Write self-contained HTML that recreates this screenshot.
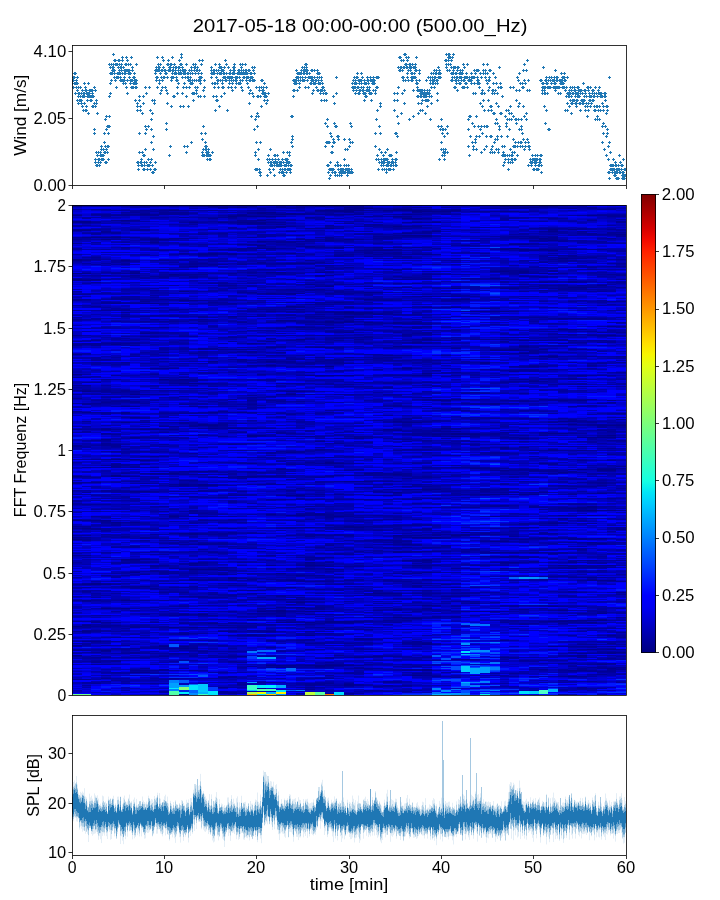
<!DOCTYPE html><html><head><meta charset="utf-8"><style>html,body{margin:0;padding:0;background:#fff;}svg{display:block;}text{font-family:"Liberation Sans",sans-serif;fill:#000;}</style></head><body>
<svg style="will-change:transform" width="720" height="900" viewBox="0 0 720 900">
<rect width="720" height="900" fill="#fff"/>
<text x="192.68" y="31.80" font-size="19.08" textLength="334.74" lengthAdjust="spacingAndGlyphs">2017-05-18 00:00-00:00 (500.00_Hz)</text>
<g shape-rendering="crispEdges">
<rect x="72" y="205" width="10" height="490" fill="#0000b5"/>
<path d="M77.0 205v490" stroke="#00008a" stroke-width="10" stroke-dasharray="2 14 2 7 1 28 2 12 1 5 2 73 1 19 1 2 1 98 1 43 1 18 1 86 1 18 1 9 1 490"/>
<path d="M77.0 205v490" stroke="#000095" stroke-width="10" stroke-dasharray="0 10 1 13 1 7 1 1 1 3 1 50 1 4 2 9 1 8 1 15 1 5 1 2 2 39 1 4 1 3 1 3 1 12 1 17 1 15 2 35 2 42 1 1 1 6 1 1 1 17 1 28 1 15 1 20 1 9 1 14 1 3 1 28 1 490"/>
<path d="M77.0 205v490" stroke="#00009f" stroke-width="10" stroke-dasharray="0 4 1 15 2 11 1 9 2 4 1 6 1 16 1 12 1 13 1 9 1 1 1 2 1 22 1 43 1 15 1 8 1 19 1 26 1 2 1 14 1 12 1 3 1 5 2 1 2 14 1 11 1 6 1 14 1 8 1 14 1 9 1 8 1 30 1 13 1 1 1 5 1 3 1 2 1 490"/>
<path d="M77.0 205v490" stroke="#0000aa" stroke-width="10" stroke-dasharray="0 9 1 16 1 8 1 21 1 12 1 13 1 3 1 3 1 27 1 27 1 3 2 12 2 2 1 6 1 5 1 2 1 14 2 18 1 20 2 26 1 4 1 10 1 5 1 10 1 3 1 14 1 12 1 22 1 7 1 13 1 2 1 2 1 14 2 4 1 3 1 11 1 8 1 14 1 5 1 2 2 1 1 25 1 490"/>
<path d="M77.0 205v490" stroke="#0000bf" stroke-width="10" stroke-dasharray="0 2 1 63 1 2 1 26 1 5 1 13 1 9 4 2 1 2 1 28 1 3 1 2 1 19 1 24 3 15 1 4 1 9 2 1 1 6 1 3 1 2 1 20 1 9 1 33 1 6 1 13 1 10 1 9 1 13 1 1 1 15 1 13 1 48 1 4 1 13 1 490"/>
<path d="M77.0 205v490" stroke="#0000ca" stroke-width="10" stroke-dasharray="0 5 2 4 1 3 1 21 1 2 1 1 1 2 1 4 1 1 2 5 1 17 1 1 1 13 1 7 1 53 1 7 1 15 1 8 1 1 1 35 1 3 1 29 1 6 1 5 1 14 1 40 1 10 1 4 1 3 1 3 1 6 1 7 1 30 1 15 1 67 1 490"/>
<path d="M77.0 205v490" stroke="#0000d4" stroke-width="10" stroke-dasharray="0 3 1 23 2 10 1 11 1 45 1 21 1 75 2 7 1 15 1 4 1 5 1 4 1 14 1 4 1 22 1 21 2 9 1 12 1 16 2 32 1 11 1 11 1 23 2 5 1 7 1 3 1 21 1 5 1 7 1 1 1 490"/>
<path d="M77.0 205v490" stroke="#0000df" stroke-width="10" stroke-dasharray="0 7 2 4 1 5 1 11 1 28 1 4 1 12 1 2 1 51 1 9 1 7 1 8 2 35 1 11 1 27 1 71 1 71 1 24 1 82 1 490"/>
<path d="M77.0 205v490" stroke="#0000ea" stroke-width="10" stroke-dasharray="0 22 2 5 1 16 1 17 1 2 1 8 1 30 1 10 1 3 1 1 1 22 1 51 1 19 1 9 1 31 1 3 1 10 1 5 1 10 1 22 1 37 1 16 1 12 1 19 1 62 1 12 1 3 1 490"/>
<path d="M77.0 205v490" stroke="#0000f4" stroke-width="10" stroke-dasharray="0 41 1 6 1 31 1 17 1 12 1 13 1 79 1 9 1 89 1 2 1 9 1 18 1 24 1 2 1 1 1 81 1 4 1 7 1 19 1 490"/>
<path d="M77.0 205v490" stroke="#0000ff" stroke-width="10" stroke-dasharray="0 14 1 32 1 14 1 9 1 9 2 1 1 13 1 4 1 1 1 1 1 8 1 19 1 6 1 11 1 2 1 14 2 11 1 15 1 7 4 7 1 5 1 17 1 6 1 1 1 8 1 4 1 14 1 9 1 9 1 5 1 2 1 3 1 10 1 7 1 7 1 19 1 4 1 4 2 1 1 12 1 2 1 3 2 18 2 10 1 4 1 2 1 4 1 3 1 17 1 490"/>
<path d="M77.0 205v490" stroke="#0000ff" stroke-width="10" stroke-dasharray="0 30 1 30 1 1 1 26 1 12 1 17 1 12 1 19 1 7 1 10 1 26 1 46 2 19 1 5 1 5 2 8 1 48 1 1 1 4 1 62 1 3 2 15 1 27 1 1 2 8 1 4 2 11 1 490"/>
<path d="M77.0 205v490" stroke="#0019ff" stroke-width="10" stroke-dasharray="0 145 2 85 2 11 1 490"/>
<rect x="82" y="205" width="9" height="490" fill="#0000ff"/>
<path d="M86.5 205v490" stroke="#00008a" stroke-width="9" stroke-dasharray="0 16 2 7 1 6 1 35 1 6 1 110 1 20 1 107 1 7 1 55 1 15 1 24 1 5 1 9 1 490"/>
<path d="M86.5 205v490" stroke="#000095" stroke-width="9" stroke-dasharray="0 24 1 29 2 18 1 14 1 4 1 43 2 32 1 4 1 2 1 4 1 12 2 16 1 45 1 8 1 5 1 9 1 11 1 21 1 8 1 1 1 1 2 14 1 27 1 3 1 3 1 9 1 19 1 2 1 1 2 2 1 1 1 17 1 28 1 490"/>
<path d="M86.5 205v490" stroke="#00009f" stroke-width="9" stroke-dasharray="0 1 1 10 2 4 1 1 1 7 1 4 2 17 1 5 1 11 1 7 1 16 1 4 1 13 1 11 1 3 1 4 1 12 2 19 1 14 1 36 1 2 1 1 2 7 1 5 2 11 1 17 1 12 1 3 1 32 1 1 1 8 1 18 1 32 1 1 1 50 3 6 1 4 2 2 1 20 2 1 1 490"/>
<path d="M86.5 205v490" stroke="#0000aa" stroke-width="9" stroke-dasharray="1 26 1 16 1 22 1 5 1 14 1 2 1 9 2 2 1 9 1 7 1 12 1 3 1 11 2 3 1 23 3 4 2 12 1 5 1 9 1 4 1 12 1 1 3 10 1 14 2 5 1 7 1 4 1 8 1 4 1 5 1 7 1 11 1 20 1 6 1 4 1 20 1 54 1 8 1 6 1 30 1 490"/>
<path d="M86.5 205v490" stroke="#0000b5" stroke-width="9" stroke-dasharray="0 4 1 30 2 1 1 10 1 3 1 2 1 2 1 6 1 4 1 5 1 18 1 13 2 20 1 25 1 5 1 2 1 3 1 22 1 11 1 10 1 4 1 27 1 9 1 55 1 8 1 29 4 3 2 27 1 12 1 5 2 11 1 4 1 12 1 12 2 3 1 490"/>
<path d="M86.5 205v490" stroke="#0000bf" stroke-width="9" stroke-dasharray="0 19 1 1 1 75 1 14 1 18 1 10 1 12 1 7 1 2 1 1 1 7 1 15 2 2 1 28 1 18 1 11 2 20 1 17 1 1 1 30 1 12 1 5 1 2 1 9 1 9 2 15 1 44 1 14 1 8 1 13 1 9 1 490"/>
<path d="M86.5 205v490" stroke="#0000ca" stroke-width="9" stroke-dasharray="0 9 2 15 1 4 1 19 1 5 1 2 1 11 1 6 1 27 1 1 1 9 1 21 1 17 1 27 1 7 1 1 1 3 1 44 1 2 1 2 1 6 1 10 1 20 1 2 1 7 1 17 1 6 1 8 1 4 1 1 1 1 1 29 1 16 1 4 1 3 2 9 1 18 1 11 1 19 1 2 1 12 1 4 1 490"/>
<path d="M86.5 205v490" stroke="#0000d4" stroke-width="9" stroke-dasharray="0 15 1 26 1 33 1 22 1 13 1 6 1 29 1 14 1 43 1 4 1 22 1 73 1 19 1 17 1 10 1 15 1 6 1 5 1 4 1 3 1 6 1 2 1 6 1 16 1 4 1 12 1 21 1 13 2 490"/>
<path d="M86.5 205v490" stroke="#0000df" stroke-width="9" stroke-dasharray="0 2 1 2 1 2 1 14 1 5 1 11 1 27 1 20 1 17 1 7 1 37 1 6 1 38 1 14 1 3 1 14 1 10 1 7 1 9 1 19 1 9 1 7 1 1 2 33 1 1 1 12 1 14 1 1 1 2 1 3 1 25 1 2 2 16 1 40 1 17 1 1 1 490"/>
<path d="M86.5 205v490" stroke="#0000ea" stroke-width="9" stroke-dasharray="0 3 1 2 1 4 1 27 1 3 1 18 1 21 1 13 1 52 1 18 1 8 1 11 1 19 1 8 1 8 2 12 1 17 1 7 1 20 1 6 1 14 2 5 1 79 1 17 1 28 1 15 1 4 1 5 1 490"/>
<path d="M86.5 205v490" stroke="#0000f4" stroke-width="9" stroke-dasharray="0 7 1 6 1 15 1 6 1 2 1 45 1 5 1 67 1 97 1 16 2 5 1 98 1 79 1 6 1 490"/>
<path d="M86.5 205v490" stroke="#0000ff" stroke-width="9" stroke-dasharray="0 22 1 25 1 12 1 18 2 1 1 9 1 23 2 9 1 5 1 40 1 28 1 28 1 14 1 19 1 10 1 29 1 8 1 18 1 6 1 22 1 1 1 14 1 5 1 18 1 3 1 4 1 15 1 14 1 14 1 4 2 4 2 11 2 490"/>
<path d="M86.5 205v490" stroke="#0019ff" stroke-width="9" stroke-dasharray="0 64 1 80 2 85 1 106 1 102 1 490"/>
<rect x="91" y="205" width="10" height="490" fill="#0000b5"/>
<path d="M96.0 205v490" stroke="#00008a" stroke-width="10" stroke-dasharray="0 32 1 41 1 202 1 37 1 62 2 56 1 490"/>
<path d="M96.0 205v490" stroke="#000095" stroke-width="10" stroke-dasharray="2 7 1 7 1 6 1 3 1 23 1 1 1 20 1 1 1 23 1 33 1 2 3 36 1 8 1 11 1 8 1 27 1 18 1 17 1 26 1 11 1 11 2 70 1 20 2 3 1 3 2 20 1 4 1 3 2 1 1 18 1 490"/>
<path d="M96.0 205v490" stroke="#00009f" stroke-width="10" stroke-dasharray="0 4 1 5 1 1 1 3 1 12 1 4 1 2 1 15 1 5 1 10 1 17 1 16 1 7 2 37 4 1 3 11 1 13 1 3 1 5 1 3 1 24 1 15 1 21 1 27 1 4 1 8 1 1 1 9 1 3 1 55 1 8 1 2 1 3 1 17 1 8 2 16 1 6 2 7 1 1 1 21 1 490"/>
<path d="M96.0 205v490" stroke="#0000aa" stroke-width="10" stroke-dasharray="0 18 1 6 1 1 1 3 1 7 1 4 1 6 1 3 1 12 1 2 1 26 1 3 1 6 1 13 1 7 1 2 1 30 1 6 1 15 1 5 1 5 1 7 1 14 1 15 1 36 1 4 2 3 1 2 1 3 1 25 1 1 1 10 4 46 1 6 2 3 1 1 1 6 1 8 1 9 1 4 1 7 1 2 1 11 1 15 1 7 1 490"/>
<path d="M96.0 205v490" stroke="#0000bf" stroke-width="10" stroke-dasharray="0 5 1 27 1 16 1 6 2 10 1 2 2 12 1 9 1 2 1 15 1 25 1 7 1 10 1 3 1 2 1 14 1 4 1 17 1 3 1 24 1 6 1 8 2 1 1 2 1 8 1 1 1 10 1 12 1 6 1 31 1 19 1 12 2 12 1 9 1 16 1 6 1 11 1 9 1 7 1 1 1 7 1 20 1 14 1 490"/>
<path d="M96.0 205v490" stroke="#0000ca" stroke-width="10" stroke-dasharray="0 35 1 6 1 17 1 5 2 38 1 3 2 7 1 12 1 47 2 35 1 2 2 16 1 5 1 1 1 5 1 6 1 41 1 11 1 8 1 2 1 3 1 21 1 3 1 6 1 7 1 30 1 61 1 490"/>
<path d="M96.0 205v490" stroke="#0000d4" stroke-width="10" stroke-dasharray="0 19 1 23 1 3 1 36 1 22 2 27 1 32 1 21 2 23 1 1 2 2 1 3 1 60 1 6 1 36 1 8 1 1 1 13 2 1 1 5 1 9 1 5 1 57 1 18 1 3 1 1 1 15 1 490"/>
<path d="M96.0 205v490" stroke="#0000df" stroke-width="10" stroke-dasharray="0 11 1 1 1 42 1 22 2 6 1 24 1 3 1 33 1 96 1 54 1 2 1 22 1 43 1 32 1 12 1 9 1 36 1 2 1 10 1 490"/>
<path d="M96.0 205v490" stroke="#0000ea" stroke-width="10" stroke-dasharray="0 2 1 3 1 7 2 10 1 3 1 5 1 88 1 7 1 9 1 7 1 4 1 22 1 22 1 8 1 16 2 50 1 11 1 4 1 12 1 25 1 9 1 36 1 18 1 3 2 23 1 2 1 34 1 490"/>
<path d="M96.0 205v490" stroke="#0000f4" stroke-width="10" stroke-dasharray="0 3 1 3 1 37 1 3 1 41 1 69 1 28 1 70 1 1 1 43 2 9 1 52 1 99 1 16 2 490"/>
<path d="M96.0 205v490" stroke="#0000ff" stroke-width="10" stroke-dasharray="0 22 1 17 1 21 2 1 1 10 1 4 1 10 1 10 2 15 2 5 1 9 1 10 1 14 1 4 1 1 1 2 1 1 1 2 1 14 1 9 2 1 1 3 1 1 1 2 1 14 2 1 1 3 1 7 1 2 2 5 1 8 1 5 1 3 2 8 1 11 1 40 3 1 1 1 1 1 1 2 2 3 1 4 1 2 1 5 1 1 1 14 1 8 1 5 2 12 1 16 1 11 1 6 1 36 1 490"/>
<path d="M96.0 205v490" stroke="#0000ff" stroke-width="10" stroke-dasharray="0 41 1 4 1 1 1 15 1 17 2 6 1 2 1 23 2 5 1 3 2 14 4 120 2 9 1 29 1 17 1 16 1 15 1 47 2 4 1 14 1 30 2 13 1 5 3 1 1 490"/>
<path d="M96.0 205v490" stroke="#0019ff" stroke-width="10" stroke-dasharray="0 61 1 100 1 69 1 55 1 77 1 6 2 109 1 490"/>
<rect x="101" y="205" width="10" height="490" fill="#0000aa"/>
<path d="M106.0 205v490" stroke="#00008a" stroke-width="10" stroke-dasharray="0 32 1 1 1 189 1 9 1 80 1 63 1 23 1 41 1 490"/>
<path d="M106.0 205v490" stroke="#000095" stroke-width="10" stroke-dasharray="2 7 2 15 2 42 1 26 2 6 1 32 1 15 1 19 1 10 2 10 1 9 2 14 1 4 1 6 1 2 3 13 1 5 1 1 1 22 2 12 1 16 2 7 1 44 1 7 1 38 1 2 2 14 1 3 1 5 1 5 1 6 1 13 1 490"/>
<path d="M106.0 205v490" stroke="#00009f" stroke-width="10" stroke-dasharray="0 4 1 6 1 12 1 19 1 9 1 3 1 8 1 6 1 13 1 5 1 7 1 19 1 16 1 15 1 2 1 21 1 3 1 2 1 1 1 2 1 1 1 1 1 1 1 10 1 10 1 4 1 3 1 6 1 9 1 24 1 21 1 1 1 15 2 5 1 1 1 2 2 1 1 2 1 1 1 15 1 4 1 37 1 4 2 13 1 11 1 2 2 5 1 11 1 10 2 10 1 2 1 5 1 490"/>
<path d="M106.0 205v490" stroke="#0000b5" stroke-width="10" stroke-dasharray="0 8 1 8 1 13 1 1 1 15 1 3 1 5 1 6 1 4 1 5 1 11 1 3 1 7 1 7 2 5 1 4 1 6 1 1 1 3 1 5 1 18 2 5 1 8 1 5 2 54 1 13 1 4 1 10 2 7 2 5 1 16 1 3 1 8 1 21 1 27 2 3 1 2 1 16 1 5 1 2 1 6 1 42 1 18 1 490"/>
<path d="M106.0 205v490" stroke="#0000bf" stroke-width="10" stroke-dasharray="0 13 1 21 1 16 1 3 2 20 1 4 3 14 1 2 1 29 1 15 1 2 1 19 1 28 1 9 1 5 1 26 1 10 1 3 1 9 1 12 1 4 1 8 1 1 1 22 1 12 1 3 3 13 1 2 1 31 1 2 1 19 1 2 1 19 1 17 1 4 1 6 1 21 1 490"/>
<path d="M106.0 205v490" stroke="#0000ca" stroke-width="10" stroke-dasharray="0 15 1 6 1 6 1 6 1 2 1 2 1 30 1 33 1 9 1 1 1 11 1 13 1 7 1 23 1 1 1 8 1 4 1 22 1 14 1 1 1 24 1 22 1 10 1 8 2 30 1 46 2 16 1 12 1 4 1 11 1 2 1 11 1 5 1 21 1 2 1 9 1 490"/>
<path d="M106.0 205v490" stroke="#0000d4" stroke-width="10" stroke-dasharray="0 43 1 7 1 3 1 9 1 40 1 1 1 6 1 97 1 7 1 8 1 16 1 79 1 17 1 19 1 17 1 3 1 3 1 9 1 5 2 14 1 26 1 12 1 21 1 490"/>
<path d="M106.0 205v490" stroke="#0000df" stroke-width="10" stroke-dasharray="0 6 2 12 1 43 1 17 1 9 1 6 1 11 1 2 1 10 1 1 1 7 2 5 1 5 1 20 1 8 1 43 1 3 1 30 1 52 1 3 1 21 1 9 1 2 3 7 1 1 1 7 1 5 1 29 1 18 1 2 1 5 1 5 1 1 1 46 1 490"/>
<path d="M106.0 205v490" stroke="#0000ea" stroke-width="10" stroke-dasharray="0 2 2 26 1 19 1 11 2 5 1 10 1 45 1 23 1 14 1 1 1 22 1 14 1 13 1 44 1 72 1 61 1 6 1 47 1 14 1 490"/>
<path d="M106.0 205v490" stroke="#0000f4" stroke-width="10" stroke-dasharray="0 37 1 2 1 34 1 19 1 47 2 16 1 9 1 1 1 87 1 10 1 11 1 56 2 10 1 2 1 15 1 4 1 22 1 74 1 490"/>
<path d="M106.0 205v490" stroke="#0000ff" stroke-width="10" stroke-dasharray="0 14 1 4 1 18 1 2 1 3 1 2 1 12 1 17 1 1 1 8 2 20 1 11 1 4 1 11 1 14 1 6 2 3 1 1 1 33 1 1 1 5 1 1 2 2 1 8 1 4 1 12 1 3 1 2 2 19 2 3 1 1 1 13 1 2 1 7 1 1 1 14 1 5 1 14 1 11 1 2 1 1 1 1 1 4 1 16 1 8 1 19 1 15 1 4 1 27 1 17 1 2 1 490"/>
<path d="M106.0 205v490" stroke="#0000ff" stroke-width="10" stroke-dasharray="0 46 1 25 1 13 1 31 1 1 1 25 2 14 1 39 2 6 1 52 1 11 1 32 2 34 1 29 1 34 1 4 1 15 1 11 1 17 2 17 1 9 1 490"/>
<path d="M106.0 205v490" stroke="#0019ff" stroke-width="10" stroke-dasharray="0 76 1 171 1 30 1 8 1 77 1 6 1 107 2 3 1 490"/>
<rect x="111" y="205" width="10" height="490" fill="#0000aa"/>
<path d="M116.0 205v490" stroke="#00008a" stroke-width="10" stroke-dasharray="0 32 1 65 1 40 1 114 1 15 2 45 1 490"/>
<path d="M116.0 205v490" stroke="#000095" stroke-width="10" stroke-dasharray="0 10 1 4 1 11 2 5 1 33 1 24 2 2 1 7 1 10 1 21 1 31 1 16 1 8 1 27 1 4 1 9 3 4 1 12 4 22 2 31 3 58 1 23 1 13 1 2 1 11 1 3 1 18 2 10 1 490"/>
<path d="M116.0 205v490" stroke="#00009f" stroke-width="10" stroke-dasharray="1 4 1 3 1 21 1 23 3 1 1 7 1 24 1 10 2 28 2 2 1 14 1 6 1 14 1 10 2 5 1 2 1 1 2 2 1 6 1 8 1 24 1 7 1 7 1 18 1 9 1 5 1 1 1 8 1 25 1 1 1 9 1 4 1 9 2 9 1 2 2 3 1 1 1 9 1 6 1 10 1 14 1 4 1 13 1 2 2 3 1 10 1 8 1 4 1 1 1 490"/>
<path d="M116.0 205v490" stroke="#0000b5" stroke-width="10" stroke-dasharray="0 16 1 1 1 4 1 12 1 2 1 7 1 10 1 12 1 24 1 5 1 7 2 9 1 10 1 2 1 4 1 9 2 1 1 29 1 27 1 4 1 6 1 1 1 4 2 11 1 9 1 2 1 12 1 14 1 7 1 7 2 4 1 31 1 27 2 23 3 8 1 1 1 5 1 8 1 3 3 2 1 16 1 18 1 5 1 7 1 490"/>
<path d="M116.0 205v490" stroke="#0000bf" stroke-width="10" stroke-dasharray="0 13 1 12 1 16 2 4 1 4 1 22 1 7 1 5 1 9 1 5 1 1 1 18 1 16 1 15 1 19 1 18 1 66 1 5 1 9 1 6 1 5 1 14 1 15 1 5 1 18 1 6 1 3 2 10 1 7 1 5 2 5 2 9 1 45 1 3 2 17 1 12 1 490"/>
<path d="M116.0 205v490" stroke="#0000ca" stroke-width="10" stroke-dasharray="0 4 1 2 1 3 1 10 1 1 1 4 1 20 1 18 1 14 1 2 1 87 1 18 1 24 1 2 1 12 1 1 1 6 1 19 1 17 1 15 1 3 1 13 1 4 1 13 1 4 1 21 1 24 1 30 1 8 1 3 1 14 1 2 2 11 2 5 1 2 1 10 1 490"/>
<path d="M116.0 205v490" stroke="#0000d4" stroke-width="10" stroke-dasharray="0 21 1 30 1 7 1 5 1 16 1 16 1 13 1 29 1 3 1 16 1 3 1 6 1 2 2 37 1 36 1 9 1 43 1 16 1 21 1 7 1 48 1 2 1 2 1 3 1 13 1 7 1 3 1 5 1 29 1 10 1 490"/>
<path d="M116.0 205v490" stroke="#0000df" stroke-width="10" stroke-dasharray="0 2 2 4 1 32 1 11 1 7 1 3 1 12 1 1 1 36 1 7 1 10 1 12 1 12 1 8 2 39 2 18 1 61 1 2 1 12 1 11 1 22 1 7 1 1 1 13 1 42 1 3 1 48 1 19 1 490"/>
<path d="M116.0 205v490" stroke="#0000ea" stroke-width="10" stroke-dasharray="0 14 1 5 1 4 1 104 1 11 1 39 1 7 1 18 1 39 1 13 1 2 1 107 1 5 1 20 1 69 1 15 1 490"/>
<path d="M116.0 205v490" stroke="#0000f4" stroke-width="10" stroke-dasharray="0 6 1 12 1 10 1 7 1 1 1 54 1 28 1 6 1 11 1 29 1 47 1 5 1 17 1 32 1 70 1 15 1 34 1 29 1 20 1 2 1 27 1 1 1 490"/>
<path d="M116.0 205v490" stroke="#0000ff" stroke-width="10" stroke-dasharray="0 35 1 9 1 5 1 10 1 9 1 2 1 3 1 1 2 3 1 12 1 6 1 1 1 3 1 13 2 28 1 6 2 2 1 9 2 14 1 9 2 47 1 4 1 14 1 1 1 6 1 6 1 18 1 4 1 1 1 13 1 5 1 1 2 5 1 2 1 13 2 15 1 7 1 12 2 9 1 3 2 20 1 2 2 490"/>
<path d="M116.0 205v490" stroke="#0000ff" stroke-width="10" stroke-dasharray="0 46 1 1 1 15 1 11 1 13 1 28 1 21 1 26 1 33 1 7 1 4 1 32 1 26 1 3 2 24 1 2 1 35 1 5 1 22 1 10 1 48 2 7 1 17 2 4 1 13 1 5 1 490"/>
<path d="M116.0 205v490" stroke="#0019ff" stroke-width="10" stroke-dasharray="0 63 1 54 1 1 1 8 1 16 2 57 2 7 1 136 1 127 1 1 1 490"/>
<rect x="121" y="205" width="9" height="490" fill="#00009f"/>
<path d="M125.5 205v490" stroke="#00008a" stroke-width="9" stroke-dasharray="0 15 1 39 1 145 1 5 2 8 1 53 1 82 1 40 1 7 1 490"/>
<path d="M125.5 205v490" stroke="#000095" stroke-width="9" stroke-dasharray="1 8 2 21 1 9 1 13 1 2 1 8 1 24 2 3 1 5 2 1 1 3 1 26 1 18 1 27 2 8 2 57 1 4 2 7 1 17 1 30 1 13 2 22 1 1 1 12 1 10 1 58 1 3 1 3 1 490"/>
<path d="M125.5 205v490" stroke="#0000aa" stroke-width="9" stroke-dasharray="0 8 1 27 1 7 1 9 1 2 1 8 1 3 1 14 1 17 1 19 1 4 1 6 1 1 1 13 1 18 1 5 1 7 1 3 2 10 1 8 1 13 2 7 1 8 1 1 1 4 1 12 1 8 1 22 1 9 2 1 1 11 1 1 1 2 3 4 1 55 1 17 2 14 1 5 1 5 1 3 1 9 1 8 1 3 1 14 2 1 1 7 1 490"/>
<path d="M125.5 205v490" stroke="#0000b5" stroke-width="9" stroke-dasharray="0 4 1 7 1 4 1 4 4 2 1 18 1 17 1 1 1 5 2 3 1 4 1 2 1 2 1 10 2 10 2 1 1 1 1 4 1 11 1 40 1 22 1 12 1 4 1 12 1 8 1 6 1 4 1 5 1 7 1 10 1 7 1 12 1 3 3 8 1 3 1 3 1 17 1 28 1 9 1 2 1 12 2 2 2 24 1 5 2 5 1 2 2 13 1 10 1 5 1 11 2 490"/>
<path d="M125.5 205v490" stroke="#0000bf" stroke-width="9" stroke-dasharray="0 2 1 8 1 15 1 3 1 17 1 10 1 1 1 9 1 4 1 9 1 54 1 17 1 10 1 2 1 19 1 4 1 13 1 13 2 2 1 19 1 42 1 38 1 35 1 1 1 2 1 8 1 4 1 2 1 7 1 17 1 6 1 26 1 490"/>
<path d="M125.5 205v490" stroke="#0000ca" stroke-width="9" stroke-dasharray="0 26 1 8 1 59 1 6 1 5 1 5 1 6 1 8 1 1 1 22 1 12 2 20 1 1 1 25 1 17 1 12 1 5 1 9 2 11 1 5 1 4 2 6 2 10 1 12 1 3 1 19 1 28 1 4 1 21 1 16 1 17 1 11 1 22 1 11 1 2 1 490"/>
<path d="M125.5 205v490" stroke="#0000d4" stroke-width="9" stroke-dasharray="0 6 1 6 1 5 1 13 1 46 1 25 1 29 1 43 2 1 1 35 1 14 1 2 1 4 1 9 2 15 1 7 1 32 1 1 2 14 1 6 1 3 1 12 2 8 1 26 1 19 3 4 1 13 1 27 1 10 1 490"/>
<path d="M125.5 205v490" stroke="#0000df" stroke-width="9" stroke-dasharray="0 3 1 10 1 5 1 8 1 20 1 18 1 55 1 17 1 6 1 3 1 27 1 43 1 13 1 47 1 18 1 8 1 10 1 10 1 1 1 2 1 17 1 15 1 28 1 1 1 18 1 22 1 15 1 490"/>
<path d="M125.5 205v490" stroke="#0000ea" stroke-width="9" stroke-dasharray="0 21 1 60 1 43 1 25 1 19 1 30 1 17 1 36 1 13 1 1 1 6 1 90 1 25 1 2 1 16 1 22 1 14 1 29 1 2 1 490"/>
<path d="M125.5 205v490" stroke="#0000f4" stroke-width="9" stroke-dasharray="0 38 1 1 1 83 1 23 1 14 1 13 1 28 1 15 1 2 1 9 1 44 1 24 1 30 1 10 1 17 1 88 1 8 1 1 1 490"/>
<path d="M125.5 205v490" stroke="#0000ff" stroke-width="9" stroke-dasharray="0 30 1 10 1 3 1 5 1 9 1 13 1 3 1 1 1 8 1 5 1 2 1 27 1 16 4 1 1 3 1 2 1 4 2 1 1 1 2 11 1 22 1 1 1 15 1 9 1 26 1 5 1 9 1 34 1 12 1 26 2 9 2 3 1 19 1 2 1 2 1 16 1 6 2 15 1 1 2 27 1 490"/>
<path d="M125.5 205v490" stroke="#0000ff" stroke-width="9" stroke-dasharray="0 46 1 1 1 3 2 10 1 11 1 42 2 52 1 4 1 31 1 3 2 63 1 34 1 19 1 9 2 4 2 11 1 9 1 11 1 14 1 11 2 43 1 2 2 17 1 8 1 490"/>
<path d="M125.5 205v490" stroke="#0019ff" stroke-width="9" stroke-dasharray="0 63 1 54 1 10 1 11 1 23 1 27 1 11 1 236 1 28 1 8 2 490"/>
<rect x="130" y="205" width="10" height="490" fill="#0000aa"/>
<path d="M135.0 205v490" stroke="#00008a" stroke-width="10" stroke-dasharray="1 67 1 120 1 22 1 19 1 21 1 31 1 30 1 36 1 12 1 99 1 490"/>
<path d="M135.0 205v490" stroke="#000095" stroke-width="10" stroke-dasharray="0 7 1 1 1 5 1 9 1 6 1 33 2 2 1 23 1 3 1 39 1 1 1 45 1 9 2 3 1 22 1 8 1 12 1 12 1 2 1 8 1 4 1 10 1 53 2 12 3 23 2 12 1 25 2 20 1 3 2 16 1 490"/>
<path d="M135.0 205v490" stroke="#00009f" stroke-width="10" stroke-dasharray="0 1 1 3 2 3 1 5 1 7 1 30 2 14 2 18 3 3 1 13 1 22 1 2 1 11 1 1 1 35 2 19 1 4 1 3 1 29 1 13 1 16 1 16 1 9 1 12 2 27 1 18 1 2 1 13 1 19 1 1 1 14 1 8 1 2 1 19 1 11 1 1 1 490"/>
<path d="M135.0 205v490" stroke="#0000b5" stroke-width="10" stroke-dasharray="0 23 1 9 1 3 1 4 1 14 1 15 1 13 1 15 1 18 1 10 1 42 1 8 1 8 2 13 1 11 1 9 1 13 1 4 1 1 1 11 1 1 1 3 1 4 1 9 1 30 1 7 1 2 1 2 1 5 1 11 2 1 1 1 1 4 1 9 1 7 1 19 1 9 1 1 2 26 1 13 1 4 1 7 1 4 1 5 1 1 1 6 1 490"/>
<path d="M135.0 205v490" stroke="#0000bf" stroke-width="10" stroke-dasharray="0 19 1 1 2 11 1 1 1 32 1 4 1 5 1 5 1 19 1 5 1 2 1 5 1 1 1 6 1 17 1 6 1 1 1 5 1 7 1 28 1 2 1 7 1 4 1 3 1 17 2 37 1 3 1 9 1 9 2 1 1 24 1 62 1 4 1 4 1 22 2 11 1 7 1 6 1 490"/>
<path d="M135.0 205v490" stroke="#0000ca" stroke-width="10" stroke-dasharray="0 14 1 3 1 9 1 10 1 3 1 3 1 6 1 23 2 2 1 6 1 14 1 23 1 3 1 10 1 9 2 14 1 2 1 1 1 5 1 9 1 16 1 19 1 16 1 28 1 14 1 9 1 4 1 9 1 1 1 36 1 7 2 12 1 2 1 2 1 5 2 1 1 4 1 56 1 7 1 27 1 490"/>
<path d="M135.0 205v490" stroke="#0000d4" stroke-width="10" stroke-dasharray="0 17 1 13 1 6 1 12 1 13 1 29 2 28 2 9 1 21 1 25 1 14 1 48 1 34 1 38 1 14 1 12 1 14 1 9 1 15 1 1 1 5 1 1 1 8 1 6 1 9 1 7 1 1 1 48 1 2 1 490"/>
<path d="M135.0 205v490" stroke="#0000df" stroke-width="10" stroke-dasharray="0 3 1 7 2 31 1 36 1 27 1 4 1 29 1 36 1 37 1 2 1 2 2 2 1 7 1 31 1 2 1 11 1 5 1 6 1 9 1 2 1 17 1 59 1 27 1 6 1 17 2 19 1 10 1 3 1 6 1 490"/>
<path d="M135.0 205v490" stroke="#0000ea" stroke-width="10" stroke-dasharray="0 4 1 8 1 6 1 5 1 2 1 15 1 99 1 10 1 11 1 6 1 42 1 16 1 20 1 17 1 5 1 8 1 53 1 2 1 32 1 4 1 55 1 8 1 490"/>
<path d="M135.0 205v490" stroke="#0000f4" stroke-width="10" stroke-dasharray="0 27 1 34 1 64 1 19 1 12 1 73 1 90 1 78 1 2 1 3 1 21 1 490"/>
<path d="M135.0 205v490" stroke="#0000ff" stroke-width="10" stroke-dasharray="0 30 1 10 1 6 1 9 1 17 1 25 1 5 1 4 1 6 1 25 1 5 1 6 1 1 1 15 1 1 1 2 2 18 1 3 1 7 2 14 1 5 1 3 1 8 1 3 1 3 2 4 1 1 1 13 1 12 1 7 1 7 2 2 1 8 1 4 1 7 1 27 3 6 2 12 1 4 1 7 1 1 1 11 1 1 2 8 1 5 2 25 2 23 1 490"/>
<path d="M135.0 205v490" stroke="#0000ff" stroke-width="10" stroke-dasharray="0 46 1 5 2 6 2 13 1 14 1 8 3 17 1 4 1 4 1 11 2 19 1 1 1 1 2 5 1 4 1 25 1 5 1 103 1 23 1 5 1 14 1 53 1 4 1 15 1 19 1 1 1 3 2 10 1 6 1 5 1 2 1 490"/>
<path d="M135.0 205v490" stroke="#0019ff" stroke-width="10" stroke-dasharray="0 40 1 22 2 53 1 46 1 27 1 11 1 133 1 5 1 27 1 95 1 1 1 9 1 490"/>
<path d="M135.0 205v490" stroke="#0033ff" stroke-width="10" stroke-dasharray="0 480 1 490"/>
<rect x="140" y="205" width="10" height="490" fill="#0000ff"/>
<path d="M145.0 205v490" stroke="#00008a" stroke-width="10" stroke-dasharray="0 9 1 88 1 29 1 95 1 30 1 30 1 94 1 85 1 490"/>
<path d="M145.0 205v490" stroke="#000095" stroke-width="10" stroke-dasharray="2 3 1 2 1 1 1 13 2 8 1 61 1 14 1 4 1 14 1 57 1 22 1 4 1 14 1 13 1 4 1 7 1 8 1 9 1 53 2 1 1 18 1 2 1 11 1 25 1 56 1 10 1 1 1 490"/>
<path d="M145.0 205v490" stroke="#00009f" stroke-width="10" stroke-dasharray="0 6 2 8 1 16 1 3 1 11 1 22 2 6 1 3 1 9 2 26 2 3 1 19 1 10 1 26 1 12 1 14 1 1 1 7 1 17 1 20 1 24 1 23 1 5 3 4 1 22 1 8 1 9 1 8 1 6 2 25 1 10 3 9 1 9 2 3 2 17 1 11 1 490"/>
<path d="M145.0 205v490" stroke="#0000aa" stroke-width="10" stroke-dasharray="0 2 1 29 1 2 1 7 2 5 1 17 1 1 1 12 1 13 1 7 1 1 1 2 1 6 1 16 1 2 2 9 1 14 1 5 1 11 1 12 1 1 2 18 1 4 1 5 1 3 1 1 1 13 1 6 1 3 1 10 1 1 1 1 2 1 1 3 1 18 1 23 1 12 1 5 1 10 1 14 1 33 1 5 1 10 1 7 2 1 1 15 1 4 1 1 1 10 1 10 1 490"/>
<path d="M145.0 205v490" stroke="#0000b5" stroke-width="10" stroke-dasharray="0 12 1 8 1 6 1 16 1 16 1 3 1 2 1 1 1 13 1 6 1 20 2 11 1 3 1 18 1 1 1 3 1 4 1 9 1 3 1 1 1 3 1 5 2 7 1 4 1 8 1 9 1 15 1 7 1 12 1 15 1 2 1 9 1 9 1 2 1 4 1 1 1 24 1 9 1 19 1 42 1 1 1 11 1 8 1 10 1 3 1 28 1 3 1 1 1 12 1 490"/>
<path d="M145.0 205v490" stroke="#0000bf" stroke-width="10" stroke-dasharray="0 11 1 1 2 7 1 15 2 2 1 12 1 8 1 12 1 13 1 1 1 9 1 11 1 16 2 6 1 4 2 6 1 5 1 6 1 5 1 26 1 8 1 29 1 3 1 9 1 24 1 3 1 15 1 15 1 6 1 8 1 1 1 5 1 11 1 5 1 2 1 4 1 3 1 12 1 5 1 17 1 20 1 13 1 28 1 3 1 13 1 490"/>
<path d="M145.0 205v490" stroke="#0000ca" stroke-width="10" stroke-dasharray="0 18 1 28 1 27 1 6 1 3 1 2 1 22 1 22 2 17 1 2 1 3 1 6 1 2 1 3 1 12 1 1 2 9 1 9 1 16 1 5 1 15 1 15 1 24 1 9 2 9 1 1 1 1 1 10 1 13 1 32 1 1 1 20 1 8 1 3 2 17 1 3 1 2 1 1 1 11 1 22 1 10 1 490"/>
<path d="M145.0 205v490" stroke="#0000d4" stroke-width="10" stroke-dasharray="0 4 1 10 1 3 1 6 1 9 1 11 1 39 1 13 1 3 1 12 1 9 1 9 1 12 1 72 1 13 2 4 1 36 1 6 1 14 1 1 1 80 1 3 2 1 1 1 1 17 1 16 1 3 1 19 1 6 1 14 1 1 1 3 1 490"/>
<path d="M145.0 205v490" stroke="#0000df" stroke-width="10" stroke-dasharray="0 17 1 2 1 2 1 7 1 25 1 20 1 8 1 62 1 31 1 35 1 1 1 16 1 46 1 24 1 12 1 23 1 1 1 12 1 3 1 13 1 4 1 4 1 25 1 24 1 8 1 9 1 490"/>
<path d="M145.0 205v490" stroke="#0000ea" stroke-width="10" stroke-dasharray="0 3 1 23 1 1 1 26 1 8 1 8 1 29 1 51 1 73 1 26 1 2 1 22 1 6 1 3 1 12 1 69 1 20 1 2 1 5 1 16 1 62 1 490"/>
<path d="M145.0 205v490" stroke="#0000f4" stroke-width="10" stroke-dasharray="0 54 1 12 1 11 1 20 1 20 1 56 1 47 1 17 1 16 1 2 1 28 1 2 1 37 1 27 1 8 1 72 2 8 1 6 1 23 1 490"/>
<path d="M145.0 205v490" stroke="#0000ff" stroke-width="10" stroke-dasharray="0 30 1 15 1 13 1 29 1 50 2 21 1 2 1 11 1 3 1 18 1 3 2 28 1 12 1 13 1 3 1 117 1 2 1 1 1 65 3 1 1 10 1 8 3 5 1 490"/>
<path d="M145.0 205v490" stroke="#0019ff" stroke-width="10" stroke-dasharray="0 52 2 54 1 9 1 46 1 27 1 11 1 120 1 18 1 66 1 56 1 490"/>
<rect x="150" y="205" width="9" height="490" fill="#0000aa"/>
<path d="M154.5 205v490" stroke="#00008a" stroke-width="9" stroke-dasharray="0 34 1 2 1 60 1 64 1 60 1 26 1 16 1 490"/>
<path d="M154.5 205v490" stroke="#000095" stroke-width="9" stroke-dasharray="0 1 1 7 2 22 1 1 1 19 1 15 1 13 1 17 1 6 1 3 1 12 2 2 1 37 1 19 1 57 1 14 1 3 1 2 1 16 1 42 1 30 2 4 1 16 1 33 1 4 1 42 1 12 1 490"/>
<path d="M154.5 205v490" stroke="#00009f" stroke-width="9" stroke-dasharray="1 5 1 5 1 23 1 1 1 5 2 37 1 6 1 1 1 1 2 15 1 4 1 5 1 26 1 4 1 3 1 21 1 14 1 27 1 3 1 4 1 13 1 8 1 17 1 4 1 8 1 13 1 4 1 17 1 7 2 12 1 2 1 4 1 1 2 7 1 15 1 2 1 17 1 38 3 2 1 1 1 2 1 7 1 7 2 4 1 1 1 490"/>
<path d="M154.5 205v490" stroke="#0000b5" stroke-width="9" stroke-dasharray="0 8 1 15 2 2 1 27 2 7 3 2 1 9 1 12 1 11 1 11 1 5 1 8 1 2 1 1 1 2 1 4 1 5 1 3 3 12 2 3 2 20 1 6 1 4 1 21 1 20 1 5 1 21 2 2 2 9 1 8 1 2 1 4 1 4 1 7 1 4 1 6 1 29 2 10 1 2 1 4 1 17 1 10 1 2 2 11 1 17 1 21 1 3 1 6 1 2 1 490"/>
<path d="M154.5 205v490" stroke="#0000bf" stroke-width="9" stroke-dasharray="0 7 1 3 1 4 1 15 1 6 1 3 1 18 1 14 1 11 1 1 1 5 1 4 1 16 1 4 1 4 1 4 1 3 1 14 1 5 1 4 1 7 1 13 2 24 1 13 1 3 1 12 2 14 1 17 1 25 1 14 1 3 1 30 1 1 1 13 1 36 1 2 3 28 1 6 1 1 1 5 1 1 1 21 1 9 1 490"/>
<path d="M154.5 205v490" stroke="#0000ca" stroke-width="9" stroke-dasharray="0 2 1 18 1 5 1 14 1 6 1 19 1 36 1 19 1 35 1 19 1 5 1 1 1 8 1 1 1 1 1 9 1 1 1 4 1 4 1 11 1 18 1 4 1 12 1 33 2 6 1 4 1 5 1 7 1 22 1 18 2 24 1 11 1 8 1 8 1 5 1 24 1 6 1 5 1 490"/>
<path d="M154.5 205v490" stroke="#0000d4" stroke-width="9" stroke-dasharray="0 14 1 3 2 27 2 26 1 8 1 15 1 6 1 35 1 17 1 5 1 9 1 22 1 27 1 9 1 11 1 40 1 19 1 2 1 13 1 7 1 57 1 2 2 2 1 21 1 1 1 2 2 7 1 15 1 4 1 22 1 490"/>
<path d="M154.5 205v490" stroke="#0000df" stroke-width="9" stroke-dasharray="0 3 1 22 1 32 1 8 1 13 1 95 1 17 1 22 1 28 1 4 1 6 1 3 2 31 1 50 1 1 1 21 1 16 1 17 1 22 1 39 1 13 1 2 1 490"/>
<path d="M154.5 205v490" stroke="#0000ea" stroke-width="9" stroke-dasharray="0 17 1 2 1 53 1 1 1 22 1 9 1 31 2 23 1 31 1 76 1 58 1 3 1 1 1 18 1 11 1 13 2 67 1 1 1 490"/>
<path d="M154.5 205v490" stroke="#0000f4" stroke-width="9" stroke-dasharray="0 29 1 1 1 8 1 5 1 4 1 73 1 10 1 54 2 14 1 13 1 12 1 32 1 2 1 12 1 6 1 2 1 21 1 23 1 1 1 31 1 19 1 2 1 16 1 17 1 50 1 490"/>
<path d="M154.5 205v490" stroke="#0000ff" stroke-width="9" stroke-dasharray="0 15 1 6 1 31 1 5 1 2 1 14 1 25 1 7 2 6 2 11 1 10 1 7 1 20 1 10 1 17 1 3 1 3 2 2 1 1 1 1 1 10 1 12 1 14 1 5 1 15 1 2 1 5 2 2 1 1 1 5 1 9 1 32 1 7 1 12 1 9 1 13 1 2 1 7 1 12 1 13 1 8 2 7 2 17 1 21 1 490"/>
<path d="M154.5 205v490" stroke="#0000ff" stroke-width="9" stroke-dasharray="0 23 1 6 1 10 1 10 1 5 1 2 1 17 1 1 1 19 1 6 1 9 1 60 1 13 1 11 1 16 1 13 1 12 1 46 1 47 2 6 1 17 1 19 1 1 1 7 1 17 1 15 1 25 3 17 1 7 1 490"/>
<path d="M154.5 205v490" stroke="#0019ff" stroke-width="9" stroke-dasharray="0 53 1 111 1 160 1 490"/>
<path d="M154.5 205v490" stroke="#0033ff" stroke-width="9" stroke-dasharray="0 469 1 490"/>
<rect x="159" y="205" width="10" height="490" fill="#0000ff"/>
<path d="M164.0 205v490" stroke="#00008a" stroke-width="10" stroke-dasharray="1 33 1 128 1 10 1 93 1 172 1 490"/>
<path d="M164.0 205v490" stroke="#000095" stroke-width="10" stroke-dasharray="0 5 1 1 3 35 1 9 1 15 2 21 1 3 1 11 1 5 1 5 1 24 1 41 1 18 1 12 1 2 1 2 1 11 1 11 1 17 1 31 1 4 1 35 1 17 1 5 3 18 1 7 1 26 1 17 1 2 1 7 1 12 2 20 1 490"/>
<path d="M164.0 205v490" stroke="#00009f" stroke-width="10" stroke-dasharray="0 1 1 4 1 5 1 22 1 31 1 1 2 40 1 15 2 2 1 11 2 5 1 5 1 15 1 2 1 9 1 21 1 9 1 14 1 8 1 4 1 19 1 13 1 5 1 4 1 17 1 3 1 10 1 4 1 3 1 1 1 2 1 8 1 1 1 11 1 7 1 8 1 5 1 24 2 10 1 20 1 5 1 1 1 23 1 3 1 8 1 490"/>
<path d="M164.0 205v490" stroke="#0000aa" stroke-width="10" stroke-dasharray="0 4 1 32 2 5 1 9 1 2 1 4 1 1 1 3 1 4 1 6 1 4 1 1 2 6 1 3 1 5 1 8 1 2 1 12 1 11 1 2 1 7 1 7 1 15 2 4 1 2 1 5 1 6 1 1 1 7 1 1 2 7 1 5 1 6 1 13 1 30 1 6 1 34 1 16 1 37 2 9 1 16 1 2 1 1 1 10 1 3 2 19 1 12 1 10 1 4 1 490"/>
<path d="M164.0 205v490" stroke="#0000b5" stroke-width="10" stroke-dasharray="0 13 1 14 1 4 1 5 1 18 1 27 1 2 2 5 1 5 1 3 1 12 1 3 1 11 1 2 2 6 1 2 1 4 1 9 1 11 1 3 1 13 1 15 1 7 1 6 1 14 1 3 2 4 1 22 1 5 1 1 1 2 1 2 1 14 1 8 1 9 1 10 1 13 1 12 1 5 1 6 1 9 2 4 1 12 1 15 1 10 2 19 1 5 2 2 1 7 1 7 2 6 1 5 1 490"/>
<path d="M164.0 205v490" stroke="#0000bf" stroke-width="10" stroke-dasharray="0 11 1 2 1 4 1 20 1 41 2 8 2 3 1 2 1 2 1 3 1 7 1 13 1 7 1 2 1 16 1 2 1 1 1 7 1 16 1 5 1 1 1 10 1 12 1 3 1 10 1 19 1 2 1 13 1 4 1 16 1 4 1 5 1 5 1 3 1 4 1 16 1 11 1 9 1 3 2 17 1 3 1 3 1 12 1 4 1 24 1 14 1 4 2 16 1 490"/>
<path d="M164.0 205v490" stroke="#0000ca" stroke-width="10" stroke-dasharray="0 10 1 45 1 2 1 15 1 56 1 15 1 2 1 19 1 1 1 23 1 2 1 13 2 15 1 3 1 7 1 8 1 6 1 2 1 11 1 17 1 6 1 12 1 4 2 12 1 2 1 4 1 11 1 4 1 58 1 9 1 1 1 2 1 40 1 5 1 7 1 490"/>
<path d="M164.0 205v490" stroke="#0000d4" stroke-width="10" stroke-dasharray="0 2 1 13 1 19 1 9 1 2 1 26 1 27 1 4 1 14 1 30 1 2 2 9 1 18 1 1 1 7 1 43 1 5 1 6 1 2 1 23 2 19 1 1 1 1 1 8 1 10 2 28 1 13 1 19 1 12 1 6 1 8 1 17 2 6 1 19 1 15 1 490"/>
<path d="M164.0 205v490" stroke="#0000df" stroke-width="10" stroke-dasharray="0 3 1 21 2 91 1 2 1 4 1 9 1 93 1 29 2 3 1 29 1 19 1 24 2 8 1 3 1 43 3 34 1 18 1 6 2 490"/>
<path d="M164.0 205v490" stroke="#0000ea" stroke-width="10" stroke-dasharray="0 17 2 1 2 2 1 2 1 38 1 53 1 13 1 44 1 1 1 2 1 11 1 41 1 14 1 13 1 20 1 5 1 57 1 24 1 15 2 65 1 27 1 490"/>
<path d="M164.0 205v490" stroke="#0000f4" stroke-width="10" stroke-dasharray="0 15 1 7 1 8 1 8 1 5 1 30 1 33 1 89 1 2 1 64 1 29 1 24 1 29 1 36 1 3 1 8 1 490"/>
<path d="M164.0 205v490" stroke="#0000ff" stroke-width="10" stroke-dasharray="0 51 1 1 1 6 2 1 1 44 1 16 1 7 1 18 1 12 3 54 1 13 1 27 1 24 2 35 1 86 1 4 1 7 1 6 2 49 1 490"/>
<path d="M164.0 205v490" stroke="#0019ff" stroke-width="10" stroke-dasharray="0 52 1 176 1 33 1 80 2 123 1 490"/>
<path d="M164.0 205v490" stroke="#0033ff" stroke-width="10" stroke-dasharray="0 480 1 490"/>
<rect x="169" y="205" width="10" height="490" fill="#0000ff"/>
<path d="M174.0 205v490" stroke="#00008a" stroke-width="10" stroke-dasharray="0 5 1 63 1 198 1 42 1 110 1 490"/>
<path d="M174.0 205v490" stroke="#000095" stroke-width="10" stroke-dasharray="0 1 1 5 3 23 1 30 1 5 1 39 2 4 1 46 1 11 1 2 1 29 1 12 1 2 1 44 1 9 1 1 1 4 1 23 1 17 1 6 1 2 1 8 1 15 1 4 1 9 1 3 1 27 1 24 1 5 1 1 1 4 1 24 1 12 1 490"/>
<path d="M174.0 205v490" stroke="#00009f" stroke-width="10" stroke-dasharray="0 4 1 29 1 14 1 5 1 1 1 13 1 8 1 13 2 2 1 5 2 9 1 11 2 8 1 36 1 1 2 7 1 6 1 24 1 12 1 1 1 14 1 19 1 12 1 10 1 12 1 7 1 3 1 20 1 28 2 18 2 13 1 6 2 18 2 19 1 6 1 8 1 490"/>
<path d="M174.0 205v490" stroke="#0000aa" stroke-width="10" stroke-dasharray="0 19 1 8 1 6 1 1 2 5 2 13 1 28 1 25 1 2 2 12 1 4 1 1 2 4 1 13 1 1 1 11 1 7 1 2 1 9 2 12 1 2 1 12 1 1 1 8 2 4 2 19 1 4 1 7 1 28 1 5 1 3 1 15 1 12 1 8 1 8 3 21 2 9 1 7 1 40 1 5 1 23 2 1 2 490"/>
<path d="M174.0 205v490" stroke="#0000b5" stroke-width="10" stroke-dasharray="0 6 1 5 1 37 1 3 1 1 1 5 1 4 2 7 1 15 1 16 1 19 1 5 1 7 1 6 1 3 1 1 1 5 1 10 1 15 1 19 1 8 1 3 1 4 1 5 1 14 1 8 1 13 1 1 1 21 1 28 1 14 1 8 1 3 1 5 1 12 2 2 1 5 1 1 1 7 1 8 1 4 1 17 1 10 1 11 1 4 1 3 1 1 1 1 1 490"/>
<path d="M174.0 205v490" stroke="#0000bf" stroke-width="10" stroke-dasharray="1 1 1 8 1 3 2 3 1 8 1 9 1 8 1 9 1 26 3 15 1 18 1 19 1 4 1 11 1 10 1 8 1 6 1 8 1 16 1 2 1 3 1 6 1 12 1 2 1 3 1 3 2 7 1 15 1 2 1 9 1 16 2 1 1 18 1 5 1 19 1 22 1 15 1 1 1 12 1 3 1 2 1 4 1 18 1 3 1 2 1 24 1 12 1 5 1 490"/>
<path d="M174.0 205v490" stroke="#0000ca" stroke-width="10" stroke-dasharray="0 13 2 6 1 41 1 8 2 22 1 5 1 4 1 22 1 3 1 11 1 2 1 11 1 5 1 3 1 15 1 11 1 6 1 53 1 9 1 5 2 14 1 3 1 4 1 16 1 1 1 15 1 4 1 4 1 2 1 9 1 9 1 36 1 9 1 13 1 9 1 27 1 7 1 490"/>
<path d="M174.0 205v490" stroke="#0000d4" stroke-width="10" stroke-dasharray="0 18 1 74 1 12 1 38 1 5 1 1 1 37 1 5 1 22 1 28 1 3 1 29 1 1 1 11 2 15 1 2 1 52 1 2 2 27 1 1 1 12 1 3 1 5 1 26 1 30 1 1 1 490"/>
<path d="M174.0 205v490" stroke="#0000df" stroke-width="10" stroke-dasharray="0 3 1 6 1 15 1 38 1 31 1 21 1 3 1 8 1 24 1 10 1 31 2 41 1 1 1 8 1 64 1 10 1 26 1 35 1 5 1 15 1 4 1 42 1 2 1 490"/>
<path d="M174.0 205v490" stroke="#0000ea" stroke-width="10" stroke-dasharray="0 17 1 9 1 12 1 10 1 8 1 21 1 7 1 30 1 2 1 30 1 13 1 61 1 5 1 34 1 9 1 24 1 17 1 24 1 26 1 11 1 62 1 18 1 10 1 1 1 490"/>
<path d="M174.0 205v490" stroke="#0000f4" stroke-width="10" stroke-dasharray="0 24 2 6 1 9 1 46 1 22 1 27 1 23 1 16 1 6 1 9 1 15 1 23 1 48 1 6 1 152 1 40 1 490"/>
<path d="M174.0 205v490" stroke="#0000ff" stroke-width="10" stroke-dasharray="0 22 1 29 2 12 1 7 2 5 1 18 1 7 1 11 1 4 1 7 1 31 1 36 1 10 1 22 1 18 1 2 1 5 1 24 1 36 1 17 1 45 1 6 1 15 1 17 1 4 2 1 1 20 1 3 1 2 1 490"/>
<path d="M174.0 205v490" stroke="#0019ff" stroke-width="10" stroke-dasharray="0 84 1 28 1 38 1 76 1 60 1 54 1 66 1 13 1 5 2 19 1 4 1 2 2 18 1 490"/>
<path d="M174.0 205v490" stroke="#0033ff" stroke-width="10" stroke-dasharray="0 469 1 2 1 6 1 490"/>
<path d="M174.0 205v490" stroke="#004dff" stroke-width="10" stroke-dasharray="0 480 1 490"/>
<rect x="179" y="205" width="10" height="490" fill="#0000aa"/>
<path d="M184.0 205v490" stroke="#00008a" stroke-width="10" stroke-dasharray="0 86 1 8 1 78 1 3 1 100 2 47 1 80 1 31 1 1 1 490"/>
<path d="M184.0 205v490" stroke="#000095" stroke-width="10" stroke-dasharray="0 5 1 1 3 2 1 20 1 5 1 8 1 20 2 27 1 32 1 43 1 23 1 8 1 8 2 47 1 2 1 5 1 5 1 4 1 42 1 9 1 42 1 4 1 3 1 9 1 8 1 7 1 3 1 5 2 12 1 5 1 7 1 29 1 490"/>
<path d="M184.0 205v490" stroke="#00009f" stroke-width="10" stroke-dasharray="0 17 1 31 1 4 2 3 1 1 2 1 1 29 1 9 1 5 2 4 1 13 1 4 1 2 1 4 2 13 1 10 1 2 1 3 2 13 1 2 1 12 1 18 1 3 1 2 1 14 1 18 2 9 1 12 1 14 1 4 1 25 1 9 1 10 2 3 2 3 1 6 1 2 1 21 1 7 1 8 1 9 1 7 1 8 2 9 1 7 1 9 1 490"/>
<path d="M184.0 205v490" stroke="#0000b5" stroke-width="10" stroke-dasharray="0 6 1 8 1 5 1 4 1 3 2 2 1 32 1 3 1 1 1 2 1 8 1 7 1 11 3 4 1 1 1 21 1 8 1 2 1 4 1 17 1 29 1 4 1 12 1 29 3 36 1 6 1 12 2 25 1 2 1 7 1 1 1 7 1 9 1 4 2 11 2 6 1 6 1 6 1 8 1 7 1 26 1 8 1 5 1 12 2 2 1 6 1 490"/>
<path d="M184.0 205v490" stroke="#0000bf" stroke-width="10" stroke-dasharray="0 109 1 7 2 28 1 11 1 1 1 6 1 51 1 2 3 48 1 8 1 5 1 7 1 5 1 14 1 2 2 19 1 10 2 7 1 11 1 59 1 16 2 1 1 19 1 9 2 490"/>
<path d="M184.0 205v490" stroke="#0000ca" stroke-width="10" stroke-dasharray="0 10 1 3 1 3 1 5 1 16 1 2 1 35 1 6 1 4 1 41 1 20 1 33 1 2 2 1 1 1 1 12 1 23 1 4 1 4 1 2 1 4 1 17 1 13 1 9 1 1 1 7 2 1 1 16 1 2 1 3 1 8 2 7 1 10 2 21 1 18 1 2 1 13 1 1 1 3 1 4 1 7 1 7 1 13 1 1 1 490"/>
<path d="M184.0 205v490" stroke="#0000d4" stroke-width="10" stroke-dasharray="0 2 1 22 1 11 1 9 1 9 1 5 1 18 1 20 1 19 1 8 1 17 1 12 1 9 1 14 1 46 1 6 1 55 1 2 1 12 1 2 1 5 1 57 1 31 1 2 1 44 1 6 1 8 1 490"/>
<path d="M184.0 205v490" stroke="#0000df" stroke-width="10" stroke-dasharray="1 3 1 6 1 1 1 18 1 17 1 5 1 65 1 17 2 42 1 29 1 25 1 2 1 41 1 14 1 1 1 9 1 20 1 17 1 3 1 1 1 7 1 24 1 3 1 16 1 41 1 17 1 490"/>
<path d="M184.0 205v490" stroke="#0000ea" stroke-width="10" stroke-dasharray="0 3 1 71 1 26 1 46 1 20 1 42 1 2 1 10 1 8 2 3 1 29 2 19 1 26 1 30 1 1 1 43 1 15 1 74 1 490"/>
<path d="M184.0 205v490" stroke="#0000f4" stroke-width="10" stroke-dasharray="0 22 2 19 1 7 1 1 1 25 1 39 1 31 1 5 1 44 1 19 1 5 1 9 1 104 2 32 1 61 1 17 1 8 1 3 1 490"/>
<path d="M184.0 205v490" stroke="#0000ff" stroke-width="10" stroke-dasharray="0 27 1 14 1 22 1 8 1 3 1 2 1 1 1 5 1 1 1 5 1 1 3 6 1 11 2 2 1 1 1 6 1 28 1 1 1 1 1 29 1 3 1 2 1 1 1 5 2 16 1 1 1 13 1 8 1 1 2 4 4 7 1 8 1 4 1 5 1 5 1 15 1 9 2 5 1 40 1 2 1 2 1 13 1 4 1 5 1 2 1 12 1 5 1 37 1 490"/>
<path d="M184.0 205v490" stroke="#0000ff" stroke-width="10" stroke-dasharray="0 36 1 29 1 10 1 6 1 5 1 22 1 38 1 12 1 15 2 7 1 13 1 4 1 36 1 6 1 4 3 29 1 43 1 10 1 34 1 50 1 4 2 9 1 33 1 490"/>
<path d="M184.0 205v490" stroke="#0019ff" stroke-width="10" stroke-dasharray="0 52 1 72 1 129 1 141 1 60 1 8 1 8 1 490"/>
<path d="M184.0 205v490" stroke="#0033ff" stroke-width="10" stroke-dasharray="0 432 2 35 1 2 1 15 1 490"/>
<path d="M184.0 205v490" stroke="#004dff" stroke-width="10" stroke-dasharray="0 480 1 490"/>
<rect x="189" y="205" width="9" height="490" fill="#00009f"/>
<path d="M193.5 205v490" stroke="#00008a" stroke-width="9" stroke-dasharray="0 17 1 43 1 33 1 82 1 87 1 61 2 28 1 5 1 57 1 490"/>
<path d="M193.5 205v490" stroke="#000095" stroke-width="9" stroke-dasharray="0 1 1 56 2 9 1 1 2 58 1 16 1 25 2 25 1 6 1 11 2 26 1 20 1 5 1 3 2 5 1 4 1 13 2 1 1 2 1 27 1 19 2 7 1 5 2 15 1 17 1 33 1 21 1 490"/>
<path d="M193.5 205v490" stroke="#0000aa" stroke-width="9" stroke-dasharray="0 3 1 3 1 4 1 5 1 10 1 9 1 5 1 2 1 5 2 19 1 22 2 9 1 37 1 5 1 4 1 8 1 17 3 3 1 2 1 12 1 15 1 2 1 40 1 9 2 22 3 12 1 3 1 9 1 1 1 5 1 8 1 2 1 21 1 10 2 4 1 2 1 21 1 2 1 5 1 11 1 3 1 4 1 1 1 1 2 32 1 490"/>
<path d="M193.5 205v490" stroke="#0000b5" stroke-width="9" stroke-dasharray="1 1 1 6 1 11 1 6 1 9 1 2 1 8 1 11 1 4 2 4 1 2 1 3 1 4 1 1 2 2 1 4 1 6 2 1 1 3 1 11 1 12 1 7 1 19 1 8 2 5 1 59 2 8 1 7 2 2 1 21 1 4 1 38 1 14 1 5 1 2 1 2 1 2 1 4 1 6 1 18 1 12 1 1 1 2 1 8 1 8 1 4 1 8 1 17 1 2 1 14 1 490"/>
<path d="M193.5 205v490" stroke="#0000bf" stroke-width="9" stroke-dasharray="0 11 1 3 1 4 1 3 1 6 2 7 1 23 1 17 1 10 1 22 2 12 1 15 1 2 1 4 2 39 1 1 1 2 1 32 1 2 1 5 1 7 1 19 2 2 1 19 1 42 1 11 1 20 1 2 1 16 1 4 1 4 1 7 1 11 1 6 1 6 1 17 1 25 1 5 1 1 1 490"/>
<path d="M193.5 205v490" stroke="#0000ca" stroke-width="9" stroke-dasharray="0 25 1 9 1 41 2 15 1 2 1 14 1 10 1 26 1 9 2 6 1 8 1 3 1 2 1 11 1 25 1 45 1 24 1 6 1 14 1 6 1 1 1 62 1 6 1 31 1 20 1 31 1 490"/>
<path d="M193.5 205v490" stroke="#0000d4" stroke-width="9" stroke-dasharray="0 13 2 38 1 36 1 14 1 32 2 19 1 28 1 27 1 8 1 9 1 7 1 21 1 18 1 12 1 6 1 20 1 7 1 7 1 38 1 4 1 12 1 22 1 44 1 490"/>
<path d="M193.5 205v490" stroke="#0000df" stroke-width="9" stroke-dasharray="0 4 1 1 1 3 1 19 1 6 1 6 1 34 1 1 1 10 1 8 1 25 1 4 1 3 1 28 2 25 1 44 1 7 1 6 1 19 1 12 1 9 1 25 1 22 1 8 1 7 1 17 1 6 1 24 2 17 1 23 1 2 1 17 1 490"/>
<path d="M193.5 205v490" stroke="#0000ea" stroke-width="9" stroke-dasharray="0 22 1 3 1 19 1 53 1 28 1 22 1 4 1 6 1 50 1 25 1 5 1 39 1 1 1 23 1 26 1 11 1 18 1 81 1 7 2 1 1 12 1 3 1 1 1 490"/>
<path d="M193.5 205v490" stroke="#0000f4" stroke-width="9" stroke-dasharray="0 34 1 16 1 37 1 12 1 34 1 2 1 28 1 32 1 11 1 17 1 1 1 28 1 62 1 16 1 1 1 10 1 50 1 55 1 25 1 490"/>
<path d="M193.5 205v490" stroke="#0000ff" stroke-width="9" stroke-dasharray="0 27 1 8 1 5 2 3 1 17 1 8 1 9 1 22 1 5 1 5 1 1 1 2 1 3 1 13 1 2 1 16 1 8 1 17 1 3 1 9 1 2 1 4 1 1 1 10 1 2 1 1 1 1 1 6 1 15 1 4 2 1 1 10 1 16 1 5 1 1 1 10 2 1 1 1 1 8 1 10 1 20 1 21 1 15 1 5 1 4 1 8 1 2 1 8 1 41 1 490"/>
<path d="M193.5 205v490" stroke="#0000ff" stroke-width="9" stroke-dasharray="0 23 1 39 1 2 1 16 1 36 1 5 1 7 1 6 1 9 1 18 1 11 1 7 1 13 2 3 1 2 1 40 1 10 1 17 1 16 1 19 1 56 1 19 2 4 1 2 1 25 2 3 1 31 1 1 2 13 1 490"/>
<path d="M193.5 205v490" stroke="#0019ff" stroke-width="9" stroke-dasharray="0 52 1 55 1 16 1 7 1 94 1 17 1 8 2 201 1 1 1 15 1 10 1 490"/>
<path d="M193.5 205v490" stroke="#0033ff" stroke-width="9" stroke-dasharray="0 433 1 3 1 34 1 15 1 490"/>
<path d="M193.5 205v490" stroke="#004dff" stroke-width="9" stroke-dasharray="0 469 1 10 1 490"/>
<rect x="198" y="205" width="10" height="490" fill="#0000aa"/>
<path d="M203.0 205v490" stroke="#00008a" stroke-width="10" stroke-dasharray="0 49 1 93 2 33 1 40 2 45 1 12 2 58 1 24 1 44 1 490"/>
<path d="M203.0 205v490" stroke="#000095" stroke-width="10" stroke-dasharray="0 1 1 27 1 18 1 1 1 7 1 10 1 25 1 15 2 1 1 1 1 84 1 5 1 15 1 6 1 11 1 26 1 15 2 21 1 2 1 3 1 12 2 8 1 18 2 16 1 15 2 13 1 3 1 11 1 23 1 35 1 490"/>
<path d="M203.0 205v490" stroke="#00009f" stroke-width="10" stroke-dasharray="0 5 1 6 1 4 1 10 1 10 1 14 1 4 1 1 1 5 1 3 1 14 1 11 1 16 1 30 3 3 1 5 1 8 2 5 2 7 1 14 2 8 1 42 1 5 1 9 1 13 1 10 1 14 1 9 1 19 1 6 1 1 1 7 1 4 2 7 1 5 1 25 1 7 1 8 2 9 1 6 1 3 1 25 1 490"/>
<path d="M203.0 205v490" stroke="#0000b5" stroke-width="10" stroke-dasharray="0 13 1 4 1 14 1 43 1 25 1 13 1 67 1 6 1 9 1 46 1 2 1 18 1 5 1 32 1 5 1 1 1 8 1 5 1 19 1 2 1 5 1 3 1 17 1 4 1 3 1 4 1 15 1 9 1 18 1 6 1 1 1 3 1 4 2 3 1 16 2 1 1 490"/>
<path d="M203.0 205v490" stroke="#0000bf" stroke-width="10" stroke-dasharray="0 2 2 2 1 2 3 2 1 10 1 12 1 17 1 18 1 4 1 16 1 11 2 8 1 4 1 6 1 21 1 7 1 33 1 26 1 16 1 30 1 7 1 14 1 41 1 9 1 1 3 23 1 13 1 2 1 12 1 11 1 4 1 2 1 2 2 46 1 2 1 1 1 7 1 490"/>
<path d="M203.0 205v490" stroke="#0000ca" stroke-width="10" stroke-dasharray="1 6 1 7 1 15 1 5 1 44 2 3 1 8 1 2 1 29 1 21 1 7 2 65 2 4 1 4 1 9 1 34 1 17 2 18 1 9 2 4 1 33 1 8 2 2 1 11 1 1 1 36 1 6 1 9 1 11 1 11 1 490"/>
<path d="M203.0 205v490" stroke="#0000d4" stroke-width="10" stroke-dasharray="0 20 1 5 1 5 1 14 1 25 1 14 1 1 1 2 2 28 1 3 1 11 1 29 1 7 1 2 1 5 1 2 1 7 1 13 2 4 1 13 1 11 1 31 1 8 1 4 1 32 1 17 1 28 1 24 1 1 1 4 1 10 2 39 1 1 1 4 1 3 1 490"/>
<path d="M203.0 205v490" stroke="#0000df" stroke-width="10" stroke-dasharray="0 21 1 8 1 4 1 40 1 2 1 1 1 3 1 27 1 21 1 26 1 18 1 2 1 9 1 8 1 12 1 8 1 15 1 6 1 9 1 2 1 3 1 38 1 27 1 10 1 6 1 10 1 14 1 48 1 4 1 13 1 490"/>
<path d="M203.0 205v490" stroke="#0000ea" stroke-width="10" stroke-dasharray="0 4 1 3 1 10 1 25 1 19 1 25 1 29 2 17 1 1 1 2 1 17 1 12 1 29 1 7 2 24 1 3 1 9 1 4 1 30 1 11 2 8 1 10 1 1 1 51 1 26 1 24 1 12 1 27 1 490"/>
<path d="M203.0 205v490" stroke="#0000f4" stroke-width="10" stroke-dasharray="0 23 1 12 1 5 1 49 1 13 1 13 1 50 1 28 1 23 1 11 1 19 1 38 1 1 1 21 1 1 1 4 1 24 2 25 1 2 1 3 1 13 1 21 1 35 1 9 1 13 1 490"/>
<path d="M203.0 205v490" stroke="#0000ff" stroke-width="10" stroke-dasharray="0 43 1 9 1 8 1 1 1 1 1 7 1 14 1 10 3 22 2 3 1 1 1 1 1 1 3 2 1 12 2 1 1 6 1 1 1 6 1 8 1 21 1 28 1 1 1 2 1 6 1 4 1 2 1 6 1 2 2 3 1 19 1 5 1 3 2 13 1 10 1 16 2 12 1 15 1 33 1 1 1 8 1 19 1 12 1 4 1 490"/>
<path d="M203.0 205v490" stroke="#0000ff" stroke-width="10" stroke-dasharray="0 22 1 11 1 9 1 1 1 5 1 31 1 22 1 25 1 38 1 17 1 2 1 11 1 3 1 3 1 20 1 11 1 8 1 17 2 12 1 8 1 37 1 51 1 15 1 28 1 1 1 37 2 3 1 12 1 490"/>
<path d="M203.0 205v490" stroke="#0019ff" stroke-width="10" stroke-dasharray="0 63 1 44 1 61 1 57 1 33 1 205 1 19 1 490"/>
<path d="M203.0 205v490" stroke="#0033ff" stroke-width="10" stroke-dasharray="0 432 1 4 1 20 1 10 1 10 1 4 1 490"/>
<rect x="208" y="205" width="10" height="490" fill="#0000ff"/>
<path d="M213.0 205v490" stroke="#00008a" stroke-width="10" stroke-dasharray="0 1 1 46 2 106 1 50 1 12 1 2 1 42 1 13 1 83 1 53 1 490"/>
<path d="M213.0 205v490" stroke="#000095" stroke-width="10" stroke-dasharray="0 5 1 7 1 10 1 34 1 18 1 18 1 45 2 23 1 9 1 40 1 1 1 50 1 6 1 6 1 24 1 3 1 13 1 8 2 7 1 26 2 13 1 2 1 17 1 11 1 59 1 3 1 490"/>
<path d="M213.0 205v490" stroke="#00009f" stroke-width="10" stroke-dasharray="0 2 1 9 1 3 1 11 1 21 1 3 3 3 1 7 1 4 1 11 2 8 1 2 1 13 1 2 2 4 1 35 1 9 1 11 1 1 1 5 2 7 1 11 1 13 1 7 1 38 1 15 1 6 1 14 3 17 2 17 1 7 1 2 1 5 1 5 1 17 2 11 1 13 1 2 1 17 1 10 1 3 1 1 1 14 1 5 1 13 1 490"/>
<path d="M213.0 205v490" stroke="#0000aa" stroke-width="10" stroke-dasharray="1 16 1 21 1 4 2 1 1 10 1 13 1 4 1 4 1 13 1 2 2 8 1 4 1 5 1 1 1 23 3 3 2 4 1 21 1 8 1 11 1 37 1 9 1 17 1 13 1 24 1 23 1 6 1 15 1 4 2 2 1 2 1 1 2 4 1 17 1 1 1 3 1 8 1 4 1 7 1 20 1 2 1 7 1 25 1 490"/>
<path d="M213.0 205v490" stroke="#0000b5" stroke-width="10" stroke-dasharray="0 14 1 3 1 8 1 1 1 21 1 5 1 3 1 5 1 12 1 2 1 40 1 3 1 4 1 40 1 8 2 9 1 2 1 1 1 25 1 16 1 14 1 7 1 5 1 5 1 6 1 5 1 14 1 11 1 5 1 2 1 21 1 11 1 11 1 7 1 1 1 7 1 7 1 9 1 11 1 20 1 2 1 36 1 1 1 490"/>
<path d="M213.0 205v490" stroke="#0000bf" stroke-width="10" stroke-dasharray="0 7 1 2 2 3 1 20 1 5 1 10 1 21 1 17 1 9 3 5 1 29 2 6 1 12 1 2 1 9 1 10 1 8 1 2 1 7 1 3 1 7 1 5 1 23 1 2 1 4 1 1 1 32 1 1 1 16 1 3 1 1 1 3 1 10 1 18 1 5 1 9 1 11 1 2 1 14 1 12 1 16 1 1 1 5 1 4 1 490"/>
<path d="M213.0 205v490" stroke="#0000ca" stroke-width="10" stroke-dasharray="0 35 1 2 1 30 1 1 1 12 1 2 1 6 1 7 1 14 2 4 1 12 1 13 1 3 1 9 1 26 1 25 1 9 1 1 1 1 1 6 1 2 1 10 1 23 1 18 1 44 1 2 2 56 1 19 1 1 1 12 1 5 1 2 1 1 2 7 1 17 2 490"/>
<path d="M213.0 205v490" stroke="#0000d4" stroke-width="10" stroke-dasharray="0 3 1 5 1 9 1 2 2 8 1 10 1 47 1 37 1 1 1 23 1 5 1 4 1 10 1 31 1 16 1 10 1 9 1 27 1 21 1 24 1 10 1 7 2 2 1 3 1 11 1 17 1 5 1 21 1 5 1 24 1 10 1 9 2 18 2 490"/>
<path d="M213.0 205v490" stroke="#0000df" stroke-width="10" stroke-dasharray="0 20 1 49 1 3 1 6 1 44 1 5 1 1 2 2 3 44 1 4 1 11 1 65 1 31 1 35 1 58 1 3 1 3 2 10 1 11 1 27 1 5 1 4 1 490"/>
<path d="M213.0 205v490" stroke="#0000ea" stroke-width="10" stroke-dasharray="0 4 1 1 1 14 1 4 1 3 2 74 1 3 1 8 1 49 1 63 1 25 1 13 2 8 1 48 1 19 1 71 1 38 1 6 1 1 1 490"/>
<path d="M213.0 205v490" stroke="#0000f4" stroke-width="10" stroke-dasharray="0 8 1 24 2 2 1 2 1 5 1 29 1 2 1 12 1 8 1 11 1 31 1 46 1 50 1 10 1 23 1 45 1 26 1 73 1 39 1 12 1 490"/>
<path d="M213.0 205v490" stroke="#0000ff" stroke-width="10" stroke-dasharray="0 64 1 24 1 18 1 18 1 2 1 6 1 25 1 7 1 32 2 7 2 1 1 19 1 3 1 3 1 16 1 1 2 22 1 11 1 1 1 1 1 8 1 8 1 33 1 28 1 17 1 2 1 23 3 22 1 2 1 11 1 490"/>
<path d="M213.0 205v490" stroke="#0019ff" stroke-width="10" stroke-dasharray="0 63 1 108 1 89 1 25 1 13 1 31 1 97 2 24 1 5 1 3 1 19 1 490"/>
<path d="M213.0 205v490" stroke="#0033ff" stroke-width="10" stroke-dasharray="0 437 1 46 2 490"/>
<path d="M213.0 205v490" stroke="#004dff" stroke-width="10" stroke-dasharray="0 489 1 490"/>
<rect x="218" y="205" width="10" height="490" fill="#00009f"/>
<path d="M223.0 205v490" stroke="#00008a" stroke-width="10" stroke-dasharray="0 2 1 14 1 254 1 96 1 56 1 55 1 490"/>
<path d="M223.0 205v490" stroke="#000095" stroke-width="10" stroke-dasharray="0 1 1 10 1 15 1 15 1 3 2 9 1 18 1 1 1 63 1 61 1 11 3 2 1 7 1 37 1 22 1 24 1 5 1 4 2 8 2 22 1 2 1 26 1 27 1 1 1 17 1 26 1 4 1 13 2 490"/>
<path d="M223.0 205v490" stroke="#0000aa" stroke-width="10" stroke-dasharray="1 2 1 3 1 3 1 15 1 2 2 6 2 5 1 7 1 1 1 5 1 17 1 1 1 1 2 8 1 15 1 1 1 12 1 8 1 12 3 31 1 5 1 7 2 21 1 20 1 6 1 20 1 12 1 4 1 31 1 10 1 3 1 1 1 20 1 4 1 14 1 5 1 1 1 8 1 4 2 2 1 24 1 4 1 17 1 5 1 1 1 14 1 5 1 490"/>
<path d="M223.0 205v490" stroke="#0000b5" stroke-width="10" stroke-dasharray="0 18 1 28 1 6 1 3 1 3 1 4 1 4 1 23 1 8 1 8 2 9 1 2 1 5 1 10 1 9 2 4 1 2 2 1 1 13 1 5 1 12 1 9 1 13 1 51 1 14 1 1 1 1 1 12 1 13 1 23 1 2 1 22 2 19 1 1 1 5 1 8 1 8 1 30 1 4 1 1 1 10 1 12 1 1 1 490"/>
<path d="M223.0 205v490" stroke="#0000bf" stroke-width="10" stroke-dasharray="0 6 1 2 1 22 1 32 1 20 1 25 1 3 1 1 1 4 1 5 1 13 1 8 1 4 1 17 1 1 1 6 1 3 1 7 1 8 1 9 1 12 1 1 1 27 1 18 1 11 1 24 1 11 1 13 1 1 1 14 1 2 1 18 1 1 1 21 1 5 1 11 1 1 1 11 1 30 1 7 1 5 1 490"/>
<path d="M223.0 205v490" stroke="#0000ca" stroke-width="10" stroke-dasharray="0 13 2 9 1 9 1 1 1 13 2 17 1 3 1 1 1 14 1 9 1 9 1 2 1 8 1 3 1 26 2 53 1 4 1 15 1 2 1 15 1 2 2 7 1 7 1 17 1 9 2 20 1 13 1 17 2 31 1 4 1 9 1 8 1 3 1 24 1 2 1 5 1 1 1 1 1 25 1 490"/>
<path d="M223.0 205v490" stroke="#0000d4" stroke-width="10" stroke-dasharray="0 8 1 13 1 12 1 6 2 8 1 23 1 5 1 5 1 46 1 22 1 9 1 42 2 12 3 18 2 8 1 18 1 68 2 7 1 2 1 42 1 8 1 35 1 16 2 490"/>
<path d="M223.0 205v490" stroke="#0000df" stroke-width="10" stroke-dasharray="0 19 1 1 1 1 1 13 1 19 1 8 1 20 1 13 2 14 1 3 1 9 1 4 1 29 1 3 1 31 1 13 1 33 1 14 1 37 1 32 1 29 1 3 1 14 1 1 1 16 1 10 2 26 1 15 1 16 1 1 2 9 1 490"/>
<path d="M223.0 205v490" stroke="#0000ea" stroke-width="10" stroke-dasharray="0 15 1 10 1 6 1 26 1 59 1 48 1 6 1 14 1 22 1 18 1 3 1 32 1 2 1 32 2 53 1 67 1 12 1 10 1 6 1 4 1 3 1 490"/>
<path d="M223.0 205v490" stroke="#0000f4" stroke-width="10" stroke-dasharray="0 25 1 45 1 67 1 20 1 22 1 80 1 16 2 41 1 30 1 20 1 28 1 11 1 6 1 6 1 2 1 23 1 490"/>
<path d="M223.0 205v490" stroke="#0000ff" stroke-width="10" stroke-dasharray="0 4 1 36 1 4 1 17 1 5 1 3 1 14 1 1 2 10 2 22 1 2 1 6 1 3 1 8 1 39 1 1 2 9 2 29 2 4 5 4 1 4 1 4 1 3 1 14 1 4 1 4 1 5 1 9 2 4 1 1 1 6 1 1 1 21 1 8 1 5 1 12 1 14 1 7 1 32 2 9 1 31 1 13 2 490"/>
<path d="M223.0 205v490" stroke="#0000ff" stroke-width="10" stroke-dasharray="0 20 1 19 1 65 1 1 1 31 1 8 1 9 1 3 1 7 1 1 1 8 1 2 1 3 1 19 1 43 1 1 1 5 2 8 1 2 1 23 1 1 1 1 1 10 1 6 1 4 1 9 1 41 1 6 1 17 1 9 2 18 2 30 1 490"/>
<path d="M223.0 205v490" stroke="#0019ff" stroke-width="10" stroke-dasharray="0 63 1 43 1 11 1 31 1 20 1 63 1 50 1 11 1 1 1 32 1 102 1 25 1 490"/>
<rect x="228" y="205" width="9" height="490" fill="#0000ff"/>
<path d="M232.5 205v490" stroke="#00008a" stroke-width="9" stroke-dasharray="0 11 1 37 1 61 1 111 1 15 1 83 1 49 1 52 1 490"/>
<path d="M232.5 205v490" stroke="#000095" stroke-width="9" stroke-dasharray="0 2 1 7 1 1 1 4 1 26 2 2 1 19 1 11 1 17 1 33 1 3 1 7 1 2 1 26 1 19 1 12 1 19 1 44 1 17 1 5 2 13 1 3 1 11 2 36 1 6 1 1 2 4 1 9 1 15 1 11 1 3 1 7 1 15 1 4 1 4 1 14 2 14 2 490"/>
<path d="M232.5 205v490" stroke="#00009f" stroke-width="9" stroke-dasharray="0 1 1 5 1 5 1 2 1 1 1 3 2 54 1 4 1 11 1 3 1 12 1 3 1 14 1 22 1 7 1 4 1 33 1 16 1 3 1 15 1 6 1 11 1 8 1 1 2 1 1 4 1 3 1 8 1 5 1 7 1 10 1 2 1 21 1 1 1 20 1 6 1 8 1 6 1 3 1 1 1 4 2 22 1 4 1 17 1 6 1 1 1 4 1 24 1 490"/>
<path d="M232.5 205v490" stroke="#0000aa" stroke-width="9" stroke-dasharray="0 5 1 3 1 17 1 11 1 3 1 12 1 1 1 10 2 10 2 7 2 2 1 18 1 1 1 10 1 19 1 9 1 4 1 4 1 8 1 3 1 16 1 2 1 67 1 5 1 11 1 2 1 27 1 12 1 8 1 4 1 9 1 2 1 6 2 1 1 33 1 6 1 2 1 6 1 9 1 13 1 25 1 6 1 2 1 2 1 5 1 490"/>
<path d="M232.5 205v490" stroke="#0000b5" stroke-width="9" stroke-dasharray="0 14 1 35 1 4 1 3 1 7 1 11 1 26 1 10 1 9 2 4 2 17 1 2 1 9 1 15 1 15 2 1 1 14 1 1 1 2 1 4 2 4 1 20 1 5 1 11 1 13 1 1 1 5 1 16 1 22 2 8 1 4 2 5 1 2 1 9 1 11 1 6 1 6 1 20 1 6 1 18 1 1 1 1 1 2 1 1 1 23 1 7 1 490"/>
<path d="M232.5 205v490" stroke="#0000bf" stroke-width="9" stroke-dasharray="0 15 1 13 1 21 1 9 1 3 1 19 2 6 1 11 1 17 2 17 2 1 1 11 1 6 1 13 1 7 1 41 1 13 1 55 1 27 1 23 1 17 1 12 1 10 1 2 1 13 1 1 1 7 1 3 1 7 1 3 1 9 1 7 1 1 1 19 1 3 1 490"/>
<path d="M232.5 205v490" stroke="#0000ca" stroke-width="9" stroke-dasharray="1 18 1 4 1 7 1 27 1 12 1 1 2 15 1 3 2 3 1 7 1 12 1 6 1 18 1 19 2 13 1 3 1 2 3 10 1 2 1 9 1 2 1 12 1 14 1 8 1 8 1 13 1 3 1 9 1 28 1 14 1 8 1 4 1 30 1 32 1 32 1 40 1 490"/>
<path d="M232.5 205v490" stroke="#0000d4" stroke-width="9" stroke-dasharray="0 26 1 1 1 2 1 1 1 2 1 5 1 9 1 9 1 3 1 10 1 9 1 12 1 6 1 6 1 3 1 16 1 14 1 7 3 19 1 7 1 13 1 18 1 7 2 46 1 53 1 20 1 41 1 10 1 18 1 11 1 22 1 1 1 6 1 7 1 490"/>
<path d="M232.5 205v490" stroke="#0000df" stroke-width="9" stroke-dasharray="0 3 1 2 1 31 1 18 1 26 1 17 1 17 2 31 1 16 1 5 1 16 1 10 2 2 1 2 1 43 1 26 1 21 1 3 1 1 1 7 1 11 1 9 1 14 1 20 1 31 1 3 1 16 1 2 2 20 1 3 1 6 1 490"/>
<path d="M232.5 205v490" stroke="#0000ea" stroke-width="9" stroke-dasharray="0 8 1 21 1 16 1 24 1 1 1 13 1 15 1 20 1 12 1 56 1 14 1 40 1 23 1 24 1 5 1 17 1 490"/>
<path d="M232.5 205v490" stroke="#0000f4" stroke-width="9" stroke-dasharray="0 21 1 12 2 10 1 61 1 1 1 60 1 52 1 16 1 49 1 44 1 64 1 32 1 3 1 23 1 15 1 490"/>
<path d="M232.5 205v490" stroke="#0000ff" stroke-width="9" stroke-dasharray="0 20 1 4 1 11 1 2 2 21 2 74 1 9 1 39 1 24 1 22 1 6 1 4 2 2 2 9 1 13 1 2 1 5 1 11 1 7 1 4 2 6 2 3 1 9 1 9 1 12 1 25 1 13 1 3 2 9 1 14 1 56 1 490"/>
<path d="M232.5 205v490" stroke="#0019ff" stroke-width="9" stroke-dasharray="0 163 1 8 1 12 1 23 1 26 1 24 2 71 1 490"/>
<rect x="237" y="205" width="10" height="490" fill="#0000aa"/>
<path d="M242.0 205v490" stroke="#00008a" stroke-width="10" stroke-dasharray="0 2 1 7 1 6 1 189 1 15 1 47 1 179 1 490"/>
<path d="M242.0 205v490" stroke="#000095" stroke-width="10" stroke-dasharray="0 1 1 7 1 1 1 3 2 1 1 20 1 3 3 13 1 27 1 29 1 26 1 1 1 7 3 61 1 8 1 11 1 5 1 6 1 5 1 13 2 12 1 3 1 26 1 25 1 13 1 15 1 6 1 4 1 14 1 17 1 3 1 7 1 26 1 19 1 1 1 490"/>
<path d="M242.0 205v490" stroke="#00009f" stroke-width="10" stroke-dasharray="1 18 1 38 1 6 1 1 1 18 1 8 1 10 1 4 1 4 1 9 1 5 1 5 1 3 1 4 1 19 1 31 1 22 1 15 1 18 1 8 1 22 1 13 1 10 1 8 1 4 1 31 1 14 1 13 1 5 1 15 1 8 2 4 1 19 1 15 1 4 1 10 1 1 1 1 1 5 1 490"/>
<path d="M242.0 205v490" stroke="#0000b5" stroke-width="10" stroke-dasharray="0 5 2 5 3 9 1 41 1 1 1 1 1 12 1 4 1 19 2 3 2 7 2 4 1 32 1 13 1 5 1 4 2 10 1 80 1 5 1 6 1 16 1 8 1 3 1 8 1 6 1 3 1 35 2 1 1 9 1 5 1 8 2 4 1 6 1 4 2 1 1 5 1 7 1 3 1 1 1 2 1 1 1 18 1 9 1 490"/>
<path d="M242.0 205v490" stroke="#0000bf" stroke-width="10" stroke-dasharray="0 8 1 20 2 5 1 1 1 1 1 5 1 5 1 8 1 7 1 2 1 8 1 8 1 3 1 2 1 1 1 10 1 7 2 7 1 2 1 5 2 7 1 14 1 30 1 4 1 3 1 2 1 2 1 40 1 28 1 10 2 6 1 20 1 15 1 7 1 12 1 22 1 11 1 1 1 5 1 12 1 4 2 1 1 18 1 18 1 27 1 490"/>
<path d="M242.0 205v490" stroke="#0000ca" stroke-width="10" stroke-dasharray="0 26 1 4 1 21 1 21 1 36 1 20 2 29 2 2 1 9 1 18 1 17 1 1 1 12 1 37 2 7 1 30 1 1 1 22 1 16 1 8 1 3 2 17 1 16 1 1 1 8 1 31 3 15 1 3 3 490"/>
<path d="M242.0 205v490" stroke="#0000d4" stroke-width="10" stroke-dasharray="0 3 1 30 2 15 1 22 1 2 1 18 1 5 1 4 1 7 1 8 2 9 1 3 1 8 2 8 1 7 1 9 1 17 1 13 1 15 1 3 1 3 1 26 1 3 1 6 1 3 2 25 1 23 2 2 1 18 1 25 1 9 1 89 1 10 1 490"/>
<path d="M242.0 205v490" stroke="#0000df" stroke-width="10" stroke-dasharray="0 22 1 27 1 9 1 1 1 8 1 7 1 4 1 35 2 21 1 25 1 18 1 13 1 13 1 8 1 22 1 2 1 28 1 2 1 14 1 56 1 76 1 16 1 8 1 490"/>
<path d="M242.0 205v490" stroke="#0000ea" stroke-width="10" stroke-dasharray="0 37 1 17 1 33 1 2 1 118 1 1 1 6 1 34 1 37 1 10 1 19 1 33 1 24 1 21 1 7 1 20 1 13 1 26 1 490"/>
<path d="M242.0 205v490" stroke="#0000f4" stroke-width="10" stroke-dasharray="0 4 1 15 2 3 1 7 1 7 2 61 1 24 1 21 1 21 1 31 1 6 1 18 1 3 1 48 1 9 1 18 1 7 1 8 1 15 1 20 1 1 1 7 1 14 1 42 1 18 1 21 1 490"/>
<path d="M242.0 205v490" stroke="#0000ff" stroke-width="10" stroke-dasharray="0 47 1 6 1 38 1 7 1 38 2 10 2 5 1 11 1 11 2 10 1 13 2 8 1 1 1 7 1 7 1 2 1 1 1 3 1 3 1 3 1 1 1 7 2 12 1 12 1 8 1 1 1 2 3 4 1 31 2 1 1 1 1 1 2 33 2 5 1 4 1 3 3 11 1 20 3 13 1 14 3 13 1 4 1 490"/>
<path d="M242.0 205v490" stroke="#0000ff" stroke-width="10" stroke-dasharray="0 64 1 35 1 62 1 8 1 4 1 4 1 2 1 3 1 43 2 6 1 2 1 4 1 3 1 6 1 21 1 16 1 19 2 13 4 23 2 7 2 56 1 490"/>
<path d="M242.0 205v490" stroke="#0019ff" stroke-width="10" stroke-dasharray="0 63 1 150 1 21 1 6 1 17 2 18 1 490"/>
<rect x="247" y="205" width="10" height="490" fill="#0000ff"/>
<path d="M252.0 205v490" stroke="#00008a" stroke-width="10" stroke-dasharray="0 11 1 5 2 119 1 84 1 6 2 26 1 12 1 113 1 44 1 490"/>
<path d="M252.0 205v490" stroke="#000095" stroke-width="10" stroke-dasharray="0 1 1 5 2 6 2 2 1 12 1 6 1 3 1 5 1 17 1 2 1 16 1 18 1 4 1 34 2 12 1 29 1 1 1 2 1 3 1 7 1 59 1 4 1 3 1 51 1 45 1 13 1 19 1 5 1 3 1 6 1 3 1 16 1 14 1 490"/>
<path d="M252.0 205v490" stroke="#00009f" stroke-width="10" stroke-dasharray="0 5 1 4 1 29 1 3 2 12 1 9 1 9 1 1 2 6 1 8 1 6 2 19 1 4 1 13 1 5 1 4 1 1 1 3 1 12 1 18 2 1 1 1 1 1 1 1 2 11 1 22 1 6 1 6 1 13 1 12 1 9 2 7 1 2 1 1 1 5 1 17 1 11 1 3 1 13 1 10 1 4 1 1 1 18 1 20 1 4 3 3 1 50 1 490"/>
<path d="M252.0 205v490" stroke="#0000aa" stroke-width="10" stroke-dasharray="1 1 1 6 1 12 1 3 3 7 1 5 1 5 1 3 1 2 2 7 3 10 1 17 1 2 1 19 1 20 1 2 1 32 1 7 1 13 1 3 1 6 1 9 1 3 1 6 1 33 1 4 1 1 1 71 1 13 1 6 1 5 1 10 1 1 1 6 1 2 1 16 1 1 1 7 1 7 1 3 1 15 1 11 1 11 1 6 1 1 1 5 1 1 1 490"/>
<path d="M252.0 205v490" stroke="#0000b5" stroke-width="10" stroke-dasharray="0 6 1 5 1 16 1 7 1 21 1 13 1 1 1 9 2 16 1 5 1 5 3 8 1 21 1 9 1 7 2 19 1 16 1 11 1 18 1 21 1 11 1 47 1 14 1 4 2 1 2 24 1 5 1 24 1 1 1 5 2 5 1 29 1 2 1 21 1 11 1 490"/>
<path d="M252.0 205v490" stroke="#0000bf" stroke-width="10" stroke-dasharray="0 54 1 2 1 11 1 6 1 19 1 2 1 7 1 6 1 8 1 7 1 3 1 18 1 1 1 5 1 54 1 21 1 14 1 31 1 9 2 16 1 8 1 22 1 29 1 16 1 1 1 4 2 8 1 32 1 12 1 13 1 2 2 490"/>
<path d="M252.0 205v490" stroke="#0000ca" stroke-width="10" stroke-dasharray="0 3 1 9 1 9 1 14 1 14 1 7 1 9 1 2 1 14 1 29 1 1 1 12 1 8 1 5 1 20 1 7 1 2 1 6 2 1 1 20 1 19 1 14 2 6 1 3 1 18 1 16 1 15 1 10 1 2 1 28 1 5 1 3 1 16 1 8 1 13 1 18 1 26 1 9 1 5 1 490"/>
<path d="M252.0 205v490" stroke="#0000d4" stroke-width="10" stroke-dasharray="0 21 1 9 1 2 1 11 1 3 2 58 1 17 1 7 1 28 1 2 2 10 1 32 1 5 2 4 1 2 1 5 1 14 1 25 1 9 1 16 1 5 1 12 1 4 1 38 1 41 1 36 1 6 1 20 1 8 2 490"/>
<path d="M252.0 205v490" stroke="#0000df" stroke-width="10" stroke-dasharray="0 4 1 9 1 15 1 4 1 36 1 18 1 16 1 4 1 23 1 7 1 5 1 7 1 61 1 2 1 25 1 2 1 2 1 20 1 10 1 29 1 12 1 19 1 1 1 17 1 7 1 53 1 50 1 490"/>
<path d="M252.0 205v490" stroke="#0000ea" stroke-width="10" stroke-dasharray="0 79 1 2 1 7 1 11 1 17 1 1 1 1 1 2 1 1 1 3 1 7 1 37 1 26 1 35 1 93 1 13 1 4 1 27 1 2 1 4 1 49 1 20 2 12 1 490"/>
<path d="M252.0 205v490" stroke="#0000f4" stroke-width="10" stroke-dasharray="0 20 1 12 1 7 1 5 1 44 1 8 1 30 1 38 1 90 1 10 1 18 1 1 1 4 2 9 1 33 1 14 1 17 1 6 1 49 1 48 1 490"/>
<path d="M252.0 205v490" stroke="#0000ff" stroke-width="10" stroke-dasharray="0 63 1 19 1 28 1 27 1 12 1 18 1 4 1 7 1 23 2 33 1 20 1 15 1 22 1 7 1 6 1 10 1 14 1 3 1 12 1 7 1 27 1 33 1 2 2 31 1 18 1 490"/>
<path d="M252.0 205v490" stroke="#0019ff" stroke-width="10" stroke-dasharray="0 100 1 72 1 62 1 3 1 5 1 35 1 33 1 17 2 80 1 11 1 8 1 1 1 8 2 4 2 2 1 5 2 9 1 490"/>
<path d="M252.0 205v490" stroke="#0033ff" stroke-width="10" stroke-dasharray="0 453 1 490"/>
<rect x="257" y="205" width="9" height="490" fill="#0000b5"/>
<path d="M261.5 205v490" stroke="#00008a" stroke-width="9" stroke-dasharray="0 7 2 2 1 3 1 1 2 17 1 3 1 2 1 186 1 40 1 134 1 490"/>
<path d="M261.5 205v490" stroke="#000095" stroke-width="9" stroke-dasharray="0 19 1 37 2 29 1 15 1 6 1 26 1 21 1 8 1 5 1 47 1 7 1 20 1 14 1 11 1 48 1 53 1 2 1 6 1 15 1 17 1 3 1 57 1 490"/>
<path d="M261.5 205v490" stroke="#00009f" stroke-width="9" stroke-dasharray="0 3 1 1 1 3 2 10 3 5 3 5 1 3 2 6 1 2 1 11 1 2 1 21 1 5 1 1 1 8 1 2 2 14 1 10 1 17 1 1 2 16 1 17 1 1 1 5 1 1 1 65 1 32 1 44 1 21 1 4 1 2 1 17 1 8 1 1 1 3 1 1 1 7 2 4 1 1 1 1 1 1 1 45 1 2 2 4 1 490"/>
<path d="M261.5 205v490" stroke="#0000aa" stroke-width="9" stroke-dasharray="0 2 1 1 1 9 1 1 1 9 2 4 1 6 1 15 1 9 1 4 2 5 1 4 1 1 1 8 1 8 2 18 2 6 2 3 1 8 1 1 2 2 1 4 1 5 1 4 1 3 1 46 1 4 1 15 1 8 1 10 1 4 1 6 1 1 1 30 1 19 1 19 1 6 2 2 1 2 1 11 1 18 1 11 2 2 1 5 1 4 1 30 1 4 1 10 1 15 1 3 1 490"/>
<path d="M261.5 205v490" stroke="#0000bf" stroke-width="9" stroke-dasharray="0 35 1 9 1 4 1 21 1 1 1 1 1 10 1 3 1 7 1 7 1 9 1 8 1 14 1 3 1 3 1 2 1 5 1 8 1 21 1 3 1 1 1 3 1 3 1 47 1 5 1 17 1 2 1 6 1 4 1 4 1 2 2 8 1 8 1 21 1 7 1 26 1 6 1 2 1 60 1 26 1 1 1 490"/>
<path d="M261.5 205v490" stroke="#0000ca" stroke-width="9" stroke-dasharray="0 1 1 10 1 7 1 13 1 3 1 27 1 16 1 1 1 12 1 19 1 29 1 10 1 5 1 17 1 14 1 22 1 6 1 21 1 2 1 6 1 5 1 17 1 3 1 4 1 16 2 2 1 7 1 4 1 28 1 6 1 2 1 5 1 4 1 17 1 1 1 35 1 13 1 15 1 490"/>
<path d="M261.5 205v490" stroke="#0000d4" stroke-width="9" stroke-dasharray="0 28 1 24 1 54 1 5 1 13 1 56 1 15 1 32 1 45 1 8 1 47 1 3 1 6 1 16 1 5 1 3 1 26 1 31 3 15 1 3 1 26 1 3 1 490"/>
<path d="M261.5 205v490" stroke="#0000df" stroke-width="9" stroke-dasharray="1 12 1 11 1 20 1 16 1 9 1 41 2 7 1 12 1 48 1 28 2 2 2 4 1 29 2 12 1 7 1 22 1 17 1 7 1 26 1 10 1 18 1 39 1 20 1 25 1 2 1 490"/>
<path d="M261.5 205v490" stroke="#0000ea" stroke-width="9" stroke-dasharray="0 24 1 109 1 16 1 10 1 13 1 11 1 8 1 28 1 12 1 2 1 30 1 13 1 16 1 28 1 8 1 1 1 35 1 8 1 9 1 12 1 8 1 2 1 15 1 2 1 23 1 490"/>
<path d="M261.5 205v490" stroke="#0000f4" stroke-width="9" stroke-dasharray="0 44 1 9 1 39 1 6 1 51 1 17 1 34 1 1 1 87 2 4 1 56 1 26 1 35 1 62 1 490"/>
<path d="M261.5 205v490" stroke="#0000ff" stroke-width="9" stroke-dasharray="0 33 1 26 3 16 1 10 1 1 1 19 1 6 1 1 1 7 1 2 2 6 1 22 2 7 2 3 2 3 1 1 1 11 1 7 1 5 1 2 1 10 1 7 2 3 1 3 1 4 1 2 1 24 1 8 1 22 2 4 1 2 2 12 3 4 1 1 1 6 1 3 1 17 1 11 1 7 1 29 1 48 1 17 1 490"/>
<path d="M261.5 205v490" stroke="#0000ff" stroke-width="9" stroke-dasharray="0 100 1 19 1 58 2 24 1 5 2 1 1 29 1 16 2 1 2 25 2 26 3 2 1 10 1 16 1 5 1 2 1 16 1 17 1 16 1 18 1 5 2 29 1 490"/>
<path d="M261.5 205v490" stroke="#0019ff" stroke-width="9" stroke-dasharray="0 236 1 3 1 2 1 37 2 30 1 20 1 27 1 35 1 17 1 11 1 8 1 10 1 4 3 1 1 7 1 2 1 2 1 3 1 490"/>
<path d="M261.5 205v490" stroke="#0033ff" stroke-width="9" stroke-dasharray="0 458 1 5 1 490"/>
<path d="M261.5 205v490" stroke="#004dff" stroke-width="9" stroke-dasharray="0 449 1 490"/>
<rect x="266" y="205" width="10" height="490" fill="#0000aa"/>
<path d="M271.0 205v490" stroke="#00008a" stroke-width="10" stroke-dasharray="0 7 1 3 1 31 1 23 1 20 1 17 1 29 1 5 1 13 1 3 1 110 1 37 1 50 1 65 1 33 1 490"/>
<path d="M271.0 205v490" stroke="#000095" stroke-width="10" stroke-dasharray="0 8 2 4 1 2 1 18 1 52 1 14 1 12 1 32 1 6 1 16 2 15 1 3 1 27 1 23 2 30 1 14 1 55 1 31 1 1 1 9 1 10 2 1 1 10 1 10 1 4 1 6 1 19 1 19 1 490"/>
<path d="M271.0 205v490" stroke="#00009f" stroke-width="10" stroke-dasharray="0 19 1 1 2 6 3 12 1 4 1 5 1 2 2 4 1 3 1 15 1 8 1 8 1 2 1 17 1 1 1 4 1 2 1 7 1 5 1 6 2 5 1 47 1 17 1 2 2 18 1 1 1 6 1 7 1 4 1 5 1 16 1 14 1 44 1 7 1 5 1 4 1 15 1 12 1 5 1 10 1 2 1 1 1 1 1 8 1 8 1 5 1 7 1 1 1 15 1 490"/>
<path d="M271.0 205v490" stroke="#0000b5" stroke-width="10" stroke-dasharray="0 4 1 7 1 2 1 32 1 5 1 2 1 2 2 8 2 6 1 6 2 20 1 1 2 4 1 32 1 2 1 16 1 7 1 30 1 9 1 4 1 31 1 3 1 16 1 23 1 22 1 5 1 11 1 7 1 5 1 1 2 14 2 17 3 1 1 15 1 3 1 1 1 4 1 1 1 4 1 1 1 2 1 6 1 1 1 2 1 5 1 33 1 490"/>
<path d="M271.0 205v490" stroke="#0000bf" stroke-width="10" stroke-dasharray="0 1 1 1 1 2 1 13 1 5 1 7 2 4 1 6 1 5 1 2 1 16 1 23 1 13 1 15 2 6 1 2 1 13 1 13 2 18 2 11 1 15 1 2 1 6 1 8 2 27 1 1 1 19 1 3 1 11 1 12 1 10 1 21 1 10 2 10 1 4 1 9 1 13 1 70 1 2 1 6 1 490"/>
<path d="M271.0 205v490" stroke="#0000ca" stroke-width="10" stroke-dasharray="0 25 1 40 1 7 1 7 1 8 1 3 1 3 1 37 1 6 1 1 1 11 1 19 1 19 1 42 1 3 1 3 1 26 2 9 2 1 1 20 1 5 2 7 1 19 1 18 2 4 1 29 1 54 1 10 1 10 1 9 1 490"/>
<path d="M271.0 205v490" stroke="#0000d4" stroke-width="10" stroke-dasharray="0 51 1 66 1 5 1 6 1 7 1 5 1 16 1 7 1 2 1 16 1 9 1 7 1 2 1 1 1 6 1 5 1 12 1 20 1 23 1 46 1 5 1 11 1 52 1 18 1 52 1 8 1 1 1 490"/>
<path d="M271.0 205v490" stroke="#0000df" stroke-width="10" stroke-dasharray="0 13 1 66 1 2 1 117 1 62 1 17 1 15 1 3 1 3 1 5 1 14 1 5 1 5 1 57 1 6 1 9 1 43 1 30 1 490"/>
<path d="M271.0 205v490" stroke="#0000ea" stroke-width="10" stroke-dasharray="1 26 1 4 1 79 1 1 1 34 1 15 1 11 1 11 1 13 1 47 1 41 1 11 1 24 1 7 1 2 2 38 1 6 1 490"/>
<path d="M271.0 205v490" stroke="#0000f4" stroke-width="10" stroke-dasharray="0 28 1 63 1 8 1 19 1 7 1 2 1 46 1 13 1 12 1 21 1 9 1 7 1 45 1 4 1 31 1 22 1 65 1 25 1 2 2 22 2 490"/>
<path d="M271.0 205v490" stroke="#0000ff" stroke-width="10" stroke-dasharray="0 24 1 21 1 3 1 12 1 8 1 3 2 16 1 1 1 1 1 9 1 10 1 20 1 12 1 10 1 7 1 7 1 1 3 3 1 21 1 8 1 1 1 2 1 8 1 8 1 12 3 3 1 7 1 3 1 6 1 23 1 2 1 5 1 2 1 19 1 6 1 1 1 7 1 13 1 9 1 2 1 5 1 2 1 26 1 23 1 16 1 10 1 7 1 2 1 490"/>
<path d="M271.0 205v490" stroke="#0000ff" stroke-width="10" stroke-dasharray="0 33 1 28 1 12 1 14 1 29 1 42 1 7 1 32 2 8 1 17 1 4 1 2 1 3 1 17 1 11 1 6 1 1 1 12 1 3 1 19 1 3 1 10 1 25 2 16 1 7 1 8 1 1 1 13 1 15 1 3 2 3 2 48 1 490"/>
<path d="M271.0 205v490" stroke="#0019ff" stroke-width="10" stroke-dasharray="0 100 1 135 1 6 1 47 1 27 1 1 1 12 1 43 1 34 1 25 1 9 1 3 3 10 1 2 1 490"/>
<path d="M271.0 205v490" stroke="#0033ff" stroke-width="10" stroke-dasharray="0 463 1 1 1 9 1 490"/>
<path d="M271.0 205v490" stroke="#004dff" stroke-width="10" stroke-dasharray="0 464 1 490"/>
<rect x="276" y="205" width="10" height="490" fill="#0000aa"/>
<path d="M281.0 205v490" stroke="#00008a" stroke-width="10" stroke-dasharray="0 9 1 11 1 45 1 47 1 252 1 36 2 10 1 42 1 1 1 490"/>
<path d="M281.0 205v490" stroke="#000095" stroke-width="10" stroke-dasharray="0 2 1 8 1 5 1 1 1 2 1 13 2 5 1 14 1 9 2 18 2 16 1 9 1 6 1 17 2 4 1 2 1 5 1 21 1 10 1 6 1 11 1 18 2 17 1 17 1 5 2 7 1 10 1 3 1 28 1 51 1 6 1 7 2 2 1 7 1 4 2 1 2 3 1 30 1 14 1 490"/>
<path d="M281.0 205v490" stroke="#00009f" stroke-width="10" stroke-dasharray="0 1 1 6 1 21 1 8 1 8 2 9 1 18 2 4 2 11 1 4 1 1 1 4 2 11 1 5 1 1 1 4 1 21 1 2 1 7 1 5 1 6 1 3 2 8 1 11 1 4 1 18 1 3 1 11 1 5 1 2 1 6 1 2 1 1 1 3 1 11 1 17 1 19 1 2 1 22 1 20 1 4 1 1 1 32 1 16 1 3 1 5 1 8 1 27 1 8 1 490"/>
<path d="M281.0 205v490" stroke="#0000b5" stroke-width="10" stroke-dasharray="0 15 2 9 1 8 1 8 1 2 1 9 1 15 2 36 1 22 1 4 1 11 1 2 1 47 1 20 1 1 1 32 2 25 2 8 1 18 1 3 1 11 2 8 1 25 1 17 1 14 1 4 1 11 1 5 2 3 1 1 1 8 1 17 1 11 1 1 1 13 1 490"/>
<path d="M281.0 205v490" stroke="#0000bf" stroke-width="10" stroke-dasharray="0 3 1 16 1 10 1 9 2 8 1 29 1 17 1 24 1 6 1 8 1 18 1 10 1 4 1 69 1 53 1 8 1 19 1 12 1 2 1 2 1 2 1 4 1 7 1 7 1 21 1 2 1 4 1 12 1 5 1 16 1 4 1 7 3 6 1 18 1 490"/>
<path d="M281.0 205v490" stroke="#0000ca" stroke-width="10" stroke-dasharray="0 28 1 31 2 1 1 18 1 8 1 15 1 4 1 1 1 3 1 6 1 10 1 15 1 26 1 29 1 3 1 2 2 15 2 34 1 5 1 11 1 15 1 7 1 8 1 17 1 13 1 5 1 5 1 8 1 23 1 2 1 52 1 25 1 490"/>
<path d="M281.0 205v490" stroke="#0000d4" stroke-width="10" stroke-dasharray="0 4 1 1 1 18 1 19 1 24 1 12 1 17 1 41 1 5 1 32 1 56 1 10 1 3 1 33 1 17 1 5 1 19 1 26 1 87 1 7 1 1 1 16 1 10 1 490"/>
<path d="M281.0 205v490" stroke="#0000df" stroke-width="10" stroke-dasharray="1 33 1 15 1 1 1 24 1 17 1 48 1 1 1 25 1 11 1 44 2 7 1 10 1 26 1 6 1 9 1 4 1 18 1 15 1 64 1 35 1 13 1 37 1 490"/>
<path d="M281.0 205v490" stroke="#0000ea" stroke-width="10" stroke-dasharray="0 12 1 10 1 3 1 18 1 28 1 45 1 10 1 40 1 14 1 14 1 2 1 11 1 3 1 13 1 4 2 62 1 18 1 11 1 28 1 19 1 57 1 490"/>
<path d="M281.0 205v490" stroke="#0000f4" stroke-width="10" stroke-dasharray="0 13 1 10 1 7 1 20 1 12 1 52 1 7 1 5 1 4 1 14 1 12 1 4 1 15 1 4 1 11 1 32 1 6 1 12 1 19 2 1 1 10 1 9 1 25 1 9 1 1 1 48 1 42 1 22 1 12 1 490"/>
<path d="M281.0 205v490" stroke="#0000ff" stroke-width="10" stroke-dasharray="0 56 1 14 2 3 1 3 1 9 1 1 1 1 1 5 1 7 1 11 1 8 1 7 1 24 1 14 1 15 1 5 1 1 1 8 1 4 1 3 1 4 1 26 1 8 2 11 2 6 2 9 1 3 2 2 1 18 1 6 1 8 1 6 1 6 1 1 1 1 2 12 1 11 1 1 1 4 1 2 1 22 1 5 1 44 1 7 2 3 1 490"/>
<path d="M281.0 205v490" stroke="#0000ff" stroke-width="10" stroke-dasharray="0 33 1 28 1 33 1 66 1 1 1 17 1 21 1 8 1 6 1 10 1 29 1 41 1 8 1 2 1 4 1 7 1 4 1 8 1 1 2 14 2 14 2 1 1 32 1 7 1 2 2 2 1 12 1 16 1 10 1 11 1 1 1 3 1 490"/>
<path d="M281.0 205v490" stroke="#0019ff" stroke-width="10" stroke-dasharray="0 98 1 65 1 11 1 23 1 39 1 2 1 63 1 79 1 44 2 5 2 3 1 20 1 9 1 490"/>
<path d="M281.0 205v490" stroke="#0033ff" stroke-width="10" stroke-dasharray="0 449 1 16 1 490"/>
<path d="M281.0 205v490" stroke="#004dff" stroke-width="10" stroke-dasharray="0 464 1 24 1 490"/>
<rect x="286" y="205" width="10" height="490" fill="#0000b5"/>
<path d="M291.0 205v490" stroke="#00008a" stroke-width="10" stroke-dasharray="0 8 2 38 1 9 1 29 1 12 1 13 1 70 1 2 1 57 1 42 1 19 1 64 1 6 1 34 1 42 1 490"/>
<path d="M291.0 205v490" stroke="#000095" stroke-width="10" stroke-dasharray="0 21 1 4 1 9 2 36 1 9 1 4 1 7 1 4 1 1 1 1 1 3 1 5 1 5 1 7 1 4 1 18 1 1 2 20 1 30 1 18 1 2 1 14 1 12 1 25 1 36 2 6 1 32 1 10 1 19 1 2 1 1 1 2 1 3 1 54 2 490"/>
<path d="M291.0 205v490" stroke="#00009f" stroke-width="10" stroke-dasharray="0 2 1 12 1 14 1 12 1 15 1 7 3 15 1 21 1 1 1 11 1 23 1 6 2 4 1 2 1 26 1 7 1 11 1 46 1 2 1 5 1 1 1 5 1 1 1 11 1 7 1 4 1 2 1 12 1 48 1 5 1 19 1 1 1 3 1 18 2 18 1 490"/>
<path d="M291.0 205v490" stroke="#0000aa" stroke-width="10" stroke-dasharray="0 3 1 1 1 8 1 3 1 1 1 17 3 16 1 6 1 14 1 6 1 25 1 13 1 7 1 15 1 11 1 22 1 4 1 25 1 8 1 1 1 1 1 15 1 11 1 7 1 2 1 1 2 12 1 3 2 43 1 10 1 5 1 18 1 2 1 3 1 26 1 1 1 1 1 6 1 4 1 2 2 21 2 31 1 1 1 490"/>
<path d="M291.0 205v490" stroke="#0000bf" stroke-width="10" stroke-dasharray="0 10 1 8 1 22 1 4 1 7 1 9 1 12 1 2 1 10 1 7 1 4 1 18 1 3 1 7 2 21 1 15 1 5 1 5 1 22 1 15 1 6 1 19 1 21 1 11 1 21 1 4 1 5 1 8 1 6 1 15 1 26 1 5 1 5 1 17 1 16 1 1 2 7 1 13 1 29 1 3 2 490"/>
<path d="M291.0 205v490" stroke="#0000ca" stroke-width="10" stroke-dasharray="0 6 1 22 1 15 1 5 1 18 1 11 2 27 1 2 1 2 1 7 1 12 3 1 1 1 1 25 1 9 1 3 1 9 1 3 1 3 1 2 3 9 1 4 1 19 1 9 1 3 1 3 1 18 1 1 1 21 1 2 1 18 1 5 1 6 2 7 1 8 1 2 1 52 1 490"/>
<path d="M291.0 205v490" stroke="#0000d4" stroke-width="10" stroke-dasharray="0 22 1 43 1 23 1 8 1 32 1 16 1 16 1 4 1 40 1 17 1 20 1 25 1 17 1 2 1 5 1 21 2 13 1 6 1 5 1 76 1 18 1 5 1 10 2 5 1 2 1 10 1 490"/>
<path d="M291.0 205v490" stroke="#0000df" stroke-width="10" stroke-dasharray="1 3 1 2 1 8 1 6 1 9 1 20 1 18 1 6 1 50 1 63 1 17 1 1 1 3 1 16 1 7 1 38 1 17 1 5 2 15 1 10 1 22 1 85 1 3 1 8 1 5 1 490"/>
<path d="M291.0 205v490" stroke="#0000ea" stroke-width="10" stroke-dasharray="0 13 1 13 1 7 1 10 1 14 1 13 1 20 1 21 1 8 1 55 1 27 1 6 1 19 1 10 1 55 1 22 1 3 1 9 1 8 1 1 1 70 1 48 1 490"/>
<path d="M291.0 205v490" stroke="#0000f4" stroke-width="10" stroke-dasharray="0 12 1 18 1 28 1 11 1 47 1 12 1 38 1 64 1 1 1 36 1 3 1 12 1 24 1 27 1 8 1 25 1 4 1 11 1 2 1 2 1 13 1 35 1 3 1 11 1 490"/>
<path d="M291.0 205v490" stroke="#0000ff" stroke-width="10" stroke-dasharray="0 24 1 3 1 21 1 5 1 5 1 8 1 5 1 13 1 3 1 12 1 20 1 13 1 2 3 14 1 13 1 4 1 10 1 38 1 10 1 6 1 3 1 6 1 1 1 3 1 1 1 3 1 4 1 13 1 3 1 15 1 3 2 1 1 14 1 2 1 7 1 3 1 12 1 14 2 5 1 3 2 3 1 19 1 7 1 25 1 4 2 11 1 17 1 490"/>
<path d="M291.0 205v490" stroke="#0000ff" stroke-width="10" stroke-dasharray="0 52 2 22 1 17 1 3 1 20 1 44 1 8 1 2 1 15 1 6 1 1 1 1 2 16 1 2 1 9 1 62 1 15 1 7 1 21 1 17 1 5 1 19 1 37 1 12 1 2 1 30 1 2 1 11 1 1 1 490"/>
<path d="M291.0 205v490" stroke="#0019ff" stroke-width="10" stroke-dasharray="0 32 1 132 1 34 1 39 1 21 1 117 1 51 2 5 2 1 2 11 1 15 1 4 1 490"/>
<path d="M291.0 205v490" stroke="#0033ff" stroke-width="10" stroke-dasharray="0 449 1 14 1 1 1 490"/>
<rect x="296" y="205" width="9" height="490" fill="#0000b5"/>
<path d="M300.5 205v490" stroke="#00008a" stroke-width="9" stroke-dasharray="0 9 1 48 1 63 1 11 1 51 1 103 1 19 1 59 1 26 1 4 1 490"/>
<path d="M300.5 205v490" stroke="#000095" stroke-width="9" stroke-dasharray="0 2 1 5 1 21 1 3 1 1 1 4 1 46 1 12 2 1 1 1 1 9 2 36 1 3 1 2 1 16 1 17 1 34 1 14 2 11 1 19 1 9 1 4 1 14 1 12 1 37 1 2 1 11 2 13 1 1 1 1 1 1 1 9 1 10 1 1 1 10 1 4 1 24 1 490"/>
<path d="M300.5 205v490" stroke="#00009f" stroke-width="9" stroke-dasharray="0 1 1 3 1 32 2 8 1 8 1 10 1 10 1 4 1 1 1 12 1 7 1 7 1 5 1 2 1 5 1 4 1 14 1 2 1 13 1 2 1 8 1 9 1 18 1 7 2 37 1 18 1 8 1 7 1 1 1 14 1 7 1 12 2 19 1 1 1 6 1 4 1 4 1 1 1 31 1 4 1 7 1 11 2 7 1 13 1 7 1 1 2 15 2 2 1 5 1 490"/>
<path d="M300.5 205v490" stroke="#0000aa" stroke-width="9" stroke-dasharray="1 2 1 17 1 11 1 6 1 10 1 7 1 4 1 2 1 17 1 11 1 7 1 4 2 6 1 4 1 2 1 9 1 20 1 1 1 9 1 15 1 12 1 21 1 1 2 4 2 3 1 2 1 21 1 11 3 11 2 15 2 8 1 3 1 7 1 1 1 31 2 15 1 7 1 10 1 4 2 23 1 10 1 1 1 19 1 16 2 5 1 3 3 490"/>
<path d="M300.5 205v490" stroke="#0000bf" stroke-width="9" stroke-dasharray="0 6 1 11 1 3 1 3 1 17 2 8 1 7 1 2 1 4 2 2 2 55 1 5 1 13 1 4 1 23 1 6 1 2 1 4 1 6 1 4 1 11 1 21 1 22 3 15 1 31 1 11 1 4 1 1 1 6 1 1 1 8 1 31 1 23 1 1 1 28 1 24 1 5 1 2 1 490"/>
<path d="M300.5 205v490" stroke="#0000ca" stroke-width="9" stroke-dasharray="0 10 1 8 1 9 1 12 1 3 1 8 2 4 1 4 1 14 1 1 1 6 1 18 1 2 1 1 1 68 1 26 1 24 1 6 1 13 1 31 1 10 1 19 1 19 1 4 1 9 1 7 1 3 1 11 1 42 1 31 1 490"/>
<path d="M300.5 205v490" stroke="#0000d4" stroke-width="9" stroke-dasharray="0 11 1 19 1 3 1 33 1 12 1 20 1 9 1 11 1 7 1 7 1 7 1 22 2 71 1 22 1 12 1 22 1 19 1 2 1 10 1 17 1 22 1 5 1 5 1 18 1 11 1 21 1 3 1 3 1 12 1 15 1 490"/>
<path d="M300.5 205v490" stroke="#0000df" stroke-width="9" stroke-dasharray="0 7 1 6 1 2 1 101 1 12 1 5 1 5 1 3 1 22 1 40 1 14 1 26 1 20 1 1 2 7 1 5 1 7 1 2 1 3 1 9 2 30 1 3 1 18 1 45 1 24 1 490"/>
<path d="M300.5 205v490" stroke="#0000ea" stroke-width="9" stroke-dasharray="0 12 2 2 1 7 1 2 1 15 1 9 1 6 1 47 1 46 1 20 1 27 1 1 1 19 1 3 1 1 1 11 1 4 1 2 1 34 1 17 1 6 1 33 1 8 1 5 1 11 1 3 1 105 1 490"/>
<path d="M300.5 205v490" stroke="#0000f4" stroke-width="9" stroke-dasharray="0 32 1 14 1 28 1 12 1 115 1 57 1 3 1 8 1 70 1 84 1 9 1 15 1 11 1 490"/>
<path d="M300.5 205v490" stroke="#0000ff" stroke-width="9" stroke-dasharray="0 72 1 5 1 12 2 27 1 7 1 11 1 4 1 1 1 16 2 11 1 3 1 2 1 14 1 1 1 9 1 1 1 24 2 3 1 7 1 8 1 34 1 2 1 35 1 1 2 3 1 1 1 1 1 2 1 37 1 1 1 12 1 9 1 2 2 11 1 3 1 7 2 9 1 16 1 8 1 490"/>
<path d="M300.5 205v490" stroke="#0000ff" stroke-width="9" stroke-dasharray="0 28 1 23 1 20 1 21 2 1 1 28 1 1 1 13 1 19 1 18 1 5 1 3 1 10 1 20 1 9 1 5 1 9 1 10 2 6 1 10 1 15 2 15 1 7 1 59 1 5 1 1 1 35 1 7 1 7 1 5 1 9 1 29 1 490"/>
<path d="M300.5 205v490" stroke="#0019ff" stroke-width="9" stroke-dasharray="0 94 1 51 1 46 1 6 1 166 1 12 1 32 1 35 1 14 1 1 1 4 1 490"/>
<rect x="305" y="205" width="10" height="490" fill="#0000b5"/>
<path d="M310.0 205v490" stroke="#00008a" stroke-width="10" stroke-dasharray="0 41 1 16 1 20 1 90 1 60 1 90 1 34 1 2 1 45 1 10 1 12 1 29 1 490"/>
<path d="M310.0 205v490" stroke="#000095" stroke-width="10" stroke-dasharray="0 8 2 2 1 10 1 10 1 1 1 5 1 12 1 28 2 11 1 1 1 11 1 4 2 4 1 7 1 11 1 14 2 8 1 18 1 2 1 35 1 31 1 36 1 6 1 6 3 18 3 20 1 1 1 3 2 3 1 6 1 5 1 7 1 11 1 6 1 5 1 9 1 6 1 11 1 5 1 33 3 1 1 1 1 490"/>
<path d="M310.0 205v490" stroke="#00009f" stroke-width="10" stroke-dasharray="2 11 1 21 1 13 1 13 1 11 1 30 1 2 1 2 2 5 1 4 1 8 2 6 1 8 1 8 1 1 1 13 1 2 1 47 1 18 2 11 1 12 2 6 1 5 1 3 1 13 2 9 1 38 1 7 1 2 1 29 1 9 1 13 1 3 1 5 2 4 2 25 2 10 1 490"/>
<path d="M310.0 205v490" stroke="#0000aa" stroke-width="10" stroke-dasharray="0 7 1 17 1 12 1 18 1 1 1 7 1 9 1 9 1 14 1 7 1 4 1 2 1 2 1 1 1 30 1 41 1 19 4 32 1 3 1 2 1 14 1 9 1 6 1 7 1 7 1 34 1 8 1 19 1 21 1 3 1 2 1 19 1 16 1 21 1 23 1 4 1 490"/>
<path d="M310.0 205v490" stroke="#0000bf" stroke-width="10" stroke-dasharray="0 6 1 13 1 5 1 2 1 10 1 15 1 5 1 23 1 13 1 13 1 10 1 6 1 3 1 15 1 2 1 6 1 6 1 4 1 4 1 3 1 10 2 2 1 9 1 11 1 7 2 7 1 35 1 3 1 12 1 4 1 17 1 1 1 7 1 20 1 3 1 1 1 22 1 33 1 4 1 23 1 11 1 2 1 3 1 7 1 1 1 2 1 3 1 4 1 7 1 490"/>
<path d="M310.0 205v490" stroke="#0000ca" stroke-width="10" stroke-dasharray="0 3 1 1 1 8 1 9 1 14 1 11 1 13 1 5 1 8 1 8 2 16 1 12 1 10 1 5 2 34 1 7 1 15 1 4 1 3 1 25 2 15 1 13 1 6 1 7 1 4 1 2 1 6 1 11 1 5 2 13 1 1 1 12 1 7 1 27 1 10 1 3 1 6 1 16 1 39 1 13 1 3 1 12 1 490"/>
<path d="M310.0 205v490" stroke="#0000d4" stroke-width="10" stroke-dasharray="0 4 1 6 1 3 1 14 1 23 1 6 1 2 1 1 1 9 1 6 1 51 1 32 1 8 1 9 1 16 1 5 1 24 1 2 2 47 1 37 1 53 1 2 1 2 1 9 1 9 1 18 1 32 1 31 1 490"/>
<path d="M310.0 205v490" stroke="#0000df" stroke-width="10" stroke-dasharray="0 10 1 10 1 25 1 12 1 37 1 28 1 1 1 15 1 14 1 46 1 6 1 7 1 42 1 9 1 22 1 1 1 1 1 3 1 13 1 22 1 2 1 9 1 21 1 31 1 41 2 12 1 2 1 490"/>
<path d="M310.0 205v490" stroke="#0000ea" stroke-width="10" stroke-dasharray="0 16 1 1 2 2 1 9 2 10 1 23 1 19 1 19 1 54 1 2 1 13 1 10 2 16 1 2 1 10 1 3 1 14 1 74 1 93 1 19 2 10 1 3 1 490"/>
<path d="M310.0 205v490" stroke="#0000f4" stroke-width="10" stroke-dasharray="0 17 1 9 1 3 1 13 2 49 1 51 1 4 1 76 1 23 1 12 1 72 1 33 1 11 1 11 1 14 1 28 1 7 1 3 1 12 1 490"/>
<path d="M310.0 205v490" stroke="#0000ff" stroke-width="10" stroke-dasharray="0 28 1 40 1 2 1 19 1 2 1 44 1 3 1 6 1 12 2 5 1 18 1 8 1 1 1 3 1 5 1 1 1 1 1 8 1 16 1 1 1 18 1 1 1 1 1 1 1 7 1 4 1 14 1 21 2 1 1 2 1 2 1 6 3 2 1 7 1 19 1 21 1 1 1 9 1 13 1 9 1 20 1 490"/>
<path d="M310.0 205v490" stroke="#0000ff" stroke-width="10" stroke-dasharray="0 52 2 37 1 2 1 33 1 14 1 2 2 24 1 11 1 8 1 6 1 2 1 36 1 9 2 9 1 7 1 22 1 4 1 39 1 95 1 7 1 7 1 8 1 16 2 490"/>
<path d="M310.0 205v490" stroke="#0019ff" stroke-width="10" stroke-dasharray="0 73 1 114 1 45 1 45 1 99 2 32 1 49 1 6 1 490"/>
<rect x="315" y="205" width="10" height="490" fill="#0000b5"/>
<path d="M320.0 205v490" stroke="#00008a" stroke-width="10" stroke-dasharray="0 1 1 3 1 61 1 2 1 71 1 27 1 65 1 72 1 50 1 45 1 53 2 490"/>
<path d="M320.0 205v490" stroke="#000095" stroke-width="10" stroke-dasharray="0 6 1 2 1 13 1 18 1 14 1 13 1 9 1 2 1 12 1 1 1 7 1 1 1 1 1 1 1 3 1 1 1 10 1 21 1 3 1 4 1 69 1 12 2 6 1 5 1 13 1 16 1 4 1 13 1 1 1 11 1 6 2 11 1 5 1 3 2 16 1 5 1 7 1 17 3 13 1 3 1 5 1 9 1 23 1 10 1 4 2 490"/>
<path d="M320.0 205v490" stroke="#00009f" stroke-width="10" stroke-dasharray="0 12 3 17 1 1 1 1 1 4 1 16 1 1 1 16 1 1 2 4 1 12 1 7 1 9 1 5 2 17 1 12 2 1 2 16 1 3 1 6 1 21 1 24 1 8 1 28 1 4 2 7 1 13 1 1 1 55 3 3 1 8 1 6 1 8 1 5 1 5 2 7 1 6 2 8 1 10 1 6 1 8 1 23 1 2 1 1 1 5 1 490"/>
<path d="M320.0 205v490" stroke="#0000aa" stroke-width="10" stroke-dasharray="1 6 2 16 1 9 1 7 1 12 1 4 1 3 2 19 2 13 1 1 1 8 1 5 1 5 1 12 1 33 1 2 1 14 1 17 1 1 1 22 1 2 1 19 3 2 1 18 1 7 1 2 2 8 1 24 1 15 1 1 1 10 1 6 1 2 1 6 1 3 1 14 1 2 1 2 2 13 1 7 1 9 1 18 1 8 3 12 1 490"/>
<path d="M320.0 205v490" stroke="#0000bf" stroke-width="10" stroke-dasharray="0 4 1 6 1 15 2 18 1 3 1 23 1 7 1 11 1 19 1 5 1 11 1 33 1 8 1 15 1 19 1 4 2 20 1 24 1 18 1 42 1 13 1 4 1 27 1 11 1 27 1 6 1 3 1 44 1 14 1 4 1 490"/>
<path d="M320.0 205v490" stroke="#0000ca" stroke-width="10" stroke-dasharray="0 2 1 12 1 4 1 1 1 1 1 5 1 2 1 4 1 15 1 8 1 30 1 7 1 2 1 26 1 12 1 13 1 6 1 27 1 1 1 9 1 12 1 4 1 13 1 9 1 4 2 15 1 11 1 22 1 9 1 2 2 18 1 5 1 17 1 5 1 8 2 4 1 21 1 15 1 11 2 7 1 13 1 19 1 8 1 490"/>
<path d="M320.0 205v490" stroke="#0000d4" stroke-width="10" stroke-dasharray="0 10 1 7 1 20 1 4 1 3 2 43 1 10 1 26 1 3 1 12 4 25 1 4 1 27 1 9 1 22 1 23 1 30 1 3 1 17 1 3 1 8 1 13 1 44 1 2 1 14 1 4 1 9 1 10 1 8 1 490"/>
<path d="M320.0 205v490" stroke="#0000df" stroke-width="10" stroke-dasharray="0 3 1 42 1 3 1 11 1 11 1 7 1 7 1 29 1 59 1 6 1 3 1 7 4 1 2 20 1 10 1 68 1 7 1 21 1 19 1 12 1 28 2 35 1 5 1 13 1 9 1 15 1 5 1 490"/>
<path d="M320.0 205v490" stroke="#0000ea" stroke-width="10" stroke-dasharray="0 21 1 9 1 5 1 21 1 67 1 10 1 1 1 80 1 1 1 4 1 11 1 8 1 1 1 22 1 62 1 8 1 3 2 30 1 3 1 25 1 61 1 490"/>
<path d="M320.0 205v490" stroke="#0000f4" stroke-width="10" stroke-dasharray="0 16 1 2 1 25 1 7 1 18 1 122 1 26 1 72 1 32 1 60 1 17 2 23 1 37 1 490"/>
<path d="M320.0 205v490" stroke="#0000ff" stroke-width="10" stroke-dasharray="0 17 1 34 1 15 2 22 1 3 1 32 1 13 1 3 1 15 3 3 1 3 1 9 3 2 1 4 1 17 1 1 1 15 1 11 1 8 1 12 1 1 1 3 1 5 1 16 1 4 1 9 1 9 1 9 1 7 1 3 1 15 1 18 1 16 1 22 1 28 1 490"/>
<path d="M320.0 205v490" stroke="#0000ff" stroke-width="10" stroke-dasharray="0 73 1 17 1 36 1 15 1 1 1 13 1 7 1 3 1 17 1 12 1 11 2 10 1 6 1 26 2 3 1 1 1 4 1 6 2 14 1 24 1 12 1 46 1 45 1 3 1 14 2 1 3 2 1 20 1 490"/>
<path d="M320.0 205v490" stroke="#0019ff" stroke-width="10" stroke-dasharray="0 214 1 165 1 83 1 1 1 4 1 490"/>
<rect x="325" y="205" width="9" height="490" fill="#0000aa"/>
<path d="M329.5 205v490" stroke="#00008a" stroke-width="9" stroke-dasharray="0 5 1 17 1 11 1 45 1 34 2 24 1 18 1 8 1 86 2 157 2 42 1 490"/>
<path d="M329.5 205v490" stroke="#000095" stroke-width="9" stroke-dasharray="1 5 1 2 1 10 1 11 3 1 1 5 1 17 1 6 1 2 1 9 1 7 1 8 1 1 1 6 2 14 1 3 1 28 1 51 1 44 1 18 1 37 4 7 1 1 1 7 1 9 1 11 1 4 1 3 1 2 1 1 1 9 1 29 1 2 1 14 1 3 1 23 2 3 1 1 1 1 1 11 1 4 1 9 1 490"/>
<path d="M329.5 205v490" stroke="#00009f" stroke-width="9" stroke-dasharray="0 1 1 2 1 2 2 4 1 7 2 35 1 3 1 1 1 1 1 18 1 3 1 22 2 4 2 5 1 4 1 2 2 2 1 16 1 1 3 19 2 17 1 7 1 12 1 19 1 5 2 10 1 13 1 5 1 17 1 6 1 6 1 4 1 9 1 14 2 5 1 2 1 10 2 2 1 8 1 2 1 3 1 21 2 15 1 10 1 7 2 1 1 21 1 7 1 6 1 2 1 4 1 490"/>
<path d="M329.5 205v490" stroke="#0000b5" stroke-width="9" stroke-dasharray="0 2 1 44 1 3 1 4 1 17 1 4 1 4 1 11 1 6 1 4 1 32 1 10 1 6 2 1 2 1 1 5 1 5 1 3 1 4 1 4 1 17 1 12 1 1 1 3 1 2 1 1 1 5 1 14 1 17 1 13 1 2 1 5 2 2 1 2 1 12 1 3 1 12 1 11 1 8 1 4 1 11 1 3 1 2 1 5 1 3 1 22 2 11 1 43 2 13 1 490"/>
<path d="M329.5 205v490" stroke="#0000bf" stroke-width="9" stroke-dasharray="0 16 1 9 1 4 1 9 1 8 1 4 1 1 1 10 1 6 1 7 1 2 1 4 1 8 1 9 1 3 1 16 1 6 2 8 1 33 1 38 1 1 1 1 1 14 1 6 1 36 2 1 1 12 1 4 2 14 1 20 1 25 1 4 1 11 1 4 1 5 1 23 1 21 2 12 1 14 1 9 1 2 1 2 1 490"/>
<path d="M329.5 205v490" stroke="#0000ca" stroke-width="9" stroke-dasharray="0 48 1 20 1 8 1 11 1 4 1 25 1 2 1 42 1 24 2 12 1 34 2 47 1 50 1 70 1 8 1 10 1 11 1 30 1 490"/>
<path d="M329.5 205v490" stroke="#0000d4" stroke-width="9" stroke-dasharray="0 15 1 14 1 9 1 4 1 7 1 17 1 122 1 9 1 12 1 44 1 1 1 13 1 4 1 67 1 30 1 10 3 9 1 13 1 49 1 490"/>
<path d="M329.5 205v490" stroke="#0000df" stroke-width="9" stroke-dasharray="0 3 1 20 2 23 1 22 2 8 1 97 1 9 1 5 1 13 1 8 1 7 1 1 1 35 1 13 1 13 1 56 1 3 1 95 1 32 1 490"/>
<path d="M329.5 205v490" stroke="#0000ea" stroke-width="9" stroke-dasharray="0 11 2 1 1 3 2 7 3 7 1 6 1 20 1 79 1 1 1 16 1 3 1 47 1 18 1 17 1 7 1 29 1 44 1 44 1 15 1 43 1 5 1 490"/>
<path d="M329.5 205v490" stroke="#0000f4" stroke-width="9" stroke-dasharray="0 17 1 20 1 7 1 57 1 41 1 54 1 10 1 2 1 34 1 16 1 20 1 36 1 20 2 51 1 54 2 9 1 490"/>
<path d="M329.5 205v490" stroke="#0000ff" stroke-width="9" stroke-dasharray="0 59 1 32 3 7 1 37 1 3 1 5 2 1 1 15 1 13 3 1 1 7 1 2 3 19 1 5 1 5 1 1 1 2 1 5 1 4 1 2 1 11 1 5 1 5 1 6 1 14 2 18 1 37 1 6 1 6 1 10 1 5 1 2 1 1 1 6 1 8 1 17 1 1 1 6 2 9 1 490"/>
<path d="M329.5 205v490" stroke="#0000ff" stroke-width="9" stroke-dasharray="0 39 1 12 1 52 1 22 2 42 2 14 1 13 2 7 1 1 1 35 1 18 1 4 2 17 1 25 1 8 2 5 2 1 1 54 1 15 1 22 1 7 1 6 1 2 1 1 1 14 1 490"/>
<path d="M329.5 205v490" stroke="#0019ff" stroke-width="9" stroke-dasharray="0 214 1 51 1 13 2 192 1 490"/>
<path d="M329.5 205v490" stroke="#0033ff" stroke-width="9" stroke-dasharray="0 464 1 490"/>
<rect x="334" y="205" width="10" height="490" fill="#0000aa"/>
<path d="M339.0 205v490" stroke="#00008a" stroke-width="10" stroke-dasharray="0 5 2 35 1 54 1 9 1 9 1 52 1 87 1 52 1 12 1 91 2 42 1 490"/>
<path d="M339.0 205v490" stroke="#000095" stroke-width="10" stroke-dasharray="2 7 1 25 1 7 1 6 2 27 1 6 2 20 2 3 1 12 2 5 1 1 1 6 1 11 2 1 2 30 1 43 1 4 1 31 1 5 1 12 1 4 1 27 1 6 2 17 2 14 1 7 1 6 1 44 1 25 1 8 1 490"/>
<path d="M339.0 205v490" stroke="#00009f" stroke-width="10" stroke-dasharray="0 10 1 5 1 4 1 1 1 10 1 1 1 10 1 1 1 10 1 2 1 21 1 2 2 8 2 6 1 4 1 2 1 1 1 8 1 4 1 1 1 10 1 4 1 7 1 8 2 9 1 2 1 1 1 15 1 7 1 12 1 8 1 2 1 21 1 4 1 3 1 45 2 1 1 9 2 1 1 14 1 3 1 18 1 4 1 2 1 14 2 2 1 20 1 8 1 4 1 5 2 7 1 1 1 11 1 8 1 6 1 11 1 7 1 490"/>
<path d="M339.0 205v490" stroke="#0000b5" stroke-width="10" stroke-dasharray="0 2 2 37 1 12 1 2 1 9 1 47 1 4 1 3 1 9 1 1 1 7 1 8 1 58 1 8 1 2 1 22 1 2 1 8 1 5 1 22 1 10 1 3 1 11 1 17 1 5 1 35 1 11 1 15 1 8 1 43 1 6 1 7 1 1 1 4 1 2 1 3 1 490"/>
<path d="M339.0 205v490" stroke="#0000bf" stroke-width="10" stroke-dasharray="0 8 1 23 1 13 1 14 1 4 1 6 1 36 1 20 1 28 1 6 1 23 3 10 1 6 1 42 2 11 1 9 1 8 1 3 3 9 1 13 1 19 1 3 2 1 1 16 1 32 1 8 1 30 1 9 1 5 1 1 1 3 1 6 1 4 1 8 2 8 1 490"/>
<path d="M339.0 205v490" stroke="#0000ca" stroke-width="10" stroke-dasharray="0 11 1 25 1 2 1 12 1 14 1 5 1 1 1 26 2 14 1 1 1 6 1 8 1 14 1 24 2 38 1 4 1 12 1 3 2 2 1 25 1 1 1 15 1 7 1 23 1 14 2 11 1 4 2 14 1 2 1 1 1 20 1 1 1 16 1 28 1 10 1 490"/>
<path d="M339.0 205v490" stroke="#0000d4" stroke-width="10" stroke-dasharray="0 27 2 29 1 11 1 9 1 3 1 7 1 8 1 27 1 31 1 9 1 14 2 12 1 18 2 4 2 4 1 12 1 11 1 21 1 34 1 12 1 4 2 24 1 39 1 2 2 32 1 34 1 5 1 490"/>
<path d="M339.0 205v490" stroke="#0000df" stroke-width="10" stroke-dasharray="0 12 1 7 1 34 1 39 1 6 1 20 1 21 1 1 1 42 1 10 1 40 1 21 1 40 1 8 1 48 1 57 1 13 1 34 1 1 1 490"/>
<path d="M339.0 205v490" stroke="#0000ea" stroke-width="10" stroke-dasharray="0 14 2 1 1 11 1 8 1 61 1 38 1 73 1 14 1 3 1 20 1 42 1 49 1 20 1 9 1 13 1 23 1 3 2 490"/>
<path d="M339.0 205v490" stroke="#0000f4" stroke-width="10" stroke-dasharray="0 24 2 46 1 89 1 36 1 6 1 61 1 3 1 12 1 64 2 2 1 1 1 13 1 3 1 23 1 32 1 42 1 490"/>
<path d="M339.0 205v490" stroke="#0000ff" stroke-width="10" stroke-dasharray="0 30 1 8 1 4 1 7 1 3 1 14 1 3 1 5 3 6 1 2 2 43 1 1 1 22 2 3 2 2 2 9 2 3 1 9 1 4 1 5 2 5 1 17 1 6 1 7 1 13 1 9 1 1 1 3 1 3 1 13 1 8 1 10 1 44 1 17 2 4 1 2 1 17 1 3 1 2 1 10 2 12 1 1 1 3 1 1 1 18 1 490"/>
<path d="M339.0 205v490" stroke="#0000ff" stroke-width="10" stroke-dasharray="0 19 1 39 1 5 1 25 1 13 1 40 1 3 2 33 1 8 3 5 1 12 1 32 1 17 1 7 1 5 3 35 1 6 1 1 2 8 1 17 1 26 1 12 1 36 1 31 2 17 2 490"/>
<path d="M339.0 205v490" stroke="#0019ff" stroke-width="10" stroke-dasharray="0 214 1 177 1 15 1 18 1 18 1 7 1 490"/>
<rect x="344" y="205" width="10" height="490" fill="#0000b5"/>
<path d="M349.0 205v490" stroke="#000080" stroke-width="10" stroke-dasharray="0 107 1 490"/>
<path d="M349.0 205v490" stroke="#00008a" stroke-width="10" stroke-dasharray="0 2 1 1 3 27 1 73 1 2 1 4 1 10 1 42 1 105 1 44 2 93 2 42 1 18 2 490"/>
<path d="M349.0 205v490" stroke="#000095" stroke-width="10" stroke-dasharray="0 3 1 3 1 1 1 8 1 30 1 12 1 25 1 8 1 4 1 3 1 2 1 2 1 4 1 34 1 5 1 20 1 1 1 7 1 43 1 17 1 6 1 6 1 4 1 23 1 16 1 12 1 5 1 18 1 11 1 13 1 42 1 3 1 15 1 13 1 15 1 9 1 9 1 490"/>
<path d="M349.0 205v490" stroke="#00009f" stroke-width="10" stroke-dasharray="0 1 1 14 1 18 2 5 1 4 1 2 2 27 1 6 2 1 1 8 2 15 1 9 2 5 2 14 1 5 2 9 1 60 1 4 1 8 1 11 1 36 1 17 1 1 2 4 2 3 1 8 1 1 1 3 1 8 1 3 1 29 2 16 1 43 1 18 1 3 1 3 1 13 1 490"/>
<path d="M349.0 205v490" stroke="#0000aa" stroke-width="10" stroke-dasharray="0 26 1 10 1 10 1 5 1 5 1 2 1 10 1 9 1 11 1 4 1 1 1 10 1 15 1 46 1 12 1 14 1 6 1 5 1 2 1 7 2 7 1 25 1 34 3 6 1 14 1 14 1 3 2 15 2 13 1 6 1 1 2 5 1 13 1 4 1 2 1 11 1 4 1 7 1 6 1 6 1 4 1 20 1 490"/>
<path d="M349.0 205v490" stroke="#0000bf" stroke-width="10" stroke-dasharray="0 8 1 1 1 1 1 8 2 6 1 3 1 30 1 27 1 26 2 1 1 6 1 6 2 3 1 29 1 6 1 1 1 1 1 14 1 6 1 6 1 8 1 4 1 15 1 4 1 12 1 27 1 31 1 5 1 6 1 6 1 23 2 12 1 8 2 3 1 2 1 7 1 30 2 4 1 3 1 17 2 1 1 6 1 490"/>
<path d="M349.0 205v490" stroke="#0000ca" stroke-width="10" stroke-dasharray="0 13 1 14 1 1 2 6 1 7 1 8 2 2 1 17 2 11 1 3 1 28 1 7 1 21 1 10 1 1 1 9 1 29 1 12 1 3 1 20 1 18 1 3 1 10 1 16 1 62 1 10 1 23 1 3 1 8 1 29 1 4 2 5 1 20 1 6 1 8 1 490"/>
<path d="M349.0 205v490" stroke="#0000d4" stroke-width="10" stroke-dasharray="1 13 1 5 1 2 1 29 1 7 1 3 1 14 1 53 1 4 1 16 1 4 2 21 1 2 1 4 1 7 1 16 1 4 1 22 1 1 1 2 1 2 2 5 1 27 1 17 1 10 2 14 2 1 1 4 1 4 1 3 1 14 2 1 1 3 1 12 1 24 1 4 1 19 1 10 1 2 1 7 1 7 1 4 1 3 1 11 1 490"/>
<path d="M349.0 205v490" stroke="#0000df" stroke-width="10" stroke-dasharray="0 11 1 57 1 1 2 45 1 5 1 3 1 15 1 29 1 18 1 2 1 2 1 24 1 11 1 32 1 67 1 44 1 6 1 10 1 2 1 15 1 1 1 50 1 2 1 8 1 490"/>
<path d="M349.0 205v490" stroke="#0000ea" stroke-width="10" stroke-dasharray="0 15 1 8 1 18 1 1 1 11 1 33 1 51 1 24 1 6 1 31 1 145 1 41 1 3 1 13 1 39 1 12 1 490"/>
<path d="M349.0 205v490" stroke="#0000f4" stroke-width="10" stroke-dasharray="0 19 1 7 1 4 1 8 1 41 1 76 1 8 1 16 1 8 1 7 1 30 1 31 1 29 2 53 1 93 1 1 1 25 1 490"/>
<path d="M349.0 205v490" stroke="#0000ff" stroke-width="10" stroke-dasharray="0 68 1 1 1 11 1 12 1 8 1 16 1 16 1 1 1 10 1 7 1 7 1 5 1 9 1 1 1 5 1 2 1 6 1 6 1 1 1 5 1 11 1 6 1 6 1 25 1 2 3 1 1 3 1 1 5 5 2 12 1 20 1 13 1 13 3 14 1 1 1 6 1 11 1 8 1 12 1 15 2 490"/>
<path d="M349.0 205v490" stroke="#0000ff" stroke-width="10" stroke-dasharray="0 39 1 4 1 7 1 22 2 23 1 4 1 41 1 2 1 12 1 8 1 15 1 13 1 10 1 1 1 32 2 24 1 5 1 47 1 28 1 9 1 2 1 37 1 2 1 8 1 5 2 4 1 21 1 3 1 490"/>
<path d="M349.0 205v490" stroke="#0019ff" stroke-width="10" stroke-dasharray="0 145 2 51 1 10 1 4 1 112 1 97 1 57 1 490"/>
<rect x="354" y="205" width="10" height="490" fill="#0000ff"/>
<path d="M359.0 205v490" stroke="#00008a" stroke-width="10" stroke-dasharray="0 2 2 1 1 101 3 123 1 42 1 45 1 93 1 35 1 490"/>
<path d="M359.0 205v490" stroke="#000095" stroke-width="10" stroke-dasharray="0 1 1 2 1 4 1 24 1 10 1 41 1 44 1 1 1 19 1 22 1 53 2 25 1 5 1 5 1 23 1 21 1 4 1 2 1 21 1 14 1 28 1 26 1 6 1 8 2 16 1 8 1 2 1 15 2 490"/>
<path d="M359.0 205v490" stroke="#00009f" stroke-width="10" stroke-dasharray="0 7 2 7 1 4 1 4 1 2 1 12 1 4 1 25 1 12 1 1 1 4 2 3 1 12 1 2 1 1 1 2 1 4 1 4 1 6 2 11 1 20 1 10 1 7 1 22 1 5 1 8 1 24 1 29 1 24 1 2 1 1 1 2 1 7 1 1 1 9 2 21 1 1 1 3 1 9 2 5 1 2 1 52 2 4 2 17 1 4 2 490"/>
<path d="M359.0 205v490" stroke="#0000aa" stroke-width="10" stroke-dasharray="0 11 1 16 1 17 1 2 1 29 1 1 1 17 1 10 1 1 1 4 1 7 1 1 1 2 1 2 1 1 1 5 1 1 1 8 1 5 1 20 1 2 1 7 1 30 1 14 1 1 1 12 1 3 1 9 1 1 1 10 2 6 1 2 1 21 1 2 1 4 2 26 1 1 1 29 1 3 1 2 1 1 1 20 1 25 1 3 2 5 1 8 1 9 2 2 1 1 1 14 1 1 1 490"/>
<path d="M359.0 205v490" stroke="#0000b5" stroke-width="10" stroke-dasharray="0 6 1 7 2 20 3 4 2 3 1 4 1 4 1 3 2 14 1 10 1 7 1 4 2 2 1 35 1 21 2 26 1 24 1 2 1 16 1 2 2 26 1 33 1 3 1 32 1 5 1 8 1 4 1 9 1 2 1 5 1 14 1 2 1 6 1 2 2 4 1 2 1 6 2 4 1 2 1 24 2 14 1 14 1 490"/>
<path d="M359.0 205v490" stroke="#0000bf" stroke-width="10" stroke-dasharray="0 18 2 13 1 7 1 8 2 7 2 7 1 2 2 17 1 1 1 3 1 21 1 12 1 16 1 6 1 18 1 8 1 7 1 1 1 3 1 9 1 16 1 4 1 31 2 6 1 7 1 6 1 32 1 13 1 8 3 9 1 12 1 2 1 7 1 8 1 1 1 6 2 1 1 4 1 18 1 23 1 4 1 13 1 16 2 1 2 490"/>
<path d="M359.0 205v490" stroke="#0000ca" stroke-width="10" stroke-dasharray="0 13 1 6 1 10 2 2 1 25 1 2 1 4 1 53 1 14 1 39 1 7 2 6 1 35 1 8 1 23 1 19 1 3 1 25 1 15 2 6 1 32 1 11 1 35 1 23 1 16 1 1 1 14 1 490"/>
<path d="M359.0 205v490" stroke="#0000d4" stroke-width="10" stroke-dasharray="0 17 1 67 1 9 1 19 1 23 1 13 1 15 1 10 1 3 1 19 1 3 1 7 1 17 1 11 1 24 3 24 2 9 1 34 1 17 1 10 1 31 1 4 1 42 1 490"/>
<path d="M359.0 205v490" stroke="#0000df" stroke-width="10" stroke-dasharray="0 10 1 1 1 57 1 3 1 5 1 10 1 9 1 18 1 1 1 3 1 1 1 31 1 27 1 6 2 3 1 9 1 14 1 17 1 10 1 35 1 4 1 37 1 4 1 4 1 45 1 8 1 5 1 31 1 10 2 21 1 490"/>
<path d="M359.0 205v490" stroke="#0000ea" stroke-width="10" stroke-dasharray="0 23 3 28 1 2 1 8 2 76 1 11 2 8 1 44 1 30 1 6 1 35 1 7 1 9 1 4 1 17 1 7 1 13 1 14 1 36 1 12 1 11 1 28 1 3 1 30 1 490"/>
<path d="M359.0 205v490" stroke="#0000f4" stroke-width="10" stroke-dasharray="0 30 1 9 1 36 1 5 1 37 1 18 1 9 1 10 1 9 1 31 1 46 1 2 1 2 2 1 1 21 1 18 1 56 1 71 1 2 1 45 1 490"/>
<path d="M359.0 205v490" stroke="#0000ff" stroke-width="10" stroke-dasharray="0 52 1 22 1 6 1 62 1 1 1 20 1 29 1 3 1 3 1 2 1 3 1 8 1 25 1 25 1 16 1 36 1 38 1 12 1 11 1 15 1 11 1 20 1 7 1 23 3 490"/>
<path d="M359.0 205v490" stroke="#0019ff" stroke-width="10" stroke-dasharray="0 163 1 50 1 32 1 108 1 54 1 71 1 490"/>
<rect x="364" y="205" width="9" height="490" fill="#0000ff"/>
<path d="M368.5 205v490" stroke="#00008a" stroke-width="9" stroke-dasharray="0 3 1 83 1 6 1 12 2 8 1 150 1 7 1 490"/>
<path d="M368.5 205v490" stroke="#000095" stroke-width="9" stroke-dasharray="0 5 1 5 1 7 1 1 1 20 1 2 1 1 2 2 1 29 1 7 1 13 1 15 1 12 1 16 1 81 1 5 1 31 2 23 1 26 1 13 1 6 1 45 1 1 1 21 1 3 1 7 1 9 1 3 1 12 2 6 1 3 1 21 1 490"/>
<path d="M368.5 205v490" stroke="#00009f" stroke-width="9" stroke-dasharray="0 2 1 17 1 5 1 1 2 14 1 1 1 31 1 9 1 1 1 4 1 1 1 11 1 1 2 5 1 6 1 5 1 5 2 13 1 1 1 3 1 18 1 3 1 1 1 5 1 5 1 36 2 20 1 12 1 11 1 2 1 7 1 19 1 4 1 6 1 1 1 11 1 10 1 13 1 7 1 15 2 2 1 10 1 6 1 7 1 6 1 10 1 3 1 1 1 4 1 1 1 17 1 15 1 5 1 490"/>
<path d="M368.5 205v490" stroke="#0000aa" stroke-width="9" stroke-dasharray="0 7 1 8 1 17 1 8 1 5 2 12 1 7 1 5 1 5 1 9 1 4 2 2 1 3 1 22 1 3 2 7 1 35 1 3 1 32 1 4 1 15 1 1 1 2 1 20 1 23 1 8 1 11 1 4 1 4 1 5 1 1 1 19 1 6 1 15 1 12 1 35 1 7 1 9 1 21 1 2 1 18 1 490"/>
<path d="M368.5 205v490" stroke="#0000b5" stroke-width="9" stroke-dasharray="0 37 2 29 1 4 1 36 1 3 1 1 1 3 1 3 1 11 1 2 1 15 3 14 1 13 1 3 1 5 1 6 1 3 1 34 1 8 2 2 1 19 1 1 2 4 1 19 1 7 1 4 1 2 2 18 3 9 1 23 1 7 2 34 1 23 1 11 1 12 1 490"/>
<path d="M368.5 205v490" stroke="#0000bf" stroke-width="9" stroke-dasharray="0 1 1 7 1 2 1 10 1 8 1 3 1 23 1 3 1 4 1 16 1 5 1 3 1 7 1 22 1 2 1 4 1 7 1 9 1 10 1 5 1 3 1 17 1 4 1 26 2 1 1 12 1 12 1 4 1 2 1 22 1 15 1 13 1 3 1 15 1 11 1 11 1 1 1 4 1 4 1 7 1 3 1 13 1 8 1 4 1 18 3 18 1 7 1 6 1 6 1 14 1 490"/>
<path d="M368.5 205v490" stroke="#0000ca" stroke-width="9" stroke-dasharray="0 4 1 1 1 7 2 1 1 6 1 6 1 1 1 38 1 6 2 10 1 30 2 26 2 21 1 5 1 7 1 6 1 10 1 6 1 8 1 8 1 41 1 36 1 20 1 6 2 20 1 4 1 8 1 5 1 17 1 4 1 33 1 3 1 21 1 490"/>
<path d="M368.5 205v490" stroke="#0000d4" stroke-width="9" stroke-dasharray="0 8 1 13 1 2 1 4 1 4 1 17 1 16 1 3 1 10 1 35 1 6 1 15 1 15 1 10 1 16 1 15 1 13 1 10 1 26 1 3 1 3 1 8 1 11 1 3 1 16 1 22 1 1 1 16 1 5 1 17 1 1 1 1 1 16 3 3 1 3 1 4 1 14 1 2 1 34 1 9 1 5 1 3 1 490"/>
<path d="M368.5 205v490" stroke="#0000df" stroke-width="9" stroke-dasharray="0 10 1 30 1 99 1 23 1 14 1 10 1 1 1 7 1 37 1 25 1 35 2 23 2 15 2 8 1 3 1 8 1 10 1 14 1 11 1 6 1 9 1 20 1 2 1 3 1 490"/>
<path d="M368.5 205v490" stroke="#0000ea" stroke-width="9" stroke-dasharray="0 13 1 4 1 47 1 8 1 25 1 24 1 72 1 23 1 47 1 2 1 6 1 26 1 40 1 48 1 28 1 26 1 1 1 21 1 3 1 5 1 490"/>
<path d="M368.5 205v490" stroke="#0000f4" stroke-width="9" stroke-dasharray="0 27 1 31 1 1 1 22 1 15 1 4 1 55 1 38 1 1 1 5 1 2 1 31 1 2 1 2 1 37 1 11 1 106 1 2 1 37 1 28 1 490"/>
<path d="M368.5 205v490" stroke="#0000ff" stroke-width="9" stroke-dasharray="0 40 1 13 1 1 2 82 1 4 1 1 1 15 1 4 2 36 1 6 1 8 1 12 1 8 2 1 1 18 1 13 1 7 1 2 3 34 1 3 2 22 1 5 1 4 1 80 1 18 1 1 1 3 3 8 1 4 1 490"/>
<path d="M368.5 205v490" stroke="#0019ff" stroke-width="9" stroke-dasharray="0 209 1 231 1 41 1 490"/>
<rect x="373" y="205" width="10" height="490" fill="#0000ff"/>
<path d="M378.0 205v490" stroke="#00008a" stroke-width="10" stroke-dasharray="0 42 1 2 1 41 1 21 1 278 1 62 1 490"/>
<path d="M378.0 205v490" stroke="#000095" stroke-width="10" stroke-dasharray="0 11 1 7 2 8 1 1 1 1 1 4 1 5 1 4 1 28 1 15 2 12 1 8 2 30 1 3 1 61 1 51 4 15 1 3 1 19 1 10 2 2 1 9 1 49 1 4 1 14 1 6 1 33 1 16 1 17 1 3 1 490"/>
<path d="M378.0 205v490" stroke="#00009f" stroke-width="10" stroke-dasharray="0 3 1 1 1 15 1 10 1 1 1 8 1 3 1 3 1 1 1 39 1 8 2 15 1 5 1 11 1 12 1 1 1 1 2 8 1 5 1 6 1 5 1 3 1 7 2 28 1 6 1 43 1 2 1 2 1 4 1 27 1 4 1 3 1 9 1 1 1 2 1 5 2 39 2 1 1 6 1 1 1 3 1 13 1 5 1 11 1 15 1 1 1 2 1 3 1 26 1 490"/>
<path d="M378.0 205v490" stroke="#0000aa" stroke-width="10" stroke-dasharray="0 4 1 5 1 6 1 4 1 5 1 1 1 6 1 10 1 1 1 12 1 24 1 2 2 5 1 8 1 25 1 8 1 8 1 4 2 20 1 3 1 11 1 12 1 2 1 18 1 22 1 19 1 2 1 9 1 8 1 16 1 2 1 22 1 4 1 4 2 3 1 8 1 12 1 7 1 21 1 12 1 15 1 4 1 19 1 21 1 1 1 490"/>
<path d="M378.0 205v490" stroke="#0000b5" stroke-width="10" stroke-dasharray="0 6 2 6 1 20 2 9 1 17 1 2 1 1 1 1 1 5 1 11 1 16 1 4 1 2 1 11 1 2 1 1 2 3 1 3 1 17 1 6 1 5 1 4 1 12 3 5 1 3 1 22 1 3 1 2 1 9 1 1 1 4 1 13 1 17 2 13 1 16 1 17 1 12 1 15 2 11 1 2 2 23 1 6 1 2 1 4 1 3 1 24 1 9 1 5 1 3 2 6 1 3 1 490"/>
<path d="M378.0 205v490" stroke="#0000bf" stroke-width="10" stroke-dasharray="0 2 1 36 1 26 1 16 1 2 1 12 1 20 1 3 1 5 1 7 1 2 1 27 1 16 1 1 1 14 1 13 1 9 1 21 1 8 1 12 1 28 1 22 1 17 1 23 2 27 1 8 1 4 1 9 1 5 1 10 1 21 1 19 1 490"/>
<path d="M378.0 205v490" stroke="#0000ca" stroke-width="10" stroke-dasharray="0 9 1 2 1 10 1 31 1 4 1 20 2 13 1 15 1 3 1 5 1 16 1 22 1 9 1 6 1 5 1 7 1 8 1 9 1 3 1 25 1 7 2 13 1 7 1 10 1 18 1 2 2 19 3 10 1 3 1 11 1 7 1 16 1 24 1 2 1 16 2 9 1 1 1 13 1 17 1 490"/>
<path d="M378.0 205v490" stroke="#0000d4" stroke-width="10" stroke-dasharray="0 8 1 4 1 10 1 16 1 10 1 17 1 3 1 10 1 35 1 21 1 37 1 24 1 7 1 8 1 2 1 27 1 54 1 7 1 8 1 4 1 19 1 17 1 21 1 5 1 15 2 8 1 19 1 490"/>
<path d="M378.0 205v490" stroke="#0000df" stroke-width="10" stroke-dasharray="0 1 1 14 1 1 1 6 1 42 1 66 1 27 1 28 1 12 1 14 1 12 1 27 1 2 1 13 1 10 1 15 1 10 1 2 1 18 1 32 1 48 1 4 1 2 1 33 1 16 1 7 1 490"/>
<path d="M378.0 205v490" stroke="#0000ea" stroke-width="10" stroke-dasharray="0 15 1 10 2 30 1 13 1 17 1 84 1 60 1 2 1 48 1 10 1 1 1 11 1 18 1 16 1 7 2 4 1 6 1 2 1 3 1 6 1 14 1 36 1 8 1 15 1 22 1 4 1 490"/>
<path d="M378.0 205v490" stroke="#0000f4" stroke-width="10" stroke-dasharray="0 73 1 5 1 4 1 12 1 25 1 3 1 45 2 5 1 40 1 23 1 9 2 17 1 27 1 5 1 59 1 9 1 13 1 8 1 28 1 490"/>
<path d="M378.0 205v490" stroke="#0000ff" stroke-width="10" stroke-dasharray="0 54 1 46 1 3 1 40 1 20 2 44 1 5 1 2 1 11 2 8 1 1 1 45 1 4 1 52 1 28 2 48 1 1 1 15 2 7 1 10 2 5 2 7 1 4 1 490"/>
<path d="M378.0 205v490" stroke="#0019ff" stroke-width="10" stroke-dasharray="0 56 1 18 2 3 1 272 1 87 1 28 1 490"/>
<path d="M378.0 205v490" stroke="#0033ff" stroke-width="10" stroke-dasharray="0 469 1 490"/>
<rect x="383" y="205" width="10" height="490" fill="#00009f"/>
<path d="M388.0 205v490" stroke="#00008a" stroke-width="10" stroke-dasharray="0 5 1 39 1 49 1 54 1 73 1 65 1 97 1 490"/>
<path d="M388.0 205v490" stroke="#000095" stroke-width="10" stroke-dasharray="0 31 3 10 1 3 1 25 1 19 1 12 3 8 1 18 1 14 1 2 1 14 1 6 2 3 1 6 1 20 1 14 1 42 2 6 1 2 1 7 1 26 1 5 1 14 1 3 1 35 1 22 1 16 1 35 1 24 2 2 1 5 1 490"/>
<path d="M388.0 205v490" stroke="#0000aa" stroke-width="10" stroke-dasharray="0 3 2 25 1 7 1 11 2 3 1 4 1 5 2 5 1 8 1 10 1 9 1 13 1 3 1 13 1 20 1 1 1 22 1 21 1 2 1 8 1 10 1 9 1 21 1 16 1 2 1 7 1 12 1 12 1 11 1 6 1 2 1 1 1 15 1 7 1 7 1 36 1 3 1 27 1 8 1 8 1 4 1 3 2 19 1 490"/>
<path d="M388.0 205v490" stroke="#0000b5" stroke-width="10" stroke-dasharray="0 7 1 11 1 3 2 11 1 2 1 6 1 21 1 2 2 5 1 23 1 11 1 14 3 8 1 8 1 1 1 19 1 14 2 8 1 2 1 14 1 13 1 2 2 8 1 21 1 7 1 10 1 2 1 12 1 29 1 1 1 20 1 4 1 13 1 7 1 15 1 1 1 11 1 1 1 2 2 5 1 5 1 31 1 4 1 490"/>
<path d="M388.0 205v490" stroke="#0000bf" stroke-width="10" stroke-dasharray="0 14 1 43 1 4 1 6 1 12 1 28 1 11 1 2 1 5 1 7 1 56 1 22 1 5 1 27 1 8 2 7 1 21 2 5 1 10 1 33 1 7 1 9 1 13 1 5 2 4 1 11 1 18 1 1 1 24 1 4 1 23 1 3 1 490"/>
<path d="M388.0 205v490" stroke="#0000ca" stroke-width="10" stroke-dasharray="0 2 1 15 1 6 1 2 1 40 1 19 1 1 1 4 1 13 2 1 1 5 1 12 1 5 1 24 1 12 1 2 1 11 1 17 1 10 1 8 1 4 2 4 1 4 1 10 1 5 1 4 1 12 1 26 2 6 1 7 1 3 1 10 1 1 1 4 1 18 1 1 1 2 1 27 1 46 1 26 1 490"/>
<path d="M388.0 205v490" stroke="#0000d4" stroke-width="10" stroke-dasharray="0 10 1 66 1 1 1 12 1 6 1 4 1 11 1 3 1 1 1 41 1 20 1 2 1 8 1 10 1 34 1 8 1 4 1 16 1 14 1 1 1 14 1 12 1 24 1 14 1 1 1 9 1 5 1 3 1 11 1 6 1 6 1 20 1 16 1 37 1 490"/>
<path d="M388.0 205v490" stroke="#0000df" stroke-width="10" stroke-dasharray="2 6 1 3 2 3 1 36 1 4 1 30 1 14 1 9 1 23 1 4 1 12 1 1 1 5 1 36 1 4 1 11 1 3 1 18 1 3 1 6 1 5 1 6 1 10 1 10 1 8 1 11 1 22 1 15 1 33 1 16 1 11 1 6 1 4 1 3 1 1 1 31 1 10 1 490"/>
<path d="M388.0 205v490" stroke="#0000ea" stroke-width="10" stroke-dasharray="0 15 1 11 1 37 1 19 1 37 1 42 1 7 2 18 1 23 1 62 1 35 1 11 1 11 1 15 1 9 1 16 1 16 1 30 1 3 1 1 1 9 1 3 1 15 1 490"/>
<path d="M388.0 205v490" stroke="#0000f4" stroke-width="10" stroke-dasharray="0 26 1 8 1 4 2 1 1 8 1 75 1 17 1 26 1 6 1 31 1 17 1 17 1 2 1 48 1 91 1 28 1 21 1 31 1 8 1 490"/>
<path d="M388.0 205v490" stroke="#0000ff" stroke-width="10" stroke-dasharray="0 16 1 40 1 3 2 18 1 6 1 8 2 1 2 32 1 12 1 12 3 4 2 3 1 19 1 11 2 5 1 1 1 8 1 14 1 1 1 7 1 1 1 51 1 14 1 9 1 6 1 16 1 2 1 8 1 9 2 6 1 14 1 10 1 18 1 4 2 2 1 4 3 5 1 8 2 4 1 7 1 8 1 7 1 490"/>
<path d="M388.0 205v490" stroke="#0000ff" stroke-width="10" stroke-dasharray="0 56 1 18 1 10 1 58 1 2 1 89 1 5 1 5 1 9 2 21 1 8 2 10 2 12 1 30 1 4 1 3 1 4 1 19 1 51 1 17 1 12 1 6 1 15 1 490"/>
<path d="M388.0 205v490" stroke="#0019ff" stroke-width="10" stroke-dasharray="0 76 1 3 1 103 1 8 1 248 1 24 1 1 1 4 1 13 1 490"/>
<rect x="393" y="205" width="9" height="490" fill="#00009f"/>
<path d="M397.5 205v490" stroke="#00008a" stroke-width="9" stroke-dasharray="0 4 2 5 1 9 1 20 1 31 1 42 2 22 1 74 1 8 1 43 1 17 1 42 1 15 2 40 1 15 1 7 1 490"/>
<path d="M397.5 205v490" stroke="#000095" stroke-width="9" stroke-dasharray="0 9 1 20 1 1 1 11 2 1 3 1 1 1 1 10 1 6 1 6 1 3 1 12 1 13 1 11 1 5 1 22 1 1 1 2 1 14 1 7 1 10 1 10 2 15 1 6 1 16 1 3 1 22 1 1 1 5 1 13 1 23 1 5 1 10 1 3 3 1 1 28 1 7 1 13 1 14 1 11 1 33 1 24 2 490"/>
<path d="M397.5 205v490" stroke="#0000aa" stroke-width="9" stroke-dasharray="1 23 1 4 1 20 1 14 1 6 1 14 1 5 1 12 1 3 1 2 2 7 1 2 1 4 1 4 1 2 1 4 1 12 1 2 1 9 1 9 1 11 1 7 1 20 1 8 1 3 1 2 1 52 1 13 1 6 1 2 1 5 1 2 1 5 1 4 2 5 1 30 1 2 1 3 1 15 1 1 1 12 1 3 2 9 1 25 1 8 1 20 1 4 1 490"/>
<path d="M397.5 205v490" stroke="#0000b5" stroke-width="9" stroke-dasharray="0 2 1 3 1 12 1 18 2 1 1 4 1 5 1 2 1 14 1 8 1 22 2 4 1 10 1 16 1 14 1 1 1 6 1 3 1 7 1 3 1 6 1 2 1 5 1 13 1 6 1 5 1 3 1 13 1 6 1 2 2 8 1 13 1 1 1 5 1 1 1 11 2 30 1 18 1 10 1 4 1 5 2 9 1 9 1 23 1 25 1 6 1 1 1 5 1 31 1 490"/>
<path d="M397.5 205v490" stroke="#0000bf" stroke-width="9" stroke-dasharray="0 10 1 2 1 20 1 25 1 5 1 1 1 14 2 4 1 1 1 13 1 6 1 2 2 14 1 1 1 5 2 30 1 23 1 1 1 12 1 51 1 3 1 5 1 12 1 10 1 10 1 7 1 75 1 9 2 27 1 2 1 5 1 1 1 1 1 5 1 10 1 1 1 15 1 490"/>
<path d="M397.5 205v490" stroke="#0000ca" stroke-width="9" stroke-dasharray="0 1 1 41 1 14 1 14 1 3 1 7 1 6 1 3 1 31 1 25 1 2 1 7 1 52 1 7 1 3 1 12 1 2 1 5 1 1 1 1 1 6 1 11 1 2 1 7 1 15 1 23 2 24 1 3 1 2 1 4 1 15 2 25 1 12 1 49 1 4 1 6 2 490"/>
<path d="M397.5 205v490" stroke="#0000d4" stroke-width="9" stroke-dasharray="0 36 2 21 1 63 2 4 1 14 1 4 1 25 1 26 1 4 1 14 1 26 1 9 1 14 1 7 1 16 1 17 1 27 1 24 1 11 1 38 1 10 1 1 1 5 1 7 1 7 1 9 1 4 1 490"/>
<path d="M397.5 205v490" stroke="#0000df" stroke-width="9" stroke-dasharray="0 7 2 5 1 2 2 44 1 5 1 34 1 57 1 17 1 1 1 11 1 13 1 3 1 8 1 33 1 8 1 12 1 28 1 2 1 31 1 19 1 17 1 6 1 5 1 25 1 7 1 11 1 24 1 3 1 1 1 490"/>
<path d="M397.5 205v490" stroke="#0000ea" stroke-width="9" stroke-dasharray="0 15 2 8 1 1 1 29 1 129 1 15 1 5 1 21 2 2 1 14 1 14 1 34 1 47 1 16 1 31 1 21 1 7 1 17 1 7 1 18 1 490"/>
<path d="M397.5 205v490" stroke="#0000f4" stroke-width="9" stroke-dasharray="0 35 1 25 1 26 1 1 1 6 1 1 1 1 1 30 1 13 1 1 1 17 1 6 1 7 1 3 1 2 1 22 1 15 1 12 1 1 1 37 1 2 1 14 1 5 1 24 1 24 1 7 1 6 1 29 2 5 1 1 1 13 1 5 2 28 1 9 1 10 1 490"/>
<path d="M397.5 205v490" stroke="#0000ff" stroke-width="9" stroke-dasharray="0 40 1 13 1 1 1 5 1 18 1 16 1 1 1 10 1 22 1 10 1 1 1 13 1 5 2 5 1 18 1 2 1 7 2 32 2 11 1 1 1 37 2 2 1 1 1 18 1 32 2 6 2 4 1 8 2 10 1 10 1 27 1 11 2 10 1 490"/>
<path d="M397.5 205v490" stroke="#0000ff" stroke-width="9" stroke-dasharray="0 26 1 48 2 43 1 63 1 75 2 39 1 3 1 12 1 34 1 29 1 41 1 5 1 10 1 14 1 15 1 13 2 490"/>
<path d="M397.5 205v490" stroke="#0019ff" stroke-width="9" stroke-dasharray="0 80 1 5 1 387 1 14 1 490"/>
<rect x="402" y="205" width="10" height="490" fill="#0000aa"/>
<path d="M407.0 205v490" stroke="#00008a" stroke-width="10" stroke-dasharray="0 4 2 3 1 3 1 14 1 1 1 43 1 43 1 22 1 21 1 53 1 121 1 6 1 8 1 490"/>
<path d="M407.0 205v490" stroke="#000095" stroke-width="10" stroke-dasharray="1 10 1 5 1 3 1 9 1 10 1 6 1 1 1 1 1 10 1 7 1 9 1 34 1 11 2 6 1 4 1 7 1 4 1 14 1 6 2 22 1 11 1 2 1 12 1 4 1 1 1 7 1 23 3 2 1 7 1 2 1 9 1 25 1 9 1 1 1 3 1 5 1 4 1 20 1 7 1 35 2 1 1 21 2 20 1 4 2 14 1 5 1 490"/>
<path d="M407.0 205v490" stroke="#00009f" stroke-width="10" stroke-dasharray="0 2 2 8 1 10 1 3 1 4 1 5 1 6 1 6 1 25 1 8 1 3 1 3 1 6 1 6 2 8 1 2 1 2 1 5 1 3 1 2 1 23 1 1 1 45 1 3 1 4 2 4 2 1 1 16 1 25 1 15 1 36 2 2 1 2 1 3 1 2 1 1 1 15 1 3 1 5 1 7 1 10 1 2 1 4 2 9 1 2 1 16 1 14 1 4 1 6 2 1 1 15 1 10 1 490"/>
<path d="M407.0 205v490" stroke="#0000b5" stroke-width="10" stroke-dasharray="0 8 1 1 1 9 1 8 1 13 1 3 1 10 1 33 2 22 1 17 1 19 1 2 2 12 1 4 1 2 1 6 1 13 1 1 1 32 1 15 2 9 1 3 2 6 3 5 1 5 1 10 1 3 1 9 2 6 1 21 1 17 1 7 1 12 1 22 1 3 1 17 1 25 1 25 1 3 1 3 1 490"/>
<path d="M407.0 205v490" stroke="#0000bf" stroke-width="10" stroke-dasharray="0 1 1 16 1 5 1 9 1 13 1 8 1 10 3 8 1 1 1 24 1 6 1 7 1 2 1 8 1 2 1 3 1 10 2 12 1 8 1 7 2 13 1 5 1 2 1 4 2 9 1 1 1 7 1 8 1 17 1 5 1 6 1 5 1 19 1 11 2 14 2 1 1 15 1 21 1 3 1 18 1 8 1 19 1 15 1 7 1 24 1 9 1 490"/>
<path d="M407.0 205v490" stroke="#0000ca" stroke-width="10" stroke-dasharray="0 33 1 10 1 5 1 33 2 8 1 20 1 7 1 8 1 16 1 9 1 35 2 26 1 15 1 8 1 9 1 41 1 21 2 9 1 7 1 2 1 9 1 4 1 3 1 23 1 29 1 22 1 490"/>
<path d="M407.0 205v490" stroke="#0000d4" stroke-width="10" stroke-dasharray="0 7 1 31 1 6 1 19 2 31 1 53 1 21 1 23 1 5 1 25 1 18 1 26 1 29 1 45 1 37 1 9 1 4 1 4 1 14 1 490"/>
<path d="M407.0 205v490" stroke="#0000df" stroke-width="10" stroke-dasharray="0 16 1 71 1 7 1 1 1 49 1 23 2 6 1 26 2 18 1 25 1 26 1 84 1 36 1 18 1 6 1 21 1 490"/>
<path d="M407.0 205v490" stroke="#0000ea" stroke-width="10" stroke-dasharray="0 15 1 3 1 5 2 9 2 3 1 18 1 36 1 5 1 86 1 3 1 9 1 33 1 4 1 2 1 55 1 6 1 5 1 18 1 23 1 33 1 37 1 27 1 7 1 490"/>
<path d="M407.0 205v490" stroke="#0000f4" stroke-width="10" stroke-dasharray="0 54 1 4 1 17 1 5 1 17 1 2 1 2 1 3 2 31 1 15 2 6 1 18 2 20 1 30 1 8 1 5 2 33 1 4 1 10 1 41 1 3 1 11 1 5 1 13 1 1 1 10 1 10 1 11 1 12 2 47 1 490"/>
<path d="M407.0 205v490" stroke="#0000ff" stroke-width="10" stroke-dasharray="0 35 1 20 1 4 1 3 1 10 1 9 1 3 1 14 1 33 1 6 2 18 1 14 1 11 1 43 1 4 1 11 1 5 1 2 1 19 1 5 1 1 1 4 2 3 1 2 1 11 3 30 1 22 1 10 1 5 1 6 1 25 2 1 1 3 1 1 1 13 1 2 2 6 1 14 1 490"/>
<path d="M407.0 205v490" stroke="#0000ff" stroke-width="10" stroke-dasharray="0 62 1 12 1 24 1 7 1 11 1 46 1 16 2 75 1 30 1 57 1 6 1 37 1 22 1 23 1 3 2 9 1 5 1 8 4 490"/>
<path d="M407.0 205v490" stroke="#0019ff" stroke-width="10" stroke-dasharray="0 40 1 39 1 64 1 159 1 67 1 114 1 490"/>
<path d="M407.0 205v490" stroke="#0033ff" stroke-width="10" stroke-dasharray="0 489 1 490"/>
<rect x="412" y="205" width="10" height="490" fill="#00009f"/>
<path d="M417.0 205v490" stroke="#00008a" stroke-width="10" stroke-dasharray="0 5 2 6 1 3 1 12 1 11 1 35 1 39 1 18 1 32 1 46 1 114 1 13 1 13 1 52 1 56 1 490"/>
<path d="M417.0 205v490" stroke="#000095" stroke-width="10" stroke-dasharray="0 2 1 4 1 1 1 11 1 6 1 2 1 17 1 24 1 16 1 17 1 4 1 2 1 4 1 5 1 5 1 3 1 2 1 86 3 13 1 13 1 20 1 1 1 2 1 2 1 6 1 3 1 15 1 4 2 3 1 5 1 8 2 14 2 11 1 9 1 1 2 6 1 17 1 5 1 23 4 21 1 2 2 2 1 490"/>
<path d="M417.0 205v490" stroke="#0000aa" stroke-width="10" stroke-dasharray="0 8 1 7 1 6 1 2 1 20 1 7 1 3 1 10 2 11 1 1 1 15 1 6 1 16 2 3 1 40 1 6 1 1 1 8 1 5 1 19 1 11 1 6 1 12 1 4 1 9 1 30 1 5 1 7 1 19 1 14 2 10 1 20 3 9 1 2 1 2 1 4 1 15 1 25 1 12 1 5 1 7 1 4 1 7 1 490"/>
<path d="M417.0 205v490" stroke="#0000b5" stroke-width="10" stroke-dasharray="0 10 2 32 1 1 1 4 2 16 1 12 1 9 1 1 1 2 1 8 1 43 1 5 1 12 1 12 1 27 1 27 1 2 1 22 1 4 2 14 1 6 1 9 1 10 1 14 2 1 1 27 1 6 1 7 1 21 1 6 1 3 1 26 1 8 1 6 1 20 1 12 1 490"/>
<path d="M417.0 205v490" stroke="#0000bf" stroke-width="10" stroke-dasharray="0 3 1 8 1 16 1 34 1 1 1 26 1 9 1 39 1 16 1 1 1 5 1 22 1 10 1 8 1 6 2 2 2 9 1 34 1 6 1 34 1 1 1 5 1 2 1 14 1 7 1 6 1 5 1 5 1 6 1 8 1 19 1 15 1 4 1 3 1 1 1 35 1 14 1 1 1 1 1 5 1 490"/>
<path d="M417.0 205v490" stroke="#0000ca" stroke-width="10" stroke-dasharray="0 24 2 7 1 26 1 7 1 8 1 9 1 8 1 1 1 6 1 6 1 2 1 17 1 25 1 4 1 11 1 13 1 12 1 32 1 2 1 3 1 4 1 1 1 16 1 8 1 29 1 16 1 14 1 55 1 16 1 20 2 39 1 490"/>
<path d="M417.0 205v490" stroke="#0000d4" stroke-width="10" stroke-dasharray="0 1 1 13 1 18 1 3 1 4 1 6 1 7 1 29 1 51 1 25 1 5 1 8 1 5 1 5 1 27 1 20 1 13 1 2 1 3 1 10 1 2 2 3 1 7 1 6 1 43 1 27 1 16 1 2 1 12 1 7 1 5 2 1 1 10 1 4 1 13 1 1 1 26 1 490"/>
<path d="M417.0 205v490" stroke="#0000df" stroke-width="10" stroke-dasharray="0 18 2 21 1 14 1 6 1 15 1 4 1 46 2 42 1 3 1 17 1 33 1 14 1 8 1 9 2 41 2 5 1 19 1 16 1 18 1 29 1 40 1 3 1 490"/>
<path d="M417.0 205v490" stroke="#0000ea" stroke-width="10" stroke-dasharray="0 57 1 55 1 38 1 8 1 3 1 8 1 11 1 11 1 7 1 13 1 28 1 38 1 2 1 3 1 4 2 1 1 22 1 7 1 18 1 91 1 40 1 490"/>
<path d="M417.0 205v490" stroke="#0000f4" stroke-width="10" stroke-dasharray="0 35 3 1 1 14 1 12 1 13 1 8 1 9 1 3 1 34 1 11 1 1 1 46 1 13 1 17 1 7 1 19 2 21 1 12 1 8 1 16 1 22 1 2 1 15 1 19 1 23 2 11 3 7 1 34 1 490"/>
<path d="M417.0 205v490" stroke="#0000ff" stroke-width="10" stroke-dasharray="0 61 1 14 1 9 1 24 1 8 1 3 1 22 3 23 1 11 1 10 1 2 1 4 2 1 1 1 1 27 1 15 1 50 1 6 1 4 2 19 1 11 1 15 1 17 1 7 1 3 1 29 1 1 2 27 3 490"/>
<path d="M417.0 205v490" stroke="#0000ff" stroke-width="10" stroke-dasharray="0 40 1 34 1 4 1 63 2 21 1 15 2 23 1 80 1 82 1 19 1 25 1 10 1 18 1 25 3 5 2 490"/>
<path d="M417.0 205v490" stroke="#0019ff" stroke-width="10" stroke-dasharray="0 62 1 2 1 80 1 107 1 95 1 22 1 73 1 15 1 24 1 490"/>
<path d="M417.0 205v490" stroke="#0033ff" stroke-width="10" stroke-dasharray="0 489 1 490"/>
<rect x="422" y="205" width="10" height="490" fill="#00009f"/>
<path d="M427.0 205v490" stroke="#00008a" stroke-width="10" stroke-dasharray="0 6 1 23 2 17 1 41 1 10 1 31 1 33 1 1 1 113 1 47 1 13 1 8 1 11 1 32 1 37 2 24 2 490"/>
<path d="M427.0 205v490" stroke="#000095" stroke-width="10" stroke-dasharray="0 4 2 7 1 3 1 8 3 13 1 26 1 3 2 43 2 1 1 5 3 5 1 1 2 16 1 21 1 14 1 1 2 20 1 11 2 5 1 8 1 17 1 8 2 8 1 3 1 7 1 8 1 16 2 2 2 8 1 8 1 11 1 1 2 2 1 13 1 3 1 6 1 2 1 14 2 32 1 14 1 15 1 1 1 490"/>
<path d="M427.0 205v490" stroke="#0000aa" stroke-width="10" stroke-dasharray="0 7 1 6 1 7 2 8 1 11 1 3 1 21 1 1 1 20 1 5 1 5 1 4 1 19 1 28 1 3 1 1 2 4 1 4 1 5 1 4 2 14 1 2 1 3 1 4 1 15 1 10 1 5 1 21 1 2 1 2 2 2 1 1 1 3 1 3 1 36 1 2 1 28 1 3 1 18 1 3 1 7 1 3 1 2 1 22 1 34 1 2 1 8 2 7 1 3 1 490"/>
<path d="M427.0 205v490" stroke="#0000b5" stroke-width="10" stroke-dasharray="0 10 1 1 1 3 1 26 1 3 1 5 1 22 2 10 1 5 1 12 1 7 1 16 1 25 1 2 1 5 1 11 1 9 1 15 1 17 2 8 1 3 2 10 2 4 2 4 1 2 1 3 2 29 1 8 1 22 1 8 1 6 1 10 1 7 1 24 1 5 1 1 1 8 1 2 1 34 1 26 1 7 1 1 1 1 1 1 1 490"/>
<path d="M427.0 205v490" stroke="#0000bf" stroke-width="10" stroke-dasharray="1 2 1 21 1 3 1 3 1 7 1 8 2 12 1 16 1 14 1 14 1 2 1 8 1 18 2 9 1 6 1 36 1 14 3 4 1 2 1 20 1 7 2 34 1 4 1 4 1 11 1 3 1 12 1 12 1 1 1 9 1 24 1 2 1 22 1 3 1 2 1 5 1 4 1 14 2 4 4 8 1 12 1 7 1 3 1 490"/>
<path d="M427.0 205v490" stroke="#0000ca" stroke-width="10" stroke-dasharray="0 11 1 3 1 5 1 33 1 23 1 23 1 9 1 48 1 1 1 7 1 5 1 2 1 11 1 5 1 39 1 20 1 13 1 28 1 8 1 1 2 12 1 39 2 7 1 3 1 44 1 13 1 9 1 3 1 6 1 15 1 490"/>
<path d="M427.0 205v490" stroke="#0000d4" stroke-width="10" stroke-dasharray="0 24 1 9 1 32 1 15 1 1 1 1 1 2 1 1 1 43 1 3 1 3 1 7 1 37 1 27 1 15 1 31 1 51 1 3 1 25 1 4 1 16 2 24 1 10 1 13 1 10 2 48 1 3 1 490"/>
<path d="M427.0 205v490" stroke="#0000df" stroke-width="10" stroke-dasharray="0 1 1 17 1 32 1 4 1 28 1 10 1 28 1 12 1 167 1 30 1 6 1 3 1 14 1 19 1 25 1 3 1 16 1 13 1 33 1 490"/>
<path d="M427.0 205v490" stroke="#0000ea" stroke-width="10" stroke-dasharray="0 18 1 17 2 20 1 49 1 7 1 3 1 29 1 23 1 29 1 35 1 34 1 20 1 86 1 8 1 23 1 11 1 490"/>
<path d="M427.0 205v490" stroke="#0000f4" stroke-width="10" stroke-dasharray="0 35 1 3 1 6 1 7 1 5 1 63 1 6 1 19 1 21 1 22 1 1 1 1 1 1 1 8 1 20 1 26 1 5 1 12 1 12 1 2 1 6 1 8 1 10 1 101 1 5 1 33 1 490"/>
<path d="M427.0 205v490" stroke="#0000ff" stroke-width="10" stroke-dasharray="0 38 1 17 1 6 1 1 1 14 1 17 1 1 1 3 1 40 2 36 1 7 1 15 1 13 1 24 1 6 2 45 1 3 3 4 1 5 1 16 4 6 1 7 1 12 1 29 1 21 1 1 1 2 1 2 1 8 1 13 2 8 1 17 1 490"/>
<path d="M427.0 205v490" stroke="#0000ff" stroke-width="10" stroke-dasharray="0 40 1 34 1 8 1 62 1 1 1 25 1 8 2 22 2 10 1 67 2 5 1 20 1 33 1 21 2 53 1 19 1 8 2 17 1 490"/>
<path d="M427.0 205v490" stroke="#0019ff" stroke-width="10" stroke-dasharray="0 61 2 85 1 269 1 490"/>
<path d="M427.0 205v490" stroke="#0033ff" stroke-width="10" stroke-dasharray="0 488 2 490"/>
<rect x="432" y="205" width="9" height="490" fill="#00009f"/>
<path d="M436.5 205v490" stroke="#00008a" stroke-width="9" stroke-dasharray="0 6 1 10 1 8 1 168 1 33 1 54 1 47 1 13 1 490"/>
<path d="M436.5 205v490" stroke="#000095" stroke-width="9" stroke-dasharray="0 43 1 5 1 9 1 6 1 2 1 21 1 43 1 19 1 2 1 6 1 11 1 3 1 12 1 20 1 9 2 1 1 1 2 18 1 42 1 35 2 2 1 8 1 17 1 6 1 20 1 11 1 10 2 26 1 31 1 490"/>
<path d="M436.5 205v490" stroke="#0000aa" stroke-width="9" stroke-dasharray="0 13 1 16 1 22 1 14 1 8 2 14 1 15 1 24 1 22 1 65 1 11 1 1 2 4 1 1 1 9 1 4 1 6 1 3 1 4 1 5 1 2 1 12 1 10 1 11 2 5 1 14 1 1 1 8 1 4 1 20 1 1 1 2 1 1 1 3 1 6 1 9 1 4 1 24 1 20 2 19 1 490"/>
<path d="M436.5 205v490" stroke="#0000b5" stroke-width="9" stroke-dasharray="1 8 1 10 1 14 1 3 1 4 1 10 1 17 1 14 2 4 3 6 1 8 1 14 1 5 1 16 1 5 1 2 1 6 1 11 1 13 1 13 1 20 1 8 1 5 1 4 1 1 1 14 1 5 1 16 1 6 1 12 2 10 1 5 1 14 2 9 1 1 1 20 1 14 2 3 1 34 1 39 1 2 1 490"/>
<path d="M436.5 205v490" stroke="#0000bf" stroke-width="9" stroke-dasharray="0 22 3 2 2 4 1 7 1 8 1 35 1 12 1 17 1 1 1 6 1 16 1 10 1 8 1 6 1 27 1 12 1 5 1 23 1 6 1 20 1 3 1 5 1 75 1 1 1 3 1 4 1 14 1 33 1 14 1 1 1 2 1 18 1 490"/>
<path d="M436.5 205v490" stroke="#0000ca" stroke-width="9" stroke-dasharray="0 11 1 9 1 10 1 4 2 3 1 11 1 2 2 20 1 5 1 4 1 7 1 22 1 10 1 9 1 33 1 14 1 7 1 2 1 1 1 5 1 55 1 7 1 17 1 20 1 9 1 7 1 47 1 6 1 12 1 10 1 34 1 3 1 1 1 16 1 14 1 3 1 490"/>
<path d="M436.5 205v490" stroke="#0000d4" stroke-width="9" stroke-dasharray="0 12 1 21 1 36 1 12 1 2 1 9 1 8 1 4 1 1 1 14 1 10 2 21 1 4 1 18 1 9 1 15 1 1 1 6 1 29 1 37 1 15 2 37 1 2 1 14 2 1 1 26 2 2 1 12 1 68 1 490"/>
<path d="M436.5 205v490" stroke="#0000df" stroke-width="9" stroke-dasharray="0 47 2 2 1 8 1 6 1 2 1 5 1 24 1 3 1 4 1 4 1 57 1 23 1 15 1 82 1 29 1 8 2 2 1 36 1 7 1 10 1 1 1 5 1 32 1 3 1 9 1 1 1 11 1 16 1 2 1 490"/>
<path d="M436.5 205v490" stroke="#0000ea" stroke-width="9" stroke-dasharray="0 1 3 11 1 106 1 7 1 5 1 15 1 7 2 2 1 6 1 50 1 10 2 19 1 22 2 24 1 66 2 11 1 30 1 9 1 6 1 14 1 19 1 19 1 490"/>
<path d="M436.5 205v490" stroke="#0000f4" stroke-width="9" stroke-dasharray="0 10 1 3 1 21 1 8 2 60 1 16 1 26 1 20 1 1 2 6 1 18 1 44 1 12 1 1 1 3 1 2 1 41 1 1 1 64 1 29 1 8 1 27 1 22 1 490"/>
<path d="M436.5 205v490" stroke="#0000ff" stroke-width="9" stroke-dasharray="0 18 2 9 1 10 1 103 1 4 1 82 1 23 1 1 1 36 1 5 1 15 1 6 1 23 1 9 1 10 1 2 1 29 1 19 1 4 1 14 1 19 1 490"/>
<path d="M436.5 205v490" stroke="#0000ff" stroke-width="9" stroke-dasharray="0 52 1 11 2 6 1 8 1 10 1 15 1 14 1 7 1 21 1 15 1 9 1 3 1 6 1 2 1 6 1 7 1 9 2 19 2 11 2 3 1 17 1 15 1 5 1 2 1 3 1 6 1 2 2 2 1 30 2 1 1 11 1 3 1 4 1 63 1 10 1 4 1 7 1 17 1 490"/>
<path d="M436.5 205v490" stroke="#0019ff" stroke-width="9" stroke-dasharray="0 56 1 4 1 1 1 11 1 4 1 19 1 15 1 3 1 24 1 39 1 3 1 17 1 1 1 10 1 67 1 45 1 2 2 78 1 1 3 3 2 1 1 4 1 7 1 1 1 19 1 9 2 1 2 4 1 2 1 490"/>
<path d="M436.5 205v490" stroke="#0033ff" stroke-width="9" stroke-dasharray="0 62 1 41 1 41 3 35 1 131 1 101 1 4 1 23 1 9 1 490"/>
<path d="M436.5 205v490" stroke="#004dff" stroke-width="9" stroke-dasharray="0 434 1 21 1 1 1 16 1 490"/>
<path d="M436.5 205v490" stroke="#0080ff" stroke-width="9" stroke-dasharray="0 488 1 490"/>
<path d="M436.5 205v490" stroke="#00b2ff" stroke-width="9" stroke-dasharray="0 489 1 490"/>
<rect x="441" y="205" width="10" height="490" fill="#0000ff"/>
<path d="M446.0 205v490" stroke="#00008a" stroke-width="10" stroke-dasharray="0 6 1 188 1 27 1 155 1 490"/>
<path d="M446.0 205v490" stroke="#000095" stroke-width="10" stroke-dasharray="1 4 1 3 1 81 1 3 1 6 1 11 1 35 1 47 1 27 1 1 2 1 1 18 1 35 1 42 1 2 1 7 1 5 1 44 1 490"/>
<path d="M446.0 205v490" stroke="#00009f" stroke-width="10" stroke-dasharray="0 2 1 1 1 2 2 46 1 10 1 2 1 13 1 4 1 5 1 1 1 12 1 12 1 2 1 7 1 1 1 5 1 13 1 2 1 4 1 3 2 2 1 22 1 4 1 4 2 9 2 4 1 2 1 8 1 3 1 6 1 17 1 4 1 3 1 8 1 2 3 4 1 11 1 24 1 5 1 7 2 24 1 7 1 6 1 5 1 7 1 1 1 6 1 5 1 42 1 12 1 3 1 490"/>
<path d="M446.0 205v490" stroke="#0000aa" stroke-width="10" stroke-dasharray="0 17 1 6 1 1 1 4 1 36 1 7 1 8 1 26 1 5 1 2 1 4 1 11 1 21 1 16 1 3 1 14 1 25 1 2 1 1 1 2 1 4 1 2 1 21 1 2 1 15 1 13 1 14 2 16 1 18 1 2 1 2 1 7 3 16 1 11 1 2 1 14 1 3 2 15 1 9 1 19 1 20 1 490"/>
<path d="M446.0 205v490" stroke="#0000b5" stroke-width="10" stroke-dasharray="0 13 1 7 1 17 1 13 1 3 1 1 1 22 1 6 1 9 1 43 1 35 1 2 1 4 1 15 1 8 1 26 1 3 1 1 1 23 1 4 1 1 1 4 1 7 1 38 1 1 2 11 1 9 2 32 1 6 1 2 1 3 1 2 1 1 2 12 1 15 1 28 1 490"/>
<path d="M446.0 205v490" stroke="#0000bf" stroke-width="10" stroke-dasharray="0 73 2 11 1 3 1 2 1 7 1 1 1 30 1 7 1 6 1 4 1 15 1 9 1 11 1 43 1 12 1 32 1 4 1 15 1 1 1 14 1 15 1 10 1 8 1 14 1 2 1 17 1 7 1 52 1 1 1 16 1 490"/>
<path d="M446.0 205v490" stroke="#0000ca" stroke-width="10" stroke-dasharray="0 1 1 14 1 3 1 7 1 1 1 2 1 4 1 2 1 1 1 3 1 6 1 1 1 20 1 20 1 20 1 12 1 19 1 8 1 14 1 1 1 12 1 14 1 35 1 12 1 14 1 1 1 2 1 16 1 5 2 1 1 5 1 14 1 40 2 20 1 3 1 9 1 2 1 24 1 7 1 9 1 14 1 7 1 1 1 7 1 4 1 490"/>
<path d="M446.0 205v490" stroke="#0000d4" stroke-width="10" stroke-dasharray="0 12 1 2 1 3 1 9 1 5 1 14 1 9 1 17 1 18 1 8 1 22 1 10 1 10 1 4 2 7 1 31 1 4 1 37 1 10 1 25 1 13 1 2 1 1 1 13 1 2 1 5 1 1 1 3 1 9 1 8 1 4 1 15 1 14 2 21 1 6 1 5 1 2 1 4 1 26 1 24 1 490"/>
<path d="M446.0 205v490" stroke="#0000df" stroke-width="10" stroke-dasharray="0 3 1 14 1 6 1 20 1 64 1 11 1 13 1 24 1 9 1 15 1 11 1 13 1 2 2 13 1 33 1 1 1 35 1 1 1 45 1 9 1 6 2 13 1 1 1 8 1 13 1 20 1 7 1 40 1 490"/>
<path d="M446.0 205v490" stroke="#0000ea" stroke-width="10" stroke-dasharray="0 48 1 9 1 48 2 18 1 11 1 5 1 18 1 46 1 22 1 29 1 23 1 6 1 59 1 17 1 2 1 49 1 25 1 28 1 490"/>
<path d="M446.0 205v490" stroke="#0000f4" stroke-width="10" stroke-dasharray="0 11 1 2 1 7 1 41 1 14 1 44 1 34 1 15 1 34 1 2 1 40 1 60 1 23 1 18 1 83 1 3 1 3 1 7 1 3 1 3 1 2 1 7 1 8 1 490"/>
<path d="M446.0 205v490" stroke="#0000ff" stroke-width="10" stroke-dasharray="0 10 1 12 1 3 1 4 1 1 1 5 1 1 1 1 1 20 1 1 1 2 2 15 1 27 1 1 1 48 1 19 1 32 1 21 1 5 1 25 1 4 1 58 1 34 1 10 1 31 1 5 1 3 1 6 1 7 1 2 1 43 1 490"/>
<path d="M446.0 205v490" stroke="#0019ff" stroke-width="10" stroke-dasharray="0 61 2 29 1 7 1 46 2 35 1 23 1 47 1 54 1 4 1 17 1 79 1 2 1 4 1 5 1 15 1 3 1 8 1 26 2 490"/>
<path d="M446.0 205v490" stroke="#0033ff" stroke-width="10" stroke-dasharray="0 80 1 23 1 11 1 14 1 77 1 90 1 117 1 4 1 10 1 6 1 5 1 1 1 490"/>
<path d="M446.0 205v490" stroke="#004dff" stroke-width="10" stroke-dasharray="0 456 1 4 1 1 1 10 2 490"/>
<path d="M446.0 205v490" stroke="#0080ff" stroke-width="10" stroke-dasharray="0 488 1 490"/>
<path d="M446.0 205v490" stroke="#00b2ff" stroke-width="10" stroke-dasharray="0 489 1 490"/>
<rect x="451" y="205" width="10" height="490" fill="#0000ff"/>
<path d="M456.0 205v490" stroke="#00008a" stroke-width="10" stroke-dasharray="0 5 1 77 1 10 1 7 1 91 1 33 2 1 1 98 1 490"/>
<path d="M456.0 205v490" stroke="#000095" stroke-width="10" stroke-dasharray="0 4 1 1 1 48 1 35 1 3 1 29 1 8 1 8 1 23 1 2 1 32 1 19 1 2 1 23 1 9 1 1 1 39 1 26 1 33 1 18 1 5 1 2 1 4 1 9 1 4 2 41 1 490"/>
<path d="M456.0 205v490" stroke="#00009f" stroke-width="10" stroke-dasharray="1 8 1 25 1 4 1 12 1 5 1 9 1 11 2 6 2 5 1 4 1 9 1 20 1 9 1 11 1 3 1 45 2 18 1 11 1 1 1 5 1 25 2 7 1 5 2 1 3 40 1 35 1 10 2 4 1 5 1 9 2 70 1 490"/>
<path d="M456.0 205v490" stroke="#0000aa" stroke-width="10" stroke-dasharray="0 2 1 28 1 6 2 7 2 8 1 18 2 7 1 20 1 7 1 7 1 1 1 1 1 6 1 3 2 24 1 4 1 5 1 2 1 9 1 7 1 2 1 12 2 1 1 15 1 4 1 1 1 1 1 3 1 19 1 5 1 5 1 4 1 6 1 11 1 32 1 12 2 7 1 4 1 25 1 1 1 15 1 3 1 8 1 8 1 25 1 15 1 2 2 490"/>
<path d="M456.0 205v490" stroke="#0000b5" stroke-width="10" stroke-dasharray="0 8 1 4 1 3 1 6 1 31 1 7 1 28 1 41 1 5 1 8 1 4 3 6 1 16 1 9 1 1 1 33 1 12 1 26 1 16 1 7 1 1 1 32 1 8 1 3 1 3 1 3 1 4 1 2 1 3 1 14 1 13 1 5 1 9 1 2 1 6 1 8 1 1 2 1 1 9 1 12 1 30 1 490"/>
<path d="M456.0 205v490" stroke="#0000bf" stroke-width="10" stroke-dasharray="0 1 1 1 1 12 1 4 1 3 1 4 1 5 1 4 1 8 1 9 1 5 1 7 1 23 1 28 1 12 1 28 1 1 1 3 2 11 1 10 1 13 1 2 1 24 2 4 1 35 1 17 1 3 1 14 1 22 1 7 1 9 2 1 2 20 1 41 1 26 1 10 1 490"/>
<path d="M456.0 205v490" stroke="#0000ca" stroke-width="10" stroke-dasharray="0 26 1 46 1 14 1 8 1 47 1 6 1 12 1 6 1 12 1 29 1 9 1 6 2 40 1 1 2 15 1 2 1 6 1 2 1 1 2 18 1 6 1 38 1 6 1 10 1 9 1 7 1 2 1 6 3 15 1 490"/>
<path d="M456.0 205v490" stroke="#0000d4" stroke-width="10" stroke-dasharray="0 7 1 2 2 10 1 21 1 18 1 1 1 1 1 3 1 27 1 29 1 31 1 4 1 17 1 4 1 27 1 3 1 29 1 16 1 3 1 22 1 30 1 6 1 13 1 20 2 1 1 4 1 17 1 2 1 16 1 4 1 16 1 6 1 9 1 490"/>
<path d="M456.0 205v490" stroke="#0000df" stroke-width="10" stroke-dasharray="0 33 1 3 1 16 1 13 1 49 2 1 1 8 1 13 1 1 1 6 1 42 1 5 1 42 1 15 1 2 1 26 1 57 1 8 1 39 2 4 1 4 1 25 1 9 1 14 1 8 1 490"/>
<path d="M456.0 205v490" stroke="#0000ea" stroke-width="10" stroke-dasharray="0 12 1 1 1 4 1 7 1 1 1 2 1 18 1 18 1 15 1 49 1 2 1 39 1 2 1 7 1 9 1 54 1 1 1 15 1 7 1 16 1 58 1 15 1 3 1 100 1 490"/>
<path d="M456.0 205v490" stroke="#0000f4" stroke-width="10" stroke-dasharray="0 15 1 2 1 1 1 7 1 13 2 66 1 1 1 10 1 35 2 1 1 17 1 16 1 20 1 3 1 26 1 16 1 33 1 6 1 14 1 2 1 13 1 1 1 24 1 13 1 61 1 41 1 2 1 490"/>
<path d="M456.0 205v490" stroke="#0000ff" stroke-width="10" stroke-dasharray="0 23 1 28 1 26 1 20 1 2 1 24 1 49 1 27 1 52 1 22 1 54 1 4 1 9 1 19 1 10 1 9 1 46 1 5 1 490"/>
<path d="M456.0 205v490" stroke="#0019ff" stroke-width="10" stroke-dasharray="0 87 1 16 2 7 1 17 1 69 1 18 1 27 1 4 1 43 1 40 1 78 2 14 1 3 1 10 1 1 1 8 1 8 1 4 1 7 1 3 1 490"/>
<path d="M456.0 205v490" stroke="#0033ff" stroke-width="10" stroke-dasharray="0 75 1 40 1 30 2 60 1 101 1 4 1 114 1 2 1 9 1 2 1 9 2 17 1 9 1 490"/>
<path d="M456.0 205v490" stroke="#004dff" stroke-width="10" stroke-dasharray="0 456 1 4 4 9 2 6 1 5 1 490"/>
<path d="M456.0 205v490" stroke="#0080ff" stroke-width="10" stroke-dasharray="0 489 1 490"/>
<rect x="461" y="205" width="9" height="490" fill="#0019ff"/>
<path d="M465.5 205v490" stroke="#00008a" stroke-width="9" stroke-dasharray="0 40 1 53 1 133 2 1 1 95 1 1 2 75 1 490"/>
<path d="M465.5 205v490" stroke="#000095" stroke-width="9" stroke-dasharray="0 35 1 37 1 32 1 81 1 5 1 3 1 6 1 17 1 38 1 26 1 56 1 16 1 24 1 1 1 5 1 57 1 490"/>
<path d="M465.5 205v490" stroke="#00009f" stroke-width="9" stroke-dasharray="0 47 1 21 1 20 2 1 1 1 1 6 1 8 1 44 3 9 1 18 1 24 2 21 2 2 1 29 1 9 1 5 1 6 1 9 1 41 2 1 1 11 1 27 1 3 1 6 1 22 1 490"/>
<path d="M465.5 205v490" stroke="#0000aa" stroke-width="9" stroke-dasharray="0 6 1 18 1 5 1 7 1 8 1 4 1 1 1 10 1 9 2 4 2 12 1 24 1 11 1 3 2 2 1 25 1 13 1 17 1 6 1 53 1 2 1 22 2 34 1 9 1 27 1 36 1 41 1 490"/>
<path d="M465.5 205v490" stroke="#0000b5" stroke-width="9" stroke-dasharray="2 2 2 1 1 33 1 17 1 14 1 6 1 7 1 42 1 9 1 26 1 6 1 20 1 5 1 10 1 1 1 9 2 2 1 7 1 8 1 13 1 8 2 3 1 12 1 1 1 5 1 3 2 3 1 14 1 15 1 16 1 4 1 10 1 6 1 5 1 1 2 3 1 22 1 57 1 12 1 490"/>
<path d="M465.5 205v490" stroke="#0000bf" stroke-width="9" stroke-dasharray="0 24 1 11 1 6 1 13 1 39 1 3 1 1 1 4 1 5 1 9 3 7 1 5 1 4 1 6 1 26 2 14 1 21 1 6 1 19 1 31 1 7 1 14 1 25 1 5 1 16 1 51 1 9 1 5 1 3 1 5 1 490"/>
<path d="M465.5 205v490" stroke="#0000ca" stroke-width="9" stroke-dasharray="0 2 1 6 1 16 1 19 1 17 1 6 1 26 1 23 1 4 1 26 1 49 1 17 1 2 1 16 2 1 1 4 1 23 1 18 1 34 1 22 1 2 1 7 1 12 1 3 1 47 1 10 1 1 1 14 1 15 2 490"/>
<path d="M465.5 205v490" stroke="#0000d4" stroke-width="9" stroke-dasharray="0 17 1 9 1 2 1 1 2 33 1 2 1 14 1 2 1 3 1 46 1 3 1 20 1 12 1 4 1 1 1 70 1 10 1 11 1 15 1 8 1 3 1 2 2 21 1 18 1 4 1 6 1 2 1 18 1 8 1 3 1 7 1 11 1 8 1 38 1 490"/>
<path d="M465.5 205v490" stroke="#0000df" stroke-width="9" stroke-dasharray="0 10 1 10 1 16 1 5 2 17 1 72 1 18 1 14 1 3 2 20 1 18 1 48 1 3 1 3 1 10 1 7 1 29 1 1 1 16 1 32 1 31 1 9 1 6 1 23 1 12 1 490"/>
<path d="M465.5 205v490" stroke="#0000ea" stroke-width="9" stroke-dasharray="0 16 1 5 1 6 1 31 1 3 1 46 1 6 1 29 1 16 1 11 1 6 1 14 1 58 1 7 1 13 1 37 1 4 1 12 1 3 1 67 1 1 1 2 1 10 1 7 1 14 1 490"/>
<path d="M465.5 205v490" stroke="#0000f4" stroke-width="9" stroke-dasharray="0 8 1 11 1 35 1 11 1 30 1 59 1 1 1 27 1 31 1 15 1 3 1 7 1 4 1 3 1 18 1 36 1 24 1 3 1 24 1 39 1 4 1 10 1 7 1 3 1 5 1 9 1 16 1 490"/>
<path d="M465.5 205v490" stroke="#0000ff" stroke-width="9" stroke-dasharray="0 3 1 7 1 1 1 4 2 30 1 1 1 47 1 22 1 26 1 14 1 66 1 7 1 39 1 34 1 33 1 20 2 6 1 13 1 8 1 33 1 9 1 38 1 490"/>
<path d="M465.5 205v490" stroke="#0000ff" stroke-width="9" stroke-dasharray="0 12 1 1 2 7 1 4 1 13 1 6 1 57 1 5 1 2 1 1 1 9 1 33 1 10 1 17 1 10 1 4 1 40 1 3 1 12 1 40 1 1 1 17 1 38 1 8 1 8 1 19 1 13 1 29 1 3 1 1 1 11 1 8 2 490"/>
<path d="M465.5 205v490" stroke="#0033ff" stroke-width="9" stroke-dasharray="0 117 1 29 2 34 1 17 1 7 1 108 1 19 1 11 1 53 1 18 1 5 2 12 2 23 1 12 2 490"/>
<path d="M465.5 205v490" stroke="#004dff" stroke-width="9" stroke-dasharray="0 105 1 312 1 12 1 5 1 3 1 8 1 6 1 2 2 23 3 490"/>
<path d="M465.5 205v490" stroke="#0080ff" stroke-width="9" stroke-dasharray="0 434 1 27 1 1 1 13 3 7 2 490"/>
<path d="M465.5 205v490" stroke="#00b2ff" stroke-width="9" stroke-dasharray="0 449 1 13 1 13 1 490"/>
<rect x="470" y="205" width="10" height="490" fill="#0019ff"/>
<path d="M475.0 205v490" stroke="#00008a" stroke-width="10" stroke-dasharray="0 35 1 70 1 122 1 33 1 134 1 7 1 490"/>
<path d="M475.0 205v490" stroke="#000095" stroke-width="10" stroke-dasharray="0 6 1 15 1 50 1 60 1 52 1 10 2 12 1 1 1 13 1 1 2 4 1 2 1 22 1 26 1 12 1 26 1 14 1 15 1 21 1 13 1 73 1 490"/>
<path d="M475.0 205v490" stroke="#00009f" stroke-width="10" stroke-dasharray="0 1 1 38 1 33 1 7 2 7 1 19 1 20 2 11 1 8 1 2 1 9 1 1 2 17 1 5 1 18 1 9 1 16 1 2 2 40 1 4 1 36 1 4 1 12 1 17 1 5 1 17 2 8 1 12 1 43 1 490"/>
<path d="M475.0 205v490" stroke="#0000aa" stroke-width="10" stroke-dasharray="1 15 1 8 1 1 1 3 1 6 1 2 1 1 1 3 2 20 1 11 1 2 1 4 1 5 1 28 1 16 2 15 1 9 1 3 1 11 1 10 1 10 1 15 1 9 1 5 1 10 1 5 1 23 1 7 2 11 2 23 1 2 1 1 1 12 1 2 2 11 1 30 1 48 1 15 1 27 1 490"/>
<path d="M475.0 205v490" stroke="#0000b5" stroke-width="10" stroke-dasharray="0 15 1 8 1 8 1 2 1 57 1 8 1 4 1 12 1 21 1 36 1 24 1 10 2 27 1 1 1 2 1 9 2 2 2 20 1 35 2 11 1 15 1 12 1 35 1 58 1 490"/>
<path d="M475.0 205v490" stroke="#0000bf" stroke-width="10" stroke-dasharray="0 4 2 1 1 1 1 29 1 10 1 4 3 8 1 9 2 12 1 23 1 41 1 7 1 6 1 31 1 3 1 7 1 53 2 5 1 6 1 8 1 3 1 8 1 5 1 27 1 25 1 2 1 12 1 21 1 7 1 5 1 1 1 15 2 37 1 490"/>
<path d="M475.0 205v490" stroke="#0000ca" stroke-width="10" stroke-dasharray="0 3 1 28 1 18 1 8 1 2 1 3 1 17 1 6 1 5 1 3 1 56 1 14 1 10 1 38 1 2 1 5 1 3 1 4 1 32 1 5 1 2 1 18 1 29 1 2 1 4 1 11 1 20 1 14 1 12 1 18 1 10 2 490"/>
<path d="M475.0 205v490" stroke="#0000d4" stroke-width="10" stroke-dasharray="0 26 1 18 1 18 1 10 1 31 1 12 1 5 1 4 1 20 1 26 1 16 1 29 1 19 1 44 1 7 1 8 1 15 1 15 1 7 1 18 1 44 1 3 1 9 1 18 1 26 1 6 1 490"/>
<path d="M475.0 205v490" stroke="#0000df" stroke-width="10" stroke-dasharray="0 2 1 7 1 10 1 1 1 6 1 22 1 42 1 8 1 31 1 6 1 21 1 8 2 4 1 7 1 7 1 20 1 16 1 5 1 6 1 7 1 21 1 1 1 25 1 6 2 4 2 54 1 7 1 1 1 5 1 7 1 9 1 17 1 10 1 34 1 490"/>
<path d="M475.0 205v490" stroke="#0000ea" stroke-width="10" stroke-dasharray="0 11 1 16 2 19 1 9 1 1 1 3 1 2 1 19 1 4 1 15 1 9 1 5 1 4 1 5 1 18 1 9 1 7 1 47 1 90 1 44 1 21 1 6 1 8 1 5 1 38 1 15 1 8 1 22 1 490"/>
<path d="M475.0 205v490" stroke="#0000f4" stroke-width="10" stroke-dasharray="0 12 1 4 2 15 1 9 1 25 1 15 1 25 1 14 1 12 1 20 1 15 1 42 1 73 2 38 1 14 1 26 1 28 1 17 1 6 1 11 1 24 1 1 1 5 1 6 1 3 1 490"/>
<path d="M475.0 205v490" stroke="#0000ff" stroke-width="10" stroke-dasharray="0 8 1 4 2 5 1 16 1 80 1 63 1 42 1 25 1 30 1 24 1 48 1 1 1 12 1 35 1 5 2 13 1 23 1 13 1 4 1 15 1 490"/>
<path d="M475.0 205v490" stroke="#0000ff" stroke-width="10" stroke-dasharray="0 19 1 26 1 15 1 8 1 41 1 21 1 2 2 7 3 10 1 1 1 28 1 8 1 3 1 3 1 2 1 22 1 31 1 4 1 2 1 22 1 33 1 5 1 14 1 1 1 6 2 7 1 2 1 10 1 7 1 1 1 9 1 3 1 6 1 15 1 14 1 1 1 19 1 490"/>
<path d="M475.0 205v490" stroke="#0033ff" stroke-width="10" stroke-dasharray="0 79 1 36 1 69 1 3 1 10 2 6 2 47 1 57 1 1 1 36 1 62 1 5 2 18 1 12 1 490"/>
<path d="M475.0 205v490" stroke="#004dff" stroke-width="10" stroke-dasharray="0 80 1 102 1 196 1 53 1 2 1 5 1 3 1 2 2 1 1 6 1 1 1 1 1 20 1 490"/>
<path d="M475.0 205v490" stroke="#0080ff" stroke-width="10" stroke-dasharray="0 449 1 8 1 4 1 13 1 2 2 490"/>
<rect x="480" y="205" width="10" height="490" fill="#0019ff"/>
<path d="M485.0 205v490" stroke="#00008a" stroke-width="10" stroke-dasharray="0 103 1 2 1 50 2 104 1 25 1 116 1 490"/>
<path d="M485.0 205v490" stroke="#000095" stroke-width="10" stroke-dasharray="0 6 1 15 1 25 1 85 1 19 1 33 1 9 2 13 1 15 1 32 1 21 3 13 2 26 2 6 1 10 1 3 1 8 1 26 1 490"/>
<path d="M485.0 205v490" stroke="#00009f" stroke-width="10" stroke-dasharray="0 33 1 39 2 67 1 21 1 16 1 12 1 17 1 4 1 5 1 4 1 1 1 11 2 3 3 14 1 4 1 17 1 2 1 20 1 15 1 7 1 10 1 1 1 33 1 7 1 490"/>
<path d="M485.0 205v490" stroke="#0000aa" stroke-width="10" stroke-dasharray="0 3 1 3 1 23 1 3 1 4 1 9 1 4 1 27 1 1 1 6 4 47 1 1 1 6 1 27 1 6 1 7 1 10 1 29 1 2 1 15 2 13 1 12 1 15 1 59 1 11 1 26 1 16 1 3 1 50 1 490"/>
<path d="M485.0 205v490" stroke="#0000b5" stroke-width="10" stroke-dasharray="0 1 2 22 1 8 1 1 2 5 1 12 1 5 1 19 1 19 1 14 1 1 2 23 1 2 1 1 1 9 1 10 1 25 1 17 1 1 1 10 1 16 1 20 1 2 1 6 1 2 3 7 1 7 1 22 1 3 1 8 2 9 1 1 1 6 2 9 1 45 2 48 1 12 1 6 1 490"/>
<path d="M485.0 205v490" stroke="#0000bf" stroke-width="10" stroke-dasharray="0 15 1 11 1 10 1 2 1 5 1 3 1 11 1 1 3 23 1 15 1 3 1 2 1 12 1 4 1 15 1 16 1 2 1 8 1 19 1 33 1 13 1 4 1 51 1 19 1 2 1 8 1 2 1 6 1 12 1 28 1 5 1 3 2 3 2 11 1 20 1 15 1 2 1 13 1 14 1 490"/>
<path d="M485.0 205v490" stroke="#0000ca" stroke-width="10" stroke-dasharray="0 24 1 5 1 18 1 3 1 17 1 4 1 59 1 19 1 14 1 4 1 2 1 4 1 22 1 7 1 5 2 1 1 12 1 43 1 21 1 9 1 16 1 30 1 19 1 6 1 23 1 14 1 11 1 15 1 490"/>
<path d="M485.0 205v490" stroke="#0000d4" stroke-width="10" stroke-dasharray="0 5 1 6 2 18 1 26 2 9 1 1 1 16 1 6 1 1 1 6 1 3 1 11 1 11 1 12 1 4 1 15 1 1 1 21 1 26 1 14 1 6 1 16 1 2 2 12 1 33 1 29 1 15 1 3 1 6 1 27 1 9 1 14 1 17 1 3 1 1 1 28 1 10 1 490"/>
<path d="M485.0 205v490" stroke="#0000df" stroke-width="10" stroke-dasharray="0 11 1 2 1 3 1 1 1 5 1 1 2 38 2 5 1 1 1 12 1 21 1 16 1 5 1 1 1 3 1 13 1 49 1 26 1 5 1 2 1 30 1 4 1 14 1 4 1 41 1 49 1 10 1 21 1 3 1 1 1 1 1 12 1 34 1 490"/>
<path d="M485.0 205v490" stroke="#0000ea" stroke-width="10" stroke-dasharray="1 44 1 11 1 72 1 41 1 5 1 3 1 10 1 26 1 55 1 14 1 6 1 42 1 30 1 1 1 3 1 6 1 8 1 18 1 3 1 6 2 15 1 2 1 7 1 490"/>
<path d="M485.0 205v490" stroke="#0000f4" stroke-width="10" stroke-dasharray="0 4 1 11 1 67 1 39 1 1 1 1 1 9 1 11 1 10 1 4 1 33 1 3 1 14 1 46 1 47 1 25 1 1 1 13 1 13 1 2 1 17 1 13 1 10 1 4 1 1 1 9 1 22 1 490"/>
<path d="M485.0 205v490" stroke="#0000ff" stroke-width="10" stroke-dasharray="0 8 3 10 1 17 1 48 1 19 1 6 1 2 1 6 1 63 1 2 1 41 1 11 1 7 1 12 1 27 1 16 1 7 1 48 1 38 1 11 1 36 1 9 1 6 1 6 1 490"/>
<path d="M485.0 205v490" stroke="#0000ff" stroke-width="10" stroke-dasharray="0 17 1 1 1 3 1 20 1 1 1 7 1 9 1 34 1 1 1 29 1 21 1 56 2 13 2 8 1 15 1 7 1 11 1 52 1 37 1 1 1 12 1 1 1 3 1 11 1 11 1 3 1 26 1 26 1 3 1 16 1 490"/>
<path d="M485.0 205v490" stroke="#0033ff" stroke-width="10" stroke-dasharray="0 52 1 26 1 106 1 119 1 3 1 20 1 17 1 16 1 65 1 13 1 3 1 2 1 9 2 8 1 14 1 490"/>
<path d="M485.0 205v490" stroke="#004dff" stroke-width="10" stroke-dasharray="0 80 1 102 1 18 1 90 1 22 1 63 1 56 1 9 1 10 1 2 1 18 1 3 2 490"/>
<path d="M485.0 205v490" stroke="#0080ff" stroke-width="10" stroke-dasharray="0 462 1 13 2 9 1 490"/>
<path d="M485.0 205v490" stroke="#08f0ef" stroke-width="10" stroke-dasharray="0 489 1 490"/>
<rect x="490" y="205" width="10" height="490" fill="#0019ff"/>
<path d="M495.0 205v490" stroke="#00008a" stroke-width="10" stroke-dasharray="0 66 1 6 1 32 1 38 1 52 2 89 1 21 1 24 1 10 1 58 1 490"/>
<path d="M495.0 205v490" stroke="#000095" stroke-width="10" stroke-dasharray="0 6 1 88 1 7 1 8 1 31 1 68 1 3 1 10 2 17 2 14 1 1 1 34 2 21 1 5 1 21 1 5 1 7 1 31 1 490"/>
<path d="M495.0 205v490" stroke="#00009f" stroke-width="10" stroke-dasharray="0 3 1 27 1 12 1 20 1 8 1 7 1 19 1 11 1 4 1 14 1 29 1 58 1 6 1 8 1 9 1 14 1 10 1 8 2 1 1 8 1 30 1 24 1 7 1 26 1 27 1 52 1 1 1 490"/>
<path d="M495.0 205v490" stroke="#0000aa" stroke-width="10" stroke-dasharray="0 1 2 7 1 4 1 6 1 10 1 9 1 19 2 2 1 24 1 18 1 1 1 3 1 9 1 15 1 10 1 2 1 7 1 2 1 1 1 6 2 9 1 23 1 18 1 10 1 7 1 5 1 19 1 2 1 6 1 41 1 16 1 2 1 22 1 31 1 3 1 27 1 490"/>
<path d="M495.0 205v490" stroke="#0000b5" stroke-width="10" stroke-dasharray="0 34 1 18 1 1 1 6 1 6 2 1 1 10 1 10 1 10 1 1 1 24 1 39 1 7 2 13 2 9 1 20 1 5 1 21 1 6 1 5 3 12 1 4 1 1 1 39 1 4 1 4 1 15 1 2 1 28 2 3 1 4 1 2 1 7 1 15 1 26 1 25 1 2 2 490"/>
<path d="M495.0 205v490" stroke="#0000bf" stroke-width="10" stroke-dasharray="0 11 1 28 1 15 1 19 1 14 1 16 1 11 1 15 2 4 1 4 3 19 1 9 1 14 1 2 1 18 1 3 1 1 1 23 1 52 1 22 1 10 1 3 1 35 1 2 1 4 1 18 1 18 3 8 1 24 2 490"/>
<path d="M495.0 205v490" stroke="#0000ca" stroke-width="10" stroke-dasharray="0 5 1 1 1 1 1 22 1 12 1 4 1 1 1 18 1 3 1 28 1 13 1 19 1 13 1 5 1 8 1 8 1 10 1 30 1 7 1 5 1 8 1 1 1 23 1 23 1 10 1 35 1 14 1 16 1 12 1 12 1 20 1 4 1 13 1 32 1 2 1 490"/>
<path d="M495.0 205v490" stroke="#0000d4" stroke-width="10" stroke-dasharray="1 7 1 16 1 3 2 4 1 3 1 1 1 6 1 8 1 1 2 16 1 3 1 11 1 34 2 3 1 25 1 11 1 20 2 6 1 6 1 7 1 5 1 15 2 6 1 20 1 11 1 16 1 12 1 15 1 7 1 6 1 6 1 16 2 13 1 13 1 9 1 15 1 20 1 27 1 490"/>
<path d="M495.0 205v490" stroke="#0000df" stroke-width="10" stroke-dasharray="0 12 1 5 1 7 2 10 1 10 1 4 1 31 1 11 1 16 1 8 1 1 1 8 1 78 1 4 1 20 1 3 1 29 1 7 1 20 1 39 2 13 1 16 1 1 1 4 1 3 1 3 1 21 1 1 1 1 1 6 1 2 1 47 1 8 1 490"/>
<path d="M495.0 205v490" stroke="#0000ea" stroke-width="10" stroke-dasharray="0 14 1 13 1 29 1 9 1 16 1 15 1 7 1 53 1 10 1 14 1 18 1 15 1 32 1 34 1 17 1 8 1 6 1 23 1 18 1 4 1 30 1 5 1 12 1 16 2 6 1 21 1 7 1 6 1 490"/>
<path d="M495.0 205v490" stroke="#0000f4" stroke-width="10" stroke-dasharray="0 4 1 11 1 7 1 26 1 47 1 22 1 68 1 85 1 19 1 11 1 15 1 28 1 99 1 4 1 17 1 490"/>
<path d="M495.0 205v490" stroke="#0000ff" stroke-width="10" stroke-dasharray="0 13 1 3 1 3 1 57 1 4 1 31 1 13 1 19 1 24 1 28 2 5 1 13 1 10 1 17 1 5 2 10 1 32 1 7 1 20 1 27 1 4 1 72 1 490"/>
<path d="M495.0 205v490" stroke="#0000ff" stroke-width="10" stroke-dasharray="0 20 1 2 1 12 2 9 1 49 1 27 1 5 1 14 1 8 2 3 1 5 1 104 1 8 2 12 1 3 1 18 1 23 1 13 1 5 1 33 1 3 1 8 1 1 1 17 1 4 1 12 1 13 1 14 2 490"/>
<path d="M495.0 205v490" stroke="#0033ff" stroke-width="10" stroke-dasharray="0 87 1 1 1 20 1 28 1 61 2 49 1 5 1 34 1 27 1 58 1 46 1 1 1 1 1 6 1 4 1 6 1 2 1 12 1 6 1 10 1 2 1 490"/>
<path d="M495.0 205v490" stroke="#004dff" stroke-width="10" stroke-dasharray="0 42 1 37 1 7 1 94 1 75 1 56 1 49 1 65 1 11 1 2 2 9 1 2 1 3 1 14 1 7 2 490"/>
<path d="M495.0 205v490" stroke="#0080ff" stroke-width="10" stroke-dasharray="0 437 1 24 3 20 1 490"/>
<rect x="500" y="205" width="9" height="490" fill="#00009f"/>
<path d="M504.5 205v490" stroke="#00008a" stroke-width="9" stroke-dasharray="0 1 1 4 1 37 1 21 1 16 1 22 1 38 1 96 2 21 1 23 1 10 1 35 1 10 1 4 1 4 1 77 1 16 1 490"/>
<path d="M504.5 205v490" stroke="#000095" stroke-width="9" stroke-dasharray="0 3 1 39 1 21 1 16 1 49 1 1 1 1 1 7 1 20 1 11 1 17 1 2 1 28 1 4 1 15 1 14 1 15 1 3 2 2 1 13 1 9 1 17 1 3 1 17 1 6 1 1 1 2 1 36 1 5 1 8 1 1 1 490"/>
<path d="M504.5 205v490" stroke="#0000aa" stroke-width="9" stroke-dasharray="0 12 1 9 1 11 1 10 1 9 3 4 1 6 1 3 2 19 1 17 2 5 2 22 1 4 1 8 1 20 1 8 1 8 1 7 1 1 1 10 1 1 2 1 1 2 1 4 1 18 2 4 2 10 1 18 1 1 1 21 1 8 1 7 2 5 1 13 1 7 1 13 1 4 1 12 1 8 1 53 1 1 1 14 1 490"/>
<path d="M504.5 205v490" stroke="#0000b5" stroke-width="9" stroke-dasharray="1 4 1 5 1 9 1 8 1 4 1 3 2 12 1 4 1 20 1 6 1 15 1 5 1 8 1 9 1 27 1 2 1 7 1 3 1 10 1 3 2 12 1 5 1 1 1 4 1 5 1 38 1 13 1 4 1 31 1 17 1 10 1 7 1 18 1 16 1 1 1 25 1 17 1 6 1 20 1 18 1 7 1 490"/>
<path d="M504.5 205v490" stroke="#0000bf" stroke-width="9" stroke-dasharray="0 4 1 2 1 2 1 14 1 28 1 4 1 21 1 9 2 12 1 9 1 9 1 7 1 1 1 6 1 4 1 16 1 10 1 4 1 13 1 2 1 16 1 8 1 17 1 20 1 1 1 7 1 23 1 2 1 3 1 14 1 1 1 1 1 1 2 4 1 15 1 31 1 6 1 1 1 4 1 15 1 12 2 2 1 34 1 5 2 8 1 3 1 5 1 490"/>
<path d="M504.5 205v490" stroke="#0000ca" stroke-width="9" stroke-dasharray="0 48 1 11 1 11 1 41 1 39 1 27 1 91 1 16 1 2 2 6 1 6 1 30 1 32 2 18 1 20 1 3 1 9 1 7 1 12 1 9 1 12 1 4 1 490"/>
<path d="M504.5 205v490" stroke="#0000d4" stroke-width="9" stroke-dasharray="0 18 1 5 1 4 1 16 1 3 1 34 1 15 1 1 2 19 1 13 1 12 2 8 1 9 1 2 1 4 1 28 1 25 1 19 1 6 1 8 1 2 1 6 1 9 1 22 1 68 1 7 1 12 1 8 1 6 1 3 2 17 1 18 1 13 1 3 1 490"/>
<path d="M504.5 205v490" stroke="#0000df" stroke-width="9" stroke-dasharray="0 41 1 7 1 20 1 7 1 28 1 22 1 36 2 57 1 10 1 2 1 12 1 21 1 21 1 19 1 21 1 13 1 13 1 18 1 4 1 3 1 11 1 18 1 3 1 14 1 4 1 7 1 14 1 9 1 1 1 490"/>
<path d="M504.5 205v490" stroke="#0000ea" stroke-width="9" stroke-dasharray="0 9 1 9 1 55 1 8 1 13 1 19 1 22 1 11 1 5 1 33 1 52 1 11 1 73 1 21 1 22 1 27 1 38 1 17 1 6 1 490"/>
<path d="M504.5 205v490" stroke="#0000f4" stroke-width="9" stroke-dasharray="0 17 1 2 1 2 1 2 1 1 1 8 2 8 1 51 1 26 1 45 1 19 1 31 1 26 2 7 1 54 1 15 1 6 1 11 1 4 1 64 1 36 1 7 1 490"/>
<path d="M504.5 205v490" stroke="#0000ff" stroke-width="9" stroke-dasharray="0 16 1 10 1 8 1 15 1 18 1 25 1 2 1 8 2 5 1 5 1 8 1 8 1 5 1 13 1 1 2 19 2 6 1 8 1 10 1 4 1 18 1 23 1 17 1 3 1 10 1 5 1 7 2 6 1 27 1 6 1 11 2 9 1 6 2 15 1 1 1 11 2 19 1 7 1 6 1 490"/>
<path d="M504.5 205v490" stroke="#0000ff" stroke-width="9" stroke-dasharray="0 8 1 33 1 8 1 9 1 25 4 5 1 26 1 15 1 10 1 5 1 16 1 15 2 10 1 1 1 5 2 4 1 22 1 6 1 36 1 10 1 11 1 6 1 28 1 1 2 23 2 6 1 7 1 9 1 4 1 2 1 1 1 24 1 2 2 4 1 1 2 5 2 38 1 1 1 490"/>
<path d="M504.5 205v490" stroke="#0019ff" stroke-width="9" stroke-dasharray="0 80 1 40 1 80 1 118 1 44 1 46 1 23 1 5 1 19 2 490"/>
<path d="M504.5 205v490" stroke="#0033ff" stroke-width="9" stroke-dasharray="0 304 1 11 1 167 1 3 1 490"/>
<rect x="509" y="205" width="10" height="490" fill="#0000ff"/>
<path d="M514.0 205v490" stroke="#00008a" stroke-width="10" stroke-dasharray="0 6 1 32 1 3 1 39 1 60 2 20 1 180 1 3 1 5 1 490"/>
<path d="M514.0 205v490" stroke="#000095" stroke-width="10" stroke-dasharray="0 1 3 27 1 33 4 13 1 23 1 25 1 15 1 12 1 3 1 10 1 18 1 2 1 33 1 32 1 3 1 17 1 1 1 41 1 20 1 12 1 9 1 24 2 13 1 36 1 15 1 490"/>
<path d="M514.0 205v490" stroke="#00009f" stroke-width="10" stroke-dasharray="1 11 2 15 1 2 2 4 1 5 2 14 1 8 1 9 1 15 1 15 1 2 1 9 1 4 1 4 1 8 1 30 1 2 1 35 1 5 1 5 1 1 1 2 1 2 1 9 1 4 1 15 1 6 2 27 1 7 1 2 1 7 1 2 1 3 1 2 2 2 2 1 1 11 1 9 1 12 1 32 1 1 1 9 1 1 1 4 1 11 1 17 1 17 1 9 1 490"/>
<path d="M514.0 205v490" stroke="#0000aa" stroke-width="10" stroke-dasharray="0 22 1 40 2 9 1 16 1 6 1 13 2 11 1 9 1 5 2 6 1 12 1 1 1 4 1 18 1 7 1 2 1 7 1 28 1 2 1 4 1 4 1 6 1 1 1 7 3 5 1 8 1 17 1 7 1 13 1 1 1 1 2 34 1 13 1 14 1 24 1 1 1 21 1 3 2 35 1 490"/>
<path d="M514.0 205v490" stroke="#0000b5" stroke-width="10" stroke-dasharray="0 15 1 10 1 3 1 25 1 5 1 7 1 5 1 4 1 2 1 1 1 5 1 4 1 7 1 32 1 14 1 21 1 9 1 19 2 5 1 1 1 2 1 11 1 4 1 7 1 4 1 15 1 12 1 2 1 4 1 1 1 15 1 7 1 7 1 5 1 12 1 18 1 26 1 5 1 18 1 12 1 9 1 23 2 10 1 1 1 490"/>
<path d="M514.0 205v490" stroke="#0000bf" stroke-width="10" stroke-dasharray="0 7 1 13 1 3 1 1 2 42 1 1 1 3 1 24 2 4 1 21 1 6 1 14 1 1 1 17 1 13 1 17 1 17 1 8 1 20 2 3 1 20 1 1 1 10 1 7 1 3 1 13 1 2 1 14 1 4 1 5 1 13 1 9 1 10 2 14 1 7 1 1 1 41 1 1 1 7 1 1 1 8 1 15 1 490"/>
<path d="M514.0 205v490" stroke="#0000ca" stroke-width="10" stroke-dasharray="0 5 1 28 1 5 1 5 1 2 1 7 1 35 1 25 1 53 1 5 1 1 1 5 1 4 2 14 1 9 1 2 1 28 1 19 1 25 1 48 1 4 1 2 1 1 1 3 1 4 1 9 1 1 1 13 1 12 1 8 1 23 1 7 1 21 1 16 1 1 1 490"/>
<path d="M514.0 205v490" stroke="#0000d4" stroke-width="10" stroke-dasharray="0 23 2 36 1 10 1 12 1 21 1 25 1 21 1 14 1 9 1 42 2 1 1 24 1 3 1 4 1 71 1 45 1 7 1 15 1 21 1 2 1 22 1 6 2 1 1 11 1 5 1 490"/>
<path d="M514.0 205v490" stroke="#0000df" stroke-width="10" stroke-dasharray="0 35 1 11 2 1 1 2 1 1 1 3 1 15 1 40 1 3 1 15 1 3 1 6 1 2 2 5 1 9 1 21 1 7 1 63 1 13 1 16 1 20 1 40 1 17 1 11 2 2 1 45 1 490"/>
<path d="M514.0 205v490" stroke="#0000ea" stroke-width="10" stroke-dasharray="0 4 1 6 1 5 2 39 1 50 1 5 1 1 1 10 1 34 1 14 1 5 1 6 1 8 1 10 1 25 2 2 1 4 1 41 1 1 1 6 2 40 1 86 1 1 1 1 1 7 1 3 1 4 1 6 1 20 2 490"/>
<path d="M514.0 205v490" stroke="#0000f4" stroke-width="10" stroke-dasharray="0 10 1 3 1 1 1 2 1 81 1 24 1 19 1 47 1 33 1 44 1 68 1 23 1 42 1 12 1 17 1 22 1 1 1 490"/>
<path d="M514.0 205v490" stroke="#0000ff" stroke-width="10" stroke-dasharray="0 20 1 15 2 3 1 10 1 1 1 23 1 8 1 6 1 1 1 30 1 11 1 19 2 59 1 33 1 4 1 2 1 14 1 27 3 6 1 1 1 50 1 1 1 3 1 6 1 6 1 10 2 14 1 10 1 11 1 24 1 1 1 14 1 490"/>
<path d="M514.0 205v490" stroke="#0019ff" stroke-width="10" stroke-dasharray="0 100 1 21 1 86 1 83 2 9 1 63 1 60 1 13 1 4 1 24 1 3 1 9 1 490"/>
<path d="M514.0 205v490" stroke="#0033ff" stroke-width="10" stroke-dasharray="0 202 1 159 1 121 1 490"/>
<path d="M514.0 205v490" stroke="#004dff" stroke-width="10" stroke-dasharray="0 488 1 490"/>
<rect x="519" y="205" width="10" height="490" fill="#0000ff"/>
<path d="M524.0 205v490" stroke="#00008a" stroke-width="10" stroke-dasharray="0 2 1 36 1 4 2 20 2 67 1 5 1 6 1 84 1 55 1 490"/>
<path d="M524.0 205v490" stroke="#000095" stroke-width="10" stroke-dasharray="0 3 1 27 1 1 1 31 1 2 1 2 1 7 1 6 1 25 1 19 1 9 1 2 1 15 1 3 1 8 1 1 1 11 1 6 2 8 1 7 1 5 1 10 1 5 1 5 1 21 2 52 2 2 1 11 1 12 1 3 2 4 1 46 1 13 2 35 1 490"/>
<path d="M524.0 205v490" stroke="#00009f" stroke-width="10" stroke-dasharray="0 1 1 4 2 4 1 15 2 8 1 16 1 8 1 5 1 6 1 3 3 7 1 48 1 3 1 2 1 14 1 1 1 1 1 2 1 11 1 24 1 25 1 34 3 6 1 10 1 21 1 13 1 12 2 25 1 11 1 24 1 14 1 36 1 3 1 11 1 490"/>
<path d="M524.0 205v490" stroke="#0000aa" stroke-width="10" stroke-dasharray="1 12 1 10 2 6 1 13 1 9 1 6 1 29 1 1 1 15 1 1 1 11 1 3 1 4 1 8 1 10 1 5 1 23 1 29 1 8 1 10 1 6 1 1 3 12 1 4 1 7 1 16 1 22 1 13 1 5 1 1 1 1 1 9 1 7 1 2 1 8 1 1 1 3 1 9 1 8 1 14 4 12 1 3 1 5 1 34 2 17 1 490"/>
<path d="M524.0 205v490" stroke="#0000b5" stroke-width="10" stroke-dasharray="0 15 2 9 1 3 1 10 1 1 1 13 1 18 1 8 1 15 1 13 1 34 2 1 1 21 1 1 1 2 1 17 1 23 1 4 1 9 1 1 1 8 1 7 2 8 1 10 1 12 1 17 1 11 1 19 1 5 1 1 1 6 1 2 1 11 1 1 1 16 1 11 1 14 2 36 1 27 2 2 1 490"/>
<path d="M524.0 205v490" stroke="#0000bf" stroke-width="10" stroke-dasharray="0 21 1 12 1 5 1 8 2 7 1 15 1 23 1 3 1 2 2 20 2 8 2 10 1 2 1 2 1 29 1 1 1 1 1 7 1 14 1 5 1 10 1 1 1 23 1 4 1 9 1 1 1 1 1 3 1 6 1 11 1 28 1 2 2 43 1 28 1 19 1 21 1 31 1 490"/>
<path d="M524.0 205v490" stroke="#0000ca" stroke-width="10" stroke-dasharray="0 51 1 8 1 1 1 21 1 12 1 75 1 5 1 14 1 4 1 25 1 21 1 4 2 5 1 20 1 3 1 14 2 9 1 6 1 46 1 17 1 5 1 35 1 19 1 1 1 2 1 7 2 10 1 8 1 5 1 490"/>
<path d="M524.0 205v490" stroke="#0000d4" stroke-width="10" stroke-dasharray="0 5 1 14 1 14 1 36 1 5 1 1 1 11 1 10 1 16 1 9 1 5 1 2 1 6 1 39 1 17 1 41 1 4 1 9 1 21 1 12 1 19 1 49 1 10 1 49 1 7 2 22 2 3 1 6 1 16 1 490"/>
<path d="M524.0 205v490" stroke="#0000df" stroke-width="10" stroke-dasharray="0 23 1 3 1 128 1 6 1 43 1 8 2 6 1 3 1 62 1 6 1 2 2 10 2 9 1 2 1 58 1 5 1 1 1 31 1 1 1 12 1 8 1 2 1 490"/>
<path d="M524.0 205v490" stroke="#0000ea" stroke-width="10" stroke-dasharray="0 4 1 4 2 11 1 25 1 4 1 7 1 7 1 19 1 18 1 5 1 9 1 1 1 66 1 14 1 26 1 13 1 12 1 23 1 16 1 1 1 22 1 3 1 5 1 2 1 38 1 80 1 1 1 25 1 490"/>
<path d="M524.0 205v490" stroke="#0000f4" stroke-width="10" stroke-dasharray="0 11 1 5 2 17 1 15 1 20 1 13 2 7 1 2 1 19 1 277 1 35 1 3 1 32 1 5 1 4 1 490"/>
<path d="M524.0 205v490" stroke="#0000ff" stroke-width="10" stroke-dasharray="0 59 1 15 1 18 1 5 1 3 1 5 1 10 1 1 1 9 1 23 2 9 1 2 1 11 1 8 1 8 1 8 2 9 1 4 1 11 1 11 1 24 1 5 2 9 1 2 1 10 2 4 1 8 1 17 1 3 1 5 1 12 1 5 2 13 1 1 1 1 1 3 1 3 1 2 1 15 1 15 1 1 1 6 2 1 1 4 1 17 1 490"/>
<path d="M524.0 205v490" stroke="#0019ff" stroke-width="10" stroke-dasharray="0 122 1 80 1 90 1 47 1 53 1 14 1 31 1 4 1 13 1 11 1 4 1 490"/>
<path d="M524.0 205v490" stroke="#0033ff" stroke-width="10" stroke-dasharray="0 202 1 6 1 83 1 105 1 10 1 18 1 43 1 1 1 4 1 490"/>
<rect x="529" y="205" width="10" height="490" fill="#0000aa"/>
<path d="M534.0 205v490" stroke="#00008a" stroke-width="10" stroke-dasharray="0 2 1 42 1 115 1 14 1 88 1 23 1 57 1 490"/>
<path d="M534.0 205v490" stroke="#000095" stroke-width="10" stroke-dasharray="0 23 1 7 3 1 1 8 1 23 1 2 1 40 1 22 1 9 4 11 1 4 2 8 1 69 1 18 1 1 1 20 1 13 2 15 1 3 1 10 1 18 1 3 2 60 1 490"/>
<path d="M534.0 205v490" stroke="#00009f" stroke-width="10" stroke-dasharray="0 1 1 4 1 31 2 22 1 3 2 9 1 3 1 1 1 7 1 24 1 24 2 8 1 1 1 8 1 1 1 31 1 8 1 7 1 19 1 17 1 20 1 15 1 30 1 14 1 10 1 2 1 2 1 11 1 10 2 24 1 51 1 2 2 7 1 6 1 13 1 490"/>
<path d="M534.0 205v490" stroke="#0000b5" stroke-width="10" stroke-dasharray="0 4 1 21 1 3 1 3 1 6 1 7 1 13 1 6 1 9 1 14 1 17 1 3 1 19 1 5 1 28 2 6 1 19 1 3 1 1 1 21 1 1 1 1 1 11 1 9 2 12 1 2 1 5 1 7 1 23 1 7 1 17 1 35 1 31 1 1 1 2 1 8 1 7 1 23 1 4 1 3 1 4 1 2 1 1 2 5 1 8 1 490"/>
<path d="M534.0 205v490" stroke="#0000bf" stroke-width="10" stroke-dasharray="0 15 1 13 1 10 1 9 2 6 1 23 1 3 1 6 1 7 2 25 1 5 1 3 1 13 1 6 1 22 1 1 1 8 1 28 1 11 1 8 1 67 1 14 1 1 1 7 2 6 1 1 1 18 2 17 2 4 1 1 1 11 1 7 1 25 1 2 1 17 1 5 1 1 1 9 1 490"/>
<path d="M534.0 205v490" stroke="#0000ca" stroke-width="10" stroke-dasharray="0 7 1 1 1 12 1 4 1 18 1 5 1 20 2 31 1 24 1 56 1 8 1 10 1 20 1 9 1 2 1 13 1 4 1 1 1 16 1 2 2 23 1 4 1 41 1 20 1 2 1 2 1 6 1 7 1 59 1 14 1 3 1 1 1 490"/>
<path d="M534.0 205v490" stroke="#0000d4" stroke-width="10" stroke-dasharray="1 12 1 29 1 9 1 6 1 23 1 7 1 5 1 6 1 4 1 16 1 1 1 64 1 20 2 1 1 4 1 13 1 11 1 2 1 7 1 6 1 6 1 24 1 23 1 7 1 6 2 18 1 5 1 7 1 13 1 19 2 5 1 26 1 3 1 5 1 31 1 490"/>
<path d="M534.0 205v490" stroke="#0000df" stroke-width="10" stroke-dasharray="0 8 1 1 1 14 1 11 1 9 2 10 1 48 1 10 1 29 1 4 1 16 1 35 1 23 1 25 1 32 1 25 1 45 1 14 1 45 1 18 1 8 1 1 1 35 1 490"/>
<path d="M534.0 205v490" stroke="#0000ea" stroke-width="10" stroke-dasharray="0 20 2 20 1 46 1 40 1 32 1 6 1 8 1 58 1 39 1 12 1 6 1 4 2 5 1 9 1 60 1 55 1 1 1 34 1 11 1 490"/>
<path d="M534.0 205v490" stroke="#0000f4" stroke-width="10" stroke-dasharray="0 14 1 2 1 38 1 37 1 1 1 10 1 1 1 29 1 10 1 5 1 29 1 2 1 13 1 22 1 32 1 13 1 12 1 6 1 11 1 48 1 76 1 3 1 52 1 490"/>
<path d="M534.0 205v490" stroke="#0000ff" stroke-width="10" stroke-dasharray="0 11 1 7 1 34 1 14 1 5 1 11 1 2 1 8 2 2 1 32 1 18 1 29 1 26 1 7 2 3 1 14 1 5 1 3 1 11 1 19 1 29 1 11 1 2 1 2 1 22 1 7 1 8 1 2 1 4 1 1 1 7 1 2 1 2 1 14 1 11 1 10 1 3 1 23 1 490"/>
<path d="M534.0 205v490" stroke="#0000ff" stroke-width="10" stroke-dasharray="0 18 1 59 1 9 1 8 1 22 2 1 1 34 1 8 2 14 1 3 1 2 3 9 1 21 1 10 1 33 2 4 1 5 1 10 1 1 4 8 2 7 1 5 1 21 1 5 2 8 2 8 1 13 1 3 1 5 1 1 2 1 1 3 1 11 1 7 1 1 1 1 5 2 2 8 1 2 1 23 1 8 1 1 1 490"/>
<path d="M534.0 205v490" stroke="#0019ff" stroke-width="10" stroke-dasharray="0 104 1 17 1 34 1 43 1 8 1 103 1 26 1 26 1 42 1 8 1 26 2 12 1 490"/>
<path d="M534.0 205v490" stroke="#0033ff" stroke-width="10" stroke-dasharray="0 209 1 1 1 67 1 62 1 56 1 10 1 62 1 6 1 6 1 490"/>
<rect x="539" y="205" width="9" height="490" fill="#0000aa"/>
<path d="M543.5 205v490" stroke="#00008a" stroke-width="9" stroke-dasharray="0 1 1 31 1 10 1 23 1 8 1 73 1 106 1 74 1 490"/>
<path d="M543.5 205v490" stroke="#000095" stroke-width="9" stroke-dasharray="0 2 1 20 1 2 1 7 2 9 1 11 1 13 2 3 1 3 1 4 1 26 1 22 1 8 1 16 1 14 1 17 1 32 2 1 1 14 1 7 1 11 2 20 1 14 1 1 1 13 1 9 1 18 1 23 1 2 1 25 1 15 1 38 1 8 1 490"/>
<path d="M543.5 205v490" stroke="#00009f" stroke-width="9" stroke-dasharray="0 12 1 3 1 7 1 6 1 4 1 2 1 10 2 4 1 5 1 18 3 12 1 5 1 11 1 9 1 1 1 5 1 7 1 5 2 5 1 12 1 7 1 10 1 9 1 10 1 22 1 38 1 14 1 17 1 11 1 3 1 2 1 6 1 1 1 2 1 1 1 10 1 17 1 11 1 25 1 1 1 13 1 40 1 6 1 5 1 5 1 490"/>
<path d="M543.5 205v490" stroke="#0000b5" stroke-width="9" stroke-dasharray="0 6 1 6 1 49 1 27 1 6 1 20 1 9 1 3 2 2 1 7 1 12 2 21 1 34 1 2 1 13 1 12 1 5 1 6 1 17 1 6 1 4 1 21 1 4 1 8 1 61 1 4 1 1 2 19 1 2 2 5 1 15 1 12 1 490"/>
<path d="M543.5 205v490" stroke="#0000bf" stroke-width="9" stroke-dasharray="1 7 1 6 1 14 1 7 1 2 1 4 1 2 1 5 1 11 1 57 1 2 1 19 1 1 1 11 1 1 1 10 1 12 1 4 1 2 1 2 1 8 1 4 1 8 2 12 2 9 1 7 1 11 1 3 1 35 1 2 1 28 2 19 1 20 1 4 1 10 1 9 1 36 2 21 1 1 1 490"/>
<path d="M543.5 205v490" stroke="#0000ca" stroke-width="9" stroke-dasharray="0 5 1 19 1 22 1 11 1 9 1 22 1 7 1 1 1 52 1 25 1 14 1 2 1 6 1 24 1 11 1 6 1 2 1 21 1 5 1 2 1 2 1 10 1 6 1 15 1 30 1 8 1 2 1 16 1 2 1 22 1 14 1 14 1 20 1 3 1 18 1 3 1 490"/>
<path d="M543.5 205v490" stroke="#0000d4" stroke-width="9" stroke-dasharray="0 4 1 15 1 19 1 1 1 32 1 16 1 1 1 11 1 1 1 6 1 14 2 10 1 24 1 1 3 17 2 23 1 28 1 59 1 20 1 10 2 6 1 7 1 24 1 11 1 37 1 2 1 10 1 12 1 490"/>
<path d="M543.5 205v490" stroke="#0000df" stroke-width="9" stroke-dasharray="0 9 1 4 1 32 1 11 1 37 1 7 1 4 1 5 1 10 1 51 1 24 1 13 1 20 1 8 1 7 1 16 1 31 1 3 1 2 1 13 1 43 1 13 1 6 1 6 1 40 1 16 2 2 1 15 1 7 1 490"/>
<path d="M543.5 205v490" stroke="#0000ea" stroke-width="9" stroke-dasharray="0 21 1 47 1 3 2 24 1 21 1 1 1 39 1 51 1 15 1 6 1 55 1 19 1 65 1 25 1 5 3 15 2 11 1 2 1 2 2 17 1 14 1 490"/>
<path d="M543.5 205v490" stroke="#0000f4" stroke-width="9" stroke-dasharray="0 10 1 26 1 23 1 26 1 28 1 20 1 103 1 6 1 19 1 4 1 16 1 1 1 37 1 17 1 6 1 11 1 58 1 45 1 490"/>
<path d="M543.5 205v490" stroke="#0000ff" stroke-width="9" stroke-dasharray="0 11 1 5 1 1 1 38 1 25 1 4 1 10 1 6 1 41 1 5 1 1 1 14 1 7 1 5 2 38 1 7 1 27 2 17 1 13 1 1 2 1 1 7 1 6 1 5 1 1 1 30 1 3 2 1 1 7 1 7 1 1 1 9 1 19 1 12 1 5 1 13 1 8 1 22 1 4 1 490"/>
<path d="M543.5 205v490" stroke="#0000ff" stroke-width="9" stroke-dasharray="0 18 1 59 1 11 1 13 1 4 1 10 1 15 1 2 1 28 1 14 1 7 2 9 2 8 1 7 2 2 1 10 1 4 1 9 1 9 2 8 1 4 1 4 1 11 1 37 1 15 1 3 1 4 1 10 1 6 1 4 1 11 1 2 1 2 1 5 1 7 1 9 2 11 5 43 1 490"/>
<path d="M543.5 205v490" stroke="#0019ff" stroke-width="9" stroke-dasharray="0 122 1 87 2 13 1 52 1 17 1 44 2 40 1 27 1 12 1 7 1 14 2 12 1 8 1 1 1 5 1 1 1 7 2 490"/>
<path d="M543.5 205v490" stroke="#0033ff" stroke-width="9" stroke-dasharray="0 201 1 7 1 69 1 10 1 108 1 87 1 490"/>
<rect x="548" y="205" width="10" height="490" fill="#0000aa"/>
<path d="M553.0 205v490" stroke="#00008a" stroke-width="10" stroke-dasharray="0 24 1 1 1 8 1 9 1 105 1 76 1 16 1 72 1 14 1 14 1 52 1 14 1 24 1 490"/>
<path d="M553.0 205v490" stroke="#000095" stroke-width="10" stroke-dasharray="0 1 1 11 1 9 1 1 1 6 3 9 1 5 1 3 1 10 2 1 1 7 2 2 1 2 1 29 1 38 1 11 1 29 2 21 1 26 1 13 2 5 2 1 1 48 1 10 1 15 1 12 1 13 1 33 1 490"/>
<path d="M553.0 205v490" stroke="#00009f" stroke-width="10" stroke-dasharray="0 2 1 24 1 1 1 1 1 16 1 3 1 3 1 14 1 13 1 16 1 11 1 3 1 5 1 1 1 2 1 2 1 2 1 4 1 6 1 2 1 9 1 12 2 4 1 28 1 7 1 2 1 3 1 40 1 12 1 2 1 6 1 14 3 5 1 9 1 3 1 4 1 8 1 8 1 1 1 3 1 6 1 1 2 3 1 6 1 11 1 13 1 43 1 10 1 15 1 490"/>
<path d="M553.0 205v490" stroke="#0000b5" stroke-width="10" stroke-dasharray="0 36 1 2 2 1 1 15 1 20 1 18 1 12 2 18 1 1 1 35 1 10 2 3 1 19 1 16 1 9 1 6 1 3 1 10 1 2 1 2 1 23 1 4 1 9 1 5 1 26 1 1 1 26 1 25 1 19 2 4 1 7 1 4 1 18 1 5 1 4 1 5 1 1 2 11 1 490"/>
<path d="M553.0 205v490" stroke="#0000bf" stroke-width="10" stroke-dasharray="1 2 1 26 1 7 1 2 1 15 1 26 1 10 2 24 1 8 1 7 1 7 1 7 1 4 1 18 1 19 1 14 1 12 1 11 1 7 1 1 1 20 1 5 1 35 1 85 1 21 1 17 1 12 1 15 1 17 1 1 1 490"/>
<path d="M553.0 205v490" stroke="#0000ca" stroke-width="10" stroke-dasharray="0 5 1 1 1 7 2 4 1 27 1 10 1 14 1 16 1 12 1 36 1 10 1 43 1 9 1 16 1 27 1 9 1 11 1 7 1 10 1 1 1 40 1 19 1 1 1 7 1 2 1 25 1 33 2 45 1 5 1 2 1 490"/>
<path d="M553.0 205v490" stroke="#0000d4" stroke-width="10" stroke-dasharray="0 6 1 40 1 16 1 34 1 3 1 21 1 1 1 16 1 3 2 17 1 23 1 1 1 2 1 23 1 26 1 24 1 41 2 6 1 7 1 21 1 27 1 4 1 2 1 1 1 1 1 10 1 2 1 7 1 3 1 8 1 8 1 3 1 16 1 14 1 2 1 490"/>
<path d="M553.0 205v490" stroke="#0000df" stroke-width="10" stroke-dasharray="0 4 1 3 1 11 1 16 1 13 1 68 1 2 1 32 2 57 1 2 1 2 1 12 1 1 1 36 1 24 1 27 1 16 1 15 1 5 1 9 1 72 1 14 1 5 1 490"/>
<path d="M553.0 205v490" stroke="#0000ea" stroke-width="10" stroke-dasharray="0 70 1 16 1 5 1 3 1 10 3 51 1 8 1 16 1 11 1 126 1 36 1 3 1 4 1 7 1 11 2 43 1 4 1 16 2 490"/>
<path d="M553.0 205v490" stroke="#0000f4" stroke-width="10" stroke-dasharray="0 10 2 105 1 4 1 22 1 17 1 8 1 9 1 4 1 11 1 25 1 9 1 4 1 67 1 12 1 69 1 17 1 10 1 2 1 1 1 16 1 30 1 6 1 490"/>
<path d="M553.0 205v490" stroke="#0000ff" stroke-width="10" stroke-dasharray="0 17 1 1 1 39 1 7 1 6 1 3 1 9 1 1 1 3 1 6 1 4 2 8 1 19 1 21 1 11 1 12 1 5 2 11 1 1 1 26 1 1 1 8 1 6 3 3 1 5 1 1 1 7 1 6 1 6 2 1 1 1 3 14 1 1 1 2 1 18 1 10 1 3 1 3 2 3 1 20 1 2 1 2 1 1 1 4 1 6 1 2 1 2 1 7 1 1 1 9 1 8 1 42 1 490"/>
<path d="M553.0 205v490" stroke="#0000ff" stroke-width="10" stroke-dasharray="0 9 1 8 1 42 1 11 1 15 1 10 1 14 1 39 1 12 1 17 1 5 1 8 1 1 1 5 4 43 1 22 1 16 1 3 1 22 1 11 1 4 2 36 1 4 1 27 1 16 1 3 4 11 1 5 1 5 1 10 1 16 1 490"/>
<path d="M553.0 205v490" stroke="#0019ff" stroke-width="10" stroke-dasharray="0 104 1 34 1 130 1 26 1 79 1 46 1 14 1 6 1 2 1 18 1 10 1 9 1 490"/>
<path d="M553.0 205v490" stroke="#0033ff" stroke-width="10" stroke-dasharray="0 478 1 2 1 1 1 4 1 490"/>
<rect x="558" y="205" width="10" height="490" fill="#00009f"/>
<path d="M563.0 205v490" stroke="#00008a" stroke-width="10" stroke-dasharray="0 53 1 59 1 10 1 70 1 20 1 11 1 38 1 42 1 2 1 46 1 44 1 10 1 490"/>
<path d="M563.0 205v490" stroke="#000095" stroke-width="10" stroke-dasharray="0 23 1 11 2 13 1 4 2 11 1 11 1 2 2 29 1 14 1 5 1 2 1 8 1 65 1 5 1 21 1 3 1 34 1 21 2 14 1 14 1 13 2 13 2 7 1 29 1 13 1 2 1 22 1 16 1 6 1 5 1 490"/>
<path d="M563.0 205v490" stroke="#0000aa" stroke-width="10" stroke-dasharray="0 1 1 13 2 17 1 6 1 1 1 7 1 27 1 38 2 11 2 8 1 11 2 9 1 5 1 3 1 3 1 5 1 2 1 26 1 7 1 16 1 13 1 3 1 2 1 11 1 1 1 12 1 11 1 1 1 4 1 32 1 46 1 4 1 8 1 18 1 10 1 5 2 38 1 5 1 490"/>
<path d="M563.0 205v490" stroke="#0000b5" stroke-width="10" stroke-dasharray="0 5 1 4 1 3 1 7 1 7 1 1 2 8 1 3 1 10 1 9 1 20 1 4 1 3 1 11 1 13 1 2 1 25 1 4 1 7 1 3 1 1 1 43 1 1 1 11 1 8 1 25 1 8 1 8 1 10 1 21 1 4 1 8 1 13 1 10 1 3 1 2 1 10 1 11 1 7 1 14 1 21 1 29 1 10 1 490"/>
<path d="M563.0 205v490" stroke="#0000bf" stroke-width="10" stroke-dasharray="0 6 1 41 1 17 1 2 1 1 1 14 1 3 1 5 1 6 1 6 1 1 1 17 1 12 1 2 1 1 1 11 1 32 1 3 1 34 1 1 1 12 1 7 1 32 1 5 1 16 1 10 1 1 2 2 1 2 1 4 1 19 1 8 1 8 2 21 1 5 1 9 1 26 1 13 1 1 1 12 1 9 1 3 1 490"/>
<path d="M563.0 205v490" stroke="#0000ca" stroke-width="10" stroke-dasharray="1 11 1 12 1 3 1 15 1 1 1 17 1 36 1 5 1 2 1 4 1 20 1 28 1 21 1 29 1 5 1 2 1 16 1 1 1 12 1 15 1 10 1 64 3 31 1 20 1 13 2 27 1 13 1 4 1 3 1 13 1 490"/>
<path d="M563.0 205v490" stroke="#0000d4" stroke-width="10" stroke-dasharray="0 9 1 48 1 1 2 12 1 12 1 3 1 3 1 46 1 34 1 20 1 2 1 5 1 12 1 27 1 9 1 19 1 40 1 14 1 20 1 10 1 21 2 8 1 12 1 11 1 2 1 18 1 1 1 4 1 4 1 2 3 490"/>
<path d="M563.0 205v490" stroke="#0000df" stroke-width="10" stroke-dasharray="0 4 1 2 1 29 3 30 1 46 1 9 1 5 1 10 1 5 1 16 1 4 1 3 1 6 1 8 1 15 1 3 1 8 1 11 1 9 1 18 1 64 1 22 1 27 1 4 1 60 1 28 1 490"/>
<path d="M563.0 205v490" stroke="#0000ea" stroke-width="10" stroke-dasharray="0 8 1 2 1 5 1 2 2 9 1 40 1 2 1 29 1 14 1 24 1 3 1 6 1 11 1 6 1 5 1 8 2 71 1 27 1 16 1 36 1 3 1 9 1 8 1 10 1 1 2 16 1 2 1 6 2 20 1 6 1 490"/>
<path d="M563.0 205v490" stroke="#0000f4" stroke-width="10" stroke-dasharray="0 18 1 21 1 8 1 39 1 8 1 22 1 33 1 24 1 22 1 52 1 27 1 15 1 11 1 3 1 9 1 11 1 30 1 62 1 47 1 490"/>
<path d="M563.0 205v490" stroke="#0000ff" stroke-width="10" stroke-dasharray="0 19 1 43 2 13 1 15 1 4 1 15 1 6 1 5 1 29 2 1 1 1 1 18 1 6 1 9 2 1 1 2 2 2 1 15 2 4 1 3 3 2 1 1 1 6 2 10 1 7 1 9 1 5 1 4 1 4 1 11 1 1 1 11 1 8 1 9 3 3 1 26 1 2 1 3 1 12 4 15 1 1 1 7 1 16 1 13 1 490"/>
<path d="M563.0 205v490" stroke="#0000ff" stroke-width="10" stroke-dasharray="0 100 2 5 1 28 1 2 1 22 1 41 1 5 2 39 2 18 1 20 1 3 1 26 1 11 1 28 1 59 2 1 2 4 2 7 2 2 1 27 1 3 1 8 1 490"/>
<path d="M563.0 205v490" stroke="#0019ff" stroke-width="10" stroke-dasharray="0 59 1 13 1 30 1 1 1 163 1 26 1 79 1 57 1 45 1 6 1 490"/>
<rect x="568" y="205" width="9" height="490" fill="#0000aa"/>
<path d="M572.5 205v490" stroke="#00008a" stroke-width="9" stroke-dasharray="0 24 1 51 2 4 1 30 1 10 1 91 1 2 1 83 1 29 2 22 1 5 1 51 1 49 1 5 1 490"/>
<path d="M572.5 205v490" stroke="#000095" stroke-width="9" stroke-dasharray="0 3 1 40 1 5 2 1 1 1 1 27 2 11 1 32 1 5 1 1 1 19 1 12 1 2 2 4 1 15 1 5 1 12 2 12 1 12 1 3 1 18 1 1 2 13 1 7 1 9 1 10 1 26 1 18 1 3 3 9 1 13 2 28 2 23 1 8 2 6 1 7 1 490"/>
<path d="M572.5 205v490" stroke="#00009f" stroke-width="9" stroke-dasharray="0 2 1 2 1 4 1 5 1 13 1 4 1 16 1 3 1 24 1 3 1 39 2 3 1 13 1 2 1 3 1 42 1 28 2 48 2 8 1 4 1 4 1 4 1 3 1 1 2 26 1 11 1 3 1 3 1 2 1 11 1 3 1 19 1 9 1 3 1 24 1 5 1 8 1 1 2 12 1 14 1 490"/>
<path d="M572.5 205v490" stroke="#0000b5" stroke-width="9" stroke-dasharray="0 1 1 24 1 19 1 1 1 5 1 3 1 5 1 1 1 1 1 2 1 30 1 8 1 19 1 8 1 4 1 2 1 4 1 6 1 5 1 20 1 29 1 7 1 4 1 3 1 1 1 9 1 35 1 4 1 18 1 4 1 4 1 5 1 2 1 27 1 12 1 3 1 4 1 8 1 17 1 4 1 12 1 18 2 3 1 12 1 1 1 4 1 14 1 2 1 2 1 3 1 490"/>
<path d="M572.5 205v490" stroke="#0000bf" stroke-width="9" stroke-dasharray="0 25 1 21 1 19 1 4 1 2 1 17 1 11 1 6 1 14 1 24 1 8 1 2 1 4 1 2 1 3 1 4 1 20 1 19 1 6 1 7 1 9 1 7 2 2 1 2 1 5 1 8 1 13 1 9 1 6 1 19 1 10 1 18 1 6 1 3 1 4 1 3 1 52 1 30 1 490"/>
<path d="M572.5 205v490" stroke="#0000ca" stroke-width="9" stroke-dasharray="0 6 1 33 2 7 1 11 1 88 1 3 1 43 1 7 1 14 1 10 1 6 1 4 1 7 1 5 1 13 1 13 1 13 1 19 1 15 1 42 1 14 1 3 1 30 1 13 1 29 1 13 1 490"/>
<path d="M572.5 205v490" stroke="#0000d4" stroke-width="9" stroke-dasharray="1 13 1 2 1 14 2 3 1 7 1 33 1 29 1 9 1 26 1 12 1 17 1 15 1 13 1 25 1 31 1 9 2 7 1 24 1 4 1 2 1 55 1 9 1 4 1 32 1 3 1 12 1 14 1 490"/>
<path d="M572.5 205v490" stroke="#0000df" stroke-width="9" stroke-dasharray="0 4 1 4 1 3 1 55 1 28 1 1 1 9 1 6 2 14 1 29 1 19 1 21 1 20 1 16 1 13 1 3 1 28 1 28 1 7 1 1 1 8 1 1 1 5 1 3 1 17 1 26 1 3 1 52 1 2 1 19 1 490"/>
<path d="M572.5 205v490" stroke="#0000ea" stroke-width="9" stroke-dasharray="0 8 1 3 1 5 1 2 1 16 2 48 1 5 1 26 1 17 1 16 1 85 1 7 1 130 1 3 1 3 1 6 1 15 1 33 1 2 1 6 1 11 1 490"/>
<path d="M572.5 205v490" stroke="#0000f4" stroke-width="9" stroke-dasharray="0 7 1 11 2 10 1 2 1 22 1 2 1 55 1 32 1 15 1 34 1 2 2 3 1 3 1 56 1 9 1 44 1 6 1 13 1 57 2 4 1 71 1 490"/>
<path d="M572.5 205v490" stroke="#0000ff" stroke-width="9" stroke-dasharray="0 11 1 30 1 20 1 6 1 2 1 4 1 11 2 7 1 4 1 15 1 2 1 10 1 6 2 15 1 8 2 6 1 4 1 1 1 1 1 6 2 16 3 19 1 3 1 2 1 12 1 1 1 9 1 7 1 13 1 8 1 12 1 4 1 13 1 8 1 6 1 6 1 4 1 4 1 16 2 2 1 1 1 10 1 12 1 4 1 1 2 4 1 7 2 3 1 45 1 7 1 490"/>
<path d="M572.5 205v490" stroke="#0000ff" stroke-width="9" stroke-dasharray="0 59 1 27 1 1 1 11 1 6 1 6 1 6 1 5 1 33 1 25 3 8 1 40 1 29 1 21 1 2 2 24 1 1 1 6 1 33 1 57 1 1 1 8 3 33 1 10 1 490"/>
<path d="M572.5 205v490" stroke="#0019ff" stroke-width="9" stroke-dasharray="0 106 2 47 1 141 1 176 1 13 1 490"/>
<rect x="577" y="205" width="10" height="490" fill="#00009f"/>
<path d="M582.0 205v490" stroke="#00008a" stroke-width="10" stroke-dasharray="0 82 1 30 1 56 1 24 1 36 1 12 1 18 1 37 2 1 1 27 2 80 1 32 1 1 1 14 1 490"/>
<path d="M582.0 205v490" stroke="#000095" stroke-width="10" stroke-dasharray="0 10 1 12 2 1 1 1 1 15 1 8 1 22 2 2 1 2 2 39 1 12 1 6 1 34 1 1 1 19 1 14 1 24 1 13 1 11 1 9 1 3 1 17 1 4 1 32 1 6 1 10 1 4 1 1 1 3 1 5 1 2 1 11 1 13 1 6 1 8 1 5 1 15 1 1 1 2 1 6 2 10 2 6 1 10 2 490"/>
<path d="M582.0 205v490" stroke="#0000aa" stroke-width="10" stroke-dasharray="0 1 1 1 1 13 1 12 1 24 1 4 1 6 2 16 2 9 1 3 1 4 1 26 1 2 2 1 1 14 1 19 1 12 2 8 2 15 1 11 1 4 1 12 1 4 1 3 1 1 1 5 1 12 1 6 1 1 1 5 1 12 1 36 1 24 1 1 1 3 1 22 1 12 1 3 1 27 2 3 1 2 1 8 1 3 1 3 1 9 1 490"/>
<path d="M582.0 205v490" stroke="#0000b5" stroke-width="10" stroke-dasharray="0 4 1 11 1 1 1 19 1 4 1 13 2 16 1 15 1 11 1 27 1 15 2 1 1 1 1 10 1 5 1 6 1 6 1 14 1 1 1 21 1 3 2 3 1 5 1 1 1 7 1 8 2 7 1 21 1 20 1 5 1 4 2 18 1 6 1 24 1 2 1 1 1 6 1 2 1 13 1 6 1 17 1 21 1 13 1 11 1 490"/>
<path d="M582.0 205v490" stroke="#0000bf" stroke-width="10" stroke-dasharray="0 5 1 8 1 7 1 26 2 41 1 5 1 3 1 8 1 9 1 3 1 4 1 8 2 2 1 5 1 7 2 5 1 49 1 3 1 10 1 36 1 1 1 9 1 21 1 21 1 6 1 21 1 25 1 13 1 40 1 7 1 14 1 1 1 490"/>
<path d="M582.0 205v490" stroke="#0000ca" stroke-width="10" stroke-dasharray="0 13 1 18 2 6 1 28 1 42 1 6 1 25 1 20 1 56 1 18 1 3 1 22 1 1 1 4 1 17 1 33 1 11 1 9 1 5 1 11 1 9 1 16 2 6 1 18 1 26 1 19 2 16 1 490"/>
<path d="M582.0 205v490" stroke="#0000d4" stroke-width="10" stroke-dasharray="0 9 1 5 1 31 1 6 1 35 1 2 1 3 1 6 1 41 1 7 1 5 2 31 1 27 1 22 1 13 1 4 1 11 1 3 1 3 1 1 1 21 1 16 2 1 1 21 1 2 2 16 1 11 1 27 1 3 1 5 1 8 1 1 1 11 1 33 1 7 1 490"/>
<path d="M582.0 205v490" stroke="#0000df" stroke-width="10" stroke-dasharray="1 5 1 39 1 18 1 8 1 14 1 37 1 5 1 48 1 1 1 4 1 1 2 12 1 3 1 2 1 36 1 12 1 21 1 4 1 5 1 77 1 10 1 12 1 4 1 21 1 28 1 13 1 18 1 490"/>
<path d="M582.0 205v490" stroke="#0000ea" stroke-width="10" stroke-dasharray="0 8 1 2 2 7 2 3 1 19 1 24 1 38 1 67 1 33 1 12 1 9 1 35 1 25 1 29 1 5 1 61 1 11 1 6 1 14 1 490"/>
<path d="M582.0 205v490" stroke="#0000f4" stroke-width="10" stroke-dasharray="0 19 1 11 1 2 1 4 1 8 1 23 1 6 1 37 2 1 1 38 1 5 1 14 1 7 1 13 3 28 1 4 1 14 1 82 1 21 1 29 1 4 1 33 1 7 1 24 1 20 1 490"/>
<path d="M582.0 205v490" stroke="#0000ff" stroke-width="10" stroke-dasharray="0 41 2 20 1 2 1 4 1 6 1 8 1 6 1 4 1 10 1 12 1 10 1 21 1 5 1 4 1 4 1 33 2 2 1 24 1 4 1 9 2 7 1 1 1 10 1 17 2 17 1 1 2 4 1 3 1 20 1 16 1 19 1 1 1 7 2 7 2 4 1 7 1 6 1 1 1 8 1 25 1 32 1 490"/>
<path d="M582.0 205v490" stroke="#0000ff" stroke-width="10" stroke-dasharray="0 7 1 51 1 28 1 17 2 8 1 24 1 26 1 6 1 14 1 8 1 8 1 83 1 4 1 25 1 6 2 3 1 18 1 9 1 15 1 4 1 47 2 11 1 21 1 6 1 2 1 490"/>
<path d="M582.0 205v490" stroke="#0019ff" stroke-width="10" stroke-dasharray="0 73 1 27 1 6 1 6 1 6 1 5 1 13 1 12 1 255 1 62 1 4 2 7 1 490"/>
<rect x="587" y="205" width="10" height="490" fill="#0000ff"/>
<path d="M592.0 205v490" stroke="#000080" stroke-width="10" stroke-dasharray="0 305 1 490"/>
<path d="M592.0 205v490" stroke="#00008a" stroke-width="10" stroke-dasharray="0 10 1 221 1 68 2 7 1 26 1 17 1 16 1 2 1 39 1 1 1 26 1 490"/>
<path d="M592.0 205v490" stroke="#000095" stroke-width="10" stroke-dasharray="0 2 2 11 1 12 2 14 1 7 1 9 1 1 1 17 1 3 1 26 1 12 1 3 1 4 1 15 1 6 1 1 1 9 1 23 1 21 2 1 2 24 1 31 1 3 1 6 1 14 1 14 1 14 2 3 2 21 2 4 1 6 1 43 1 20 1 1 1 6 1 10 1 2 1 2 2 9 1 490"/>
<path d="M592.0 205v490" stroke="#00009f" stroke-width="10" stroke-dasharray="0 23 2 5 1 5 1 14 1 5 1 3 1 5 2 7 1 3 2 2 1 11 1 17 1 14 1 6 1 7 1 16 1 1 1 17 1 18 2 7 1 15 1 7 2 1 2 17 1 4 1 3 1 3 2 1 1 6 1 20 1 4 1 1 1 6 1 43 1 2 1 44 2 1 1 14 1 1 1 10 1 5 1 15 1 10 1 1 1 11 1 490"/>
<path d="M592.0 205v490" stroke="#0000aa" stroke-width="10" stroke-dasharray="0 4 1 9 1 11 1 10 1 15 1 1 2 12 1 27 1 7 1 6 1 46 1 4 1 9 1 4 1 7 1 42 1 10 1 20 1 13 1 3 1 1 1 11 1 3 1 17 1 31 1 2 2 3 1 1 1 4 1 2 1 6 1 13 1 13 2 4 1 1 1 37 1 4 1 1 1 8 2 5 1 13 2 490"/>
<path d="M592.0 205v490" stroke="#0000b5" stroke-width="10" stroke-dasharray="0 9 1 6 1 18 1 2 1 11 1 19 1 4 1 1 1 1 1 5 1 9 1 25 1 2 2 11 1 7 1 1 1 47 1 2 1 6 1 6 2 4 1 7 1 8 1 11 2 3 1 12 1 13 1 13 1 26 1 1 1 4 1 1 1 13 1 3 1 1 1 21 1 20 1 4 1 5 1 9 2 9 1 5 1 1 1 4 1 7 1 11 1 490"/>
<path d="M592.0 205v490" stroke="#0000bf" stroke-width="10" stroke-dasharray="0 17 1 30 1 9 1 4 1 10 1 27 1 8 1 15 1 3 1 8 1 7 1 5 1 2 1 27 1 29 1 5 2 15 2 6 1 7 1 6 1 1 1 2 1 3 1 4 1 11 1 3 1 23 1 24 1 24 1 17 1 7 1 4 1 13 1 5 1 21 1 1 1 9 1 22 1 3 1 4 1 490"/>
<path d="M592.0 205v490" stroke="#0000ca" stroke-width="10" stroke-dasharray="0 11 1 1 1 18 1 16 1 22 1 10 1 14 1 1 1 31 1 17 1 2 1 15 1 7 1 6 1 1 1 20 2 5 1 12 1 3 1 11 1 5 1 17 1 15 1 11 1 4 1 20 1 4 1 23 1 2 1 16 1 11 1 3 1 2 1 4 1 5 1 3 1 15 1 1 1 20 1 2 1 4 1 9 1 490"/>
<path d="M592.0 205v490" stroke="#0000d4" stroke-width="10" stroke-dasharray="0 5 1 19 1 1 1 5 1 20 1 32 1 3 1 11 1 69 1 28 1 26 1 26 1 1 2 26 1 20 1 6 1 13 1 12 1 2 3 88 1 24 1 11 1 1 2 10 1 490"/>
<path d="M592.0 205v490" stroke="#0000df" stroke-width="10" stroke-dasharray="2 4 3 11 1 18 1 25 1 23 1 2 2 5 1 9 1 18 1 10 1 9 1 2 1 18 1 6 1 18 1 26 1 3 1 21 1 22 1 43 1 17 1 42 1 88 2 18 1 490"/>
<path d="M592.0 205v490" stroke="#0000ea" stroke-width="10" stroke-dasharray="0 12 1 5 2 20 1 19 1 5 1 4 1 32 1 2 1 54 1 3 1 9 1 6 1 39 1 50 1 14 1 33 1 53 1 17 1 38 1 46 1 490"/>
<path d="M592.0 205v490" stroke="#0000f4" stroke-width="10" stroke-dasharray="0 21 2 8 1 2 1 6 1 1 1 1 2 72 1 18 1 26 1 14 1 15 1 2 1 92 1 3 1 28 1 50 1 7 1 5 1 36 1 3 1 490"/>
<path d="M592.0 205v490" stroke="#0000ff" stroke-width="10" stroke-dasharray="0 59 1 28 1 12 1 6 1 7 1 1 1 3 1 11 1 20 1 26 1 7 1 12 2 1 1 3 1 31 1 8 1 80 1 9 1 11 1 30 1 12 1 12 1 41 1 1 2 21 2 490"/>
<path d="M592.0 205v490" stroke="#0019ff" stroke-width="10" stroke-dasharray="0 78 1 36 1 26 1 48 1 105 1 14 1 18 1 32 1 15 1 99 1 7 2 490"/>
<rect x="597" y="205" width="10" height="490" fill="#00009f"/>
<path d="M602.0 205v490" stroke="#00008a" stroke-width="10" stroke-dasharray="0 80 1 139 1 11 1 31 2 22 1 16 1 27 1 4 1 36 1 32 1 6 1 43 1 490"/>
<path d="M602.0 205v490" stroke="#000095" stroke-width="10" stroke-dasharray="0 4 1 5 1 18 1 14 1 41 1 26 2 12 1 2 1 4 1 1 1 20 1 11 1 27 1 20 1 1 2 2 1 4 1 32 1 4 1 8 2 1 1 29 1 28 1 20 1 1 1 9 1 33 2 6 1 29 1 2 2 9 1 3 2 2 1 2 1 490"/>
<path d="M602.0 205v490" stroke="#0000aa" stroke-width="10" stroke-dasharray="0 3 1 19 2 13 1 11 1 2 1 14 1 1 1 6 1 34 1 16 1 10 1 4 1 7 1 6 1 3 1 19 1 16 1 25 2 6 1 5 1 3 1 9 1 4 1 10 1 2 1 1 1 2 1 1 1 11 1 9 1 9 1 30 2 3 1 2 2 9 1 6 1 5 1 1 1 17 2 3 2 2 1 11 1 7 1 6 1 10 1 6 1 2 1 11 1 10 1 12 1 490"/>
<path d="M602.0 205v490" stroke="#0000b5" stroke-width="10" stroke-dasharray="0 11 3 6 1 5 1 1 1 3 1 1 1 10 1 6 1 5 1 3 1 9 1 25 1 33 1 19 1 8 1 5 1 1 1 3 2 4 1 1 1 4 1 10 1 11 1 5 1 1 1 8 1 2 1 3 2 1 1 2 1 7 1 11 1 2 1 6 1 54 1 25 1 5 1 26 1 3 1 1 3 53 1 6 1 15 1 1 1 6 1 4 1 2 1 490"/>
<path d="M602.0 205v490" stroke="#0000bf" stroke-width="10" stroke-dasharray="0 2 1 22 1 1 1 20 2 4 1 1 1 9 1 16 1 9 1 29 1 2 1 21 1 36 1 9 1 4 1 6 1 29 1 6 1 5 1 7 1 24 1 2 1 7 2 3 1 16 1 5 1 4 1 20 1 25 1 2 1 1 1 12 1 1 1 27 1 3 1 2 1 30 1 10 1 490"/>
<path d="M602.0 205v490" stroke="#0000ca" stroke-width="10" stroke-dasharray="0 14 2 19 1 5 1 1 1 2 1 8 1 20 1 12 1 9 1 6 2 3 1 47 1 3 1 13 1 64 1 18 1 11 1 22 1 1 1 19 1 1 1 8 1 5 1 11 1 65 1 10 1 6 1 32 1 10 1 490"/>
<path d="M602.0 205v490" stroke="#0000d4" stroke-width="10" stroke-dasharray="0 8 1 7 1 5 1 17 1 19 1 14 1 29 1 38 1 49 1 17 1 5 1 21 1 7 1 18 1 14 1 2 1 20 1 16 1 49 1 10 1 31 1 10 1 10 1 3 1 14 1 14 2 490"/>
<path d="M602.0 205v490" stroke="#0000df" stroke-width="10" stroke-dasharray="0 7 1 23 1 25 1 5 1 10 1 15 1 29 1 3 2 7 1 7 1 12 1 10 1 9 1 4 1 2 1 3 1 64 1 1 1 62 1 1 1 23 1 10 1 14 1 12 1 57 1 33 1 13 1 490"/>
<path d="M602.0 205v490" stroke="#0000ea" stroke-width="10" stroke-dasharray="1 4 1 11 3 1 1 43 1 22 1 3 1 9 2 52 1 11 1 20 1 23 1 9 1 48 1 27 1 3 1 4 1 16 1 9 1 31 1 2 1 47 1 61 1 490"/>
<path d="M602.0 205v490" stroke="#0000f4" stroke-width="10" stroke-dasharray="0 1 1 37 1 33 1 13 1 20 1 1 1 11 1 5 1 20 1 16 1 9 1 11 1 10 1 2 1 46 1 7 1 12 1 18 1 35 1 60 1 490"/>
<path d="M602.0 205v490" stroke="#0000ff" stroke-width="10" stroke-dasharray="0 6 1 40 1 30 1 12 1 2 1 6 1 7 1 7 1 1 1 18 2 7 1 2 1 4 1 15 2 5 1 17 1 6 4 7 1 31 1 37 1 5 3 14 1 3 1 18 1 1 1 7 3 3 1 33 2 3 1 2 1 4 1 1 1 2 1 1 1 8 2 9 2 6 1 6 1 48 1 490"/>
<path d="M602.0 205v490" stroke="#0000ff" stroke-width="10" stroke-dasharray="0 42 1 16 1 44 1 11 1 1 1 15 1 8 1 18 1 19 1 7 1 1 2 16 2 41 1 2 1 40 1 10 1 5 2 5 1 6 1 30 1 4 1 34 1 12 1 20 1 15 1 1 1 3 1 22 1 490"/>
<path d="M602.0 205v490" stroke="#0019ff" stroke-width="10" stroke-dasharray="0 115 1 26 1 48 1 59 1 60 1 18 1 79 1 44 1 22 2 5 2 490"/>
<path d="M602.0 205v490" stroke="#0033ff" stroke-width="10" stroke-dasharray="0 434 1 490"/>
<rect x="607" y="205" width="9" height="490" fill="#0000aa"/>
<path d="M611.5 205v490" stroke="#00008a" stroke-width="9" stroke-dasharray="0 121 1 8 1 64 1 24 1 9 1 1 1 31 2 39 1 54 1 14 1 54 1 13 1 2 2 14 1 490"/>
<path d="M611.5 205v490" stroke="#000095" stroke-width="9" stroke-dasharray="0 4 1 5 2 12 1 2 3 3 1 24 1 2 1 7 1 7 1 18 1 39 2 32 1 26 1 10 1 17 1 8 1 7 1 5 1 5 1 7 1 29 1 68 1 75 1 2 1 11 1 4 1 5 3 490"/>
<path d="M611.5 205v490" stroke="#00009f" stroke-width="9" stroke-dasharray="0 3 1 5 1 10 1 9 1 14 1 8 1 9 1 14 1 5 2 12 1 5 1 11 1 7 3 23 1 1 1 13 1 11 1 18 1 10 1 2 1 4 1 1 1 4 2 1 1 3 1 13 1 14 1 5 1 10 2 8 1 13 1 11 1 6 1 1 3 1 1 6 1 3 3 8 1 6 1 16 1 3 1 10 1 19 1 7 1 7 1 7 1 4 2 1 1 6 1 3 1 3 1 4 1 2 1 4 1 490"/>
<path d="M611.5 205v490" stroke="#0000b5" stroke-width="9" stroke-dasharray="0 2 1 10 1 1 2 5 1 2 1 9 1 7 1 18 1 4 2 7 1 1 1 4 1 13 1 14 1 11 1 20 2 9 1 3 1 7 1 2 1 3 1 31 1 10 1 19 1 2 1 2 1 2 1 22 2 2 1 20 2 2 1 10 1 8 1 7 1 16 2 10 1 9 1 3 1 3 1 4 1 9 1 1 1 20 1 12 1 6 1 28 1 490"/>
<path d="M611.5 205v490" stroke="#0000bf" stroke-width="9" stroke-dasharray="1 7 1 5 1 4 1 6 1 4 1 17 1 15 1 8 1 45 1 12 1 44 1 44 1 18 1 24 1 8 1 2 1 2 1 1 1 19 1 13 1 15 1 38 1 9 1 13 1 6 3 1 1 5 1 30 1 5 1 24 1 490"/>
<path d="M611.5 205v490" stroke="#0000ca" stroke-width="9" stroke-dasharray="0 17 1 37 1 1 1 1 1 13 1 15 1 16 3 13 1 15 1 2 1 2 1 24 1 3 1 27 1 12 1 22 1 12 1 32 1 2 1 5 1 14 1 17 1 10 1 9 1 6 1 11 1 12 1 42 1 38 1 10 1 1 1 490"/>
<path d="M611.5 205v490" stroke="#0000d4" stroke-width="9" stroke-dasharray="0 63 1 16 1 10 1 6 1 40 1 36 1 57 1 23 1 13 1 33 1 45 1 63 1 25 1 34 1 490"/>
<path d="M611.5 205v490" stroke="#0000df" stroke-width="9" stroke-dasharray="0 1 1 3 1 1 1 10 1 2 1 14 1 10 1 4 2 6 1 42 1 24 1 33 1 20 2 26 1 1 1 26 1 5 1 5 1 20 1 7 1 8 1 9 1 27 1 14 1 14 1 10 1 1 1 5 1 17 1 17 1 6 1 19 1 34 1 490"/>
<path d="M611.5 205v490" stroke="#0000ea" stroke-width="9" stroke-dasharray="0 6 1 25 1 33 1 20 1 22 1 21 1 28 1 20 1 76 1 37 1 32 1 16 1 20 1 41 1 38 1 33 1 4 1 490"/>
<path d="M611.5 205v490" stroke="#0000f4" stroke-width="9" stroke-dasharray="0 40 2 60 1 1 1 6 1 11 1 30 1 25 1 8 2 3 1 1 1 2 2 140 1 12 1 31 1 1 1 3 1 6 1 34 1 37 1 8 1 7 1 490"/>
<path d="M611.5 205v490" stroke="#0000ff" stroke-width="9" stroke-dasharray="0 39 1 8 1 26 1 12 1 3 2 1 1 13 1 5 2 1 2 14 1 13 2 5 1 3 1 3 2 7 1 13 2 4 1 9 3 1 1 3 1 42 1 2 2 31 1 1 1 16 1 2 2 2 1 1 1 3 1 13 1 4 1 1 1 7 2 7 1 3 1 17 2 1 1 9 1 6 1 7 1 1 1 6 1 5 1 3 1 6 1 48 1 490"/>
<path d="M611.5 205v490" stroke="#0000ff" stroke-width="9" stroke-dasharray="0 42 1 13 1 44 1 40 2 3 1 2 1 14 2 18 1 2 1 4 1 11 1 45 1 57 1 6 1 15 1 31 1 15 1 4 1 7 1 6 1 18 1 13 1 21 1 1 1 16 1 11 1 490"/>
<path d="M611.5 205v490" stroke="#0019ff" stroke-width="9" stroke-dasharray="0 94 1 96 1 139 1 66 1 57 1 21 3 490"/>
<path d="M611.5 205v490" stroke="#0033ff" stroke-width="9" stroke-dasharray="0 487 1 490"/>
<rect x="616" y="205" width="10" height="490" fill="#0000b5"/>
<path d="M621.0 205v490" stroke="#00008a" stroke-width="10" stroke-dasharray="0 29 1 178 1 11 1 103 1 62 1 59 1 490"/>
<path d="M621.0 205v490" stroke="#000095" stroke-width="10" stroke-dasharray="0 10 2 4 2 9 1 2 2 22 1 3 1 2 1 7 2 3 1 2 1 4 1 13 1 20 1 3 1 5 1 23 1 5 1 9 1 46 1 4 1 15 1 25 1 1 1 41 1 16 2 31 1 20 1 12 1 13 1 8 1 14 1 4 1 11 1 17 1 1 1 490"/>
<path d="M621.0 205v490" stroke="#00009f" stroke-width="10" stroke-dasharray="0 9 1 4 1 9 2 2 1 9 1 6 2 12 1 4 1 11 1 1 1 26 1 6 1 17 1 21 2 20 1 3 2 1 1 27 1 2 1 4 1 3 2 3 1 5 1 3 1 12 1 18 2 7 1 5 1 4 1 4 1 9 1 10 1 19 1 2 1 7 1 2 1 11 1 8 1 26 1 10 2 6 1 14 2 4 1 2 1 1 1 6 1 2 1 2 1 8 1 5 1 7 1 490"/>
<path d="M621.0 205v490" stroke="#0000aa" stroke-width="10" stroke-dasharray="0 3 1 40 1 7 1 2 1 4 1 1 1 5 1 31 1 17 1 3 1 2 2 4 1 14 1 8 1 12 1 1 1 2 1 21 1 22 1 8 1 2 1 8 1 3 1 1 1 1 2 6 1 8 1 15 1 26 1 30 2 4 1 4 1 3 1 8 1 3 1 5 1 15 1 8 1 16 1 8 1 5 1 7 1 8 1 3 1 2 1 14 1 7 1 490"/>
<path d="M621.0 205v490" stroke="#0000bf" stroke-width="10" stroke-dasharray="0 5 1 2 1 6 1 2 1 13 1 15 1 7 1 14 1 1 1 15 1 5 1 1 1 5 2 15 1 19 1 7 1 9 1 1 2 10 1 10 2 22 1 8 1 12 1 1 1 34 1 9 1 10 1 6 1 2 1 12 1 19 1 2 1 12 1 12 1 8 1 6 1 16 1 25 1 7 1 6 1 4 1 1 1 17 1 2 1 490"/>
<path d="M621.0 205v490" stroke="#0000ca" stroke-width="10" stroke-dasharray="1 3 1 16 1 13 1 11 1 1 1 15 1 6 1 7 2 20 1 26 1 5 1 7 1 25 1 1 1 10 1 5 1 8 3 15 1 9 1 8 1 3 1 2 1 16 2 2 1 9 1 38 2 14 1 58 1 34 1 50 1 2 1 490"/>
<path d="M621.0 205v490" stroke="#0000d4" stroke-width="10" stroke-dasharray="0 23 1 43 1 17 1 12 1 8 1 5 1 19 1 4 1 2 1 5 1 6 1 11 1 9 2 2 1 11 1 7 1 55 2 9 1 7 1 2 1 16 1 3 1 41 1 12 1 16 1 38 1 9 1 14 1 35 1 1 1 14 1 490"/>
<path d="M621.0 205v490" stroke="#0000df" stroke-width="10" stroke-dasharray="0 6 2 5 1 49 1 20 1 3 1 86 1 25 1 2 1 84 2 13 1 51 1 92 1 35 1 490"/>
<path d="M621.0 205v490" stroke="#0000ea" stroke-width="10" stroke-dasharray="0 1 1 34 1 49 1 24 1 37 1 6 1 2 1 2 1 31 1 33 1 11 1 50 1 8 1 5 1 1 1 6 1 12 1 23 1 20 2 2 1 26 1 4 1 1 1 22 1 32 1 2 1 490"/>
<path d="M621.0 205v490" stroke="#0000f4" stroke-width="10" stroke-dasharray="0 41 2 7 1 24 1 16 1 16 2 33 2 50 1 13 2 1 1 28 1 10 1 32 1 32 1 16 1 24 1 21 1 21 1 16 1 34 1 1 1 21 1 490"/>
<path d="M621.0 205v490" stroke="#0000ff" stroke-width="10" stroke-dasharray="0 39 1 47 1 3 1 9 1 4 1 9 1 2 1 3 1 8 1 17 1 12 2 21 2 3 1 1 1 9 1 2 1 26 1 12 1 5 1 17 2 2 1 4 1 29 1 6 1 4 1 4 1 4 2 14 1 2 1 13 1 13 2 1 1 11 1 4 1 2 1 14 1 2 1 4 2 16 2 12 1 27 1 490"/>
<path d="M621.0 205v490" stroke="#0000ff" stroke-width="10" stroke-dasharray="0 40 1 25 1 27 1 20 1 18 1 7 1 22 1 19 1 16 1 48 1 90 2 19 1 16 1 1 1 97 1 1 1 6 1 490"/>
<path d="M621.0 205v490" stroke="#0019ff" stroke-width="10" stroke-dasharray="0 340 1 43 2 13 2 54 1 22 1 7 1 490"/>
<path d="M621.0 205v490" stroke="#0033ff" stroke-width="10" stroke-dasharray="0 474 1 4 1 3 1 3 1 490"/>
</g>
<g shape-rendering="crispEdges">
<rect x="72" y="694" width="10" height="1" fill="#6eff8c"/>
<rect x="82" y="694" width="9" height="1" fill="#6eff8c"/>
<rect x="169" y="644" width="10" height="3" fill="#005aff"/>
<rect x="169" y="680" width="10" height="3" fill="#0082ff"/>
<rect x="169" y="683" width="10" height="5" fill="#00a0ff"/>
<rect x="169" y="688" width="10" height="1" fill="#00ebff"/>
<rect x="169" y="689" width="10" height="2" fill="#0082ff"/>
<rect x="169" y="691" width="10" height="4" fill="#50ffaa"/>
<rect x="179" y="661" width="10" height="2" fill="#0050ff"/>
<rect x="179" y="680" width="10" height="3" fill="#005aff"/>
<rect x="179" y="685" width="10" height="2" fill="#0096ff"/>
<rect x="179" y="687" width="10" height="3" fill="#82ff78"/>
<rect x="179" y="690" width="10" height="2" fill="#0028e6"/>
<rect x="179" y="692" width="10" height="2" fill="#00f0ff"/>
<rect x="179" y="694" width="10" height="1" fill="#000096"/>
<rect x="189" y="684" width="9" height="1" fill="#006eff"/>
<rect x="189" y="685" width="9" height="5" fill="#00e6ff"/>
<rect x="189" y="690" width="9" height="3" fill="#0064ff"/>
<rect x="189" y="693" width="9" height="2" fill="#008cff"/>
<rect x="198" y="675" width="10" height="2" fill="#005aff"/>
<rect x="198" y="684" width="10" height="8" fill="#00c8ff"/>
<rect x="198" y="692" width="10" height="2" fill="#00b4ff"/>
<rect x="198" y="694" width="10" height="1" fill="#3cffbe"/>
<rect x="208" y="687" width="10" height="3" fill="#003cff"/>
<rect x="208" y="691" width="10" height="4" fill="#00e6ff"/>
<rect x="247" y="651" width="10" height="2" fill="#0078ff"/>
<rect x="247" y="656" width="10" height="3" fill="#003cff"/>
<rect x="247" y="682" width="10" height="1" fill="#0096ff"/>
<rect x="247" y="685" width="10" height="5" fill="#3cffc8"/>
<rect x="247" y="690" width="10" height="1" fill="#00c8ff"/>
<rect x="247" y="692" width="10" height="2" fill="#aaff50"/>
<rect x="247" y="694" width="10" height="1" fill="#ffb400"/>
<rect x="257" y="650" width="9" height="2" fill="#006eff"/>
<rect x="257" y="657" width="9" height="2" fill="#00aaff"/>
<rect x="257" y="685" width="9" height="3" fill="#00f0ff"/>
<rect x="257" y="688" width="9" height="1" fill="#00008c"/>
<rect x="257" y="689" width="9" height="2" fill="#50ffb4"/>
<rect x="257" y="692" width="9" height="2" fill="#f0ff00"/>
<rect x="257" y="694" width="9" height="1" fill="#00dcff"/>
<rect x="266" y="650" width="10" height="2" fill="#006eff"/>
<rect x="266" y="657" width="10" height="2" fill="#00aaff"/>
<rect x="266" y="685" width="10" height="3" fill="#00f0ff"/>
<rect x="266" y="689" width="10" height="2" fill="#50ffb4"/>
<rect x="266" y="692" width="10" height="2" fill="#00b4ff"/>
<rect x="266" y="694" width="10" height="1" fill="#ffc800"/>
<rect x="276" y="685" width="10" height="3" fill="#00aaff"/>
<rect x="276" y="690" width="10" height="2" fill="#00e6ff"/>
<rect x="276" y="692" width="10" height="2" fill="#fff000"/>
<rect x="276" y="694" width="10" height="1" fill="#0096ff"/>
<rect x="286" y="668" width="10" height="3" fill="#006eff"/>
<rect x="286" y="690" width="10" height="1" fill="#005aff"/>
<rect x="296" y="690" width="9" height="1" fill="#0082ff"/>
<rect x="305" y="692" width="10" height="3" fill="#beff3c"/>
<rect x="315" y="692" width="10" height="3" fill="#5affa0"/>
<rect x="325" y="694" width="9" height="1" fill="#ff6e00"/>
<rect x="334" y="692" width="10" height="3" fill="#00dcff"/>
<rect x="432" y="655" width="9" height="2" fill="#005aff"/>
<rect x="432" y="688" width="9" height="2" fill="#0082ff"/>
<rect x="432" y="692" width="9" height="2" fill="#006eff"/>
<rect x="441" y="658" width="10" height="2" fill="#0050ff"/>
<rect x="441" y="690" width="10" height="2" fill="#008cff"/>
<rect x="451" y="656" width="10" height="2" fill="#005aff"/>
<rect x="451" y="689" width="10" height="1" fill="#0078ff"/>
<rect x="451" y="693" width="10" height="2" fill="#0096ff"/>
<rect x="461" y="643" width="9" height="2" fill="#0096ff"/>
<rect x="461" y="651" width="9" height="2" fill="#00e1ff"/>
<rect x="461" y="666" width="9" height="6" fill="#00c8ff"/>
<rect x="461" y="623" width="9" height="2" fill="#0064ff"/>
<rect x="470" y="624" width="10" height="2" fill="#0078ff"/>
<rect x="470" y="650" width="10" height="2" fill="#0096ff"/>
<rect x="470" y="668" width="10" height="6" fill="#00aaff"/>
<rect x="480" y="624" width="10" height="2" fill="#0078ff"/>
<rect x="480" y="650" width="10" height="2" fill="#008cff"/>
<rect x="480" y="667" width="10" height="6" fill="#00a0ff"/>
<rect x="490" y="662" width="10" height="2" fill="#0078ff"/>
<rect x="509" y="577" width="10" height="2" fill="#0064ff"/>
<rect x="519" y="577" width="10" height="2" fill="#00a0ff"/>
<rect x="529" y="577" width="10" height="2" fill="#0096ff"/>
<rect x="539" y="577" width="9" height="2" fill="#006eff"/>
<rect x="519" y="691" width="10" height="3" fill="#00e1ff"/>
<rect x="529" y="691" width="10" height="3" fill="#00d2ff"/>
<rect x="539" y="690" width="9" height="4" fill="#50ffc8"/>
<rect x="548" y="689" width="10" height="3" fill="#00b4ff"/>
</g>
<clipPath id="ctop"><rect x="72.0" y="45.0" width="554.0" height="140.0"/></clipPath>
<path clip-path="url(#ctop)" d="M71.0 80.5h3M72.5 79.0v3M71.0 83.5h3M72.5 82.0v3M72.0 80.5h3M73.5 79.0v3M72.0 87.5h3M73.5 86.0v3M72.0 77.5h3M73.5 76.0v3M73.0 77.5h3M74.5 76.0v3M73.0 83.5h3M74.5 82.0v3M73.0 73.5h3M74.5 72.0v3M74.0 73.5h3M75.5 72.0v3M74.0 83.5h3M75.5 82.0v3M74.0 93.5h3M75.5 92.0v3M75.0 80.5h3M76.5 79.0v3M75.0 83.5h3M76.5 82.0v3M75.0 87.5h3M76.5 86.0v3M76.0 83.5h3M77.5 82.0v3M76.0 77.5h3M77.5 76.0v3M76.0 90.5h3M77.5 89.0v3M76.0 100.5h3M77.5 99.0v3M77.0 93.5h3M78.5 92.0v3M77.0 87.5h3M78.5 86.0v3M77.0 96.5h3M78.5 95.0v3M77.0 103.5h3M78.5 102.0v3M78.0 100.5h3M79.5 99.0v3M78.0 93.5h3M79.5 92.0v3M79.0 96.5h3M80.5 95.0v3M79.0 87.5h3M80.5 86.0v3M79.0 100.5h3M80.5 99.0v3M80.0 103.5h3M81.5 102.0v3M80.0 93.5h3M81.5 92.0v3M80.0 100.5h3M81.5 99.0v3M81.0 96.5h3M82.5 95.0v3M81.0 106.5h3M82.5 105.0v3M81.0 90.5h3M82.5 89.0v3M82.0 93.5h3M83.5 92.0v3M82.0 96.5h3M83.5 95.0v3M82.0 110.5h3M83.5 109.0v3M83.0 83.5h3M84.5 82.0v3M83.0 96.5h3M84.5 95.0v3M83.0 103.5h3M84.5 102.0v3M83.0 93.5h3M84.5 92.0v3M84.0 90.5h3M85.5 89.0v3M84.0 110.5h3M85.5 109.0v3M84.0 87.5h3M85.5 86.0v3M85.0 110.5h3M86.5 109.0v3M85.0 90.5h3M86.5 89.0v3M85.0 93.5h3M86.5 92.0v3M85.0 106.5h3M86.5 105.0v3M86.0 93.5h3M87.5 92.0v3M86.0 96.5h3M87.5 95.0v3M86.0 100.5h3M87.5 99.0v3M87.0 113.5h3M88.5 112.0v3M87.0 83.5h3M88.5 82.0v3M87.0 96.5h3M88.5 95.0v3M87.0 93.5h3M88.5 92.0v3M88.0 93.5h3M89.5 92.0v3M88.0 90.5h3M89.5 89.0v3M88.0 96.5h3M89.5 95.0v3M89.0 96.5h3M90.5 95.0v3M89.0 100.5h3M90.5 99.0v3M89.0 90.5h3M90.5 89.0v3M90.0 100.5h3M91.5 99.0v3M90.0 90.5h3M91.5 89.0v3M90.0 96.5h3M91.5 95.0v3M91.0 90.5h3M92.5 89.0v3M91.0 93.5h3M92.5 92.0v3M91.0 96.5h3M92.5 95.0v3M91.0 106.5h3M92.5 105.0v3M92.0 96.5h3M93.5 95.0v3M92.0 106.5h3M93.5 105.0v3M93.0 129.5h3M94.5 128.0v3M93.0 103.5h3M94.5 102.0v3M93.0 87.5h3M94.5 86.0v3M93.0 133.5h3M94.5 132.0v3M94.0 162.5h3M95.5 161.0v3M94.0 106.5h3M95.5 105.0v3M94.0 159.5h3M95.5 158.0v3M94.0 90.5h3M95.5 89.0v3M95.0 165.5h3M96.5 164.0v3M95.0 100.5h3M96.5 99.0v3M95.0 152.5h3M96.5 151.0v3M95.0 103.5h3M96.5 102.0v3M96.0 165.5h3M97.5 164.0v3M96.0 155.5h3M97.5 154.0v3M96.0 113.5h3M97.5 112.0v3M97.0 159.5h3M98.5 158.0v3M97.0 162.5h3M98.5 161.0v3M97.0 152.5h3M98.5 151.0v3M98.0 159.5h3M99.5 158.0v3M98.0 165.5h3M99.5 164.0v3M99.0 162.5h3M100.5 161.0v3M99.0 155.5h3M100.5 154.0v3M99.0 152.5h3M100.5 151.0v3M100.0 146.5h3M101.5 145.0v3M100.0 149.5h3M101.5 148.0v3M100.0 159.5h3M101.5 158.0v3M100.0 155.5h3M101.5 154.0v3M101.0 159.5h3M102.5 158.0v3M101.0 155.5h3M102.5 154.0v3M102.0 149.5h3M103.5 148.0v3M102.0 159.5h3M103.5 158.0v3M102.0 155.5h3M103.5 154.0v3M103.0 152.5h3M104.5 151.0v3M103.0 142.5h3M104.5 141.0v3M103.0 133.5h3M104.5 132.0v3M104.0 119.5h3M105.5 118.0v3M104.0 152.5h3M105.5 151.0v3M104.0 162.5h3M105.5 161.0v3M104.0 146.5h3M105.5 145.0v3M105.0 116.5h3M106.5 115.0v3M105.0 162.5h3M106.5 161.0v3M105.0 149.5h3M106.5 148.0v3M105.0 129.5h3M106.5 128.0v3M106.0 146.5h3M107.5 145.0v3M106.0 152.5h3M107.5 151.0v3M106.0 126.5h3M107.5 125.0v3M107.0 159.5h3M108.5 158.0v3M107.0 133.5h3M108.5 132.0v3M107.0 146.5h3M108.5 145.0v3M107.0 126.5h3M108.5 125.0v3M108.0 126.5h3M109.5 125.0v3M108.0 116.5h3M109.5 115.0v3M108.0 64.5h3M109.5 63.0v3M108.0 96.5h3M109.5 95.0v3M109.0 73.5h3M110.5 72.0v3M109.0 83.5h3M110.5 82.0v3M109.0 93.5h3M110.5 92.0v3M109.0 67.5h3M110.5 66.0v3M110.0 80.5h3M111.5 79.0v3M110.0 73.5h3M111.5 72.0v3M110.0 64.5h3M111.5 63.0v3M111.0 73.5h3M112.5 72.0v3M111.0 70.5h3M112.5 69.0v3M111.0 67.5h3M112.5 66.0v3M112.0 54.5h3M113.5 53.0v3M112.0 64.5h3M113.5 63.0v3M112.0 70.5h3M113.5 69.0v3M112.0 67.5h3M113.5 66.0v3M113.0 73.5h3M114.5 72.0v3M113.0 70.5h3M114.5 69.0v3M113.0 60.5h3M114.5 59.0v3M113.0 77.5h3M114.5 76.0v3M114.0 60.5h3M115.5 59.0v3M114.0 64.5h3M115.5 63.0v3M114.0 80.5h3M115.5 79.0v3M115.0 87.5h3M116.5 86.0v3M115.0 64.5h3M116.5 63.0v3M115.0 77.5h3M116.5 76.0v3M116.0 64.5h3M117.5 63.0v3M116.0 77.5h3M117.5 76.0v3M116.0 73.5h3M117.5 72.0v3M117.0 77.5h3M118.5 76.0v3M117.0 67.5h3M118.5 66.0v3M117.0 73.5h3M118.5 72.0v3M117.0 60.5h3M118.5 59.0v3M118.0 73.5h3M119.5 72.0v3M118.0 60.5h3M119.5 59.0v3M118.0 64.5h3M119.5 63.0v3M118.0 70.5h3M119.5 69.0v3M119.0 80.5h3M120.5 79.0v3M119.0 73.5h3M120.5 72.0v3M119.0 67.5h3M120.5 66.0v3M119.0 77.5h3M120.5 76.0v3M120.0 67.5h3M121.5 66.0v3M120.0 70.5h3M121.5 69.0v3M120.0 80.5h3M121.5 79.0v3M120.0 64.5h3M121.5 63.0v3M121.0 73.5h3M122.5 72.0v3M121.0 57.5h3M122.5 56.0v3M121.0 60.5h3M122.5 59.0v3M121.0 80.5h3M122.5 79.0v3M122.0 80.5h3M123.5 79.0v3M122.0 67.5h3M123.5 66.0v3M122.0 83.5h3M123.5 82.0v3M123.0 77.5h3M124.5 76.0v3M123.0 73.5h3M124.5 72.0v3M123.0 80.5h3M124.5 79.0v3M123.0 70.5h3M124.5 69.0v3M124.0 83.5h3M125.5 82.0v3M124.0 64.5h3M125.5 63.0v3M124.0 70.5h3M125.5 69.0v3M124.0 73.5h3M125.5 72.0v3M125.0 64.5h3M126.5 63.0v3M125.0 70.5h3M126.5 69.0v3M125.0 57.5h3M126.5 56.0v3M125.0 87.5h3M126.5 86.0v3M126.0 93.5h3M127.5 92.0v3M126.0 70.5h3M127.5 69.0v3M126.0 80.5h3M127.5 79.0v3M126.0 60.5h3M127.5 59.0v3M127.0 73.5h3M128.5 72.0v3M127.0 70.5h3M128.5 69.0v3M127.0 64.5h3M128.5 63.0v3M128.0 73.5h3M129.5 72.0v3M128.0 70.5h3M129.5 69.0v3M128.0 77.5h3M129.5 76.0v3M129.0 73.5h3M130.5 72.0v3M129.0 64.5h3M130.5 63.0v3M129.0 83.5h3M130.5 82.0v3M129.0 80.5h3M130.5 79.0v3M130.0 87.5h3M131.5 86.0v3M130.0 80.5h3M131.5 79.0v3M130.0 57.5h3M131.5 56.0v3M131.0 67.5h3M132.5 66.0v3M131.0 80.5h3M132.5 79.0v3M131.0 87.5h3M132.5 86.0v3M131.0 70.5h3M132.5 69.0v3M132.0 77.5h3M133.5 76.0v3M132.0 87.5h3M133.5 86.0v3M132.0 83.5h3M133.5 82.0v3M133.0 80.5h3M134.5 79.0v3M133.0 73.5h3M134.5 72.0v3M133.0 77.5h3M134.5 76.0v3M133.0 83.5h3M134.5 82.0v3M134.0 80.5h3M135.5 79.0v3M134.0 83.5h3M135.5 82.0v3M134.0 87.5h3M135.5 86.0v3M134.0 100.5h3M135.5 99.0v3M135.0 80.5h3M136.5 79.0v3M135.0 64.5h3M136.5 63.0v3M135.0 83.5h3M136.5 82.0v3M135.0 87.5h3M136.5 86.0v3M136.0 110.5h3M137.5 109.0v3M136.0 162.5h3M137.5 161.0v3M136.0 106.5h3M137.5 105.0v3M136.0 103.5h3M137.5 102.0v3M137.0 169.5h3M138.5 168.0v3M137.0 162.5h3M138.5 161.0v3M137.0 165.5h3M138.5 164.0v3M138.0 152.5h3M139.5 151.0v3M138.0 133.5h3M139.5 132.0v3M138.0 100.5h3M139.5 99.0v3M138.0 96.5h3M139.5 95.0v3M139.0 106.5h3M140.5 105.0v3M139.0 110.5h3M140.5 109.0v3M139.0 162.5h3M140.5 161.0v3M140.0 165.5h3M141.5 164.0v3M140.0 162.5h3M141.5 161.0v3M140.0 159.5h3M141.5 158.0v3M141.0 113.5h3M142.5 112.0v3M141.0 152.5h3M142.5 151.0v3M141.0 165.5h3M142.5 164.0v3M142.0 155.5h3M143.5 154.0v3M142.0 103.5h3M143.5 102.0v3M142.0 169.5h3M143.5 168.0v3M142.0 96.5h3M143.5 95.0v3M143.0 162.5h3M144.5 161.0v3M143.0 155.5h3M144.5 154.0v3M143.0 169.5h3M144.5 168.0v3M143.0 165.5h3M144.5 164.0v3M144.0 126.5h3M145.5 125.0v3M144.0 149.5h3M145.5 148.0v3M144.0 133.5h3M145.5 132.0v3M144.0 87.5h3M145.5 86.0v3M145.0 129.5h3M146.5 128.0v3M145.0 162.5h3M146.5 161.0v3M145.0 93.5h3M146.5 92.0v3M146.0 169.5h3M147.5 168.0v3M146.0 165.5h3M147.5 164.0v3M147.0 165.5h3M148.5 164.0v3M147.0 126.5h3M148.5 125.0v3M147.0 159.5h3M148.5 158.0v3M148.0 87.5h3M149.5 86.0v3M148.0 165.5h3M149.5 164.0v3M149.0 169.5h3M150.5 168.0v3M149.0 110.5h3M150.5 109.0v3M149.0 162.5h3M150.5 161.0v3M150.0 142.5h3M151.5 141.0v3M150.0 159.5h3M151.5 158.0v3M150.0 129.5h3M151.5 128.0v3M150.0 119.5h3M151.5 118.0v3M151.0 100.5h3M152.5 99.0v3M151.0 113.5h3M152.5 112.0v3M151.0 165.5h3M152.5 164.0v3M151.0 172.5h3M152.5 171.0v3M152.0 149.5h3M153.5 148.0v3M152.0 172.5h3M153.5 171.0v3M152.0 136.5h3M153.5 135.0v3M153.0 169.5h3M154.5 168.0v3M153.0 100.5h3M154.5 99.0v3M153.0 103.5h3M154.5 102.0v3M154.0 169.5h3M155.5 168.0v3M154.0 162.5h3M155.5 161.0v3M154.0 73.5h3M155.5 72.0v3M154.0 70.5h3M155.5 69.0v3M155.0 77.5h3M156.5 76.0v3M155.0 70.5h3M156.5 69.0v3M155.0 80.5h3M156.5 79.0v3M155.0 67.5h3M156.5 66.0v3M156.0 87.5h3M157.5 86.0v3M156.0 57.5h3M157.5 56.0v3M156.0 70.5h3M157.5 69.0v3M156.0 77.5h3M157.5 76.0v3M157.0 64.5h3M158.5 63.0v3M157.0 70.5h3M158.5 69.0v3M157.0 67.5h3M158.5 66.0v3M158.0 70.5h3M159.5 69.0v3M158.0 67.5h3M159.5 66.0v3M158.0 80.5h3M159.5 79.0v3M158.0 83.5h3M159.5 82.0v3M159.0 93.5h3M160.5 92.0v3M159.0 73.5h3M160.5 72.0v3M159.0 64.5h3M160.5 63.0v3M160.0 90.5h3M161.5 89.0v3M160.0 77.5h3M161.5 76.0v3M160.0 70.5h3M161.5 69.0v3M161.0 87.5h3M162.5 86.0v3M161.0 57.5h3M162.5 56.0v3M161.0 70.5h3M162.5 69.0v3M161.0 80.5h3M162.5 79.0v3M162.0 77.5h3M163.5 76.0v3M162.0 60.5h3M163.5 59.0v3M162.0 67.5h3M163.5 66.0v3M163.0 77.5h3M164.5 76.0v3M163.0 70.5h3M164.5 69.0v3M164.0 73.5h3M165.5 72.0v3M164.0 87.5h3M165.5 86.0v3M164.0 70.5h3M165.5 69.0v3M165.0 90.5h3M166.5 89.0v3M165.0 129.5h3M166.5 128.0v3M165.0 123.5h3M166.5 122.0v3M165.0 73.5h3M166.5 72.0v3M166.0 93.5h3M167.5 92.0v3M166.0 103.5h3M167.5 102.0v3M166.0 77.5h3M167.5 76.0v3M166.0 64.5h3M167.5 63.0v3M167.0 70.5h3M168.5 69.0v3M167.0 60.5h3M168.5 59.0v3M167.0 64.5h3M168.5 63.0v3M168.0 155.5h3M169.5 154.0v3M168.0 70.5h3M169.5 69.0v3M168.0 67.5h3M169.5 66.0v3M169.0 70.5h3M170.5 69.0v3M169.0 64.5h3M170.5 63.0v3M169.0 146.5h3M170.5 145.0v3M169.0 67.5h3M170.5 66.0v3M170.0 106.5h3M171.5 105.0v3M170.0 80.5h3M171.5 79.0v3M170.0 77.5h3M171.5 76.0v3M170.0 64.5h3M171.5 63.0v3M171.0 73.5h3M172.5 72.0v3M171.0 77.5h3M172.5 76.0v3M171.0 57.5h3M172.5 56.0v3M171.0 70.5h3M172.5 69.0v3M172.0 77.5h3M173.5 76.0v3M172.0 96.5h3M173.5 95.0v3M172.0 70.5h3M173.5 69.0v3M172.0 67.5h3M173.5 66.0v3M173.0 96.5h3M174.5 95.0v3M173.0 64.5h3M174.5 63.0v3M173.0 73.5h3M174.5 72.0v3M174.0 67.5h3M175.5 66.0v3M174.0 70.5h3M175.5 69.0v3M174.0 73.5h3M175.5 72.0v3M175.0 73.5h3M176.5 72.0v3M175.0 67.5h3M176.5 66.0v3M175.0 77.5h3M176.5 76.0v3M175.0 80.5h3M176.5 79.0v3M176.0 87.5h3M177.5 86.0v3M176.0 93.5h3M177.5 92.0v3M176.0 80.5h3M177.5 79.0v3M177.0 83.5h3M178.5 82.0v3M177.0 73.5h3M178.5 72.0v3M177.0 67.5h3M178.5 66.0v3M177.0 70.5h3M178.5 69.0v3M178.0 60.5h3M179.5 59.0v3M178.0 67.5h3M179.5 66.0v3M178.0 73.5h3M179.5 72.0v3M179.0 64.5h3M180.5 63.0v3M179.0 73.5h3M180.5 72.0v3M179.0 106.5h3M180.5 105.0v3M179.0 70.5h3M180.5 69.0v3M180.0 64.5h3M181.5 63.0v3M180.0 57.5h3M181.5 56.0v3M180.0 73.5h3M181.5 72.0v3M180.0 54.5h3M181.5 53.0v3M181.0 93.5h3M182.5 92.0v3M181.0 70.5h3M182.5 69.0v3M181.0 77.5h3M182.5 76.0v3M181.0 67.5h3M182.5 66.0v3M182.0 73.5h3M183.5 72.0v3M182.0 106.5h3M183.5 105.0v3M182.0 70.5h3M183.5 69.0v3M182.0 87.5h3M183.5 86.0v3M183.0 83.5h3M184.5 82.0v3M183.0 73.5h3M184.5 72.0v3M183.0 146.5h3M184.5 145.0v3M183.0 70.5h3M184.5 69.0v3M184.0 70.5h3M185.5 69.0v3M184.0 77.5h3M185.5 76.0v3M184.0 73.5h3M185.5 72.0v3M185.0 87.5h3M186.5 86.0v3M185.0 96.5h3M186.5 95.0v3M185.0 152.5h3M186.5 151.0v3M185.0 64.5h3M186.5 63.0v3M186.0 77.5h3M187.5 76.0v3M186.0 73.5h3M187.5 72.0v3M186.0 146.5h3M187.5 145.0v3M187.0 106.5h3M188.5 105.0v3M187.0 73.5h3M188.5 72.0v3M187.0 80.5h3M188.5 79.0v3M187.0 77.5h3M188.5 76.0v3M188.0 70.5h3M189.5 69.0v3M188.0 87.5h3M189.5 86.0v3M188.0 80.5h3M189.5 79.0v3M189.0 73.5h3M190.5 72.0v3M189.0 83.5h3M190.5 82.0v3M189.0 80.5h3M190.5 79.0v3M189.0 77.5h3M190.5 76.0v3M190.0 70.5h3M191.5 69.0v3M190.0 67.5h3M191.5 66.0v3M190.0 83.5h3M191.5 82.0v3M190.0 142.5h3M191.5 141.0v3M191.0 80.5h3M192.5 79.0v3M191.0 83.5h3M192.5 82.0v3M191.0 93.5h3M192.5 92.0v3M191.0 73.5h3M192.5 72.0v3M192.0 64.5h3M193.5 63.0v3M192.0 93.5h3M193.5 92.0v3M192.0 100.5h3M193.5 99.0v3M193.0 93.5h3M194.5 92.0v3M193.0 70.5h3M194.5 69.0v3M193.0 67.5h3M194.5 66.0v3M193.0 80.5h3M194.5 79.0v3M194.0 67.5h3M195.5 66.0v3M194.0 73.5h3M195.5 72.0v3M194.0 64.5h3M195.5 63.0v3M194.0 87.5h3M195.5 86.0v3M195.0 80.5h3M196.5 79.0v3M195.0 70.5h3M196.5 69.0v3M195.0 90.5h3M196.5 89.0v3M195.0 93.5h3M196.5 92.0v3M196.0 87.5h3M197.5 86.0v3M196.0 67.5h3M197.5 66.0v3M196.0 70.5h3M197.5 69.0v3M197.0 80.5h3M198.5 79.0v3M197.0 73.5h3M198.5 72.0v3M197.0 96.5h3M198.5 95.0v3M198.0 70.5h3M199.5 69.0v3M198.0 60.5h3M199.5 59.0v3M198.0 80.5h3M199.5 79.0v3M198.0 77.5h3M199.5 76.0v3M199.0 80.5h3M200.5 79.0v3M199.0 96.5h3M200.5 95.0v3M199.0 77.5h3M200.5 76.0v3M199.0 83.5h3M200.5 82.0v3M200.0 64.5h3M201.5 63.0v3M200.0 77.5h3M201.5 76.0v3M200.0 73.5h3M201.5 72.0v3M200.0 133.5h3M201.5 132.0v3M201.0 139.5h3M202.5 138.0v3M201.0 152.5h3M202.5 151.0v3M201.0 60.5h3M202.5 59.0v3M201.0 155.5h3M202.5 154.0v3M202.0 90.5h3M203.5 89.0v3M202.0 126.5h3M203.5 125.0v3M202.0 155.5h3M203.5 154.0v3M202.0 149.5h3M203.5 148.0v3M203.0 87.5h3M204.5 86.0v3M203.0 80.5h3M204.5 79.0v3M203.0 96.5h3M204.5 95.0v3M203.0 155.5h3M204.5 154.0v3M204.0 149.5h3M205.5 148.0v3M204.0 133.5h3M205.5 132.0v3M204.0 146.5h3M205.5 145.0v3M204.0 142.5h3M205.5 141.0v3M205.0 146.5h3M206.5 145.0v3M205.0 152.5h3M206.5 151.0v3M205.0 149.5h3M206.5 148.0v3M205.0 155.5h3M206.5 154.0v3M206.0 152.5h3M207.5 151.0v3M206.0 155.5h3M207.5 154.0v3M206.0 159.5h3M207.5 158.0v3M207.0 152.5h3M208.5 151.0v3M207.0 149.5h3M208.5 148.0v3M207.0 155.5h3M208.5 154.0v3M208.0 155.5h3M209.5 154.0v3M208.0 159.5h3M209.5 158.0v3M209.0 159.5h3M210.5 158.0v3M209.0 155.5h3M210.5 154.0v3M210.0 73.5h3M211.5 72.0v3M210.0 67.5h3M211.5 66.0v3M210.0 77.5h3M211.5 76.0v3M210.0 70.5h3M211.5 69.0v3M211.0 73.5h3M212.5 72.0v3M211.0 152.5h3M212.5 151.0v3M211.0 83.5h3M212.5 82.0v3M212.0 73.5h3M213.5 72.0v3M212.0 96.5h3M213.5 95.0v3M212.0 70.5h3M213.5 69.0v3M213.0 83.5h3M214.5 82.0v3M213.0 87.5h3M214.5 86.0v3M213.0 70.5h3M214.5 69.0v3M213.0 73.5h3M214.5 72.0v3M214.0 64.5h3M215.5 63.0v3M214.0 110.5h3M215.5 109.0v3M214.0 83.5h3M215.5 82.0v3M215.0 70.5h3M216.5 69.0v3M215.0 100.5h3M216.5 99.0v3M215.0 77.5h3M216.5 76.0v3M215.0 96.5h3M216.5 95.0v3M216.0 80.5h3M217.5 79.0v3M216.0 100.5h3M217.5 99.0v3M216.0 83.5h3M217.5 82.0v3M216.0 73.5h3M217.5 72.0v3M217.0 70.5h3M218.5 69.0v3M217.0 80.5h3M218.5 79.0v3M217.0 87.5h3M218.5 86.0v3M218.0 106.5h3M219.5 105.0v3M218.0 73.5h3M219.5 72.0v3M218.0 67.5h3M219.5 66.0v3M218.0 64.5h3M219.5 63.0v3M219.0 67.5h3M220.5 66.0v3M219.0 80.5h3M220.5 79.0v3M219.0 73.5h3M220.5 72.0v3M220.0 73.5h3M221.5 72.0v3M220.0 96.5h3M221.5 95.0v3M220.0 70.5h3M221.5 69.0v3M220.0 67.5h3M221.5 66.0v3M221.0 87.5h3M222.5 86.0v3M221.0 70.5h3M222.5 69.0v3M221.0 83.5h3M222.5 82.0v3M221.0 80.5h3M222.5 79.0v3M222.0 73.5h3M223.5 72.0v3M222.0 77.5h3M223.5 76.0v3M222.0 87.5h3M223.5 86.0v3M222.0 70.5h3M223.5 69.0v3M223.0 73.5h3M224.5 72.0v3M223.0 67.5h3M224.5 66.0v3M223.0 93.5h3M224.5 92.0v3M223.0 77.5h3M224.5 76.0v3M224.0 60.5h3M225.5 59.0v3M224.0 77.5h3M225.5 76.0v3M224.0 80.5h3M225.5 79.0v3M225.0 73.5h3M226.5 72.0v3M225.0 80.5h3M226.5 79.0v3M225.0 64.5h3M226.5 63.0v3M226.0 77.5h3M227.5 76.0v3M226.0 110.5h3M227.5 109.0v3M227.0 67.5h3M228.5 66.0v3M227.0 77.5h3M228.5 76.0v3M227.0 87.5h3M228.5 86.0v3M228.0 80.5h3M229.5 79.0v3M228.0 77.5h3M229.5 76.0v3M228.0 83.5h3M229.5 82.0v3M228.0 73.5h3M229.5 72.0v3M229.0 70.5h3M230.5 69.0v3M229.0 77.5h3M230.5 76.0v3M229.0 73.5h3M230.5 72.0v3M230.0 77.5h3M231.5 76.0v3M230.0 80.5h3M231.5 79.0v3M230.0 87.5h3M231.5 86.0v3M231.0 73.5h3M232.5 72.0v3M231.0 77.5h3M232.5 76.0v3M231.0 83.5h3M232.5 82.0v3M231.0 90.5h3M232.5 89.0v3M232.0 80.5h3M233.5 79.0v3M232.0 67.5h3M233.5 66.0v3M232.0 70.5h3M233.5 69.0v3M232.0 73.5h3M233.5 72.0v3M233.0 64.5h3M234.5 63.0v3M233.0 67.5h3M234.5 66.0v3M233.0 70.5h3M234.5 69.0v3M233.0 73.5h3M234.5 72.0v3M234.0 87.5h3M235.5 86.0v3M234.0 77.5h3M235.5 76.0v3M234.0 80.5h3M235.5 79.0v3M235.0 77.5h3M236.5 76.0v3M235.0 83.5h3M236.5 82.0v3M235.0 80.5h3M236.5 79.0v3M236.0 77.5h3M237.5 76.0v3M236.0 73.5h3M237.5 72.0v3M237.0 73.5h3M238.5 72.0v3M237.0 70.5h3M238.5 69.0v3M237.0 83.5h3M238.5 82.0v3M238.0 73.5h3M239.5 72.0v3M238.0 70.5h3M239.5 69.0v3M238.0 83.5h3M239.5 82.0v3M238.0 77.5h3M239.5 76.0v3M239.0 80.5h3M240.5 79.0v3M239.0 64.5h3M240.5 63.0v3M239.0 83.5h3M240.5 82.0v3M239.0 73.5h3M240.5 72.0v3M240.0 70.5h3M241.5 69.0v3M240.0 73.5h3M241.5 72.0v3M240.0 87.5h3M241.5 86.0v3M240.0 67.5h3M241.5 66.0v3M241.0 64.5h3M242.5 63.0v3M241.0 73.5h3M242.5 72.0v3M241.0 80.5h3M242.5 79.0v3M241.0 90.5h3M242.5 89.0v3M242.0 73.5h3M243.5 72.0v3M242.0 70.5h3M243.5 69.0v3M242.0 77.5h3M243.5 76.0v3M243.0 73.5h3M244.5 72.0v3M243.0 77.5h3M244.5 76.0v3M244.0 73.5h3M245.5 72.0v3M244.0 64.5h3M245.5 63.0v3M244.0 70.5h3M245.5 69.0v3M245.0 80.5h3M246.5 79.0v3M245.0 73.5h3M246.5 72.0v3M245.0 70.5h3M246.5 69.0v3M245.0 77.5h3M246.5 76.0v3M246.0 77.5h3M247.5 76.0v3M246.0 73.5h3M247.5 72.0v3M246.0 83.5h3M247.5 82.0v3M247.0 87.5h3M248.5 86.0v3M247.0 77.5h3M248.5 76.0v3M247.0 70.5h3M248.5 69.0v3M248.0 80.5h3M249.5 79.0v3M248.0 93.5h3M249.5 92.0v3M248.0 70.5h3M249.5 69.0v3M248.0 103.5h3M249.5 102.0v3M249.0 80.5h3M250.5 79.0v3M249.0 77.5h3M250.5 76.0v3M249.0 90.5h3M250.5 89.0v3M249.0 73.5h3M250.5 72.0v3M250.0 77.5h3M251.5 76.0v3M250.0 116.5h3M251.5 115.0v3M250.0 73.5h3M251.5 72.0v3M251.0 80.5h3M252.5 79.0v3M251.0 67.5h3M252.5 66.0v3M251.0 77.5h3M252.5 76.0v3M251.0 93.5h3M252.5 92.0v3M252.0 80.5h3M253.5 79.0v3M252.0 96.5h3M253.5 95.0v3M252.0 70.5h3M253.5 69.0v3M253.0 67.5h3M254.5 66.0v3M253.0 80.5h3M254.5 79.0v3M253.0 73.5h3M254.5 72.0v3M253.0 129.5h3M254.5 128.0v3M254.0 119.5h3M255.5 118.0v3M254.0 169.5h3M255.5 168.0v3M254.0 155.5h3M255.5 154.0v3M254.0 152.5h3M255.5 151.0v3M255.0 169.5h3M256.5 168.0v3M255.0 116.5h3M256.5 115.0v3M255.0 87.5h3M256.5 86.0v3M255.0 142.5h3M256.5 141.0v3M256.0 126.5h3M257.5 125.0v3M256.0 96.5h3M257.5 95.0v3M256.0 169.5h3M257.5 168.0v3M256.0 113.5h3M257.5 112.0v3M257.0 159.5h3M258.5 158.0v3M257.0 116.5h3M258.5 115.0v3M257.0 96.5h3M258.5 95.0v3M257.0 149.5h3M258.5 148.0v3M258.0 90.5h3M259.5 89.0v3M258.0 169.5h3M259.5 168.0v3M258.0 87.5h3M259.5 86.0v3M258.0 172.5h3M259.5 171.0v3M259.0 96.5h3M260.5 95.0v3M259.0 142.5h3M260.5 141.0v3M259.0 175.5h3M260.5 174.0v3M259.0 172.5h3M260.5 171.0v3M260.0 80.5h3M261.5 79.0v3M260.0 87.5h3M261.5 86.0v3M260.0 106.5h3M261.5 105.0v3M261.0 93.5h3M262.5 92.0v3M261.0 80.5h3M262.5 79.0v3M261.0 90.5h3M262.5 89.0v3M262.0 93.5h3M263.5 92.0v3M262.0 90.5h3M263.5 89.0v3M262.0 87.5h3M263.5 86.0v3M263.0 93.5h3M264.5 92.0v3M263.0 100.5h3M264.5 99.0v3M263.0 96.5h3M264.5 95.0v3M263.0 83.5h3M264.5 82.0v3M264.0 96.5h3M265.5 95.0v3M264.0 93.5h3M265.5 92.0v3M265.0 87.5h3M266.5 86.0v3M265.0 103.5h3M266.5 102.0v3M265.0 96.5h3M266.5 95.0v3M266.0 159.5h3M267.5 158.0v3M266.0 175.5h3M267.5 174.0v3M266.0 100.5h3M267.5 99.0v3M267.0 93.5h3M268.5 92.0v3M267.0 162.5h3M268.5 161.0v3M267.0 155.5h3M268.5 154.0v3M268.0 159.5h3M269.5 158.0v3M268.0 169.5h3M269.5 168.0v3M269.0 172.5h3M270.5 171.0v3M269.0 162.5h3M270.5 161.0v3M269.0 149.5h3M270.5 148.0v3M269.0 165.5h3M270.5 164.0v3M270.0 162.5h3M271.5 161.0v3M270.0 165.5h3M271.5 164.0v3M271.0 159.5h3M272.5 158.0v3M271.0 165.5h3M272.5 164.0v3M272.0 162.5h3M273.5 161.0v3M272.0 169.5h3M273.5 168.0v3M273.0 155.5h3M274.5 154.0v3M273.0 175.5h3M274.5 174.0v3M273.0 165.5h3M274.5 164.0v3M273.0 162.5h3M274.5 161.0v3M274.0 155.5h3M275.5 154.0v3M274.0 159.5h3M275.5 158.0v3M274.0 162.5h3M275.5 161.0v3M275.0 162.5h3M276.5 161.0v3M275.0 165.5h3M276.5 164.0v3M276.0 162.5h3M277.5 161.0v3M276.0 165.5h3M277.5 164.0v3M276.0 155.5h3M277.5 154.0v3M277.0 165.5h3M278.5 164.0v3M277.0 159.5h3M278.5 158.0v3M278.0 165.5h3M279.5 164.0v3M278.0 172.5h3M279.5 171.0v3M278.0 162.5h3M279.5 161.0v3M279.0 162.5h3M280.5 161.0v3M279.0 165.5h3M280.5 164.0v3M279.0 169.5h3M280.5 168.0v3M280.0 172.5h3M281.5 171.0v3M280.0 162.5h3M281.5 161.0v3M280.0 165.5h3M281.5 164.0v3M281.0 169.5h3M282.5 168.0v3M281.0 159.5h3M282.5 158.0v3M281.0 172.5h3M282.5 171.0v3M282.0 162.5h3M283.5 161.0v3M282.0 152.5h3M283.5 151.0v3M282.0 175.5h3M283.5 174.0v3M282.0 172.5h3M283.5 171.0v3M283.0 169.5h3M284.5 168.0v3M283.0 175.5h3M284.5 174.0v3M283.0 165.5h3M284.5 164.0v3M284.0 165.5h3M285.5 164.0v3M284.0 159.5h3M285.5 158.0v3M284.0 169.5h3M285.5 168.0v3M285.0 162.5h3M286.5 161.0v3M285.0 159.5h3M286.5 158.0v3M285.0 172.5h3M286.5 171.0v3M285.0 165.5h3M286.5 164.0v3M286.0 159.5h3M287.5 158.0v3M286.0 162.5h3M287.5 161.0v3M286.0 152.5h3M287.5 151.0v3M286.0 169.5h3M287.5 168.0v3M287.0 165.5h3M288.5 164.0v3M287.0 162.5h3M288.5 161.0v3M287.0 169.5h3M288.5 168.0v3M288.0 169.5h3M289.5 168.0v3M288.0 152.5h3M289.5 151.0v3M288.0 162.5h3M289.5 161.0v3M288.0 155.5h3M289.5 154.0v3M289.0 172.5h3M290.5 171.0v3M289.0 169.5h3M290.5 168.0v3M289.0 165.5h3M290.5 164.0v3M290.0 142.5h3M291.5 141.0v3M290.0 116.5h3M291.5 115.0v3M290.0 165.5h3M291.5 164.0v3M291.0 146.5h3M292.5 145.0v3M291.0 136.5h3M292.5 135.0v3M291.0 139.5h3M292.5 138.0v3M291.0 116.5h3M292.5 115.0v3M292.0 90.5h3M293.5 89.0v3M292.0 96.5h3M293.5 95.0v3M292.0 80.5h3M293.5 79.0v3M293.0 90.5h3M294.5 89.0v3M293.0 83.5h3M294.5 82.0v3M293.0 80.5h3M294.5 79.0v3M294.0 80.5h3M295.5 79.0v3M294.0 83.5h3M295.5 82.0v3M295.0 70.5h3M296.5 69.0v3M295.0 80.5h3M296.5 79.0v3M295.0 77.5h3M296.5 76.0v3M295.0 83.5h3M296.5 82.0v3M296.0 73.5h3M297.5 72.0v3M296.0 77.5h3M297.5 76.0v3M296.0 90.5h3M297.5 89.0v3M297.0 77.5h3M298.5 76.0v3M297.0 73.5h3M298.5 72.0v3M297.0 80.5h3M298.5 79.0v3M298.0 87.5h3M299.5 86.0v3M298.0 83.5h3M299.5 82.0v3M298.0 73.5h3M299.5 72.0v3M299.0 80.5h3M300.5 79.0v3M299.0 77.5h3M300.5 76.0v3M299.0 73.5h3M300.5 72.0v3M300.0 70.5h3M301.5 69.0v3M300.0 73.5h3M301.5 72.0v3M301.0 80.5h3M302.5 79.0v3M301.0 77.5h3M302.5 76.0v3M301.0 67.5h3M302.5 66.0v3M302.0 70.5h3M303.5 69.0v3M302.0 80.5h3M303.5 79.0v3M302.0 73.5h3M303.5 72.0v3M303.0 70.5h3M304.5 69.0v3M303.0 80.5h3M304.5 79.0v3M303.0 67.5h3M304.5 66.0v3M303.0 73.5h3M304.5 72.0v3M304.0 87.5h3M305.5 86.0v3M304.0 64.5h3M305.5 63.0v3M304.0 70.5h3M305.5 69.0v3M304.0 77.5h3M305.5 76.0v3M305.0 70.5h3M306.5 69.0v3M305.0 64.5h3M306.5 63.0v3M305.0 67.5h3M306.5 66.0v3M305.0 73.5h3M306.5 72.0v3M306.0 70.5h3M307.5 69.0v3M306.0 73.5h3M307.5 72.0v3M306.0 80.5h3M307.5 79.0v3M307.0 77.5h3M308.5 76.0v3M307.0 87.5h3M308.5 86.0v3M308.0 77.5h3M309.5 76.0v3M308.0 73.5h3M309.5 72.0v3M309.0 77.5h3M310.5 76.0v3M309.0 83.5h3M310.5 82.0v3M310.0 83.5h3M311.5 82.0v3M310.0 77.5h3M311.5 76.0v3M310.0 70.5h3M311.5 69.0v3M310.0 80.5h3M311.5 79.0v3M311.0 70.5h3M312.5 69.0v3M311.0 80.5h3M312.5 79.0v3M311.0 77.5h3M312.5 76.0v3M311.0 93.5h3M312.5 92.0v3M312.0 83.5h3M313.5 82.0v3M312.0 80.5h3M313.5 79.0v3M312.0 90.5h3M313.5 89.0v3M313.0 77.5h3M314.5 76.0v3M313.0 83.5h3M314.5 82.0v3M313.0 70.5h3M314.5 69.0v3M314.0 83.5h3M315.5 82.0v3M314.0 80.5h3M315.5 79.0v3M315.0 80.5h3M316.5 79.0v3M315.0 87.5h3M316.5 86.0v3M316.0 70.5h3M317.5 69.0v3M316.0 73.5h3M317.5 72.0v3M316.0 77.5h3M317.5 76.0v3M316.0 90.5h3M317.5 89.0v3M317.0 83.5h3M318.5 82.0v3M317.0 73.5h3M318.5 72.0v3M317.0 90.5h3M318.5 89.0v3M317.0 80.5h3M318.5 79.0v3M318.0 73.5h3M319.5 72.0v3M318.0 77.5h3M319.5 76.0v3M318.0 83.5h3M319.5 82.0v3M319.0 90.5h3M320.5 89.0v3M319.0 93.5h3M320.5 92.0v3M319.0 83.5h3M320.5 82.0v3M320.0 100.5h3M321.5 99.0v3M320.0 77.5h3M321.5 76.0v3M320.0 90.5h3M321.5 89.0v3M320.0 80.5h3M321.5 79.0v3M321.0 83.5h3M322.5 82.0v3M321.0 87.5h3M322.5 86.0v3M321.0 90.5h3M322.5 89.0v3M322.0 87.5h3M323.5 86.0v3M322.0 93.5h3M323.5 92.0v3M323.0 90.5h3M324.5 89.0v3M323.0 100.5h3M324.5 99.0v3M324.0 146.5h3M325.5 145.0v3M324.0 123.5h3M325.5 122.0v3M324.0 93.5h3M325.5 92.0v3M325.0 100.5h3M326.5 99.0v3M325.0 93.5h3M326.5 92.0v3M325.0 142.5h3M326.5 141.0v3M326.0 119.5h3M327.5 118.0v3M326.0 165.5h3M327.5 164.0v3M326.0 142.5h3M327.5 141.0v3M326.0 126.5h3M327.5 125.0v3M327.0 172.5h3M328.5 171.0v3M327.0 165.5h3M328.5 164.0v3M327.0 142.5h3M328.5 141.0v3M328.0 178.5h3M329.5 177.0v3M328.0 142.5h3M329.5 141.0v3M328.0 169.5h3M329.5 168.0v3M329.0 169.5h3M330.5 168.0v3M329.0 133.5h3M330.5 132.0v3M329.0 162.5h3M330.5 161.0v3M329.0 175.5h3M330.5 174.0v3M330.0 152.5h3M331.5 151.0v3M330.0 169.5h3M331.5 168.0v3M330.0 136.5h3M331.5 135.0v3M331.0 146.5h3M332.5 145.0v3M331.0 172.5h3M332.5 171.0v3M331.0 152.5h3M332.5 151.0v3M331.0 169.5h3M332.5 168.0v3M332.0 139.5h3M333.5 138.0v3M332.0 142.5h3M333.5 141.0v3M332.0 169.5h3M333.5 168.0v3M332.0 96.5h3M333.5 95.0v3M333.0 103.5h3M334.5 102.0v3M333.0 123.5h3M334.5 122.0v3M333.0 172.5h3M334.5 171.0v3M333.0 142.5h3M334.5 141.0v3M334.0 172.5h3M335.5 171.0v3M334.0 165.5h3M335.5 164.0v3M334.0 126.5h3M335.5 125.0v3M334.0 175.5h3M335.5 174.0v3M335.0 77.5h3M336.5 76.0v3M335.0 93.5h3M336.5 92.0v3M335.0 126.5h3M336.5 125.0v3M336.0 136.5h3M337.5 135.0v3M336.0 165.5h3M337.5 164.0v3M336.0 175.5h3M337.5 174.0v3M336.0 162.5h3M337.5 161.0v3M337.0 169.5h3M338.5 168.0v3M337.0 165.5h3M338.5 164.0v3M337.0 139.5h3M338.5 138.0v3M337.0 136.5h3M338.5 135.0v3M338.0 172.5h3M339.5 171.0v3M338.0 175.5h3M339.5 174.0v3M339.0 169.5h3M340.5 168.0v3M339.0 172.5h3M340.5 171.0v3M339.0 165.5h3M340.5 164.0v3M340.0 172.5h3M341.5 171.0v3M340.0 169.5h3M341.5 168.0v3M340.0 175.5h3M341.5 174.0v3M341.0 169.5h3M342.5 168.0v3M341.0 172.5h3M342.5 171.0v3M342.0 169.5h3M343.5 168.0v3M342.0 172.5h3M343.5 171.0v3M343.0 165.5h3M344.5 164.0v3M343.0 172.5h3M344.5 171.0v3M343.0 159.5h3M344.5 158.0v3M343.0 139.5h3M344.5 138.0v3M344.0 169.5h3M345.5 168.0v3M344.0 149.5h3M345.5 148.0v3M344.0 172.5h3M345.5 171.0v3M345.0 169.5h3M346.5 168.0v3M345.0 165.5h3M346.5 164.0v3M346.0 175.5h3M347.5 174.0v3M346.0 172.5h3M347.5 171.0v3M346.0 149.5h3M347.5 148.0v3M346.0 169.5h3M347.5 168.0v3M347.0 165.5h3M348.5 164.0v3M347.0 169.5h3M348.5 168.0v3M347.0 172.5h3M348.5 171.0v3M348.0 172.5h3M349.5 171.0v3M348.0 139.5h3M349.5 138.0v3M348.0 169.5h3M349.5 168.0v3M348.0 146.5h3M349.5 145.0v3M349.0 172.5h3M350.5 171.0v3M349.0 123.5h3M350.5 122.0v3M349.0 142.5h3M350.5 141.0v3M350.0 172.5h3M351.5 171.0v3M350.0 126.5h3M351.5 125.0v3M350.0 169.5h3M351.5 168.0v3M351.0 172.5h3M352.5 171.0v3M351.0 142.5h3M352.5 141.0v3M351.0 87.5h3M352.5 86.0v3M351.0 83.5h3M352.5 82.0v3M352.0 90.5h3M353.5 89.0v3M352.0 87.5h3M353.5 86.0v3M352.0 80.5h3M353.5 79.0v3M353.0 87.5h3M354.5 86.0v3M353.0 83.5h3M354.5 82.0v3M353.0 77.5h3M354.5 76.0v3M354.0 87.5h3M355.5 86.0v3M354.0 83.5h3M355.5 82.0v3M354.0 80.5h3M355.5 79.0v3M354.0 93.5h3M355.5 92.0v3M355.0 77.5h3M356.5 76.0v3M355.0 83.5h3M356.5 82.0v3M355.0 90.5h3M356.5 89.0v3M356.0 77.5h3M357.5 76.0v3M356.0 73.5h3M357.5 72.0v3M356.0 87.5h3M357.5 86.0v3M357.0 87.5h3M358.5 86.0v3M357.0 80.5h3M358.5 79.0v3M357.0 93.5h3M358.5 92.0v3M358.0 83.5h3M359.5 82.0v3M358.0 93.5h3M359.5 92.0v3M358.0 80.5h3M359.5 79.0v3M358.0 90.5h3M359.5 89.0v3M359.0 80.5h3M360.5 79.0v3M359.0 90.5h3M360.5 89.0v3M360.0 87.5h3M361.5 86.0v3M360.0 73.5h3M361.5 72.0v3M360.0 80.5h3M361.5 79.0v3M360.0 83.5h3M361.5 82.0v3M361.0 90.5h3M362.5 89.0v3M361.0 77.5h3M362.5 76.0v3M362.0 90.5h3M363.5 89.0v3M362.0 93.5h3M363.5 92.0v3M362.0 87.5h3M363.5 86.0v3M363.0 83.5h3M364.5 82.0v3M363.0 80.5h3M364.5 79.0v3M363.0 100.5h3M364.5 99.0v3M363.0 93.5h3M364.5 92.0v3M364.0 96.5h3M365.5 95.0v3M364.0 83.5h3M365.5 82.0v3M364.0 93.5h3M365.5 92.0v3M365.0 90.5h3M366.5 89.0v3M365.0 96.5h3M366.5 95.0v3M365.0 83.5h3M366.5 82.0v3M366.0 90.5h3M367.5 89.0v3M366.0 80.5h3M367.5 79.0v3M366.0 87.5h3M367.5 86.0v3M366.0 77.5h3M367.5 76.0v3M367.0 83.5h3M368.5 82.0v3M367.0 90.5h3M368.5 89.0v3M367.0 80.5h3M368.5 79.0v3M368.0 87.5h3M369.5 86.0v3M368.0 90.5h3M369.5 89.0v3M368.0 93.5h3M369.5 92.0v3M369.0 77.5h3M370.5 76.0v3M369.0 80.5h3M370.5 79.0v3M369.0 93.5h3M370.5 92.0v3M370.0 100.5h3M371.5 99.0v3M370.0 80.5h3M371.5 79.0v3M370.0 93.5h3M371.5 92.0v3M371.0 80.5h3M372.5 79.0v3M371.0 83.5h3M372.5 82.0v3M372.0 77.5h3M373.5 76.0v3M372.0 83.5h3M373.5 82.0v3M372.0 80.5h3M373.5 79.0v3M372.0 90.5h3M373.5 89.0v3M373.0 83.5h3M374.5 82.0v3M373.0 80.5h3M374.5 79.0v3M374.0 90.5h3M375.5 89.0v3M374.0 146.5h3M375.5 145.0v3M374.0 93.5h3M375.5 92.0v3M374.0 133.5h3M375.5 132.0v3M375.0 77.5h3M376.5 76.0v3M375.0 119.5h3M376.5 118.0v3M375.0 87.5h3M376.5 86.0v3M375.0 159.5h3M376.5 158.0v3M376.0 155.5h3M377.5 154.0v3M376.0 110.5h3M377.5 109.0v3M376.0 87.5h3M377.5 86.0v3M376.0 77.5h3M377.5 76.0v3M377.0 169.5h3M378.5 168.0v3M377.0 77.5h3M378.5 76.0v3M377.0 159.5h3M378.5 158.0v3M378.0 162.5h3M379.5 161.0v3M378.0 126.5h3M379.5 125.0v3M378.0 149.5h3M379.5 148.0v3M379.0 103.5h3M380.5 102.0v3M379.0 106.5h3M380.5 105.0v3M379.0 133.5h3M380.5 132.0v3M380.0 165.5h3M381.5 164.0v3M380.0 152.5h3M381.5 151.0v3M380.0 159.5h3M381.5 158.0v3M380.0 162.5h3M381.5 161.0v3M381.0 162.5h3M382.5 161.0v3M381.0 169.5h3M382.5 168.0v3M382.0 162.5h3M383.5 161.0v3M382.0 159.5h3M383.5 158.0v3M382.0 155.5h3M383.5 154.0v3M382.0 165.5h3M383.5 164.0v3M383.0 169.5h3M384.5 168.0v3M383.0 162.5h3M384.5 161.0v3M383.0 159.5h3M384.5 158.0v3M384.0 159.5h3M385.5 158.0v3M384.0 152.5h3M385.5 151.0v3M385.0 172.5h3M386.5 171.0v3M385.0 159.5h3M386.5 158.0v3M385.0 165.5h3M386.5 164.0v3M385.0 169.5h3M386.5 168.0v3M386.0 162.5h3M387.5 161.0v3M386.0 165.5h3M387.5 164.0v3M386.0 159.5h3M387.5 158.0v3M386.0 149.5h3M387.5 148.0v3M387.0 169.5h3M388.5 168.0v3M387.0 165.5h3M388.5 164.0v3M387.0 162.5h3M388.5 161.0v3M388.0 155.5h3M389.5 154.0v3M388.0 162.5h3M389.5 161.0v3M388.0 169.5h3M389.5 168.0v3M389.0 165.5h3M390.5 164.0v3M389.0 155.5h3M390.5 154.0v3M389.0 169.5h3M390.5 168.0v3M390.0 162.5h3M391.5 161.0v3M390.0 165.5h3M391.5 164.0v3M390.0 155.5h3M391.5 154.0v3M391.0 162.5h3M392.5 161.0v3M391.0 159.5h3M392.5 158.0v3M392.0 165.5h3M393.5 164.0v3M392.0 162.5h3M393.5 161.0v3M392.0 169.5h3M393.5 168.0v3M393.0 93.5h3M394.5 92.0v3M393.0 100.5h3M394.5 99.0v3M393.0 110.5h3M394.5 109.0v3M394.0 165.5h3M395.5 164.0v3M394.0 162.5h3M395.5 161.0v3M394.0 133.5h3M395.5 132.0v3M394.0 159.5h3M395.5 158.0v3M395.0 133.5h3M396.5 132.0v3M395.0 165.5h3M396.5 164.0v3M395.0 159.5h3M396.5 158.0v3M395.0 152.5h3M396.5 151.0v3M396.0 93.5h3M397.5 92.0v3M396.0 136.5h3M397.5 135.0v3M396.0 100.5h3M397.5 99.0v3M396.0 116.5h3M397.5 115.0v3M397.0 123.5h3M398.5 122.0v3M397.0 87.5h3M398.5 86.0v3M397.0 67.5h3M398.5 66.0v3M398.0 70.5h3M399.5 69.0v3M398.0 57.5h3M399.5 56.0v3M399.0 67.5h3M400.5 66.0v3M399.0 70.5h3M400.5 69.0v3M399.0 57.5h3M400.5 56.0v3M400.0 67.5h3M401.5 66.0v3M400.0 113.5h3M401.5 112.0v3M400.0 60.5h3M401.5 59.0v3M401.0 70.5h3M402.5 69.0v3M401.0 93.5h3M402.5 92.0v3M401.0 77.5h3M402.5 76.0v3M402.0 67.5h3M403.5 66.0v3M402.0 80.5h3M403.5 79.0v3M402.0 60.5h3M403.5 59.0v3M402.0 77.5h3M403.5 76.0v3M403.0 90.5h3M404.5 89.0v3M403.0 54.5h3M404.5 53.0v3M403.0 103.5h3M404.5 102.0v3M403.0 67.5h3M404.5 66.0v3M404.0 80.5h3M405.5 79.0v3M404.0 64.5h3M405.5 63.0v3M404.0 54.5h3M405.5 53.0v3M405.0 57.5h3M406.5 56.0v3M405.0 67.5h3M406.5 66.0v3M405.0 64.5h3M406.5 63.0v3M406.0 73.5h3M407.5 72.0v3M406.0 67.5h3M407.5 66.0v3M406.0 60.5h3M407.5 59.0v3M406.0 77.5h3M407.5 76.0v3M407.0 70.5h3M408.5 69.0v3M407.0 80.5h3M408.5 79.0v3M407.0 57.5h3M408.5 56.0v3M408.0 119.5h3M409.5 118.0v3M408.0 67.5h3M409.5 66.0v3M408.0 64.5h3M409.5 63.0v3M409.0 67.5h3M410.5 66.0v3M409.0 64.5h3M410.5 63.0v3M409.0 70.5h3M410.5 69.0v3M410.0 73.5h3M411.5 72.0v3M410.0 67.5h3M411.5 66.0v3M410.0 80.5h3M411.5 79.0v3M410.0 77.5h3M411.5 76.0v3M411.0 77.5h3M412.5 76.0v3M411.0 80.5h3M412.5 79.0v3M411.0 64.5h3M412.5 63.0v3M411.0 73.5h3M412.5 72.0v3M412.0 77.5h3M413.5 76.0v3M412.0 67.5h3M413.5 66.0v3M412.0 90.5h3M413.5 89.0v3M412.0 116.5h3M413.5 115.0v3M413.0 73.5h3M414.5 72.0v3M413.0 67.5h3M414.5 66.0v3M413.0 77.5h3M414.5 76.0v3M414.0 64.5h3M415.5 63.0v3M414.0 77.5h3M415.5 76.0v3M414.0 67.5h3M415.5 66.0v3M414.0 70.5h3M415.5 69.0v3M415.0 83.5h3M416.5 82.0v3M415.0 80.5h3M416.5 79.0v3M415.0 70.5h3M416.5 69.0v3M415.0 57.5h3M416.5 56.0v3M416.0 83.5h3M417.5 82.0v3M416.0 96.5h3M417.5 95.0v3M416.0 90.5h3M417.5 89.0v3M416.0 87.5h3M417.5 86.0v3M417.0 90.5h3M418.5 89.0v3M417.0 113.5h3M418.5 112.0v3M417.0 96.5h3M418.5 95.0v3M417.0 103.5h3M418.5 102.0v3M418.0 70.5h3M419.5 69.0v3M418.0 73.5h3M419.5 72.0v3M418.0 80.5h3M419.5 79.0v3M418.0 90.5h3M419.5 89.0v3M419.0 96.5h3M420.5 95.0v3M419.0 93.5h3M420.5 92.0v3M419.0 110.5h3M420.5 109.0v3M419.0 90.5h3M420.5 89.0v3M420.0 103.5h3M421.5 102.0v3M420.0 90.5h3M421.5 89.0v3M420.0 93.5h3M421.5 92.0v3M420.0 96.5h3M421.5 95.0v3M421.0 100.5h3M422.5 99.0v3M421.0 93.5h3M422.5 92.0v3M421.0 90.5h3M422.5 89.0v3M421.0 110.5h3M422.5 109.0v3M422.0 93.5h3M423.5 92.0v3M422.0 96.5h3M423.5 95.0v3M423.0 96.5h3M424.5 95.0v3M423.0 90.5h3M424.5 89.0v3M423.0 93.5h3M424.5 92.0v3M424.0 93.5h3M425.5 92.0v3M424.0 100.5h3M425.5 99.0v3M424.0 96.5h3M425.5 95.0v3M424.0 113.5h3M425.5 112.0v3M425.0 96.5h3M426.5 95.0v3M425.0 93.5h3M426.5 92.0v3M425.0 100.5h3M426.5 99.0v3M425.0 80.5h3M426.5 79.0v3M426.0 90.5h3M427.5 89.0v3M426.0 106.5h3M427.5 105.0v3M426.0 93.5h3M427.5 92.0v3M426.0 100.5h3M427.5 99.0v3M427.0 93.5h3M428.5 92.0v3M427.0 100.5h3M428.5 99.0v3M427.0 77.5h3M428.5 76.0v3M428.0 96.5h3M429.5 95.0v3M428.0 90.5h3M429.5 89.0v3M428.0 93.5h3M429.5 92.0v3M429.0 77.5h3M430.5 76.0v3M429.0 119.5h3M430.5 118.0v3M429.0 83.5h3M430.5 82.0v3M429.0 80.5h3M430.5 79.0v3M430.0 96.5h3M431.5 95.0v3M430.0 103.5h3M431.5 102.0v3M430.0 87.5h3M431.5 86.0v3M430.0 73.5h3M431.5 72.0v3M431.0 77.5h3M432.5 76.0v3M431.0 80.5h3M432.5 79.0v3M431.0 83.5h3M432.5 82.0v3M432.0 80.5h3M433.5 79.0v3M432.0 73.5h3M433.5 72.0v3M432.0 83.5h3M433.5 82.0v3M433.0 77.5h3M434.5 76.0v3M433.0 87.5h3M434.5 86.0v3M433.0 80.5h3M434.5 79.0v3M433.0 70.5h3M434.5 69.0v3M434.0 83.5h3M435.5 82.0v3M434.0 73.5h3M435.5 72.0v3M434.0 77.5h3M435.5 76.0v3M435.0 70.5h3M436.5 69.0v3M435.0 80.5h3M436.5 79.0v3M435.0 73.5h3M436.5 72.0v3M436.0 80.5h3M437.5 79.0v3M436.0 93.5h3M437.5 92.0v3M436.0 83.5h3M437.5 82.0v3M436.0 100.5h3M437.5 99.0v3M437.0 67.5h3M438.5 66.0v3M437.0 73.5h3M438.5 72.0v3M437.0 77.5h3M438.5 76.0v3M437.0 126.5h3M438.5 125.0v3M438.0 159.5h3M439.5 158.0v3M438.0 73.5h3M439.5 72.0v3M438.0 77.5h3M439.5 76.0v3M438.0 70.5h3M439.5 69.0v3M439.0 73.5h3M440.5 72.0v3M439.0 129.5h3M440.5 128.0v3M439.0 77.5h3M440.5 76.0v3M440.0 119.5h3M441.5 118.0v3M440.0 126.5h3M441.5 125.0v3M440.0 149.5h3M441.5 148.0v3M440.0 142.5h3M441.5 141.0v3M441.0 155.5h3M442.5 154.0v3M441.0 129.5h3M442.5 128.0v3M441.0 133.5h3M442.5 132.0v3M442.0 149.5h3M443.5 148.0v3M442.0 152.5h3M443.5 151.0v3M442.0 129.5h3M443.5 128.0v3M443.0 136.5h3M444.5 135.0v3M443.0 155.5h3M444.5 154.0v3M443.0 159.5h3M444.5 158.0v3M443.0 152.5h3M444.5 151.0v3M444.0 149.5h3M445.5 148.0v3M444.0 152.5h3M445.5 151.0v3M444.0 129.5h3M445.5 128.0v3M444.0 60.5h3M445.5 59.0v3M445.0 60.5h3M446.5 59.0v3M445.0 67.5h3M446.5 66.0v3M445.0 64.5h3M446.5 63.0v3M445.0 54.5h3M446.5 53.0v3M446.0 126.5h3M447.5 125.0v3M446.0 152.5h3M447.5 151.0v3M446.0 70.5h3M447.5 69.0v3M446.0 133.5h3M447.5 132.0v3M447.0 60.5h3M448.5 59.0v3M447.0 57.5h3M448.5 56.0v3M447.0 54.5h3M448.5 53.0v3M447.0 64.5h3M448.5 63.0v3M448.0 54.5h3M449.5 53.0v3M448.0 70.5h3M449.5 69.0v3M448.0 57.5h3M449.5 56.0v3M449.0 64.5h3M450.5 63.0v3M449.0 57.5h3M450.5 56.0v3M450.0 67.5h3M451.5 66.0v3M450.0 60.5h3M451.5 59.0v3M450.0 73.5h3M451.5 72.0v3M450.0 80.5h3M451.5 79.0v3M451.0 80.5h3M452.5 79.0v3M451.0 57.5h3M452.5 56.0v3M451.0 77.5h3M452.5 76.0v3M451.0 73.5h3M452.5 72.0v3M452.0 70.5h3M453.5 69.0v3M452.0 67.5h3M453.5 66.0v3M452.0 54.5h3M453.5 53.0v3M452.0 73.5h3M453.5 72.0v3M453.0 67.5h3M454.5 66.0v3M453.0 77.5h3M454.5 76.0v3M453.0 87.5h3M454.5 86.0v3M454.0 73.5h3M455.5 72.0v3M454.0 67.5h3M455.5 66.0v3M454.0 87.5h3M455.5 86.0v3M454.0 80.5h3M455.5 79.0v3M455.0 83.5h3M456.5 82.0v3M455.0 77.5h3M456.5 76.0v3M455.0 80.5h3M456.5 79.0v3M455.0 73.5h3M456.5 72.0v3M456.0 67.5h3M457.5 66.0v3M456.0 70.5h3M457.5 69.0v3M456.0 77.5h3M457.5 76.0v3M456.0 90.5h3M457.5 89.0v3M457.0 80.5h3M458.5 79.0v3M457.0 67.5h3M458.5 66.0v3M458.0 77.5h3M459.5 76.0v3M458.0 83.5h3M459.5 82.0v3M458.0 73.5h3M459.5 72.0v3M459.0 77.5h3M460.5 76.0v3M459.0 73.5h3M460.5 72.0v3M459.0 70.5h3M460.5 69.0v3M459.0 83.5h3M460.5 82.0v3M460.0 73.5h3M461.5 72.0v3M460.0 77.5h3M461.5 76.0v3M460.0 80.5h3M461.5 79.0v3M461.0 87.5h3M462.5 86.0v3M461.0 73.5h3M462.5 72.0v3M461.0 70.5h3M462.5 69.0v3M462.0 87.5h3M463.5 86.0v3M462.0 64.5h3M463.5 63.0v3M462.0 80.5h3M463.5 79.0v3M463.0 77.5h3M464.5 76.0v3M463.0 67.5h3M464.5 66.0v3M463.0 80.5h3M464.5 79.0v3M463.0 87.5h3M464.5 86.0v3M464.0 83.5h3M465.5 82.0v3M464.0 77.5h3M465.5 76.0v3M465.0 77.5h3M466.5 76.0v3M465.0 83.5h3M466.5 82.0v3M465.0 73.5h3M466.5 72.0v3M466.0 77.5h3M467.5 76.0v3M466.0 64.5h3M467.5 63.0v3M466.0 87.5h3M467.5 86.0v3M467.0 119.5h3M468.5 118.0v3M467.0 146.5h3M468.5 145.0v3M467.0 80.5h3M468.5 79.0v3M467.0 129.5h3M468.5 128.0v3M468.0 80.5h3M469.5 79.0v3M468.0 155.5h3M469.5 154.0v3M468.0 77.5h3M469.5 76.0v3M468.0 116.5h3M469.5 115.0v3M469.0 80.5h3M470.5 79.0v3M469.0 116.5h3M470.5 115.0v3M469.0 136.5h3M470.5 135.0v3M470.0 73.5h3M471.5 72.0v3M470.0 80.5h3M471.5 79.0v3M470.0 77.5h3M471.5 76.0v3M470.0 83.5h3M471.5 82.0v3M471.0 77.5h3M472.5 76.0v3M471.0 123.5h3M472.5 122.0v3M471.0 142.5h3M472.5 141.0v3M472.0 146.5h3M473.5 145.0v3M472.0 77.5h3M473.5 76.0v3M472.0 149.5h3M473.5 148.0v3M472.0 93.5h3M473.5 92.0v3M473.0 70.5h3M474.5 69.0v3M473.0 77.5h3M474.5 76.0v3M473.0 83.5h3M474.5 82.0v3M473.0 126.5h3M474.5 125.0v3M474.0 93.5h3M475.5 92.0v3M474.0 142.5h3M475.5 141.0v3M474.0 139.5h3M475.5 138.0v3M474.0 73.5h3M475.5 72.0v3M475.0 136.5h3M476.5 135.0v3M475.0 149.5h3M476.5 148.0v3M475.0 116.5h3M476.5 115.0v3M475.0 70.5h3M476.5 69.0v3M476.0 80.5h3M477.5 79.0v3M476.0 70.5h3M477.5 69.0v3M476.0 77.5h3M477.5 76.0v3M476.0 83.5h3M477.5 82.0v3M477.0 80.5h3M478.5 79.0v3M477.0 126.5h3M478.5 125.0v3M477.0 70.5h3M478.5 69.0v3M477.0 83.5h3M478.5 82.0v3M478.0 83.5h3M479.5 82.0v3M478.0 136.5h3M479.5 135.0v3M478.0 87.5h3M479.5 86.0v3M479.0 103.5h3M480.5 102.0v3M479.0 73.5h3M480.5 72.0v3M479.0 129.5h3M480.5 128.0v3M480.0 77.5h3M481.5 76.0v3M480.0 126.5h3M481.5 125.0v3M480.0 152.5h3M481.5 151.0v3M480.0 93.5h3M481.5 92.0v3M481.0 90.5h3M482.5 89.0v3M481.0 93.5h3M482.5 92.0v3M481.0 133.5h3M482.5 132.0v3M481.0 106.5h3M482.5 105.0v3M482.0 64.5h3M483.5 63.0v3M482.0 100.5h3M483.5 99.0v3M482.0 73.5h3M483.5 72.0v3M482.0 70.5h3M483.5 69.0v3M483.0 126.5h3M484.5 125.0v3M483.0 93.5h3M484.5 92.0v3M483.0 149.5h3M484.5 148.0v3M483.0 110.5h3M484.5 109.0v3M484.0 73.5h3M485.5 72.0v3M484.0 70.5h3M485.5 69.0v3M484.0 77.5h3M485.5 76.0v3M485.0 136.5h3M486.5 135.0v3M485.0 80.5h3M486.5 79.0v3M485.0 146.5h3M486.5 145.0v3M485.0 126.5h3M486.5 125.0v3M486.0 83.5h3M487.5 82.0v3M486.0 73.5h3M487.5 72.0v3M486.0 126.5h3M487.5 125.0v3M486.0 64.5h3M487.5 63.0v3M487.0 100.5h3M488.5 99.0v3M487.0 80.5h3M488.5 79.0v3M487.0 90.5h3M488.5 89.0v3M487.0 110.5h3M488.5 109.0v3M488.0 80.5h3M489.5 79.0v3M488.0 70.5h3M489.5 69.0v3M488.0 87.5h3M489.5 86.0v3M488.0 77.5h3M489.5 76.0v3M489.0 152.5h3M490.5 151.0v3M489.0 136.5h3M490.5 135.0v3M489.0 106.5h3M490.5 105.0v3M489.0 70.5h3M490.5 69.0v3M490.0 136.5h3M491.5 135.0v3M490.0 106.5h3M491.5 105.0v3M490.0 110.5h3M491.5 109.0v3M490.0 149.5h3M491.5 148.0v3M491.0 152.5h3M492.5 151.0v3M491.0 93.5h3M492.5 92.0v3M491.0 146.5h3M492.5 145.0v3M491.0 90.5h3M492.5 89.0v3M492.0 83.5h3M493.5 82.0v3M492.0 73.5h3M493.5 72.0v3M492.0 90.5h3M493.5 89.0v3M492.0 113.5h3M493.5 112.0v3M493.0 93.5h3M494.5 92.0v3M493.0 152.5h3M494.5 151.0v3M493.0 113.5h3M494.5 112.0v3M493.0 142.5h3M494.5 141.0v3M494.0 139.5h3M495.5 138.0v3M494.0 90.5h3M495.5 89.0v3M494.0 123.5h3M495.5 122.0v3M494.0 77.5h3M495.5 76.0v3M495.0 149.5h3M496.5 148.0v3M495.0 83.5h3M496.5 82.0v3M495.0 103.5h3M496.5 102.0v3M495.0 119.5h3M496.5 118.0v3M496.0 93.5h3M497.5 92.0v3M496.0 123.5h3M497.5 122.0v3M496.0 139.5h3M497.5 138.0v3M496.0 136.5h3M497.5 135.0v3M497.0 87.5h3M498.5 86.0v3M497.0 149.5h3M498.5 148.0v3M497.0 106.5h3M498.5 105.0v3M497.0 152.5h3M498.5 151.0v3M498.0 67.5h3M499.5 66.0v3M498.0 129.5h3M499.5 128.0v3M498.0 126.5h3M499.5 125.0v3M499.0 113.5h3M500.5 112.0v3M499.0 83.5h3M500.5 82.0v3M499.0 87.5h3M500.5 86.0v3M500.0 113.5h3M501.5 112.0v3M500.0 136.5h3M501.5 135.0v3M500.0 87.5h3M501.5 86.0v3M501.0 155.5h3M502.5 154.0v3M501.0 146.5h3M502.5 145.0v3M501.0 96.5h3M502.5 95.0v3M502.0 155.5h3M503.5 154.0v3M502.0 165.5h3M503.5 164.0v3M502.0 152.5h3M503.5 151.0v3M503.0 162.5h3M504.5 161.0v3M503.0 146.5h3M504.5 145.0v3M503.0 155.5h3M504.5 154.0v3M504.0 159.5h3M505.5 158.0v3M504.0 155.5h3M505.5 154.0v3M504.0 116.5h3M505.5 115.0v3M505.0 126.5h3M506.5 125.0v3M505.0 110.5h3M506.5 109.0v3M505.0 123.5h3M506.5 122.0v3M506.0 136.5h3M507.5 135.0v3M506.0 155.5h3M507.5 154.0v3M506.0 119.5h3M507.5 118.0v3M507.0 169.5h3M508.5 168.0v3M507.0 159.5h3M508.5 158.0v3M507.0 110.5h3M508.5 109.0v3M507.0 162.5h3M508.5 161.0v3M508.0 119.5h3M509.5 118.0v3M508.0 113.5h3M509.5 112.0v3M508.0 155.5h3M509.5 154.0v3M508.0 129.5h3M509.5 128.0v3M509.0 87.5h3M510.5 86.0v3M509.0 106.5h3M510.5 105.0v3M509.0 149.5h3M510.5 148.0v3M509.0 162.5h3M510.5 161.0v3M510.0 155.5h3M511.5 154.0v3M510.0 159.5h3M511.5 158.0v3M510.0 119.5h3M511.5 118.0v3M510.0 113.5h3M511.5 112.0v3M511.0 162.5h3M512.5 161.0v3M511.0 155.5h3M512.5 154.0v3M511.0 159.5h3M512.5 158.0v3M511.0 152.5h3M512.5 151.0v3M512.0 139.5h3M513.5 138.0v3M512.0 146.5h3M513.5 145.0v3M512.0 87.5h3M513.5 86.0v3M512.0 116.5h3M513.5 115.0v3M513.0 159.5h3M514.5 158.0v3M513.0 152.5h3M514.5 151.0v3M513.0 146.5h3M514.5 145.0v3M514.0 159.5h3M515.5 158.0v3M514.0 142.5h3M515.5 141.0v3M514.0 146.5h3M515.5 145.0v3M514.0 119.5h3M515.5 118.0v3M515.0 90.5h3M516.5 89.0v3M515.0 100.5h3M516.5 99.0v3M515.0 123.5h3M516.5 122.0v3M515.0 119.5h3M516.5 118.0v3M516.0 155.5h3M517.5 154.0v3M516.0 146.5h3M517.5 145.0v3M516.0 77.5h3M517.5 76.0v3M517.0 119.5h3M518.5 118.0v3M517.0 142.5h3M518.5 141.0v3M517.0 80.5h3M518.5 79.0v3M517.0 106.5h3M518.5 105.0v3M518.0 90.5h3M519.5 89.0v3M518.0 129.5h3M519.5 128.0v3M518.0 73.5h3M519.5 72.0v3M518.0 103.5h3M519.5 102.0v3M519.0 146.5h3M520.5 145.0v3M519.0 142.5h3M520.5 141.0v3M519.0 83.5h3M520.5 82.0v3M520.0 126.5h3M521.5 125.0v3M520.0 129.5h3M521.5 128.0v3M520.0 142.5h3M521.5 141.0v3M520.0 119.5h3M521.5 118.0v3M521.0 133.5h3M522.5 132.0v3M521.0 87.5h3M522.5 86.0v3M521.0 146.5h3M522.5 145.0v3M521.0 83.5h3M522.5 82.0v3M522.0 70.5h3M523.5 69.0v3M522.0 106.5h3M523.5 105.0v3M522.0 139.5h3M523.5 138.0v3M522.0 87.5h3M523.5 86.0v3M523.0 80.5h3M524.5 79.0v3M523.0 116.5h3M524.5 115.0v3M523.0 149.5h3M524.5 148.0v3M523.0 64.5h3M524.5 63.0v3M524.0 142.5h3M525.5 141.0v3M524.0 146.5h3M525.5 145.0v3M524.0 83.5h3M525.5 82.0v3M525.0 70.5h3M526.5 69.0v3M525.0 119.5h3M526.5 118.0v3M525.0 113.5h3M526.5 112.0v3M526.0 60.5h3M527.5 59.0v3M526.0 90.5h3M527.5 89.0v3M526.0 139.5h3M527.5 138.0v3M527.0 142.5h3M528.5 141.0v3M527.0 146.5h3M528.5 145.0v3M527.0 165.5h3M528.5 164.0v3M527.0 80.5h3M528.5 79.0v3M528.0 146.5h3M529.5 145.0v3M528.0 149.5h3M529.5 148.0v3M528.0 90.5h3M529.5 89.0v3M529.0 159.5h3M530.5 158.0v3M529.0 162.5h3M530.5 161.0v3M530.0 162.5h3M531.5 161.0v3M530.0 165.5h3M531.5 164.0v3M531.0 159.5h3M532.5 158.0v3M531.0 155.5h3M532.5 154.0v3M531.0 162.5h3M532.5 161.0v3M532.0 169.5h3M533.5 168.0v3M532.0 159.5h3M533.5 158.0v3M533.0 159.5h3M534.5 158.0v3M533.0 162.5h3M534.5 161.0v3M533.0 169.5h3M534.5 168.0v3M534.0 165.5h3M535.5 164.0v3M534.0 155.5h3M535.5 154.0v3M534.0 162.5h3M535.5 161.0v3M534.0 159.5h3M535.5 158.0v3M535.0 169.5h3M536.5 168.0v3M535.0 159.5h3M536.5 158.0v3M535.0 162.5h3M536.5 161.0v3M536.0 169.5h3M537.5 168.0v3M536.0 155.5h3M537.5 154.0v3M536.0 159.5h3M537.5 158.0v3M537.0 165.5h3M538.5 164.0v3M537.0 169.5h3M538.5 168.0v3M538.0 162.5h3M539.5 161.0v3M538.0 159.5h3M539.5 158.0v3M538.0 165.5h3M539.5 164.0v3M539.0 162.5h3M540.5 161.0v3M539.0 155.5h3M540.5 154.0v3M539.0 159.5h3M540.5 158.0v3M539.0 80.5h3M540.5 79.0v3M540.0 80.5h3M541.5 79.0v3M540.0 165.5h3M541.5 164.0v3M540.0 155.5h3M541.5 154.0v3M540.0 172.5h3M541.5 171.0v3M541.0 93.5h3M542.5 92.0v3M541.0 83.5h3M542.5 82.0v3M541.0 87.5h3M542.5 86.0v3M541.0 90.5h3M542.5 89.0v3M542.0 87.5h3M543.5 86.0v3M542.0 83.5h3M543.5 82.0v3M542.0 67.5h3M543.5 66.0v3M543.0 87.5h3M544.5 86.0v3M543.0 93.5h3M544.5 92.0v3M543.0 106.5h3M544.5 105.0v3M543.0 90.5h3M544.5 89.0v3M544.0 87.5h3M545.5 86.0v3M544.0 93.5h3M545.5 92.0v3M544.0 123.5h3M545.5 122.0v3M544.0 80.5h3M545.5 79.0v3M545.0 77.5h3M546.5 76.0v3M545.0 80.5h3M546.5 79.0v3M545.0 83.5h3M546.5 82.0v3M545.0 110.5h3M546.5 109.0v3M546.0 83.5h3M547.5 82.0v3M546.0 87.5h3M547.5 86.0v3M546.0 93.5h3M547.5 92.0v3M547.0 80.5h3M548.5 79.0v3M547.0 87.5h3M548.5 86.0v3M547.0 129.5h3M548.5 128.0v3M548.0 87.5h3M549.5 86.0v3M548.0 77.5h3M549.5 76.0v3M548.0 129.5h3M549.5 128.0v3M549.0 87.5h3M550.5 86.0v3M549.0 80.5h3M550.5 79.0v3M550.0 83.5h3M551.5 82.0v3M550.0 77.5h3M551.5 76.0v3M551.0 80.5h3M552.5 79.0v3M552.0 80.5h3M553.5 79.0v3M552.0 87.5h3M553.5 86.0v3M553.0 80.5h3M554.5 79.0v3M553.0 77.5h3M554.5 76.0v3M553.0 83.5h3M554.5 82.0v3M553.0 87.5h3M554.5 86.0v3M554.0 87.5h3M555.5 86.0v3M554.0 70.5h3M555.5 69.0v3M554.0 90.5h3M555.5 89.0v3M554.0 83.5h3M555.5 82.0v3M555.0 87.5h3M556.5 86.0v3M555.0 80.5h3M556.5 79.0v3M555.0 77.5h3M556.5 76.0v3M556.0 80.5h3M557.5 79.0v3M556.0 87.5h3M557.5 86.0v3M556.0 77.5h3M557.5 76.0v3M557.0 93.5h3M558.5 92.0v3M557.0 87.5h3M558.5 86.0v3M558.0 80.5h3M559.5 79.0v3M558.0 87.5h3M559.5 86.0v3M559.0 80.5h3M560.5 79.0v3M559.0 83.5h3M560.5 82.0v3M559.0 93.5h3M560.5 92.0v3M560.0 80.5h3M561.5 79.0v3M560.0 83.5h3M561.5 82.0v3M560.0 73.5h3M561.5 72.0v3M561.0 77.5h3M562.5 76.0v3M561.0 87.5h3M562.5 86.0v3M561.0 80.5h3M562.5 79.0v3M561.0 83.5h3M562.5 82.0v3M562.0 87.5h3M563.5 86.0v3M562.0 77.5h3M563.5 76.0v3M562.0 83.5h3M563.5 82.0v3M563.0 77.5h3M564.5 76.0v3M563.0 80.5h3M564.5 79.0v3M563.0 87.5h3M564.5 86.0v3M563.0 73.5h3M564.5 72.0v3M564.0 80.5h3M565.5 79.0v3M564.0 110.5h3M565.5 109.0v3M564.0 90.5h3M565.5 89.0v3M565.0 87.5h3M566.5 86.0v3M565.0 96.5h3M566.5 95.0v3M566.0 110.5h3M567.5 109.0v3M566.0 103.5h3M567.5 102.0v3M566.0 93.5h3M567.5 92.0v3M566.0 77.5h3M567.5 76.0v3M567.0 93.5h3M568.5 92.0v3M567.0 96.5h3M568.5 95.0v3M568.0 96.5h3M569.5 95.0v3M568.0 93.5h3M569.5 92.0v3M568.0 90.5h3M569.5 89.0v3M568.0 106.5h3M569.5 105.0v3M569.0 93.5h3M570.5 92.0v3M569.0 100.5h3M570.5 99.0v3M569.0 87.5h3M570.5 86.0v3M570.0 90.5h3M571.5 89.0v3M570.0 103.5h3M571.5 102.0v3M570.0 96.5h3M571.5 95.0v3M570.0 113.5h3M571.5 112.0v3M571.0 87.5h3M572.5 86.0v3M571.0 93.5h3M572.5 92.0v3M571.0 100.5h3M572.5 99.0v3M571.0 103.5h3M572.5 102.0v3M572.0 100.5h3M573.5 99.0v3M572.0 93.5h3M573.5 92.0v3M573.0 90.5h3M574.5 89.0v3M573.0 87.5h3M574.5 86.0v3M573.0 100.5h3M574.5 99.0v3M574.0 90.5h3M575.5 89.0v3M574.0 93.5h3M575.5 92.0v3M574.0 103.5h3M575.5 102.0v3M574.0 96.5h3M575.5 95.0v3M575.0 93.5h3M576.5 92.0v3M575.0 106.5h3M576.5 105.0v3M575.0 103.5h3M576.5 102.0v3M575.0 100.5h3M576.5 99.0v3M576.0 96.5h3M577.5 95.0v3M576.0 93.5h3M577.5 92.0v3M576.0 87.5h3M577.5 86.0v3M576.0 100.5h3M577.5 99.0v3M577.0 93.5h3M578.5 92.0v3M577.0 96.5h3M578.5 95.0v3M577.0 87.5h3M578.5 86.0v3M577.0 90.5h3M578.5 89.0v3M578.0 103.5h3M579.5 102.0v3M578.0 90.5h3M579.5 89.0v3M578.0 96.5h3M579.5 95.0v3M579.0 103.5h3M580.5 102.0v3M579.0 93.5h3M580.5 92.0v3M579.0 110.5h3M580.5 109.0v3M579.0 90.5h3M580.5 89.0v3M580.0 100.5h3M581.5 99.0v3M580.0 90.5h3M581.5 89.0v3M581.0 103.5h3M582.5 102.0v3M581.0 100.5h3M582.5 99.0v3M581.0 93.5h3M582.5 92.0v3M582.0 100.5h3M583.5 99.0v3M582.0 103.5h3M583.5 102.0v3M582.0 83.5h3M583.5 82.0v3M583.0 90.5h3M584.5 89.0v3M583.0 96.5h3M584.5 95.0v3M583.0 100.5h3M584.5 99.0v3M584.0 110.5h3M585.5 109.0v3M584.0 93.5h3M585.5 92.0v3M584.0 90.5h3M585.5 89.0v3M584.0 106.5h3M585.5 105.0v3M585.0 103.5h3M586.5 102.0v3M585.0 96.5h3M586.5 95.0v3M586.0 106.5h3M587.5 105.0v3M586.0 87.5h3M587.5 86.0v3M586.0 116.5h3M587.5 115.0v3M587.0 87.5h3M588.5 86.0v3M587.0 103.5h3M588.5 102.0v3M587.0 90.5h3M588.5 89.0v3M587.0 110.5h3M588.5 109.0v3M588.0 96.5h3M589.5 95.0v3M588.0 93.5h3M589.5 92.0v3M588.0 100.5h3M589.5 99.0v3M589.0 100.5h3M590.5 99.0v3M589.0 96.5h3M590.5 95.0v3M589.0 106.5h3M590.5 105.0v3M589.0 87.5h3M590.5 86.0v3M590.0 96.5h3M591.5 95.0v3M590.0 103.5h3M591.5 102.0v3M591.0 100.5h3M592.5 99.0v3M591.0 90.5h3M592.5 89.0v3M591.0 93.5h3M592.5 92.0v3M592.0 96.5h3M593.5 95.0v3M592.0 100.5h3M593.5 99.0v3M592.0 90.5h3M593.5 89.0v3M593.0 93.5h3M594.5 92.0v3M593.0 106.5h3M594.5 105.0v3M593.0 110.5h3M594.5 109.0v3M593.0 96.5h3M594.5 95.0v3M594.0 87.5h3M595.5 86.0v3M594.0 110.5h3M595.5 109.0v3M594.0 119.5h3M595.5 118.0v3M595.0 93.5h3M596.5 92.0v3M595.0 106.5h3M596.5 105.0v3M596.0 116.5h3M597.5 115.0v3M596.0 106.5h3M597.5 105.0v3M596.0 119.5h3M597.5 118.0v3M596.0 96.5h3M597.5 95.0v3M597.0 90.5h3M598.5 89.0v3M597.0 110.5h3M598.5 109.0v3M597.0 93.5h3M598.5 92.0v3M598.0 87.5h3M599.5 86.0v3M598.0 93.5h3M599.5 92.0v3M598.0 119.5h3M599.5 118.0v3M598.0 106.5h3M599.5 105.0v3M599.0 110.5h3M600.5 109.0v3M599.0 93.5h3M600.5 92.0v3M599.0 96.5h3M600.5 95.0v3M600.0 93.5h3M601.5 92.0v3M600.0 96.5h3M601.5 95.0v3M601.0 103.5h3M602.5 102.0v3M601.0 142.5h3M602.5 141.0v3M601.0 126.5h3M602.5 125.0v3M601.0 96.5h3M602.5 95.0v3M602.0 123.5h3M603.5 122.0v3M602.0 106.5h3M603.5 105.0v3M602.0 110.5h3M603.5 109.0v3M602.0 133.5h3M603.5 132.0v3M603.0 93.5h3M604.5 92.0v3M603.0 149.5h3M604.5 148.0v3M603.0 96.5h3M604.5 95.0v3M604.0 126.5h3M605.5 125.0v3M604.0 93.5h3M605.5 92.0v3M604.0 96.5h3M605.5 95.0v3M604.0 100.5h3M605.5 99.0v3M605.0 136.5h3M606.5 135.0v3M605.0 106.5h3M606.5 105.0v3M605.0 155.5h3M606.5 154.0v3M605.0 113.5h3M606.5 112.0v3M606.0 133.5h3M607.5 132.0v3M606.0 110.5h3M607.5 109.0v3M606.0 129.5h3M607.5 128.0v3M606.0 106.5h3M607.5 105.0v3M607.0 159.5h3M608.5 158.0v3M607.0 146.5h3M608.5 145.0v3M607.0 172.5h3M608.5 171.0v3M608.0 178.5h3M609.5 177.0v3M608.0 172.5h3M609.5 171.0v3M608.0 142.5h3M609.5 141.0v3M608.0 77.5h3M609.5 76.0v3M609.0 152.5h3M610.5 151.0v3M609.0 165.5h3M610.5 164.0v3M609.0 169.5h3M610.5 168.0v3M610.0 165.5h3M611.5 164.0v3M610.0 169.5h3M611.5 168.0v3M611.0 172.5h3M612.5 171.0v3M611.0 169.5h3M612.5 168.0v3M611.0 165.5h3M612.5 164.0v3M612.0 159.5h3M613.5 158.0v3M612.0 165.5h3M613.5 164.0v3M612.0 169.5h3M613.5 168.0v3M613.0 172.5h3M614.5 171.0v3M613.0 169.5h3M614.5 168.0v3M613.0 175.5h3M614.5 174.0v3M614.0 165.5h3M615.5 164.0v3M614.0 175.5h3M615.5 174.0v3M614.0 162.5h3M615.5 161.0v3M614.0 172.5h3M615.5 171.0v3M615.0 169.5h3M616.5 168.0v3M615.0 178.5h3M616.5 177.0v3M615.0 165.5h3M616.5 164.0v3M615.0 172.5h3M616.5 171.0v3M616.0 178.5h3M617.5 177.0v3M616.0 169.5h3M617.5 168.0v3M616.0 172.5h3M617.5 171.0v3M617.0 165.5h3M618.5 164.0v3M617.0 178.5h3M618.5 177.0v3M617.0 169.5h3M618.5 168.0v3M618.0 155.5h3M619.5 154.0v3M618.0 172.5h3M619.5 171.0v3M618.0 169.5h3M619.5 168.0v3M619.0 172.5h3M620.5 171.0v3M619.0 162.5h3M620.5 161.0v3M620.0 169.5h3M621.5 168.0v3M620.0 165.5h3M621.5 164.0v3M621.0 165.5h3M622.5 164.0v3M621.0 178.5h3M622.5 177.0v3M621.0 175.5h3M622.5 174.0v3M621.0 172.5h3M622.5 171.0v3M622.0 178.5h3M623.5 177.0v3M622.0 159.5h3M623.5 158.0v3M622.0 175.5h3M623.5 174.0v3M622.0 172.5h3M623.5 171.0v3M623.0 178.5h3M624.5 177.0v3M623.0 175.5h3M624.5 174.0v3M623.0 169.5h3M624.5 168.0v3M624.0 175.5h3M625.5 174.0v3M624.0 169.5h3M625.5 168.0v3" stroke="#1f77b4" stroke-width="1" fill="none"/>
<clipPath id="cbot"><rect x="72.0" y="715.0" width="554.0" height="140.0"/></clipPath>
<g clip-path="url(#cbot)" fill="none" stroke="#1f77b4" stroke-width="1">
<path d="M72.5 787.9V789.6M72.5 818.8V820.7M73.5 782.0V786.8M73.5 819.1V821.3M74.5 780.4V785.7M74.5 815.9V817.4M75.5 783.3V783.6M75.5 816.9V817.9M76.5 776.1V782.3M76.5 817.6V821.3M77.5 784.4V788.3M77.5 816.8V821.7M78.5 792.6V794.8M78.5 817.9V819.1M79.5 794.9V795.2M79.5 827.5V829.6M80.5 791.9V796.5M80.5 821.6V826.4M81.5 792.9V797.2M81.5 825.7V828.7M82.5 791.6V794.5M82.5 826.7V831.7M83.5 792.8V795.3M83.5 826.7V830.3M84.5 788.2V796.5M84.5 830.7V831.0M85.5 796.4V802.4M85.5 825.8V833.8M86.5 797.4V799.1M86.5 831.6V831.9M87.5 802.4V807.0M87.5 829.5V833.9M88.5 806.6V806.9M88.5 835.1V842.0M89.5 793.7V801.4M89.5 827.9V828.2M90.5 797.4V801.2M90.5 827.6V828.0M91.5 795.8V800.6M91.5 831.2V834.0M92.5 798.7V800.7M92.5 831.6V835.7M93.5 802.0V804.7M93.5 828.9V834.3M94.5 793.4V800.8M94.5 826.0V833.7M95.5 795.4V797.5M95.5 830.1V833.3M96.5 796.6V800.8M96.5 829.2V831.8M97.5 795.3V799.9M97.5 831.9V834.0M98.5 798.6V804.0M98.5 835.6V839.8M99.5 805.1V805.4M99.5 833.2V836.2M100.5 803.7V805.9M100.5 833.1V839.2M101.5 805.9V807.3M101.5 831.2V843.1M102.5 795.6V802.5M102.5 832.0V835.9M103.5 796.3V801.1M103.5 831.8V833.4M104.5 802.3V802.6M104.5 832.4V835.6M105.5 801.5V805.4M105.5 827.5V829.0M106.5 803.3V803.6M106.5 832.6V836.2M107.5 811.6V811.9M107.5 832.3V839.0M108.5 796.6V799.6M108.5 826.2V829.2M109.5 799.6V800.2M109.5 829.5V832.0M110.5 798.3V798.9M110.5 830.2V839.7M111.5 801.1V803.1M111.5 834.0V839.1M112.5 797.9V799.2M112.5 830.6V830.9M113.5 795.8V799.0M113.5 826.6V828.7M114.5 805.4V808.0M114.5 833.5V836.3M115.5 803.4V804.9M115.5 828.5V833.3M116.5 806.2V811.4M116.5 838.5V838.8M117.5 796.7V800.1M117.5 831.9V834.0M118.5 796.6V799.7M118.5 827.6V827.9M119.5 801.2V806.8M119.5 824.9V827.1M120.5 796.3V801.1M120.5 835.6V844.0M121.5 809.7V810.0M121.5 831.5V836.3M122.5 803.9V806.8M122.5 834.2V840.7M123.5 797.8V802.7M123.5 837.2V844.2M124.5 795.6V799.5M124.5 833.6V835.4M125.5 801.1V802.0M125.5 835.7V839.2M126.5 802.4V804.4M126.5 826.8V827.2M127.5 801.4V804.8M127.5 831.6V836.7M128.5 797.9V799.2M128.5 826.1V826.8M129.5 794.6V800.9M129.5 830.8V831.5M130.5 802.2V803.2M130.5 830.1V831.0M131.5 801.1V802.6M131.5 830.0V832.8M132.5 810.2V812.3M132.5 835.0V839.3M133.5 799.6V803.9M133.5 828.7V832.3M134.5 797.5V802.4M134.5 835.2V838.3M135.5 806.4V807.5M135.5 835.4V837.0M136.5 798.9V805.5M136.5 828.8V829.4M137.5 805.3V807.5M137.5 826.8V835.2M138.5 803.9V804.2M138.5 829.4V832.2M139.5 801.1V801.4M139.5 833.6V836.4M140.5 800.9V801.2M140.5 824.4V825.5M141.5 804.0V805.7M141.5 827.9V836.4M142.5 796.5V802.0M142.5 827.7V829.8M143.5 800.6V804.2M143.5 832.3V833.4M144.5 802.0V804.1M144.5 834.9V838.7M145.5 803.5V807.0M145.5 833.2V838.3M146.5 801.5V804.4M146.5 826.4V832.1M147.5 803.8V804.7M147.5 829.9V833.0M148.5 795.7V798.1M148.5 828.4V832.8M149.5 798.4V798.7M149.5 829.8V831.6M150.5 800.7V805.2M150.5 829.3V829.9M151.5 799.1V803.8M151.5 826.4V828.7M152.5 799.6V803.0M152.5 835.7V836.5M153.5 801.8V809.5M153.5 833.3V834.3M154.5 796.0V798.9M154.5 827.1V829.4M155.5 798.4V800.4M155.5 822.9V826.2M156.5 797.3V798.4M156.5 826.9V833.7M157.5 792.7V795.3M157.5 829.2V833.6M158.5 806.2V806.5M158.5 826.2V829.3M159.5 793.1V798.3M159.5 829.0V829.5M160.5 798.7V803.5M160.5 831.3V833.4M161.5 803.2V804.9M161.5 831.5V834.2M162.5 802.0V802.3M162.5 834.2V836.3M163.5 799.5V802.1M163.5 826.2V832.8M164.5 796.3V800.0M164.5 826.8V828.0M165.5 794.7V801.0M165.5 828.5V835.4M166.5 801.4V801.7M166.5 828.0V830.3M167.5 796.6V803.0M167.5 833.9V834.6M168.5 803.5V807.3M168.5 830.9V835.0M169.5 811.1V811.4M169.5 839.2V840.6M170.5 800.9V802.9M170.5 834.6V834.9M171.5 804.1V806.1M171.5 833.6V834.2M172.5 807.7V808.8M172.5 832.0V837.3M173.5 802.0V805.2M173.5 829.6V833.2M174.5 806.8V808.1M174.5 834.6V838.3M175.5 800.2V801.5M175.5 836.8V842.9M176.5 804.2V804.5M176.5 833.9V835.5M177.5 804.5V804.9M177.5 826.7V830.8M178.5 807.2V807.8M178.5 827.7V828.1M179.5 803.0V804.4M179.5 833.4V837.2M180.5 805.0V805.3M180.5 836.6V842.6M181.5 800.0V805.7M181.5 830.9V831.3M182.5 800.4V801.3M182.5 829.9V834.8M183.5 803.0V805.8M183.5 836.9V840.9M184.5 804.9V806.0M184.5 833.5V833.8M185.5 807.4V812.1M185.5 835.0V836.7M186.5 799.8V804.2M186.5 832.7V833.8M187.5 802.5V802.8M187.5 827.2V828.5M188.5 799.4V803.0M188.5 837.7V842.5M189.5 808.8V811.4M189.5 831.9V832.2M190.5 798.0V804.6M190.5 830.8V835.9M191.5 798.3V802.1M191.5 827.5V829.7M192.5 802.6V807.5M192.5 832.1V833.8M193.5 789.8V792.8M193.5 819.5V823.8M194.5 792.5V794.8M194.5 824.8V831.0M195.5 785.7V788.6M195.5 817.3V819.3M196.5 785.0V792.0M196.5 823.0V829.0M197.5 790.4V794.5M197.5 817.6V817.9M198.5 785.9V790.1M198.5 820.2V821.8M199.5 785.1V789.8M199.5 821.2V822.0M200.5 773.9V781.4M200.5 819.5V822.1M201.5 786.7V790.6M201.5 827.6V829.2M202.5 792.8V794.2M202.5 817.7V824.3M203.5 791.1V793.1M203.5 825.8V829.6M204.5 794.3V796.9M204.5 827.6V831.3M205.5 796.3V799.8M205.5 827.1V831.9M206.5 798.6V801.0M206.5 828.8V830.5M207.5 802.5V807.6M207.5 826.3V826.6M208.5 800.3V800.6M208.5 830.2V834.1M209.5 794.1V805.1M209.5 829.7V832.1M210.5 805.5V805.9M210.5 833.7V835.0M211.5 794.4V799.0M211.5 828.2V832.3M212.5 806.2V807.6M212.5 836.0V840.5M213.5 800.8V801.1M213.5 838.3V842.4M214.5 801.5V804.4M214.5 836.2V841.6M215.5 796.8V800.4M215.5 829.5V830.6M216.5 792.1V797.7M216.5 826.9V830.6M217.5 798.8V805.6M217.5 834.6V836.2M218.5 810.7V811.5M218.5 834.9V840.4M219.5 799.2V804.0M219.5 836.3V836.6M220.5 807.0V807.3M220.5 828.8V830.8M221.5 803.4V805.5M221.5 828.6V831.2M222.5 804.2V807.2M222.5 833.7V838.6M223.5 806.5V811.3M223.5 836.7V839.9M224.5 805.2V808.0M224.5 840.7V847.0M225.5 807.5V807.8M225.5 834.2V836.7M226.5 805.4V805.7M226.5 832.1V832.4M227.5 797.5V804.8M227.5 826.2V829.6M228.5 797.4V802.4M228.5 829.8V836.1M229.5 803.2V806.6M229.5 829.3V832.9M230.5 801.1V806.1M230.5 835.5V840.9M231.5 795.2V799.1M231.5 831.3V832.3M232.5 801.9V806.3M232.5 831.1V833.1M233.5 798.7V804.1M233.5 829.9V832.5M234.5 803.1V804.4M234.5 828.1V834.1M235.5 805.6V807.9M235.5 826.5V830.2M236.5 798.3V806.7M236.5 835.2V839.2M237.5 796.4V802.4M237.5 833.6V835.0M238.5 808.0V812.5M238.5 832.1V839.7M239.5 802.3V807.4M239.5 836.8V839.0M240.5 806.2V808.4M240.5 828.6V834.1M241.5 795.8V802.7M241.5 828.7V833.1M242.5 806.4V806.7M242.5 832.4V832.9M243.5 802.5V803.3M243.5 833.6V839.4M244.5 802.0V803.8M244.5 837.6V839.8M245.5 801.8V809.7M245.5 833.3V836.9M246.5 805.9V807.8M246.5 836.2V837.7M247.5 807.3V808.9M247.5 835.2V838.2M248.5 803.2V803.5M248.5 834.9V836.4M249.5 810.0V811.2M249.5 837.2V840.4M250.5 801.0V806.6M250.5 834.6V834.9M251.5 803.7V809.2M251.5 836.6V836.9M252.5 803.6V805.0M252.5 838.8V839.2M253.5 807.9V812.5M253.5 836.0V836.3M254.5 803.4V806.1M254.5 830.2V830.6M255.5 799.5V801.8M255.5 835.0V837.0M256.5 800.2V806.0M256.5 831.1V831.6M257.5 792.5V801.7M257.5 839.9V842.2M258.5 801.9V804.6M258.5 832.7V834.5M259.5 803.3V807.4M259.5 832.9V833.2M260.5 794.5V801.0M260.5 835.3V838.5M261.5 805.3V807.0M261.5 835.1V843.2M262.5 789.4V796.8M262.5 823.0V828.3M263.5 770.5V775.5M263.5 812.2V813.6M264.5 778.4V785.1M264.5 825.2V825.7M265.5 780.3V782.3M265.5 820.2V824.1M266.5 774.6V781.4M266.5 820.9V822.4M267.5 784.1V784.4M267.5 815.6V824.3M268.5 779.1V781.6M268.5 817.1V817.4M269.5 783.4V788.9M269.5 823.9V824.3M270.5 781.0V788.0M270.5 817.2V817.6M271.5 781.5V786.4M271.5 820.8V824.6M272.5 785.7V786.9M272.5 826.9V830.0M273.5 781.7V787.5M273.5 818.3V820.9M274.5 789.0V794.7M274.5 824.4V829.3M275.5 785.2V793.9M275.5 817.4V818.1M276.5 784.2V789.0M276.5 817.7V820.7M277.5 796.2V801.0M277.5 829.3V830.2M278.5 791.5V795.4M278.5 830.0V834.2M279.5 806.5V807.0M279.5 833.5V840.1M280.5 803.8V806.6M280.5 827.7V833.4M281.5 799.2V803.6M281.5 826.1V832.2M282.5 803.0V804.6M282.5 831.3V833.5M283.5 804.3V806.2M283.5 828.0V833.9M284.5 798.5V800.2M284.5 833.3V836.6M285.5 800.2V805.7M285.5 831.0V837.8M286.5 799.9V800.8M286.5 827.6V829.3M287.5 798.3V800.0M287.5 825.2V825.8M288.5 801.8V803.4M288.5 837.1V837.4M289.5 794.2V796.1M289.5 828.9V831.7M290.5 794.7V798.6M290.5 827.9V831.9M291.5 802.7V805.0M291.5 826.4V832.3M292.5 799.3V801.2M292.5 829.3V834.1M293.5 799.4V803.6M293.5 836.7V841.7M294.5 798.9V804.2M294.5 828.2V830.6M295.5 798.2V802.1M295.5 831.2V831.6M296.5 803.7V804.6M296.5 833.6V836.8M297.5 801.2V801.5M297.5 829.2V836.9M298.5 797.2V804.7M298.5 834.5V840.1M299.5 799.7V805.0M299.5 833.6V837.3M300.5 800.0V802.9M300.5 836.1V837.4M301.5 806.5V807.1M301.5 830.3V830.6M302.5 805.9V806.2M302.5 829.2V830.6M303.5 799.0V803.1M303.5 831.6V837.3M304.5 804.8V808.8M304.5 830.0V833.5M305.5 799.4V801.4M305.5 832.0V835.9M306.5 799.4V804.4M306.5 829.1V830.7M307.5 798.8V801.7M307.5 831.4V837.9M308.5 802.8V806.5M308.5 829.1V829.4M309.5 803.6V808.3M309.5 834.0V836.4M310.5 803.0V808.3M310.5 829.2V829.5M311.5 802.4V808.2M311.5 828.1V833.7M312.5 802.6V805.9M312.5 830.0V834.8M313.5 799.6V802.5M313.5 833.9V835.5M314.5 805.1V805.5M314.5 832.6V833.7M315.5 805.3V807.2M315.5 831.7V834.7M316.5 798.0V798.9M316.5 825.4V830.0M317.5 797.5V797.8M317.5 826.6V827.8M318.5 790.7V791.1M318.5 819.1V821.4M319.5 795.2V796.5M319.5 817.5V820.6M320.5 791.3V793.7M320.5 820.7V828.7M321.5 782.5V784.5M321.5 816.9V821.3M322.5 779.8V786.3M322.5 817.9V822.4M323.5 793.6V796.3M323.5 819.8V820.1M324.5 790.2V795.8M324.5 827.8V835.0M325.5 797.0V797.3M325.5 825.9V831.2M326.5 805.2V807.4M326.5 824.2V826.7M327.5 798.5V801.9M327.5 834.6V837.1M328.5 797.6V800.6M328.5 831.0V833.8M329.5 805.4V807.2M329.5 827.2V828.5M330.5 804.1V806.5M330.5 827.3V828.7M331.5 799.8V802.7M331.5 829.3V831.2M332.5 802.1V803.0M332.5 831.1V836.4M333.5 801.2V803.7M333.5 832.3V842.0M334.5 796.4V802.8M334.5 825.4V825.7M335.5 799.3V801.7M335.5 835.7V838.4M336.5 798.0V799.1M336.5 828.5V829.5M337.5 803.3V808.8M337.5 836.0V840.4M338.5 803.5V803.8M338.5 830.1V830.4M339.5 801.7V804.7M339.5 825.6V827.9M340.5 803.1V803.4M340.5 832.7V836.2M341.5 800.5V806.4M341.5 835.2V842.0M342.5 806.2V806.9M342.5 830.9V838.3M343.5 797.5V801.9M343.5 828.7V829.0M344.5 803.7V807.3M344.5 832.3V839.3M345.5 805.7V806.0M345.5 835.2V836.0M346.5 812.4V812.7M346.5 829.7V832.2M347.5 799.7V802.7M347.5 826.4V833.7M348.5 808.0V808.3M348.5 832.1V832.4M349.5 801.9V803.9M349.5 832.9V836.9M350.5 802.7V806.2M350.5 833.8V839.2M351.5 803.9V808.1M351.5 833.1V839.1M352.5 795.6V801.9M352.5 834.5V837.5M353.5 798.8V804.5M353.5 831.2V833.5M354.5 802.7V805.6M354.5 837.6V842.4M355.5 800.2V809.8M355.5 835.0V838.3M356.5 810.6V812.0M356.5 834.2V837.6M357.5 801.5V804.3M357.5 828.8V834.7M358.5 795.5V803.4M358.5 830.6V836.9M359.5 803.0V803.5M359.5 838.6V842.9M360.5 803.4V803.8M360.5 834.0V840.3M361.5 806.5V808.9M361.5 825.8V826.1M362.5 805.8V809.4M362.5 827.1V827.4M363.5 799.4V800.3M363.5 832.8V838.7M364.5 798.6V801.0M364.5 830.5V832.0M365.5 796.7V801.1M365.5 829.9V830.2M366.5 801.1V802.9M366.5 829.4V835.8M367.5 799.1V804.4M367.5 827.2V828.4M368.5 801.3V804.3M368.5 832.6V837.1M369.5 804.8V805.1M369.5 833.4V835.1M370.5 799.8V803.4M370.5 832.8V836.4M371.5 806.0V806.3M371.5 830.9V831.5M372.5 797.1V800.0M372.5 832.1V835.6M373.5 802.7V803.0M373.5 825.6V831.9M374.5 799.5V800.1M374.5 828.4V835.5M375.5 791.0V792.5M375.5 825.6V829.0M376.5 797.4V797.7M376.5 830.2V835.1M377.5 799.6V800.6M377.5 832.2V837.8M378.5 804.0V804.3M378.5 834.7V836.5M379.5 801.1V802.5M379.5 827.2V832.9M380.5 803.8V804.8M380.5 839.6V841.5M381.5 805.7V810.5M381.5 838.2V843.2M382.5 811.5V812.1M382.5 833.7V840.0M383.5 806.3V809.9M383.5 828.0V833.9M384.5 799.7V802.7M384.5 829.7V833.2M385.5 805.3V805.6M385.5 832.7V837.3M386.5 793.6V801.5M386.5 831.2V834.7M387.5 789.8V796.6M387.5 834.7V835.0M388.5 808.3V808.7M388.5 828.3V828.6M389.5 801.0V805.2M389.5 829.2V832.0M390.5 807.5V807.8M390.5 833.2V841.8M391.5 799.2V805.7M391.5 833.3V835.7M392.5 800.1V804.1M392.5 832.8V836.8M393.5 800.7V806.6M393.5 829.0V835.2M394.5 802.3V806.4M394.5 831.6V833.6M395.5 798.6V801.8M395.5 829.4V832.2M396.5 798.9V802.1M396.5 836.2V838.7M397.5 805.3V807.6M397.5 831.1V833.8M398.5 808.1V810.3M398.5 833.6V835.1M399.5 809.4V812.3M399.5 835.8V836.1M400.5 800.7V806.5M400.5 836.1V840.0M401.5 802.3V806.3M401.5 831.8V834.2M402.5 805.6V805.9M402.5 831.8V836.6M403.5 805.8V809.7M403.5 840.4V841.2M404.5 803.6V808.3M404.5 836.4V836.7M405.5 803.3V808.9M405.5 832.2V836.3M406.5 798.3V803.3M406.5 828.2V834.2M407.5 795.0V802.4M407.5 832.4V832.7M408.5 805.3V805.6M408.5 830.9V834.2M409.5 798.7V804.1M409.5 836.1V838.5M410.5 804.7V805.2M410.5 836.7V837.0M411.5 805.3V807.5M411.5 828.5V828.8M412.5 802.4V802.7M412.5 832.3V833.2M413.5 806.7V808.2M413.5 834.6V837.8M414.5 806.8V807.1M414.5 834.8V837.6M415.5 807.2V807.9M415.5 836.6V836.9M416.5 803.4V806.4M416.5 833.0V838.9M417.5 802.2V807.3M417.5 836.2V838.2M418.5 805.5V808.4M418.5 831.2V836.0M419.5 806.8V808.7M419.5 833.8V834.4M420.5 809.0V811.3M420.5 832.3V832.6M421.5 805.9V809.5M421.5 834.2V834.5M422.5 801.7V805.0M422.5 829.4V835.5M423.5 802.3V806.7M423.5 831.0V835.4M424.5 808.3V811.6M424.5 835.3V838.5M425.5 798.2V805.1M425.5 833.5V833.8M426.5 809.2V810.2M426.5 833.4V834.6M427.5 807.7V809.3M427.5 834.2V838.6M428.5 807.7V811.1M428.5 829.7V830.0M429.5 804.4V809.3M429.5 830.6V831.9M430.5 805.0V808.9M430.5 836.3V839.8M431.5 806.0V806.3M431.5 827.7V828.2M432.5 800.3V807.4M432.5 838.3V839.6M433.5 798.1V803.8M433.5 834.8V838.0M434.5 799.3V803.4M434.5 836.7V840.8M435.5 806.1V810.1M435.5 835.3V836.3M436.5 804.3V806.3M436.5 838.6V845.2M437.5 812.5V813.9M437.5 831.9V835.4M438.5 808.4V808.7M438.5 833.8V835.3M439.5 800.9V806.7M439.5 830.1V830.8M440.5 803.7V809.9M440.5 833.7V839.4M441.5 797.7V808.2M441.5 833.9V834.3M442.5 810.7V811.2M442.5 836.5V841.5M443.5 798.1V802.8M443.5 830.0V830.3M444.5 806.4V812.3M444.5 836.7V837.0M445.5 801.0V804.4M445.5 837.0V837.3M446.5 802.7V806.3M446.5 832.2V837.5M447.5 802.7V806.9M447.5 833.5V836.6M448.5 801.8V805.5M448.5 836.7V839.4M449.5 801.6V806.6M449.5 831.2V835.8M450.5 806.6V807.2M450.5 831.1V835.7M451.5 808.8V809.1M451.5 833.6V836.0M452.5 802.8V807.2M452.5 836.3V840.3M453.5 807.9V808.2M453.5 836.5V844.5M454.5 806.3V809.0M454.5 832.5V836.4M455.5 809.6V812.8M455.5 834.3V834.6M456.5 801.4V804.7M456.5 834.1V837.2M457.5 809.5V809.8M457.5 832.0V833.9M458.5 799.1V804.2M458.5 830.9V834.0M459.5 800.0V804.7M459.5 824.6V828.5M460.5 796.3V796.6M460.5 834.7V835.0M461.5 802.1V805.6M461.5 833.4V834.9M462.5 794.1V803.6M462.5 840.5V840.9M463.5 794.6V798.9M463.5 830.6V832.7M464.5 795.9V800.7M464.5 829.0V834.0M465.5 800.6V804.4M465.5 833.9V839.4M466.5 799.2V799.5M466.5 832.4V834.3M467.5 803.2V803.5M467.5 831.1V831.4M468.5 806.8V808.2M468.5 835.2V837.3M469.5 801.5V805.9M469.5 833.1V839.9M470.5 799.3V802.7M470.5 826.7V830.8M471.5 794.8V805.3M471.5 834.9V835.4M472.5 796.0V801.5M472.5 830.1V830.4M473.5 797.1V799.7M473.5 835.3V838.7M474.5 798.5V803.6M474.5 828.9V830.9M475.5 791.5V793.8M475.5 825.2V829.3M476.5 797.3V797.6M476.5 826.7V832.5M477.5 794.8V801.3M477.5 833.9V841.6M478.5 794.2V801.1M478.5 825.1V826.2M479.5 798.8V801.0M479.5 835.4V835.8M480.5 793.3V797.5M480.5 830.4V831.7M481.5 803.5V808.3M481.5 837.7V838.0M482.5 802.2V803.8M482.5 828.6V829.9M483.5 799.3V803.4M483.5 833.6V835.5M484.5 803.5V803.9M484.5 831.1V834.4M485.5 801.5V801.8M485.5 829.7V836.8M486.5 801.6V805.4M486.5 837.4V842.9M487.5 802.2V806.1M487.5 832.4V837.6M488.5 801.4V805.6M488.5 834.2V838.3M489.5 802.4V807.1M489.5 831.5V834.0M490.5 802.0V804.5M490.5 832.7V833.8M491.5 806.0V807.5M491.5 829.4V834.6M492.5 804.9V805.2M492.5 837.6V837.9M493.5 801.1V805.8M493.5 830.3V834.0M494.5 806.5V808.4M494.5 833.8V834.1M495.5 806.6V808.8M495.5 836.4V841.9M496.5 804.8V808.6M496.5 835.5V837.2M497.5 803.4V803.7M497.5 833.0V839.0M498.5 805.6V805.9M498.5 836.0V836.3M499.5 805.1V809.3M499.5 834.8V837.4M500.5 806.2V806.5M500.5 840.5V840.8M501.5 801.3V808.7M501.5 833.7V837.8M502.5 811.1V811.9M502.5 831.1V836.4M503.5 807.6V809.4M503.5 828.6V832.8M504.5 801.4V805.4M504.5 832.7V835.7M505.5 800.7V805.8M505.5 840.4V840.7M506.5 806.1V807.4M506.5 830.7V833.7M507.5 801.9V805.2M507.5 833.1V833.9M508.5 792.3V798.8M508.5 835.0V835.4M509.5 784.3V791.9M509.5 823.8V824.5M510.5 782.1V786.0M510.5 828.6V829.0M511.5 782.5V792.1M511.5 829.2V838.7M512.5 786.5V787.6M512.5 825.6V826.0M513.5 782.8V785.3M513.5 830.6V840.2M514.5 784.5V793.0M514.5 822.9V829.9M515.5 790.8V794.3M515.5 828.0V835.3M516.5 790.1V794.8M516.5 827.7V829.2M517.5 788.3V791.1M517.5 829.9V837.5M518.5 797.5V797.8M518.5 831.8V836.4M519.5 780.5V788.2M519.5 823.5V823.9M520.5 787.7V793.3M520.5 831.8V839.1M521.5 799.3V802.5M521.5 824.6V825.5M522.5 800.7V804.1M522.5 833.2V836.1M523.5 801.5V805.2M523.5 825.7V826.2M524.5 802.1V810.3M524.5 834.8V838.6M525.5 800.6V805.1M525.5 829.2V829.5M526.5 798.8V803.1M526.5 835.7V839.7M527.5 801.6V805.6M527.5 823.4V823.7M528.5 801.3V801.8M528.5 829.8V832.9M529.5 805.7V806.7M529.5 830.3V831.6M530.5 797.3V802.8M530.5 828.9V830.8M531.5 804.0V804.3M531.5 828.6V834.2M532.5 800.0V802.0M532.5 831.6V837.8M533.5 798.7V801.3M533.5 834.9V841.8M534.5 803.7V804.1M534.5 823.2V825.7M535.5 798.1V802.5M535.5 830.7V831.0M536.5 804.8V805.1M536.5 834.0V838.3M537.5 800.8V802.0M537.5 827.6V830.1M538.5 799.4V799.7M538.5 825.8V826.1M539.5 797.6V802.8M539.5 829.6V832.5M540.5 807.0V810.0M540.5 837.2V842.7M541.5 805.6V805.9M541.5 828.5V831.0M542.5 800.8V803.6M542.5 824.4V824.7M543.5 801.7V802.0M543.5 835.3V835.6M544.5 803.2V806.5M544.5 831.5V834.0M545.5 802.2V806.4M545.5 830.7V833.7M546.5 793.9V795.0M546.5 836.8V844.4M547.5 807.4V807.7M547.5 831.8V834.3M548.5 797.2V798.3M548.5 829.2V836.7M549.5 810.0V811.4M549.5 838.8V842.2M550.5 798.2V803.5M550.5 834.6V834.9M551.5 805.8V807.3M551.5 827.3V830.3M552.5 797.5V804.4M552.5 827.9V834.7M553.5 792.6V802.4M553.5 833.3V842.0M554.5 798.0V801.2M554.5 824.9V828.3M555.5 799.6V806.0M555.5 832.1V839.2M556.5 801.5V802.7M556.5 833.2V835.9M557.5 802.2V803.6M557.5 835.1V838.6M558.5 802.0V805.6M558.5 824.6V829.2M559.5 807.1V809.9M559.5 839.4V840.9M560.5 806.7V808.0M560.5 827.8V831.1M561.5 805.3V805.6M561.5 835.4V838.4M562.5 802.7V806.6M562.5 828.9V829.8M563.5 802.4V806.3M563.5 839.2V842.9M564.5 802.9V806.5M564.5 831.2V838.0M565.5 796.6V799.0M565.5 831.0V831.3M566.5 800.1V804.4M566.5 835.4V838.1M567.5 800.2V802.5M567.5 829.1V830.5M568.5 797.2V803.5M568.5 825.6V825.9M569.5 794.9V796.4M569.5 832.6V839.7M570.5 800.5V801.4M570.5 825.4V825.7M571.5 793.1V793.6M571.5 827.1V835.1M572.5 799.6V806.2M572.5 833.6V838.6M573.5 804.1V806.5M573.5 826.5V830.4M574.5 799.8V800.1M574.5 826.9V831.9M575.5 800.7V803.8M575.5 833.7V838.6M576.5 801.9V803.5M576.5 828.5V828.8M577.5 801.6V804.6M577.5 824.2V826.9M578.5 801.8V802.5M578.5 831.6V835.0M579.5 800.8V804.4M579.5 832.4V836.4M580.5 797.9V801.1M580.5 831.1V831.4M581.5 803.7V805.8M581.5 832.7V838.4M582.5 798.2V802.4M582.5 829.2V834.0M583.5 802.4V804.5M583.5 831.6V834.2M584.5 805.7V806.0M584.5 831.3V833.8M585.5 796.5V797.4M585.5 827.6V833.3M586.5 805.0V805.3M586.5 830.1V835.0M587.5 802.4V805.5M587.5 832.9V833.2M588.5 800.0V803.3M588.5 827.6V828.6M589.5 802.5V807.9M589.5 831.8V840.2M590.5 802.9V805.5M590.5 832.9V833.2M591.5 809.4V810.5M591.5 835.3V836.3M592.5 797.6V800.2M592.5 830.4V831.5M593.5 800.5V802.0M593.5 830.2V832.7M594.5 796.2V802.6M594.5 834.6V840.4M595.5 793.3V795.1M595.5 826.0V829.3M596.5 807.8V808.1M596.5 832.1V837.3M597.5 810.6V811.5M597.5 831.4V832.9M598.5 801.8V805.5M598.5 829.2V836.7M599.5 805.6V808.4M599.5 829.7V837.5M600.5 801.9V806.4M600.5 827.5V829.8M601.5 803.5V806.9M601.5 836.4V839.6M602.5 810.9V811.2M602.5 830.1V832.1M603.5 806.2V806.5M603.5 833.8V835.3M604.5 802.3V807.1M604.5 832.6V836.9M605.5 793.5V800.6M605.5 832.8V840.1M606.5 798.3V800.7M606.5 831.0V834.0M607.5 801.8V803.3M607.5 827.0V834.6M608.5 805.8V807.9M608.5 830.1V832.5M609.5 800.4V807.1M609.5 829.7V830.2M610.5 804.7V807.1M610.5 833.4V835.5M611.5 802.0V806.1M611.5 829.6V834.0M612.5 809.4V809.7M612.5 833.3V833.7M613.5 801.5V804.9M613.5 832.7V838.6M614.5 801.0V802.4M614.5 828.8V834.3M615.5 801.4V801.7M615.5 835.7V841.6M616.5 793.2V798.9M616.5 831.0V833.7M617.5 801.3V803.3M617.5 829.3V834.0M618.5 805.4V807.0M618.5 830.6V832.9M619.5 796.6V800.2M619.5 829.9V833.1M620.5 796.4V798.9M620.5 828.5V830.3M621.5 793.2V797.9M621.5 827.5V833.0M622.5 800.1V807.0M622.5 837.7V839.0M623.5 807.3V809.0M623.5 836.9V843.6M624.5 797.1V805.0M624.5 837.2V842.7M625.5 801.0V803.7M625.5 832.6V832.9" stroke-opacity="0.12"/>
<path d="M72.5 789.6V794.4M72.5 817.0V818.8M73.5 786.8V789.2M73.5 816.9V819.1M74.5 785.7V787.8M74.5 812.0V815.9M75.5 783.6V788.8M75.5 813.9V816.9M76.5 782.3V784.3M76.5 816.2V817.6M77.5 788.3V789.5M77.5 816.5V816.8M78.5 794.8V797.2M78.5 817.6V817.9M79.5 795.2V798.6M79.5 822.3V827.5M80.5 796.5V798.1M80.5 820.8V821.6M81.5 797.2V800.4M81.5 822.7V825.7M82.5 794.5V795.2M82.5 823.2V826.7M83.5 795.3V796.0M83.5 822.8V826.7M84.5 796.5V798.9M84.5 827.1V830.7M85.5 802.4V804.2M85.5 821.7V825.8M86.5 799.1V800.9M86.5 826.4V831.6M87.5 807.0V810.1M87.5 828.4V829.5M88.5 806.9V807.6M88.5 830.5V835.1M89.5 801.4V803.9M89.5 826.1V827.9M90.5 801.2V805.1M90.5 826.1V827.6M91.5 800.6V803.3M91.5 830.9V831.2M92.5 800.7V804.0M92.5 829.0V831.6M93.5 804.7V807.2M93.5 826.3V828.9M94.5 800.8V802.8M94.5 825.7V826.0M95.5 797.5V803.1M95.5 829.1V830.1M96.5 800.8V804.1M96.5 824.3V829.2M97.5 799.9V801.3M97.5 827.1V831.9M98.5 804.0V806.3M98.5 830.6V835.6M99.5 805.4V809.1M99.5 832.9V833.2M100.5 805.9V807.7M100.5 830.2V833.1M101.5 807.3V809.1M101.5 827.1V831.2M102.5 802.5V807.1M102.5 826.4V832.0M103.5 801.1V804.9M103.5 827.6V831.8M104.5 802.6V806.9M104.5 828.5V832.4M105.5 805.4V809.0M105.5 824.2V827.5M106.5 803.6V807.0M106.5 830.0V832.6M107.5 811.9V813.3M107.5 831.1V832.3M108.5 799.6V800.7M108.5 825.9V826.2M109.5 800.2V803.9M109.5 827.4V829.5M110.5 798.9V803.9M110.5 825.4V830.2M111.5 803.1V805.0M111.5 830.1V834.0M112.5 799.2V799.5M112.5 827.2V830.6M113.5 799.0V804.3M113.5 824.2V826.6M114.5 808.0V808.3M114.5 828.4V833.5M115.5 804.9V806.8M115.5 828.2V828.5M116.5 811.4V811.7M116.5 836.4V838.5M117.5 800.1V804.8M117.5 828.8V831.9M118.5 799.7V803.7M118.5 822.5V827.6M119.5 806.8V809.3M119.5 824.6V824.9M120.5 801.1V805.1M120.5 831.3V835.6M121.5 810.0V811.2M121.5 830.5V831.5M122.5 806.8V808.8M122.5 833.9V834.2M123.5 802.7V804.3M123.5 836.9V837.2M124.5 799.5V802.7M124.5 830.8V833.6M125.5 802.0V805.6M125.5 832.0V835.7M126.5 804.4V804.7M126.5 823.7V826.8M127.5 804.8V805.1M127.5 830.2V831.6M128.5 799.2V806.1M128.5 825.4V826.1M129.5 800.9V804.1M129.5 824.5V830.8M130.5 803.2V806.4M130.5 826.7V830.1M131.5 802.6V807.7M131.5 827.5V830.0M132.5 812.3V813.3M132.5 832.7V835.0M133.5 803.9V805.9M133.5 824.6V828.7M134.5 802.4V803.7M134.5 830.4V835.2M135.5 807.5V809.9M135.5 832.8V835.4M136.5 805.5V807.3M136.5 827.8V828.8M137.5 807.5V807.8M137.5 825.6V826.8M138.5 804.2V807.2M138.5 828.0V829.4M139.5 801.4V806.0M139.5 830.6V833.6M140.5 801.2V806.1M140.5 824.1V824.4M141.5 805.7V806.0M141.5 826.4V827.9M142.5 802.0V803.6M142.5 826.9V827.7M143.5 804.2V807.6M143.5 831.9V832.3M144.5 804.1V808.5M144.5 831.8V834.9M145.5 807.0V807.3M145.5 829.0V833.2M146.5 804.4V809.6M146.5 826.1V826.4M147.5 804.7V807.7M147.5 826.4V829.9M148.5 798.1V802.2M148.5 825.3V828.4M149.5 798.7V800.7M149.5 827.1V829.8M150.5 805.2V808.1M150.5 828.6V829.3M151.5 803.8V805.1M151.5 822.4V826.4M152.5 803.0V806.6M152.5 831.1V835.7M153.5 809.5V809.8M153.5 830.4V833.3M154.5 798.9V805.4M154.5 826.8V827.1M155.5 800.4V805.1M155.5 819.9V822.9M156.5 798.4V802.1M156.5 823.5V826.9M157.5 795.3V797.4M157.5 824.7V829.2M158.5 806.5V806.8M158.5 824.4V826.2M159.5 798.3V803.8M159.5 827.0V829.0M160.5 803.5V806.6M160.5 828.4V831.3M161.5 804.9V805.2M161.5 826.1V831.5M162.5 802.3V802.6M162.5 829.8V834.2M163.5 802.1V806.2M163.5 825.9V826.2M164.5 800.0V802.7M164.5 824.7V826.8M165.5 801.0V801.3M165.5 828.2V828.5M166.5 801.7V803.3M166.5 824.0V828.0M167.5 803.0V805.7M167.5 829.7V833.9M168.5 807.3V811.9M168.5 830.4V830.9M169.5 811.4V812.9M169.5 833.2V839.2M170.5 802.9V805.7M170.5 833.3V834.6M171.5 806.1V809.6M171.5 832.1V833.6M172.5 808.8V811.0M172.5 830.6V832.0M173.5 805.2V808.1M173.5 828.6V829.6M174.5 808.1V809.5M174.5 830.7V834.6M175.5 801.5V805.8M175.5 832.6V836.8M176.5 804.5V807.6M176.5 831.4V833.9M177.5 804.9V808.4M177.5 825.7V826.7M178.5 807.8V808.6M178.5 825.9V827.7M179.5 804.4V807.5M179.5 832.3V833.4M180.5 805.3V810.3M180.5 833.9V836.6M181.5 805.7V809.4M181.5 830.6V830.9M182.5 801.3V804.0M182.5 829.6V829.9M183.5 805.8V806.1M183.5 831.0V836.9M184.5 806.0V809.6M184.5 832.7V833.5M185.5 812.1V812.4M185.5 832.1V835.0M186.5 804.2V807.7M186.5 832.4V832.7M187.5 802.8V807.4M187.5 826.9V827.2M188.5 803.0V806.7M188.5 833.3V837.7M189.5 811.4V813.9M189.5 830.7V831.9M190.5 804.6V806.6M190.5 829.8V830.8M191.5 802.1V805.5M191.5 825.9V827.5M192.5 807.5V809.4M192.5 828.7V832.1M193.5 792.8V793.8M193.5 815.0V819.5M194.5 794.8V795.1M194.5 819.4V824.8M195.5 788.6V793.3M195.5 817.0V817.3M196.5 792.0V797.2M196.5 820.5V823.0M197.5 794.5V798.3M197.5 815.8V817.6M198.5 790.1V791.9M198.5 816.6V820.2M199.5 789.8V793.5M199.5 819.3V821.2M200.5 781.4V785.7M200.5 816.6V819.5M201.5 790.6V797.4M201.5 821.0V827.6M202.5 794.2V794.7M202.5 815.2V817.7M203.5 793.1V793.9M203.5 820.8V825.8M204.5 796.9V801.6M204.5 826.1V827.6M205.5 799.8V803.9M205.5 825.8V827.1M206.5 801.0V803.7M206.5 825.6V828.8M207.5 807.6V809.8M207.5 823.4V826.3M208.5 800.6V802.9M208.5 825.2V830.2M209.5 805.1V808.9M209.5 828.3V829.7M210.5 805.9V809.7M210.5 832.2V833.7M211.5 799.0V805.3M211.5 827.5V828.2M212.5 807.6V811.8M212.5 829.8V836.0M213.5 801.1V807.3M213.5 834.3V838.3M214.5 804.4V807.0M214.5 835.6V836.2M215.5 800.4V803.1M215.5 826.5V829.5M216.5 797.7V801.8M216.5 823.4V826.9M217.5 805.6V808.2M217.5 828.3V834.6M218.5 811.5V812.8M218.5 831.9V834.9M219.5 804.0V807.8M219.5 831.9V836.3M220.5 807.3V807.6M220.5 824.9V828.8M221.5 805.5V807.1M221.5 826.8V828.6M222.5 807.2V810.5M222.5 831.0V833.7M223.5 811.3V811.6M223.5 833.5V836.7M224.5 808.0V810.3M224.5 836.6V840.7M225.5 807.8V811.4M225.5 830.7V834.2M226.5 805.7V807.1M226.5 830.4V832.1M227.5 804.8V809.8M227.5 824.4V826.2M228.5 802.4V804.4M228.5 828.4V829.8M229.5 806.6V808.3M229.5 829.0V829.3M230.5 806.1V807.6M230.5 829.8V835.5M231.5 799.1V804.6M231.5 831.0V831.3M232.5 806.3V809.7M232.5 827.6V831.1M233.5 804.1V807.5M233.5 828.5V829.9M234.5 804.4V805.9M234.5 825.6V828.1M235.5 807.9V808.2M235.5 822.5V826.5M236.5 806.7V811.6M236.5 831.8V835.2M237.5 802.4V807.2M237.5 831.8V833.6M238.5 812.5V814.3M238.5 828.3V832.1M239.5 807.4V809.4M239.5 834.1V836.8M240.5 808.4V811.8M240.5 828.3V828.6M241.5 802.7V803.0M241.5 828.4V828.7M242.5 806.7V808.4M242.5 831.1V832.4M243.5 803.3V807.7M243.5 826.6V833.6M244.5 803.8V807.4M244.5 832.5V837.6M245.5 809.7V812.1M245.5 829.8V833.3M246.5 807.8V810.4M246.5 830.5V836.2M247.5 808.9V809.2M247.5 834.9V835.2M248.5 803.5V806.1M248.5 831.7V834.9M249.5 811.2V811.9M249.5 831.8V837.2M250.5 806.6V811.4M250.5 829.7V834.6M251.5 809.2V809.6M251.5 831.3V836.6M252.5 805.0V809.7M252.5 835.6V838.8M253.5 812.5V813.5M253.5 832.7V836.0M254.5 806.1V810.1M254.5 828.6V830.2M255.5 801.8V805.0M255.5 830.9V835.0M256.5 806.0V810.4M256.5 830.3V831.1M257.5 801.7V805.9M257.5 836.5V839.9M258.5 804.6V809.5M258.5 829.3V832.7M259.5 807.4V808.8M259.5 829.0V832.9M260.5 801.0V805.8M260.5 833.2V835.3M261.5 807.0V807.8M261.5 831.3V835.1M262.5 796.8V797.1M262.5 822.6V823.0M263.5 775.5V776.7M263.5 806.5V812.2M264.5 785.1V793.3M264.5 822.5V825.2M265.5 782.3V783.6M265.5 818.3V820.2M266.5 781.4V786.1M266.5 816.7V820.9M267.5 784.4V786.2M267.5 809.7V815.6M268.5 781.6V782.6M268.5 816.7V817.1M269.5 788.9V790.9M269.5 821.3V823.9M270.5 788.0V789.8M270.5 811.5V817.2M271.5 786.4V788.0M271.5 816.9V820.8M272.5 786.9V787.3M272.5 822.2V826.9M273.5 787.5V793.4M273.5 815.6V818.3M274.5 794.7V795.1M274.5 820.5V824.4M275.5 793.9V794.8M275.5 811.5V817.4M276.5 789.0V792.9M276.5 816.4V817.7M277.5 801.0V801.3M277.5 825.3V829.3M278.5 795.4V801.1M278.5 826.8V830.0M279.5 807.0V808.6M279.5 830.1V833.5M280.5 806.6V806.9M280.5 824.8V827.7M281.5 803.6V803.9M281.5 823.2V826.1M282.5 804.6V805.8M282.5 825.5V831.3M283.5 806.2V808.3M283.5 826.9V828.0M284.5 800.2V807.9M284.5 829.7V833.3M285.5 805.7V806.0M285.5 829.7V831.0M286.5 800.8V804.0M286.5 826.9V827.6M287.5 800.0V802.6M287.5 824.9V825.2M288.5 803.4V806.2M288.5 829.1V837.1M289.5 796.1V799.2M289.5 827.2V828.9M290.5 798.6V803.6M290.5 825.3V827.9M291.5 805.0V805.3M291.5 824.5V826.4M292.5 801.2V803.7M292.5 827.0V829.3M293.5 803.6V809.3M293.5 834.9V836.7M294.5 804.2V808.3M294.5 827.9V828.2M295.5 802.1V807.5M295.5 829.3V831.2M296.5 804.6V806.6M296.5 829.2V833.6M297.5 801.5V801.8M297.5 827.6V829.2M298.5 804.7V807.2M298.5 830.7V834.5M299.5 805.0V806.9M299.5 829.5V833.6M300.5 802.9V803.9M300.5 833.0V836.1M301.5 807.1V808.6M301.5 827.8V830.3M302.5 806.2V809.8M302.5 827.8V829.2M303.5 803.1V805.9M303.5 827.3V831.6M304.5 808.8V810.0M304.5 825.4V830.0M305.5 801.4V802.7M305.5 827.7V832.0M306.5 804.4V804.7M306.5 823.9V829.1M307.5 801.7V805.3M307.5 828.9V831.4M308.5 806.5V809.2M308.5 824.2V829.1M309.5 808.3V812.0M309.5 830.8V834.0M310.5 808.3V811.9M310.5 827.6V829.2M311.5 808.2V809.4M311.5 825.6V828.1M312.5 805.9V810.4M312.5 824.3V830.0M313.5 802.5V805.7M313.5 831.1V833.9M314.5 805.5V806.9M314.5 830.5V832.6M315.5 807.2V807.5M315.5 828.6V831.7M316.5 798.9V799.8M316.5 821.5V825.4M317.5 797.8V798.1M317.5 826.3V826.6M318.5 791.1V797.0M318.5 817.5V819.1M319.5 796.5V799.5M319.5 817.0V817.5M320.5 793.7V794.2M320.5 818.9V820.7M321.5 784.5V790.1M321.5 814.7V816.9M322.5 786.3V790.6M322.5 813.3V817.9M323.5 796.3V798.5M323.5 819.1V819.8M324.5 795.8V799.1M324.5 826.3V827.8M325.5 797.3V800.4M325.5 825.0V825.9M326.5 807.4V808.7M326.5 822.8V824.2M327.5 801.9V807.7M327.5 830.8V834.6M328.5 800.6V803.1M328.5 827.4V831.0M329.5 807.2V808.1M329.5 824.6V827.2M330.5 806.5V809.5M330.5 824.2V827.3M331.5 802.7V804.2M331.5 827.4V829.3M332.5 803.0V804.4M332.5 828.6V831.1M333.5 803.7V806.6M333.5 830.8V832.3M334.5 802.8V805.4M334.5 824.2V825.4M335.5 801.7V802.8M335.5 832.5V835.7M336.5 799.1V800.9M336.5 826.4V828.5M337.5 808.8V810.2M337.5 831.1V836.0M338.5 803.8V807.0M338.5 828.8V830.1M339.5 804.7V809.0M339.5 825.3V825.6M340.5 803.4V807.0M340.5 832.4V832.7M341.5 806.4V809.4M341.5 830.6V835.2M342.5 806.9V810.0M342.5 829.6V830.9M343.5 801.9V806.4M343.5 827.2V828.7M344.5 807.3V809.2M344.5 830.3V832.3M345.5 806.0V807.9M345.5 834.3V835.2M346.5 812.7V813.0M346.5 826.6V829.7M347.5 802.7V807.3M347.5 826.1V826.4M348.5 808.3V810.3M348.5 830.6V832.1M349.5 803.9V811.6M349.5 832.6V832.9M350.5 806.2V810.5M350.5 832.5V833.8M351.5 808.1V810.7M351.5 831.1V833.1M352.5 801.9V808.9M352.5 832.8V834.5M353.5 804.5V809.0M353.5 828.2V831.2M354.5 805.6V810.1M354.5 832.0V837.6M355.5 809.8V811.1M355.5 831.6V835.0M356.5 812.0V813.5M356.5 829.6V834.2M357.5 804.3V810.0M357.5 828.3V828.8M358.5 803.4V807.8M358.5 827.3V830.6M359.5 803.5V809.0M359.5 832.6V838.6M360.5 803.8V806.9M360.5 830.4V834.0M361.5 808.9V809.2M361.5 825.5V825.8M362.5 809.4V811.7M362.5 824.5V827.1M363.5 800.3V804.2M363.5 829.8V832.8M364.5 801.0V806.9M364.5 828.9V830.5M365.5 801.1V805.1M365.5 826.0V829.9M366.5 802.9V806.6M366.5 828.2V829.4M367.5 804.4V805.9M367.5 826.9V827.2M368.5 804.3V807.7M368.5 830.0V832.6M369.5 805.1V805.6M369.5 830.8V833.4M370.5 803.4V806.7M370.5 829.4V832.8M371.5 806.3V809.6M371.5 828.3V830.9M372.5 800.0V804.7M372.5 829.1V832.1M373.5 803.0V805.9M373.5 822.7V825.6M374.5 800.1V800.7M374.5 823.4V828.4M375.5 792.5V797.5M375.5 825.3V825.6M376.5 797.7V801.6M376.5 824.7V830.2M377.5 800.6V803.4M377.5 827.3V832.2M378.5 804.3V805.9M378.5 831.2V834.7M379.5 802.5V806.3M379.5 824.3V827.2M380.5 804.8V808.3M380.5 836.7V839.6M381.5 810.5V812.4M381.5 833.9V838.2M382.5 812.1V812.4M382.5 832.0V833.7M383.5 809.9V811.7M383.5 827.7V828.0M384.5 802.7V806.0M384.5 828.2V829.7M385.5 805.6V807.5M385.5 829.7V832.7M386.5 801.5V804.5M386.5 826.6V831.2M387.5 796.6V801.7M387.5 830.7V834.7M388.5 808.7V810.2M388.5 827.0V828.3M389.5 805.2V807.2M389.5 826.3V829.2M390.5 807.8V809.5M390.5 832.9V833.2M391.5 805.7V807.4M391.5 830.3V833.3M392.5 804.1V808.7M392.5 830.7V832.8M393.5 806.6V806.9M393.5 828.7V829.0M394.5 806.4V807.9M394.5 830.6V831.6M395.5 801.8V803.4M395.5 826.2V829.4M396.5 802.1V807.4M396.5 829.5V836.2M397.5 807.6V810.7M397.5 830.8V831.1M398.5 810.3V812.9M398.5 830.7V833.6M399.5 812.3V812.6M399.5 833.0V835.8M400.5 806.5V810.2M400.5 832.8V836.1M401.5 806.3V807.5M401.5 828.5V831.8M402.5 805.9V808.5M402.5 830.9V831.8M403.5 809.7V812.7M403.5 836.5V840.4M404.5 808.3V810.2M404.5 832.1V836.4M405.5 808.9V809.2M405.5 830.9V832.2M406.5 803.3V806.2M406.5 825.3V828.2M407.5 802.4V807.7M407.5 828.7V832.4M408.5 805.6V805.9M408.5 826.5V830.9M409.5 804.1V807.3M409.5 834.0V836.1M410.5 805.2V808.5M410.5 832.3V836.7M411.5 807.5V810.7M411.5 828.2V828.5M412.5 802.7V806.9M412.5 828.4V832.3M413.5 808.2V810.2M413.5 833.8V834.6M414.5 807.1V810.6M414.5 829.7V834.8M415.5 807.9V809.9M415.5 832.7V836.6M416.5 806.4V807.8M416.5 830.3V833.0M417.5 807.3V808.6M417.5 834.0V836.2M418.5 808.4V809.8M418.5 829.0V831.2M419.5 808.7V810.1M419.5 832.1V833.8M420.5 811.3V815.2M420.5 828.8V832.3M421.5 809.5V813.6M421.5 831.6V834.2M422.5 805.0V809.5M422.5 827.8V829.4M423.5 806.7V810.4M423.5 828.4V831.0M424.5 811.6V814.4M424.5 830.7V835.3M425.5 805.1V810.5M425.5 831.4V833.5M426.5 810.2V812.9M426.5 830.7V833.4M427.5 809.3V810.1M427.5 832.5V834.2M428.5 811.1V811.5M428.5 828.1V829.7M429.5 809.3V809.6M429.5 830.1V830.6M430.5 808.9V809.5M430.5 833.6V836.3M431.5 806.3V808.1M431.5 827.4V827.7M432.5 807.4V807.8M432.5 834.8V838.3M433.5 803.8V808.7M433.5 830.9V834.8M434.5 803.4V805.2M434.5 832.8V836.7M435.5 810.1V811.0M435.5 834.4V835.3M436.5 806.3V813.5M436.5 836.8V838.6M437.5 813.9V815.0M437.5 830.9V831.9M438.5 808.7V811.6M438.5 832.0V833.8M439.5 806.7V807.0M439.5 825.7V830.1M440.5 809.9V811.8M440.5 828.2V833.7M441.5 808.2V808.9M441.5 829.1V833.9M442.5 811.2V812.0M442.5 833.3V836.5M443.5 802.8V804.5M443.5 829.7V830.0M444.5 812.3V814.6M444.5 832.4V836.7M445.5 804.4V808.2M445.5 834.3V837.0M446.5 806.3V810.3M446.5 831.7V832.2M447.5 806.9V808.8M447.5 832.1V833.5M448.5 805.5V811.7M448.5 831.7V836.7M449.5 806.6V807.9M449.5 829.8V831.2M450.5 807.2V810.8M450.5 828.6V831.1M451.5 809.1V812.7M451.5 833.0V833.6M452.5 807.2V810.4M452.5 834.3V836.3M453.5 808.2V809.6M453.5 835.2V836.5M454.5 809.0V810.2M454.5 829.0V832.5M455.5 812.8V813.1M455.5 830.1V834.3M456.5 804.7V809.8M456.5 833.8V834.1M457.5 809.8V810.8M457.5 831.7V832.0M458.5 804.2V808.1M458.5 828.3V830.9M459.5 804.7V807.6M459.5 823.9V824.6M460.5 796.6V803.4M460.5 833.3V834.7M461.5 805.6V807.1M461.5 830.4V833.4M462.5 803.6V806.9M462.5 835.5V840.5M463.5 798.9V803.5M463.5 823.7V830.6M464.5 800.7V804.6M464.5 826.6V829.0M465.5 804.4V808.5M465.5 830.9V833.9M466.5 799.5V804.5M466.5 827.6V832.4M467.5 803.5V807.6M467.5 829.6V831.1M468.5 808.2V808.6M468.5 831.4V835.2M469.5 805.9V806.9M469.5 830.5V833.1M470.5 802.7V805.1M470.5 826.4V826.7M471.5 805.3V805.8M471.5 832.4V834.9M472.5 801.5V804.2M472.5 828.5V830.1M473.5 799.7V800.6M473.5 832.7V835.3M474.5 803.6V805.8M474.5 823.4V828.9M475.5 793.8V798.9M475.5 824.9V825.2M476.5 797.6V802.5M476.5 824.2V826.7M477.5 801.3V804.1M477.5 831.3V833.9M478.5 801.1V804.2M478.5 824.3V825.1M479.5 801.0V802.7M479.5 827.3V835.4M480.5 797.5V800.6M480.5 826.7V830.4M481.5 808.3V810.3M481.5 833.2V837.7M482.5 803.8V806.7M482.5 827.7V828.6M483.5 803.4V806.0M483.5 832.4V833.6M484.5 803.9V808.2M484.5 829.7V831.1M485.5 801.8V806.9M485.5 828.4V829.7M486.5 805.4V810.3M486.5 833.7V837.4M487.5 806.1V809.4M487.5 831.1V832.4M488.5 805.6V809.4M488.5 831.7V834.2M489.5 807.1V807.4M489.5 829.0V831.5M490.5 804.5V806.5M490.5 830.3V832.7M491.5 807.5V810.9M491.5 829.1V829.4M492.5 805.2V806.0M492.5 831.5V837.6M493.5 805.8V810.0M493.5 830.0V830.3M494.5 808.4V810.3M494.5 829.1V833.8M495.5 808.8V811.4M495.5 834.4V836.4M496.5 808.6V812.6M496.5 834.3V835.5M497.5 803.7V807.1M497.5 831.5V833.0M498.5 805.9V809.3M498.5 835.5V836.0M499.5 809.3V815.2M499.5 832.8V834.8M500.5 806.5V808.0M500.5 835.5V840.5M501.5 808.7V809.0M501.5 833.4V833.7M502.5 811.9V812.2M502.5 830.6V831.1M503.5 809.4V811.2M503.5 824.7V828.6M504.5 805.4V806.8M504.5 829.7V832.7M505.5 805.8V806.1M505.5 831.3V840.4M506.5 807.4V809.9M506.5 827.7V830.7M507.5 805.2V807.0M507.5 830.5V833.1M508.5 798.8V801.6M508.5 828.9V835.0M509.5 791.9V798.8M509.5 822.4V823.8M510.5 786.0V791.9M510.5 818.8V828.6M511.5 792.1V797.7M511.5 823.9V829.2M512.5 787.6V789.9M512.5 823.5V825.6M513.5 785.3V789.3M513.5 827.3V830.6M514.5 793.0V793.4M514.5 819.5V822.9M515.5 794.3V797.9M515.5 826.5V828.0M516.5 794.8V798.0M516.5 825.4V827.7M517.5 791.1V793.2M517.5 825.4V829.9M518.5 797.8V798.2M518.5 825.9V831.8M519.5 788.2V791.1M519.5 820.3V823.5M520.5 793.3V793.7M520.5 827.4V831.8M521.5 802.5V804.1M521.5 824.3V824.6M522.5 804.1V804.6M522.5 829.9V833.2M523.5 805.2V808.3M523.5 820.9V825.7M524.5 810.3V810.8M524.5 831.0V834.8M525.5 805.1V811.5M525.5 827.0V829.2M526.5 803.1V803.9M526.5 830.3V835.7M527.5 805.6V807.0M527.5 822.7V823.4M528.5 801.8V804.0M528.5 828.3V829.8M529.5 806.7V807.6M529.5 826.9V830.3M530.5 802.8V803.9M530.5 826.4V828.9M531.5 804.3V807.0M531.5 827.3V828.6M532.5 802.0V802.7M532.5 828.7V831.6M533.5 801.3V804.3M533.5 830.5V834.9M534.5 804.1V807.1M534.5 819.8V823.2M535.5 802.5V803.7M535.5 828.4V830.7M536.5 805.1V808.0M536.5 829.6V834.0M537.5 802.0V805.2M537.5 824.1V827.6M538.5 799.7V805.0M538.5 823.2V825.8M539.5 802.8V805.4M539.5 826.8V829.6M540.5 810.0V810.6M540.5 834.6V837.2M541.5 805.9V806.8M541.5 828.2V828.5M542.5 803.6V806.3M542.5 823.9V824.4M543.5 802.0V806.2M543.5 832.9V835.3M544.5 806.5V807.9M544.5 830.1V831.5M545.5 806.4V809.9M545.5 827.2V830.7M546.5 795.0V801.8M546.5 832.7V836.8M547.5 807.7V808.5M547.5 828.8V831.8M548.5 798.3V805.4M548.5 827.8V829.2M549.5 811.4V811.7M549.5 832.2V838.8M550.5 803.5V806.7M550.5 830.3V834.6M551.5 807.3V811.1M551.5 826.0V827.3M552.5 804.4V806.4M552.5 827.6V827.9M553.5 802.4V805.7M553.5 828.6V833.3M554.5 801.2V803.1M554.5 823.7V824.9M555.5 806.0V806.7M555.5 829.8V832.1M556.5 802.7V804.5M556.5 829.1V833.2M557.5 803.6V808.5M557.5 830.0V835.1M558.5 805.6V812.0M558.5 824.3V824.6M559.5 809.9V810.2M559.5 834.5V839.4M560.5 808.0V810.0M560.5 826.9V827.8M561.5 805.6V810.5M561.5 829.2V835.4M562.5 806.6V806.9M562.5 825.2V828.9M563.5 806.3V808.0M563.5 832.5V839.2M564.5 806.5V809.2M564.5 830.7V831.2M565.5 799.0V802.7M565.5 827.4V831.0M566.5 804.4V806.1M566.5 833.0V835.4M567.5 802.5V805.9M567.5 825.1V829.1M568.5 803.5V806.3M568.5 823.5V825.6M569.5 796.4V799.2M569.5 829.7V832.6M570.5 801.4V806.4M570.5 825.1V825.4M571.5 793.6V797.6M571.5 826.0V827.1M572.5 806.2V807.0M572.5 827.9V833.6M573.5 806.5V807.4M573.5 824.0V826.5M574.5 800.1V802.2M574.5 826.6V826.9M575.5 803.8V807.0M575.5 827.3V833.7M576.5 803.5V806.4M576.5 824.8V828.5M577.5 804.6V806.2M577.5 823.5V824.2M578.5 802.5V802.8M578.5 829.5V831.6M579.5 804.4V805.8M579.5 826.7V832.4M580.5 801.1V805.8M580.5 827.6V831.1M581.5 805.8V806.2M581.5 828.1V832.7M582.5 802.4V805.1M582.5 824.2V829.2M583.5 804.5V807.0M583.5 827.6V831.6M584.5 806.0V807.3M584.5 829.4V831.3M585.5 797.4V801.3M585.5 827.0V827.6M586.5 805.3V807.3M586.5 827.7V830.1M587.5 805.5V807.4M587.5 831.8V832.9M588.5 803.3V804.3M588.5 827.0V827.6M589.5 807.9V808.2M589.5 831.5V831.8M590.5 805.5V806.9M590.5 829.0V832.9M591.5 810.5V812.4M591.5 832.1V835.3M592.5 800.2V804.1M592.5 828.0V830.4M593.5 802.0V805.5M593.5 827.1V830.2M594.5 802.6V806.5M594.5 829.1V834.6M595.5 795.1V800.6M595.5 824.3V826.0M596.5 808.1V812.0M596.5 829.6V832.1M597.5 811.5V815.1M597.5 830.0V831.4M598.5 805.5V808.0M598.5 825.9V829.2M599.5 808.4V808.7M599.5 828.5V829.7M600.5 806.4V809.3M600.5 826.9V827.5M601.5 806.9V810.2M601.5 832.6V836.4M602.5 811.2V813.2M602.5 826.9V830.1M603.5 806.5V808.5M603.5 831.3V833.8M604.5 807.1V809.3M604.5 829.6V832.6M605.5 800.6V805.1M605.5 829.6V832.8M606.5 800.7V804.6M606.5 828.7V831.0M607.5 803.3V805.5M607.5 824.7V827.0M608.5 807.9V811.2M608.5 827.6V830.1M609.5 807.1V809.3M609.5 823.3V829.7M610.5 807.1V811.6M610.5 831.2V833.4M611.5 806.1V806.4M611.5 827.2V829.6M612.5 809.7V813.4M612.5 829.8V833.3M613.5 804.9V806.9M613.5 826.3V832.7M614.5 802.4V805.4M614.5 828.5V828.8M615.5 801.7V804.6M615.5 834.3V835.7M616.5 798.9V802.5M616.5 829.5V831.0M617.5 803.3V804.9M617.5 827.1V829.3M618.5 807.0V808.8M618.5 826.4V830.6M619.5 800.2V804.3M619.5 825.3V829.9M620.5 798.9V802.5M620.5 824.8V828.5M621.5 797.9V802.8M621.5 826.5V827.5M622.5 807.0V809.7M622.5 832.4V837.7M623.5 809.0V810.2M623.5 834.7V836.9M624.5 805.0V806.9M624.5 834.6V837.2M625.5 803.7V807.5M625.5 827.6V832.6" stroke-opacity="0.35"/>
<path d="M72.5 794.4V797.0M72.5 812.8V817.0M73.5 789.2V793.3M73.5 814.7V816.9M74.5 787.8V789.6M74.5 809.6V812.0M75.5 788.8V792.8M75.5 809.2V813.9M76.5 784.3V791.8M76.5 811.5V816.2M77.5 789.5V793.7M77.5 812.8V816.5M78.5 797.2V798.5M78.5 813.3V817.6M79.5 798.6V802.1M79.5 818.5V822.3M80.5 798.1V803.1M80.5 820.4V820.8M81.5 800.4V801.8M81.5 820.1V822.7M82.5 795.2V797.7M82.5 818.4V823.2M83.5 796.0V802.3M83.5 817.7V822.8M84.5 798.9V803.0M84.5 821.5V827.1M85.5 804.2V808.6M85.5 819.1V821.7M86.5 800.9V805.3M86.5 821.3V826.4M87.5 810.1V810.4M87.5 824.1V828.4M88.5 807.6V812.1M88.5 825.5V830.5M89.5 803.9V811.9M89.5 822.8V826.1M90.5 805.1V811.7M90.5 825.8V826.1M91.5 803.3V807.9M91.5 829.5V830.9M92.5 804.0V809.6M92.5 825.9V829.0M93.5 807.2V807.5M93.5 823.0V826.3M94.5 802.8V808.1M94.5 820.8V825.7M95.5 803.1V807.3M95.5 824.1V829.1M96.5 804.1V806.9M96.5 820.3V824.3M97.5 801.3V803.3M97.5 823.2V827.1M98.5 806.3V811.6M98.5 825.9V830.6M99.5 809.1V809.4M99.5 827.7V832.9M100.5 807.7V810.8M100.5 827.2V830.2M101.5 809.1V811.3M101.5 825.5V827.1M102.5 807.1V810.8M102.5 822.5V826.4M103.5 804.9V809.3M103.5 821.7V827.6M104.5 806.9V809.7M104.5 825.8V828.5M105.5 809.0V811.9M105.5 822.1V824.2M106.5 807.0V810.7M106.5 827.4V830.0M107.5 813.3V814.0M107.5 827.0V831.1M108.5 800.7V805.9M108.5 822.5V825.9M109.5 803.9V810.1M109.5 823.2V827.4M110.5 803.9V807.3M110.5 824.6V825.4M111.5 805.0V806.9M111.5 824.5V830.1M112.5 799.5V804.6M112.5 823.5V827.2M113.5 804.3V806.0M113.5 821.7V824.2M114.5 808.3V811.7M114.5 824.0V828.4M115.5 806.8V810.7M115.5 826.0V828.2M116.5 811.7V812.5M116.5 830.8V836.4M117.5 804.8V807.3M117.5 826.9V828.8M118.5 803.7V804.3M118.5 820.7V822.5M119.5 809.3V810.5M119.5 823.8V824.6M120.5 805.1V806.7M120.5 825.3V831.3M121.5 811.2V811.5M121.5 827.2V830.5M122.5 808.8V811.5M122.5 829.4V833.9M123.5 804.3V808.7M123.5 831.1V836.9M124.5 802.7V806.0M124.5 827.0V830.8M125.5 805.6V810.4M125.5 826.8V832.0M126.5 804.7V807.6M126.5 822.9V823.7M127.5 805.1V806.8M127.5 825.6V830.2M128.5 806.1V810.1M128.5 823.1V825.4M129.5 804.1V805.2M129.5 821.8V824.5M130.5 806.4V810.1M130.5 823.2V826.7M131.5 807.7V808.1M131.5 825.3V827.5M132.5 813.3V814.3M132.5 831.0V832.7M133.5 805.9V810.4M133.5 822.3V824.6M134.5 803.7V806.4M134.5 825.7V830.4M135.5 809.9V813.6M135.5 828.5V832.8M136.5 807.3V813.3M136.5 827.5V827.8M137.5 807.8V809.9M137.5 825.3V825.6M138.5 807.2V810.4M138.5 823.3V828.0M139.5 806.0V810.0M139.5 826.5V830.6M140.5 806.1V809.1M140.5 822.9V824.1M141.5 806.0V807.8M141.5 824.9V826.4M142.5 803.6V806.5M142.5 825.9V826.9M143.5 807.6V809.5M143.5 827.3V831.9M144.5 808.5V809.8M144.5 829.2V831.8M145.5 807.3V808.3M145.5 825.6V829.0M146.5 809.6V809.9M146.5 824.8V826.1M147.5 807.7V808.0M147.5 821.2V826.4M148.5 802.2V807.1M148.5 821.6V825.3M149.5 800.7V805.4M149.5 825.0V827.1M150.5 808.1V810.2M150.5 825.6V828.6M151.5 805.1V809.5M151.5 821.3V822.4M152.5 806.6V810.9M152.5 826.2V831.1M153.5 809.8V811.6M153.5 825.9V830.4M154.5 805.4V809.0M154.5 824.9V826.8M155.5 805.1V808.7M155.5 818.0V819.9M156.5 802.1V804.4M156.5 823.0V823.5M157.5 797.4V803.3M157.5 822.8V824.7M158.5 806.8V809.1M158.5 822.5V824.4M159.5 803.8V807.8M159.5 824.7V827.0M160.5 806.6V808.6M160.5 824.4V828.4M161.5 805.2V810.6M161.5 822.5V826.1M162.5 802.6V806.4M162.5 825.6V829.8M163.5 806.2V811.0M163.5 823.8V825.9M164.5 802.7V805.8M164.5 823.3V824.7M165.5 801.3V806.0M165.5 825.0V828.2M166.5 803.3V807.3M166.5 821.9V824.0M167.5 805.7V809.3M167.5 826.9V829.7M168.5 811.9V815.0M168.5 827.2V830.4M169.5 812.9V814.0M169.5 827.7V833.2M170.5 805.7V809.1M170.5 828.7V833.3M171.5 809.6V811.6M171.5 830.1V832.1M172.5 811.0V813.3M172.5 828.5V830.6M173.5 808.1V813.3M173.5 825.6V828.6M174.5 809.5V813.6M174.5 827.5V830.7M175.5 805.8V810.8M175.5 828.0V832.6M176.5 807.6V810.3M176.5 826.2V831.4M177.5 808.4V808.7M177.5 822.1V825.7M178.5 808.6V811.2M178.5 823.6V825.9M179.5 807.5V809.9M179.5 829.9V832.3M180.5 810.3V817.3M180.5 830.2V833.9M181.5 809.4V814.0M181.5 826.5V830.6M182.5 804.0V808.3M182.5 825.7V829.6M183.5 806.1V810.3M183.5 827.0V831.0M184.5 809.6V811.0M184.5 830.3V832.7M185.5 812.4V815.6M185.5 830.0V832.1M186.5 807.7V811.0M186.5 829.5V832.4M187.5 807.4V809.5M187.5 825.5V826.9M188.5 806.7V808.9M188.5 829.8V833.3M189.5 813.9V815.1M189.5 828.9V830.7M190.5 806.6V811.8M190.5 828.7V829.8M191.5 805.5V811.5M191.5 823.9V825.9M192.5 809.4V810.3M192.5 823.9V828.7M193.5 793.8V796.3M193.5 809.4V815.0M194.5 795.1V797.5M194.5 815.4V819.4M195.5 793.3V795.7M195.5 815.3V817.0M196.5 797.2V801.4M196.5 816.6V820.5M197.5 798.3V798.6M197.5 815.1V815.8M198.5 791.9V796.5M198.5 813.3V816.6M199.5 793.5V798.5M199.5 818.9V819.3M200.5 785.7V788.8M200.5 814.3V816.6M201.5 797.4V802.3M201.5 816.6V821.0M202.5 794.7V796.4M202.5 813.1V815.2M203.5 793.9V798.3M203.5 818.5V820.8M204.5 801.6V806.6M204.5 820.6V826.1M205.5 803.9V805.7M205.5 822.0V825.8M206.5 803.7V807.0M206.5 823.3V825.6M207.5 809.8V811.2M207.5 821.2V823.4M208.5 802.9V807.1M208.5 824.5V825.2M209.5 808.9V811.6M209.5 825.7V828.3M210.5 809.7V812.1M210.5 827.1V832.2M211.5 805.3V808.5M211.5 825.7V827.5M212.5 811.8V813.5M212.5 827.6V829.8M213.5 807.3V813.2M213.5 830.6V834.3M214.5 807.0V812.0M214.5 828.9V835.6M215.5 803.1V807.5M215.5 823.7V826.5M216.5 801.8V803.9M216.5 822.5V823.4M217.5 808.2V812.8M217.5 826.2V828.3M218.5 812.8V813.6M218.5 825.7V831.9M219.5 807.8V810.5M219.5 827.5V831.9M220.5 807.6V810.7M220.5 823.6V824.9M221.5 807.1V809.8M221.5 823.9V826.8M222.5 810.5V812.9M222.5 828.5V831.0M223.5 811.6V814.1M223.5 826.9V833.5M224.5 810.3V813.3M224.5 831.9V836.6M225.5 811.4V813.4M225.5 827.4V830.7M226.5 807.1V811.6M226.5 828.0V830.4M227.5 809.8V812.6M227.5 823.8V824.4M228.5 804.4V807.6M228.5 823.1V828.4M229.5 808.3V812.5M229.5 826.5V829.0M230.5 807.6V811.0M230.5 826.9V829.8M231.5 804.6V811.8M231.5 825.8V831.0M232.5 809.7V811.4M232.5 822.9V827.6M233.5 807.5V808.4M233.5 825.8V828.5M234.5 805.9V811.2M234.5 824.5V825.6M235.5 808.2V811.8M235.5 822.2V822.5M236.5 811.6V816.4M236.5 826.9V831.8M237.5 807.2V813.7M237.5 828.3V831.8M238.5 814.3V816.9M238.5 826.0V828.3M239.5 809.4V816.0M239.5 829.3V834.1M240.5 811.8V815.9M240.5 826.5V828.3M241.5 803.0V809.5M241.5 826.1V828.4M242.5 808.4V808.7M242.5 827.4V831.1M243.5 807.7V811.9M243.5 826.1V826.6M244.5 807.4V811.1M244.5 829.1V832.5M245.5 812.1V816.0M245.5 827.7V829.8M246.5 810.4V815.1M246.5 830.2V830.5M247.5 809.2V812.0M247.5 830.8V834.9M248.5 806.1V810.4M248.5 827.5V831.7M249.5 811.9V812.2M249.5 828.6V831.8M250.5 811.4V814.7M250.5 827.8V829.7M251.5 809.6V811.1M251.5 827.3V831.3M252.5 809.7V811.2M252.5 828.7V835.6M253.5 813.5V815.5M253.5 831.0V832.7M254.5 810.1V810.7M254.5 827.3V828.6M255.5 805.0V810.1M255.5 830.0V830.9M256.5 810.4V814.7M256.5 827.1V830.3M257.5 805.9V809.1M257.5 830.3V836.5M258.5 809.5V812.1M258.5 827.4V829.3M259.5 808.8V813.2M259.5 827.4V829.0M260.5 805.8V809.3M260.5 828.2V833.2M261.5 807.8V813.4M261.5 828.3V831.3M262.5 797.1V801.5M262.5 817.9V822.6M263.5 776.7V781.7M263.5 806.0V806.5M264.5 793.3V798.0M264.5 815.5V822.5M265.5 783.6V789.4M265.5 814.6V818.3M266.5 786.1V791.3M266.5 811.5V816.7M267.5 786.2V789.8M267.5 805.0V809.7M268.5 782.6V786.7M268.5 816.3V816.7M269.5 790.9V797.9M269.5 817.5V821.3M270.5 789.8V794.5M270.5 809.5V811.5M271.5 788.0V790.3M271.5 814.4V816.9M272.5 787.3V791.0M272.5 818.0V822.2M273.5 793.4V794.3M273.5 815.2V815.6M274.5 795.1V799.1M274.5 815.0V820.5M275.5 794.8V796.9M275.5 808.4V811.5M276.5 792.9V800.0M276.5 811.1V816.4M277.5 801.3V805.1M277.5 820.7V825.3M278.5 801.1V806.1M278.5 822.1V826.8M279.5 808.6V811.7M279.5 824.2V830.1M280.5 806.9V808.2M280.5 823.8V824.8M281.5 803.9V809.6M281.5 822.6V823.2M282.5 805.8V808.3M282.5 823.5V825.5M283.5 808.3V809.2M283.5 823.5V826.9M284.5 807.9V810.5M284.5 825.6V829.7M285.5 806.0V809.0M285.5 825.1V829.7M286.5 804.0V806.8M286.5 825.7V826.9M287.5 802.6V806.0M287.5 821.0V824.9M288.5 806.2V808.6M288.5 825.5V829.1M289.5 799.2V803.2M289.5 823.0V827.2M290.5 803.6V807.6M290.5 821.7V825.3M291.5 805.3V808.4M291.5 821.7V824.5M292.5 803.7V809.0M292.5 824.6V827.0M293.5 809.3V812.4M293.5 829.4V834.9M294.5 808.3V810.6M294.5 825.5V827.9M295.5 807.5V808.7M295.5 824.9V829.3M296.5 806.6V810.0M296.5 825.7V829.2M297.5 801.8V808.7M297.5 824.4V827.6M298.5 807.2V808.7M298.5 827.3V830.7M299.5 806.9V810.9M299.5 825.1V829.5M300.5 803.9V809.1M300.5 827.1V833.0M301.5 808.6V811.3M301.5 825.1V827.8M302.5 809.8V811.2M302.5 823.7V827.8M303.5 805.9V812.6M303.5 823.1V827.3M304.5 810.0V812.0M304.5 823.9V825.4M305.5 802.7V808.5M305.5 823.5V827.7M306.5 804.7V808.7M306.5 823.1V823.9M307.5 805.3V809.3M307.5 828.6V828.9M308.5 809.2V811.8M308.5 822.9V824.2M309.5 812.0V812.7M309.5 828.9V830.8M310.5 811.9V814.0M310.5 823.8V827.6M311.5 809.4V810.1M311.5 824.3V825.6M312.5 810.4V810.7M312.5 822.8V824.3M313.5 805.7V807.7M313.5 826.7V831.1M314.5 806.9V812.1M314.5 827.1V830.5M315.5 807.5V810.9M315.5 827.1V828.6M316.5 799.8V803.9M316.5 816.2V821.5M317.5 798.1V801.0M317.5 820.8V826.3M318.5 797.0V801.7M318.5 817.0V817.5M319.5 799.5V799.8M319.5 813.9V817.0M320.5 794.2V795.9M320.5 815.5V818.9M321.5 790.1V792.3M321.5 812.7V814.7M322.5 790.6V797.0M322.5 812.2V813.3M323.5 798.5V802.5M323.5 818.7V819.1M324.5 799.1V802.4M324.5 823.9V826.3M325.5 800.4V805.5M325.5 821.7V825.0M326.5 808.7V810.9M326.5 822.0V822.8M327.5 807.7V808.0M327.5 825.2V830.8M328.5 803.1V805.5M328.5 823.3V827.4M329.5 808.1V809.9M329.5 822.3V824.6M330.5 809.5V811.3M330.5 821.2V824.2M331.5 804.2V808.4M331.5 823.5V827.4M332.5 804.4V808.0M332.5 825.9V828.6M333.5 806.6V810.2M333.5 828.8V830.8M334.5 805.4V808.1M334.5 820.5V824.2M335.5 802.8V808.6M335.5 829.6V832.5M336.5 800.9V805.7M336.5 823.3V826.4M337.5 810.2V813.5M337.5 825.6V831.1M338.5 807.0V811.4M338.5 825.1V828.8M339.5 809.0V813.0M339.5 824.2V825.3M340.5 807.0V809.9M340.5 828.7V832.4M341.5 809.4V812.2M341.5 826.5V830.6M342.5 810.0V811.6M342.5 826.4V829.6M343.5 806.4V810.1M343.5 824.9V827.2M344.5 809.2V812.5M344.5 825.7V830.3M345.5 807.9V810.6M345.5 830.0V834.3M346.5 813.0V814.8M346.5 825.9V826.6M347.5 807.3V807.6M347.5 822.8V826.1M348.5 810.3V813.7M348.5 825.3V830.6M349.5 811.6V815.9M349.5 830.9V832.6M350.5 810.5V812.0M350.5 831.7V832.5M351.5 810.7V812.3M351.5 828.8V831.1M352.5 808.9V809.9M352.5 829.8V832.8M353.5 809.0V811.6M353.5 826.6V828.2M354.5 810.1V812.7M354.5 826.3V832.0M355.5 811.1V813.5M355.5 829.8V831.6M356.5 813.5V814.8M356.5 827.9V829.6M357.5 810.0V811.5M357.5 826.0V828.3M358.5 807.8V811.0M358.5 824.8V827.3M359.5 809.0V811.2M359.5 827.9V832.6M360.5 806.9V809.3M360.5 827.2V830.4M361.5 809.2V810.8M361.5 824.4V825.5M362.5 811.7V812.3M362.5 824.2V824.5M363.5 804.2V808.4M363.5 824.8V829.8M364.5 806.9V809.6M364.5 825.8V828.9M365.5 805.1V808.7M365.5 825.7V826.0M366.5 806.6V811.0M366.5 826.2V828.2M367.5 805.9V807.7M367.5 824.1V826.9M368.5 807.7V810.1M368.5 827.3V830.0M369.5 805.6V808.8M369.5 827.2V830.8M370.5 806.7V810.0M370.5 825.8V829.4M371.5 809.6V811.6M371.5 824.9V828.3M372.5 804.7V809.3M372.5 824.9V829.1M373.5 805.9V810.4M373.5 820.3V822.7M374.5 800.7V803.4M374.5 820.3V823.4M375.5 797.5V803.8M375.5 823.5V825.3M376.5 801.6V806.7M376.5 824.4V824.7M377.5 803.4V808.3M377.5 825.1V827.3M378.5 805.9V808.8M378.5 827.6V831.2M379.5 806.3V810.9M379.5 824.0V824.3M380.5 808.3V812.5M380.5 830.0V836.7M381.5 812.4V814.6M381.5 832.3V833.9M382.5 812.4V815.9M382.5 828.1V832.0M383.5 811.7V817.0M383.5 823.9V827.7M384.5 806.0V809.3M384.5 826.2V828.2M385.5 807.5V807.8M385.5 828.5V829.7M386.5 804.5V806.9M386.5 825.2V826.6M387.5 801.7V804.6M387.5 827.4V830.7M388.5 810.2V810.5M388.5 824.3V827.0M389.5 807.2V811.2M389.5 824.9V826.3M390.5 809.5V811.6M390.5 827.5V832.9M391.5 807.4V810.1M391.5 825.1V830.3M392.5 808.7V811.0M392.5 825.4V830.7M393.5 806.9V811.0M393.5 827.5V828.7M394.5 807.9V811.7M394.5 828.5V830.6M395.5 803.4V805.3M395.5 825.4V826.2M396.5 807.4V809.1M396.5 826.7V829.5M397.5 810.7V813.1M397.5 827.5V830.8M398.5 812.9V815.5M398.5 829.6V830.7M399.5 812.6V816.0M399.5 829.1V833.0M400.5 810.2V814.5M400.5 828.1V832.8M401.5 807.5V811.0M401.5 826.0V828.5M402.5 808.5V812.5M402.5 829.5V830.9M403.5 812.7V813.1M403.5 831.7V836.5M404.5 810.2V810.8M404.5 829.7V832.1M405.5 809.2V811.1M405.5 827.3V830.9M406.5 806.2V810.3M406.5 823.6V825.3M407.5 807.7V812.3M407.5 826.2V828.7M408.5 805.9V809.8M408.5 823.2V826.5M409.5 807.3V810.1M409.5 828.9V834.0M410.5 808.5V811.0M410.5 828.4V832.3M411.5 810.7V813.0M411.5 823.6V828.2M412.5 806.9V811.0M412.5 828.1V828.4M413.5 810.2V813.7M413.5 831.9V833.8M414.5 810.6V812.3M414.5 827.3V829.7M415.5 809.9V814.5M415.5 828.7V832.7M416.5 807.8V812.0M416.5 829.3V830.3M417.5 808.6V810.6M417.5 830.5V834.0M418.5 809.8V811.3M418.5 826.9V829.0M419.5 810.1V813.5M419.5 829.9V832.1M420.5 815.2V815.9M420.5 828.5V828.8M421.5 813.6V814.6M421.5 827.1V831.6M422.5 809.5V812.5M422.5 825.4V827.8M423.5 810.4V813.6M423.5 826.6V828.4M424.5 814.4V816.0M424.5 829.1V830.7M425.5 810.5V813.3M425.5 827.9V831.4M426.5 812.9V813.2M426.5 828.3V830.7M427.5 810.1V816.5M427.5 829.7V832.5M428.5 811.5V814.9M428.5 827.5V828.1M429.5 809.6V812.9M429.5 826.8V830.1M430.5 809.5V812.7M430.5 829.9V833.6M431.5 808.1V810.5M431.5 827.1V827.4M432.5 807.8V812.0M432.5 829.6V834.8M433.5 808.7V810.7M433.5 827.0V830.9M434.5 805.2V808.3M434.5 830.3V832.8M435.5 811.0V812.4M435.5 830.5V834.4M436.5 813.5V816.3M436.5 833.2V836.8M437.5 815.0V817.3M437.5 829.4V830.9M438.5 811.6V814.2M438.5 830.2V832.0M439.5 807.0V813.3M439.5 824.0V825.7M440.5 811.8V814.9M440.5 826.9V828.2M441.5 808.9V812.6M441.5 827.2V829.1M442.5 812.0V815.4M442.5 828.2V833.3M443.5 804.5V807.7M443.5 829.4V829.7M444.5 814.6V817.7M444.5 831.1V832.4M445.5 808.2V811.1M445.5 829.3V834.3M446.5 810.3V813.5M446.5 829.6V831.7M447.5 808.8V812.8M447.5 829.5V832.1M448.5 811.7V813.4M448.5 829.7V831.7M449.5 807.9V812.3M449.5 829.0V829.8M450.5 810.8V812.7M450.5 826.5V828.6M451.5 812.7V813.9M451.5 832.7V833.0M452.5 810.4V814.3M452.5 831.4V834.3M453.5 809.6V814.7M453.5 831.2V835.2M454.5 810.2V815.5M454.5 828.2V829.0M455.5 813.1V815.5M455.5 828.2V830.1M456.5 809.8V811.7M456.5 829.8V833.8M457.5 810.8V814.3M457.5 831.4V831.7M458.5 808.1V811.6M458.5 824.5V828.3M459.5 807.6V808.5M459.5 822.3V823.9M460.5 803.4V806.3M460.5 828.4V833.3M461.5 807.1V810.5M461.5 827.3V830.4M462.5 806.9V807.3M462.5 830.1V835.5M463.5 803.5V808.7M463.5 822.0V823.7M464.5 804.6V805.4M464.5 822.4V826.6M465.5 808.5V811.3M465.5 827.3V830.9M466.5 804.5V808.4M466.5 822.6V827.6M467.5 807.6V807.9M467.5 824.9V829.6M468.5 808.6V808.9M468.5 827.8V831.4M469.5 806.9V810.2M469.5 825.9V830.5M470.5 805.1V808.9M470.5 823.4V826.4M471.5 805.8V808.1M471.5 827.1V832.4M472.5 804.2V806.3M472.5 822.6V828.5M473.5 800.6V807.9M473.5 828.7V832.7M474.5 805.8V809.8M474.5 822.9V823.4M475.5 798.9V803.8M475.5 821.9V824.9M476.5 802.5V805.6M476.5 822.6V824.2M477.5 804.1V807.9M477.5 827.3V831.3M478.5 804.2V809.7M478.5 823.3V824.3M479.5 802.7V807.9M479.5 825.0V827.3M480.5 800.6V804.0M480.5 826.4V826.7M481.5 810.3V813.6M481.5 828.4V833.2M482.5 806.7V809.7M482.5 824.4V827.7M483.5 806.0V809.8M483.5 828.6V832.4M484.5 808.2V812.0M484.5 828.5V829.7M485.5 806.9V812.0M485.5 827.5V828.4M486.5 810.3V810.6M486.5 832.3V833.7M487.5 809.4V813.3M487.5 830.8V831.1M488.5 809.4V813.9M488.5 828.2V831.7M489.5 807.4V809.0M489.5 827.3V829.0M490.5 806.5V809.2M490.5 826.5V830.3M491.5 810.9V811.2M491.5 826.0V829.1M492.5 806.0V809.0M492.5 828.8V831.5M493.5 810.0V815.0M493.5 827.4V830.0M494.5 810.3V811.2M494.5 828.0V829.1M495.5 811.4V815.1M495.5 832.9V834.4M496.5 812.6V816.8M496.5 830.8V834.3M497.5 807.1V811.0M497.5 828.0V831.5M498.5 809.3V814.0M498.5 830.6V835.5M499.5 815.2V816.5M499.5 830.8V832.8M500.5 808.0V813.0M500.5 830.2V835.5M501.5 809.0V813.5M501.5 829.8V833.4M502.5 812.2V813.2M502.5 830.2V830.6M503.5 811.2V811.5M503.5 821.6V824.7M504.5 806.8V811.2M504.5 827.2V829.7M505.5 806.1V808.7M505.5 828.3V831.3M506.5 809.9V812.1M506.5 825.6V827.7M507.5 807.0V811.8M507.5 827.7V830.5M508.5 801.6V804.3M508.5 824.9V828.9M509.5 798.8V801.2M509.5 822.0V822.4M510.5 791.9V794.7M510.5 813.1V818.8M511.5 797.7V803.5M511.5 819.9V823.9M512.5 789.9V795.6M512.5 818.4V823.5M513.5 789.3V794.5M513.5 820.4V827.3M514.5 793.4V800.4M514.5 817.4V819.5M515.5 797.9V800.8M515.5 820.6V826.5M516.5 798.0V800.0M516.5 820.4V825.4M517.5 793.2V795.6M517.5 823.7V825.4M518.5 798.2V802.8M518.5 823.5V825.9M519.5 791.1V799.1M519.5 815.8V820.3M520.5 793.7V798.9M520.5 821.7V827.4M521.5 804.1V804.8M521.5 823.9V824.3M522.5 804.6V807.6M522.5 826.8V829.9M523.5 808.3V810.5M523.5 820.6V820.9M524.5 810.8V812.5M524.5 825.7V831.0M525.5 811.5V811.8M525.5 825.7V827.0M526.5 803.9V804.7M526.5 824.4V830.3M527.5 807.0V807.8M527.5 819.6V822.7M528.5 804.0V805.6M528.5 824.1V828.3M529.5 807.6V812.3M529.5 825.2V826.9M530.5 803.9V808.0M530.5 824.3V826.4M531.5 807.0V809.1M531.5 824.4V827.3M532.5 802.7V808.3M532.5 823.9V828.7M533.5 804.3V807.4M533.5 826.6V830.5M534.5 807.1V808.9M534.5 819.5V819.8M535.5 803.7V807.2M535.5 823.3V828.4M536.5 808.0V810.3M536.5 824.2V829.6M537.5 805.2V809.3M537.5 822.9V824.1M538.5 805.0V809.9M538.5 820.8V823.2M539.5 805.4V809.3M539.5 824.0V826.8M540.5 810.6V812.9M540.5 827.8V834.6M541.5 806.8V809.7M541.5 825.8V828.2M542.5 806.3V809.3M542.5 823.6V823.9M543.5 806.2V806.5M543.5 829.7V832.9M544.5 807.9V810.2M544.5 826.8V830.1M545.5 809.9V812.3M545.5 823.9V827.2M546.5 801.8V806.7M546.5 827.4V832.7M547.5 808.5V809.9M547.5 825.3V828.8M548.5 805.4V807.0M548.5 824.4V827.8M549.5 811.7V813.8M549.5 828.2V832.2M550.5 806.7V812.1M550.5 826.3V830.3M551.5 811.1V812.8M551.5 825.7V826.0M552.5 806.4V811.5M552.5 823.3V827.6M553.5 805.7V810.8M553.5 823.7V828.6M554.5 803.1V808.0M554.5 822.6V823.7M555.5 806.7V809.4M555.5 827.6V829.8M556.5 804.5V808.2M556.5 825.4V829.1M557.5 808.5V811.0M557.5 826.5V830.0M558.5 812.0V812.3M558.5 824.0V824.3M559.5 810.2V814.7M559.5 832.7V834.5M560.5 810.0V812.6M560.5 822.8V826.9M561.5 810.5V813.3M561.5 828.2V829.2M562.5 806.9V811.7M562.5 824.4V825.2M563.5 808.0V811.8M563.5 828.6V832.5M564.5 809.2V810.8M564.5 825.5V830.7M565.5 802.7V806.5M565.5 824.0V827.4M566.5 806.1V808.5M566.5 828.1V833.0M567.5 805.9V809.7M567.5 824.8V825.1M568.5 806.3V808.4M568.5 820.3V823.5M569.5 799.2V803.8M569.5 825.1V829.7M570.5 806.4V810.8M570.5 823.6V825.1M571.5 797.6V802.7M571.5 823.7V826.0M572.5 807.0V810.0M572.5 823.6V827.9M573.5 807.4V811.7M573.5 823.6V824.0M574.5 802.2V805.2M574.5 822.8V826.6M575.5 807.0V807.3M575.5 823.4V827.3M576.5 806.4V807.9M576.5 821.5V824.8M577.5 806.2V810.2M577.5 822.8V823.5M578.5 802.8V805.3M578.5 825.1V829.5M579.5 805.8V808.8M579.5 824.1V826.7M580.5 805.8V809.8M580.5 826.6V827.6M581.5 806.2V809.6M581.5 824.7V828.1M582.5 805.1V808.6M582.5 822.8V824.2M583.5 807.0V811.0M583.5 823.4V827.6M584.5 807.3V810.2M584.5 825.4V829.4M585.5 801.3V803.7M585.5 823.6V827.0M586.5 807.3V809.5M586.5 822.9V827.7M587.5 807.4V809.6M587.5 825.4V831.8M588.5 804.3V809.0M588.5 825.8V827.0M589.5 808.2V810.4M589.5 827.7V831.5M590.5 806.9V809.7M590.5 826.0V829.0M591.5 812.4V813.8M591.5 827.1V832.1M592.5 804.1V809.9M592.5 827.0V828.0M593.5 805.5V806.7M593.5 824.0V827.1M594.5 806.5V809.2M594.5 828.0V829.1M595.5 800.6V805.8M595.5 824.0V824.3M596.5 812.0V814.3M596.5 826.4V829.6M597.5 815.1V815.7M597.5 827.9V830.0M598.5 808.0V811.3M598.5 825.6V825.9M599.5 808.7V811.8M599.5 827.6V828.5M600.5 809.3V811.0M600.5 823.0V826.9M601.5 810.2V811.9M601.5 828.0V832.6M602.5 813.2V815.9M602.5 826.2V826.9M603.5 808.5V810.3M603.5 827.9V831.3M604.5 809.3V813.3M604.5 827.5V829.6M605.5 805.1V808.6M605.5 827.4V829.6M606.5 804.6V807.0M606.5 824.5V828.7M607.5 805.5V810.0M607.5 822.1V824.7M608.5 811.2V815.1M608.5 822.9V827.6M609.5 809.3V810.1M609.5 823.0V823.3M610.5 811.6V813.0M610.5 829.4V831.2M611.5 806.4V808.1M611.5 823.9V827.2M612.5 813.4V816.6M612.5 826.5V829.8M613.5 806.9V810.7M613.5 822.7V826.3M614.5 805.4V808.0M614.5 825.0V828.5M615.5 804.6V811.0M615.5 831.6V834.3M616.5 802.5V807.5M616.5 824.6V829.5M617.5 804.9V808.0M617.5 822.6V827.1M618.5 808.8V811.7M618.5 824.2V826.4M619.5 804.3V808.7M619.5 820.5V825.3M620.5 802.5V806.7M620.5 823.1V824.8M621.5 802.8V805.8M621.5 823.6V826.5M622.5 809.7V811.0M622.5 827.4V832.4M623.5 810.2V812.9M623.5 829.1V834.7M624.5 806.9V811.6M624.5 829.6V834.6M625.5 807.5V811.0M625.5 823.7V827.6" stroke-opacity="0.65"/>
<path d="M72.5 797.0V812.8M73.5 793.3V814.7M74.5 789.6V809.6M75.5 792.8V809.2M76.5 791.8V811.5M77.5 793.7V812.8M78.5 798.5V813.3M79.5 802.1V818.5M80.5 803.1V820.4M81.5 801.8V820.1M82.5 797.7V818.4M83.5 802.3V817.7M84.5 803.0V821.5M85.5 808.6V819.1M86.5 805.3V821.3M87.5 810.4V824.1M88.5 812.1V825.5M89.5 811.9V822.8M90.5 811.7V825.8M91.5 807.9V829.5M92.5 809.6V825.9M93.5 807.5V823.0M94.5 808.1V820.8M95.5 807.3V824.1M96.5 806.9V820.3M97.5 803.3V823.2M98.5 811.6V825.9M99.5 809.4V827.7M100.5 810.8V827.2M101.5 811.3V825.5M102.5 810.8V822.5M103.5 809.3V821.7M104.5 809.7V825.8M105.5 811.9V822.1M106.5 810.7V827.4M107.5 814.0V827.0M108.5 805.9V822.5M109.5 810.1V823.2M110.5 807.3V824.6M111.5 806.9V824.5M112.5 804.6V823.5M113.5 806.0V821.7M114.5 811.7V824.0M115.5 810.7V826.0M116.5 812.5V830.8M117.5 807.3V826.9M118.5 804.3V820.7M119.5 810.5V823.8M120.5 806.7V825.3M121.5 811.5V827.2M122.5 811.5V829.4M123.5 808.7V831.1M124.5 806.0V827.0M125.5 810.4V826.8M126.5 807.6V822.9M127.5 806.8V825.6M128.5 810.1V823.1M129.5 805.2V821.8M130.5 810.1V823.2M131.5 808.1V825.3M132.5 814.3V831.0M133.5 810.4V822.3M134.5 806.4V825.7M135.5 813.6V828.5M136.5 813.3V827.5M137.5 809.9V825.3M138.5 810.4V823.3M139.5 810.0V826.5M140.5 809.1V822.9M141.5 807.8V824.9M142.5 806.5V825.9M143.5 809.5V827.3M144.5 809.8V829.2M145.5 808.3V825.6M146.5 809.9V824.8M147.5 808.0V821.2M148.5 807.1V821.6M149.5 805.4V825.0M150.5 810.2V825.6M151.5 809.5V821.3M152.5 810.9V826.2M153.5 811.6V825.9M154.5 809.0V824.9M155.5 808.7V818.0M156.5 804.4V823.0M157.5 803.3V822.8M158.5 809.1V822.5M159.5 807.8V824.7M160.5 808.6V824.4M161.5 810.6V822.5M162.5 806.4V825.6M163.5 811.0V823.8M164.5 805.8V823.3M165.5 806.0V825.0M166.5 807.3V821.9M167.5 809.3V826.9M168.5 815.0V827.2M169.5 814.0V827.7M170.5 809.1V828.7M171.5 811.6V830.1M172.5 813.3V828.5M173.5 813.3V825.6M174.5 813.6V827.5M175.5 810.8V828.0M176.5 810.3V826.2M177.5 808.7V822.1M178.5 811.2V823.6M179.5 809.9V829.9M180.5 817.3V830.2M181.5 814.0V826.5M182.5 808.3V825.7M183.5 810.3V827.0M184.5 811.0V830.3M185.5 815.6V830.0M186.5 811.0V829.5M187.5 809.5V825.5M188.5 808.9V829.8M189.5 815.1V828.9M190.5 811.8V828.7M191.5 811.5V823.9M192.5 810.3V823.9M193.5 796.3V809.4M194.5 797.5V815.4M195.5 795.7V815.3M196.5 801.4V816.6M197.5 798.6V815.1M198.5 796.5V813.3M199.5 798.5V818.9M200.5 788.8V814.3M201.5 802.3V816.6M202.5 796.4V813.1M203.5 798.3V818.5M204.5 806.6V820.6M205.5 805.7V822.0M206.5 807.0V823.3M207.5 811.2V821.2M208.5 807.1V824.5M209.5 811.6V825.7M210.5 812.1V827.1M211.5 808.5V825.7M212.5 813.5V827.6M213.5 813.2V830.6M214.5 812.0V828.9M215.5 807.5V823.7M216.5 803.9V822.5M217.5 812.8V826.2M218.5 813.6V825.7M219.5 810.5V827.5M220.5 810.7V823.6M221.5 809.8V823.9M222.5 812.9V828.5M223.5 814.1V826.9M224.5 813.3V831.9M225.5 813.4V827.4M226.5 811.6V828.0M227.5 812.6V823.8M228.5 807.6V823.1M229.5 812.5V826.5M230.5 811.0V826.9M231.5 811.8V825.8M232.5 811.4V822.9M233.5 808.4V825.8M234.5 811.2V824.5M235.5 811.8V822.2M236.5 816.4V826.9M237.5 813.7V828.3M238.5 816.9V826.0M239.5 816.0V829.3M240.5 815.9V826.5M241.5 809.5V826.1M242.5 808.7V827.4M243.5 811.9V826.1M244.5 811.1V829.1M245.5 816.0V827.7M246.5 815.1V830.2M247.5 812.0V830.8M248.5 810.4V827.5M249.5 812.2V828.6M250.5 814.7V827.8M251.5 811.1V827.3M252.5 811.2V828.7M253.5 815.5V831.0M254.5 810.7V827.3M255.5 810.1V830.0M256.5 814.7V827.1M257.5 809.1V830.3M258.5 812.1V827.4M259.5 813.2V827.4M260.5 809.3V828.2M261.5 813.4V828.3M262.5 801.5V817.9M263.5 781.7V806.0M264.5 798.0V815.5M265.5 789.4V814.6M266.5 791.3V811.5M267.5 789.8V805.0M268.5 786.7V816.3M269.5 797.9V817.5M270.5 794.5V809.5M271.5 790.3V814.4M272.5 791.0V818.0M273.5 794.3V815.2M274.5 799.1V815.0M275.5 796.9V808.4M276.5 800.0V811.1M277.5 805.1V820.7M278.5 806.1V822.1M279.5 811.7V824.2M280.5 808.2V823.8M281.5 809.6V822.6M282.5 808.3V823.5M283.5 809.2V823.5M284.5 810.5V825.6M285.5 809.0V825.1M286.5 806.8V825.7M287.5 806.0V821.0M288.5 808.6V825.5M289.5 803.2V823.0M290.5 807.6V821.7M291.5 808.4V821.7M292.5 809.0V824.6M293.5 812.4V829.4M294.5 810.6V825.5M295.5 808.7V824.9M296.5 810.0V825.7M297.5 808.7V824.4M298.5 808.7V827.3M299.5 810.9V825.1M300.5 809.1V827.1M301.5 811.3V825.1M302.5 811.2V823.7M303.5 812.6V823.1M304.5 812.0V823.9M305.5 808.5V823.5M306.5 808.7V823.1M307.5 809.3V828.6M308.5 811.8V822.9M309.5 812.7V828.9M310.5 814.0V823.8M311.5 810.1V824.3M312.5 810.7V822.8M313.5 807.7V826.7M314.5 812.1V827.1M315.5 810.9V827.1M316.5 803.9V816.2M317.5 801.0V820.8M318.5 801.7V817.0M319.5 799.8V813.9M320.5 795.9V815.5M321.5 792.3V812.7M322.5 797.0V812.2M323.5 802.5V818.7M324.5 802.4V823.9M325.5 805.5V821.7M326.5 810.9V822.0M327.5 808.0V825.2M328.5 805.5V823.3M329.5 809.9V822.3M330.5 811.3V821.2M331.5 808.4V823.5M332.5 808.0V825.9M333.5 810.2V828.8M334.5 808.1V820.5M335.5 808.6V829.6M336.5 805.7V823.3M337.5 813.5V825.6M338.5 811.4V825.1M339.5 813.0V824.2M340.5 809.9V828.7M341.5 812.2V826.5M342.5 811.6V826.4M343.5 810.1V824.9M344.5 812.5V825.7M345.5 810.6V830.0M346.5 814.8V825.9M347.5 807.6V822.8M348.5 813.7V825.3M349.5 815.9V830.9M350.5 812.0V831.7M351.5 812.3V828.8M352.5 809.9V829.8M353.5 811.6V826.6M354.5 812.7V826.3M355.5 813.5V829.8M356.5 814.8V827.9M357.5 811.5V826.0M358.5 811.0V824.8M359.5 811.2V827.9M360.5 809.3V827.2M361.5 810.8V824.4M362.5 812.3V824.2M363.5 808.4V824.8M364.5 809.6V825.8M365.5 808.7V825.7M366.5 811.0V826.2M367.5 807.7V824.1M368.5 810.1V827.3M369.5 808.8V827.2M370.5 810.0V825.8M371.5 811.6V824.9M372.5 809.3V824.9M373.5 810.4V820.3M374.5 803.4V820.3M375.5 803.8V823.5M376.5 806.7V824.4M377.5 808.3V825.1M378.5 808.8V827.6M379.5 810.9V824.0M380.5 812.5V830.0M381.5 814.6V832.3M382.5 815.9V828.1M383.5 817.0V823.9M384.5 809.3V826.2M385.5 807.8V828.5M386.5 806.9V825.2M387.5 804.6V827.4M388.5 810.5V824.3M389.5 811.2V824.9M390.5 811.6V827.5M391.5 810.1V825.1M392.5 811.0V825.4M393.5 811.0V827.5M394.5 811.7V828.5M395.5 805.3V825.4M396.5 809.1V826.7M397.5 813.1V827.5M398.5 815.5V829.6M399.5 816.0V829.1M400.5 814.5V828.1M401.5 811.0V826.0M402.5 812.5V829.5M403.5 813.1V831.7M404.5 810.8V829.7M405.5 811.1V827.3M406.5 810.3V823.6M407.5 812.3V826.2M408.5 809.8V823.2M409.5 810.1V828.9M410.5 811.0V828.4M411.5 813.0V823.6M412.5 811.0V828.1M413.5 813.7V831.9M414.5 812.3V827.3M415.5 814.5V828.7M416.5 812.0V829.3M417.5 810.6V830.5M418.5 811.3V826.9M419.5 813.5V829.9M420.5 815.9V828.5M421.5 814.6V827.1M422.5 812.5V825.4M423.5 813.6V826.6M424.5 816.0V829.1M425.5 813.3V827.9M426.5 813.2V828.3M427.5 816.5V829.7M428.5 814.9V827.5M429.5 812.9V826.8M430.5 812.7V829.9M431.5 810.5V827.1M432.5 812.0V829.6M433.5 810.7V827.0M434.5 808.3V830.3M435.5 812.4V830.5M436.5 816.3V833.2M437.5 817.3V829.4M438.5 814.2V830.2M439.5 813.3V824.0M440.5 814.9V826.9M441.5 812.6V827.2M442.5 815.4V828.2M443.5 807.7V829.4M444.5 817.7V831.1M445.5 811.1V829.3M446.5 813.5V829.6M447.5 812.8V829.5M448.5 813.4V829.7M449.5 812.3V829.0M450.5 812.7V826.5M451.5 813.9V832.7M452.5 814.3V831.4M453.5 814.7V831.2M454.5 815.5V828.2M455.5 815.5V828.2M456.5 811.7V829.8M457.5 814.3V831.4M458.5 811.6V824.5M459.5 808.5V822.3M460.5 806.3V828.4M461.5 810.5V827.3M462.5 807.3V830.1M463.5 808.7V822.0M464.5 805.4V822.4M465.5 811.3V827.3M466.5 808.4V822.6M467.5 807.9V824.9M468.5 808.9V827.8M469.5 810.2V825.9M470.5 808.9V823.4M471.5 808.1V827.1M472.5 806.3V822.6M473.5 807.9V828.7M474.5 809.8V822.9M475.5 803.8V821.9M476.5 805.6V822.6M477.5 807.9V827.3M478.5 809.7V823.3M479.5 807.9V825.0M480.5 804.0V826.4M481.5 813.6V828.4M482.5 809.7V824.4M483.5 809.8V828.6M484.5 812.0V828.5M485.5 812.0V827.5M486.5 810.6V832.3M487.5 813.3V830.8M488.5 813.9V828.2M489.5 809.0V827.3M490.5 809.2V826.5M491.5 811.2V826.0M492.5 809.0V828.8M493.5 815.0V827.4M494.5 811.2V828.0M495.5 815.1V832.9M496.5 816.8V830.8M497.5 811.0V828.0M498.5 814.0V830.6M499.5 816.5V830.8M500.5 813.0V830.2M501.5 813.5V829.8M502.5 813.2V830.2M503.5 811.5V821.6M504.5 811.2V827.2M505.5 808.7V828.3M506.5 812.1V825.6M507.5 811.8V827.7M508.5 804.3V824.9M509.5 801.2V822.0M510.5 794.7V813.1M511.5 803.5V819.9M512.5 795.6V818.4M513.5 794.5V820.4M514.5 800.4V817.4M515.5 800.8V820.6M516.5 800.0V820.4M517.5 795.6V823.7M518.5 802.8V823.5M519.5 799.1V815.8M520.5 798.9V821.7M521.5 804.8V823.9M522.5 807.6V826.8M523.5 810.5V820.6M524.5 812.5V825.7M525.5 811.8V825.7M526.5 804.7V824.4M527.5 807.8V819.6M528.5 805.6V824.1M529.5 812.3V825.2M530.5 808.0V824.3M531.5 809.1V824.4M532.5 808.3V823.9M533.5 807.4V826.6M534.5 808.9V819.5M535.5 807.2V823.3M536.5 810.3V824.2M537.5 809.3V822.9M538.5 809.9V820.8M539.5 809.3V824.0M540.5 812.9V827.8M541.5 809.7V825.8M542.5 809.3V823.6M543.5 806.5V829.7M544.5 810.2V826.8M545.5 812.3V823.9M546.5 806.7V827.4M547.5 809.9V825.3M548.5 807.0V824.4M549.5 813.8V828.2M550.5 812.1V826.3M551.5 812.8V825.7M552.5 811.5V823.3M553.5 810.8V823.7M554.5 808.0V822.6M555.5 809.4V827.6M556.5 808.2V825.4M557.5 811.0V826.5M558.5 812.3V824.0M559.5 814.7V832.7M560.5 812.6V822.8M561.5 813.3V828.2M562.5 811.7V824.4M563.5 811.8V828.6M564.5 810.8V825.5M565.5 806.5V824.0M566.5 808.5V828.1M567.5 809.7V824.8M568.5 808.4V820.3M569.5 803.8V825.1M570.5 810.8V823.6M571.5 802.7V823.7M572.5 810.0V823.6M573.5 811.7V823.6M574.5 805.2V822.8M575.5 807.3V823.4M576.5 807.9V821.5M577.5 810.2V822.8M578.5 805.3V825.1M579.5 808.8V824.1M580.5 809.8V826.6M581.5 809.6V824.7M582.5 808.6V822.8M583.5 811.0V823.4M584.5 810.2V825.4M585.5 803.7V823.6M586.5 809.5V822.9M587.5 809.6V825.4M588.5 809.0V825.8M589.5 810.4V827.7M590.5 809.7V826.0M591.5 813.8V827.1M592.5 809.9V827.0M593.5 806.7V824.0M594.5 809.2V828.0M595.5 805.8V824.0M596.5 814.3V826.4M597.5 815.7V827.9M598.5 811.3V825.6M599.5 811.8V827.6M600.5 811.0V823.0M601.5 811.9V828.0M602.5 815.9V826.2M603.5 810.3V827.9M604.5 813.3V827.5M605.5 808.6V827.4M606.5 807.0V824.5M607.5 810.0V822.1M608.5 815.1V822.9M609.5 810.1V823.0M610.5 813.0V829.4M611.5 808.1V823.9M612.5 816.6V826.5M613.5 810.7V822.7M614.5 808.0V825.0M615.5 811.0V831.6M616.5 807.5V824.6M617.5 808.0V822.6M618.5 811.7V824.2M619.5 808.7V820.5M620.5 806.7V823.1M621.5 805.8V823.6M622.5 811.0V827.4M623.5 812.9V829.1M624.5 811.6V829.6M625.5 811.0V823.7" stroke-opacity="1.0"/>
<path d="M197.5 779.0V799.9M195.0 784.0V798.5M265.0 772.0V794.4M268.0 776.0V792.4M271.0 790.0V794.5M319.0 787.0V797.2M321.0 792.0V794.3M370.5 789.0V809.9M390.5 790.0V809.8M442.5 721.0V814.0M462.5 775.0V810.3M466.5 790.0V807.2M470.5 738.0V807.1M476.5 773.0V806.6M481.5 787.0V810.4M511.5 789.0V802.5M515.5 790.0V803.1M521.5 792.0V806.5M569.5 795.0V805.9M120.5 797.0V807.0M96.5 798.0V807.2M342.5 771.0V810.7M370.5 789.0V809.9M400.5 797.0V811.9M560.5 798.0V809.3M600.5 797.0V809.6M443.5 760.0V812.4" stroke-opacity="0.45" stroke-width="0.9"/>
</g>
<defs><linearGradient id="cb" x1="0" y1="1" x2="0" y2="0"><stop offset="0.000" stop-color="#000080"/><stop offset="0.025" stop-color="#00009c"/><stop offset="0.050" stop-color="#0000b9"/><stop offset="0.075" stop-color="#0000d6"/><stop offset="0.100" stop-color="#0000f3"/><stop offset="0.125" stop-color="#0000ff"/><stop offset="0.150" stop-color="#0019ff"/><stop offset="0.175" stop-color="#0033ff"/><stop offset="0.200" stop-color="#004dff"/><stop offset="0.225" stop-color="#0066ff"/><stop offset="0.250" stop-color="#0080ff"/><stop offset="0.275" stop-color="#0099ff"/><stop offset="0.300" stop-color="#00b2ff"/><stop offset="0.325" stop-color="#00ccff"/><stop offset="0.350" stop-color="#00e5f7"/><stop offset="0.375" stop-color="#15ffe2"/><stop offset="0.400" stop-color="#29ffce"/><stop offset="0.425" stop-color="#3effb9"/><stop offset="0.450" stop-color="#52ffa5"/><stop offset="0.475" stop-color="#67ff90"/><stop offset="0.500" stop-color="#7bff7b"/><stop offset="0.525" stop-color="#90ff67"/><stop offset="0.550" stop-color="#a5ff52"/><stop offset="0.575" stop-color="#b9ff3e"/><stop offset="0.600" stop-color="#ceff29"/><stop offset="0.625" stop-color="#e2ff15"/><stop offset="0.650" stop-color="#f7f600"/><stop offset="0.675" stop-color="#ffde00"/><stop offset="0.700" stop-color="#ffc600"/><stop offset="0.725" stop-color="#ffaf00"/><stop offset="0.750" stop-color="#ff9700"/><stop offset="0.775" stop-color="#ff8000"/><stop offset="0.800" stop-color="#ff6800"/><stop offset="0.825" stop-color="#ff5000"/><stop offset="0.850" stop-color="#ff3900"/><stop offset="0.875" stop-color="#ff2100"/><stop offset="0.900" stop-color="#f30900"/><stop offset="0.925" stop-color="#d60000"/><stop offset="0.950" stop-color="#b90000"/><stop offset="0.975" stop-color="#9c0000"/><stop offset="1.000" stop-color="#800000"/></linearGradient></defs>
<rect x="641.0" y="194.0" width="15.0" height="459.0" fill="url(#cb)"/>
<rect x="641.5" y="194.5" width="14.0" height="458.0" fill="none" stroke="#000" stroke-width="0.8"/>
<line x1="655.5" y1="652.5" x2="659.0" y2="652.5" stroke="#000" stroke-width="0.8"/>
<text x="661.90" y="657.80" font-size="15.90" textLength="32.71" lengthAdjust="spacingAndGlyphs">0.00</text>
<line x1="655.5" y1="595.5" x2="659.0" y2="595.5" stroke="#000" stroke-width="0.8"/>
<text x="661.91" y="600.55" font-size="15.90" textLength="32.48" lengthAdjust="spacingAndGlyphs">0.25</text>
<line x1="655.5" y1="538.5" x2="659.0" y2="538.5" stroke="#000" stroke-width="0.8"/>
<text x="661.90" y="543.30" font-size="15.90" textLength="32.71" lengthAdjust="spacingAndGlyphs">0.50</text>
<line x1="655.5" y1="480.5" x2="659.0" y2="480.5" stroke="#000" stroke-width="0.8"/>
<text x="661.91" y="486.05" font-size="15.90" textLength="32.48" lengthAdjust="spacingAndGlyphs">0.75</text>
<line x1="655.5" y1="423.5" x2="659.0" y2="423.5" stroke="#000" stroke-width="0.8"/>
<text x="661.99" y="428.80" font-size="15.90" textLength="32.62" lengthAdjust="spacingAndGlyphs">1.00</text>
<line x1="655.5" y1="366.5" x2="659.0" y2="366.5" stroke="#000" stroke-width="0.8"/>
<text x="662.00" y="371.55" font-size="15.90" textLength="32.39" lengthAdjust="spacingAndGlyphs">1.25</text>
<line x1="655.5" y1="309.5" x2="659.0" y2="309.5" stroke="#000" stroke-width="0.8"/>
<text x="661.99" y="314.30" font-size="15.90" textLength="32.62" lengthAdjust="spacingAndGlyphs">1.50</text>
<line x1="655.5" y1="251.5" x2="659.0" y2="251.5" stroke="#000" stroke-width="0.8"/>
<text x="662.00" y="257.05" font-size="15.90" textLength="32.39" lengthAdjust="spacingAndGlyphs">1.75</text>
<line x1="655.5" y1="194.5" x2="659.0" y2="194.5" stroke="#000" stroke-width="0.8"/>
<text x="661.88" y="199.80" font-size="15.90" textLength="32.73" lengthAdjust="spacingAndGlyphs">2.00</text>
<rect x="72.5" y="45.5" width="554.0" height="140.0" fill="none" stroke="#000" stroke-width="0.8"/>
<rect x="72.5" y="205.5" width="554.0" height="490.0" fill="none" stroke="#000" stroke-width="0.8"/>
<rect x="72.5" y="715.5" width="554.0" height="140.0" fill="none" stroke="#000" stroke-width="0.8"/>
<line x1="68.5" y1="185.5" x2="72.5" y2="185.5" stroke="#000" stroke-width="0.8"/>
<text x="33.50" y="190.90" font-size="15.90" textLength="32.71" lengthAdjust="spacingAndGlyphs">0.00</text>
<line x1="68.5" y1="118.5" x2="72.5" y2="118.5" stroke="#000" stroke-width="0.8"/>
<text x="33.49" y="123.90" font-size="15.90" textLength="32.50" lengthAdjust="spacingAndGlyphs">2.05</text>
<line x1="68.5" y1="51.5" x2="72.5" y2="51.5" stroke="#000" stroke-width="0.8"/>
<text x="33.62" y="56.90" font-size="15.90" textLength="32.59" lengthAdjust="spacingAndGlyphs">4.10</text>
<line x1="68.5" y1="695.5" x2="72.5" y2="695.5" stroke="#000" stroke-width="0.8"/>
<text x="57.40" y="700.90" font-size="15.90" textLength="8.78" lengthAdjust="spacingAndGlyphs">0</text>
<line x1="68.5" y1="634.5" x2="72.5" y2="634.5" stroke="#000" stroke-width="0.8"/>
<text x="33.51" y="639.90" font-size="15.90" textLength="32.48" lengthAdjust="spacingAndGlyphs">0.25</text>
<line x1="68.5" y1="573.5" x2="72.5" y2="573.5" stroke="#000" stroke-width="0.8"/>
<text x="43.06" y="578.90" font-size="15.90" textLength="22.92" lengthAdjust="spacingAndGlyphs">0.5</text>
<line x1="68.5" y1="511.5" x2="72.5" y2="511.5" stroke="#000" stroke-width="0.8"/>
<text x="33.51" y="516.90" font-size="15.90" textLength="32.48" lengthAdjust="spacingAndGlyphs">0.75</text>
<line x1="68.5" y1="450.5" x2="72.5" y2="450.5" stroke="#000" stroke-width="0.8"/>
<text x="57.58" y="455.90" font-size="15.90" textLength="8.34" lengthAdjust="spacingAndGlyphs">1</text>
<line x1="68.5" y1="389.5" x2="72.5" y2="389.5" stroke="#000" stroke-width="0.8"/>
<text x="33.60" y="394.90" font-size="15.90" textLength="32.39" lengthAdjust="spacingAndGlyphs">1.25</text>
<line x1="68.5" y1="328.5" x2="72.5" y2="328.5" stroke="#000" stroke-width="0.8"/>
<text x="43.16" y="333.90" font-size="15.90" textLength="22.81" lengthAdjust="spacingAndGlyphs">1.5</text>
<line x1="68.5" y1="266.5" x2="72.5" y2="266.5" stroke="#000" stroke-width="0.8"/>
<text x="33.60" y="271.90" font-size="15.90" textLength="32.39" lengthAdjust="spacingAndGlyphs">1.75</text>
<line x1="68.5" y1="205.5" x2="72.5" y2="205.5" stroke="#000" stroke-width="0.8"/>
<text x="57.42" y="210.90" font-size="15.90" textLength="8.43" lengthAdjust="spacingAndGlyphs">2</text>
<line x1="68.5" y1="852.5" x2="72.5" y2="852.5" stroke="#000" stroke-width="0.8"/>
<text x="47.93" y="857.90" font-size="15.90" textLength="18.27" lengthAdjust="spacingAndGlyphs">10</text>
<line x1="68.5" y1="803.5" x2="72.5" y2="803.5" stroke="#000" stroke-width="0.8"/>
<text x="47.81" y="808.90" font-size="15.90" textLength="18.39" lengthAdjust="spacingAndGlyphs">20</text>
<line x1="68.5" y1="753.5" x2="72.5" y2="753.5" stroke="#000" stroke-width="0.8"/>
<text x="47.98" y="758.90" font-size="15.90" textLength="18.22" lengthAdjust="spacingAndGlyphs">30</text>
<line x1="72.5" y1="185.5" x2="72.5" y2="189.0" stroke="#000" stroke-width="0.8"/>
<line x1="72.5" y1="855.5" x2="72.5" y2="859.0" stroke="#000" stroke-width="0.8"/>
<text x="67.67" y="873.10" font-size="15.90" textLength="8.78" lengthAdjust="spacingAndGlyphs">0</text>
<line x1="164.5" y1="185.5" x2="164.5" y2="189.0" stroke="#000" stroke-width="0.8"/>
<line x1="164.5" y1="855.5" x2="164.5" y2="859.0" stroke="#000" stroke-width="0.8"/>
<text x="154.97" y="873.10" font-size="15.90" textLength="18.27" lengthAdjust="spacingAndGlyphs">10</text>
<line x1="256.5" y1="185.5" x2="256.5" y2="189.0" stroke="#000" stroke-width="0.8"/>
<line x1="256.5" y1="855.5" x2="256.5" y2="859.0" stroke="#000" stroke-width="0.8"/>
<text x="246.85" y="873.10" font-size="15.90" textLength="18.39" lengthAdjust="spacingAndGlyphs">20</text>
<line x1="349.5" y1="185.5" x2="349.5" y2="189.0" stroke="#000" stroke-width="0.8"/>
<line x1="349.5" y1="855.5" x2="349.5" y2="859.0" stroke="#000" stroke-width="0.8"/>
<text x="340.03" y="873.10" font-size="15.90" textLength="18.22" lengthAdjust="spacingAndGlyphs">30</text>
<line x1="441.5" y1="185.5" x2="441.5" y2="189.0" stroke="#000" stroke-width="0.8"/>
<line x1="441.5" y1="855.5" x2="441.5" y2="859.0" stroke="#000" stroke-width="0.8"/>
<text x="431.98" y="873.10" font-size="15.90" textLength="18.27" lengthAdjust="spacingAndGlyphs">40</text>
<line x1="533.5" y1="185.5" x2="533.5" y2="189.0" stroke="#000" stroke-width="0.8"/>
<line x1="533.5" y1="855.5" x2="533.5" y2="859.0" stroke="#000" stroke-width="0.8"/>
<text x="524.03" y="873.10" font-size="15.90" textLength="18.22" lengthAdjust="spacingAndGlyphs">50</text>
<line x1="626.5" y1="185.5" x2="626.5" y2="189.0" stroke="#000" stroke-width="0.8"/>
<line x1="626.5" y1="855.5" x2="626.5" y2="859.0" stroke="#000" stroke-width="0.8"/>
<text x="616.78" y="873.10" font-size="15.90" textLength="18.48" lengthAdjust="spacingAndGlyphs">60</text>
<text transform="translate(26.00,115.50) rotate(-90)" x="-40.39" y="0" font-size="15.90" textLength="81.21" lengthAdjust="spacingAndGlyphs">Wind [m/s]</text>
<text transform="translate(26.00,450.00) rotate(-90)" x="-67.18" y="0" font-size="15.90" textLength="134.45" lengthAdjust="spacingAndGlyphs">FFT Frequenz [Hz]</text>
<text transform="translate(39.20,785.50) rotate(-90)" x="-31.35" y="0" font-size="15.90" textLength="62.90" lengthAdjust="spacingAndGlyphs">SPL [dB]</text>
<text x="309.78" y="890.30" font-size="15.90" textLength="78.64" lengthAdjust="spacingAndGlyphs">time [min]</text>
</svg></body></html>
